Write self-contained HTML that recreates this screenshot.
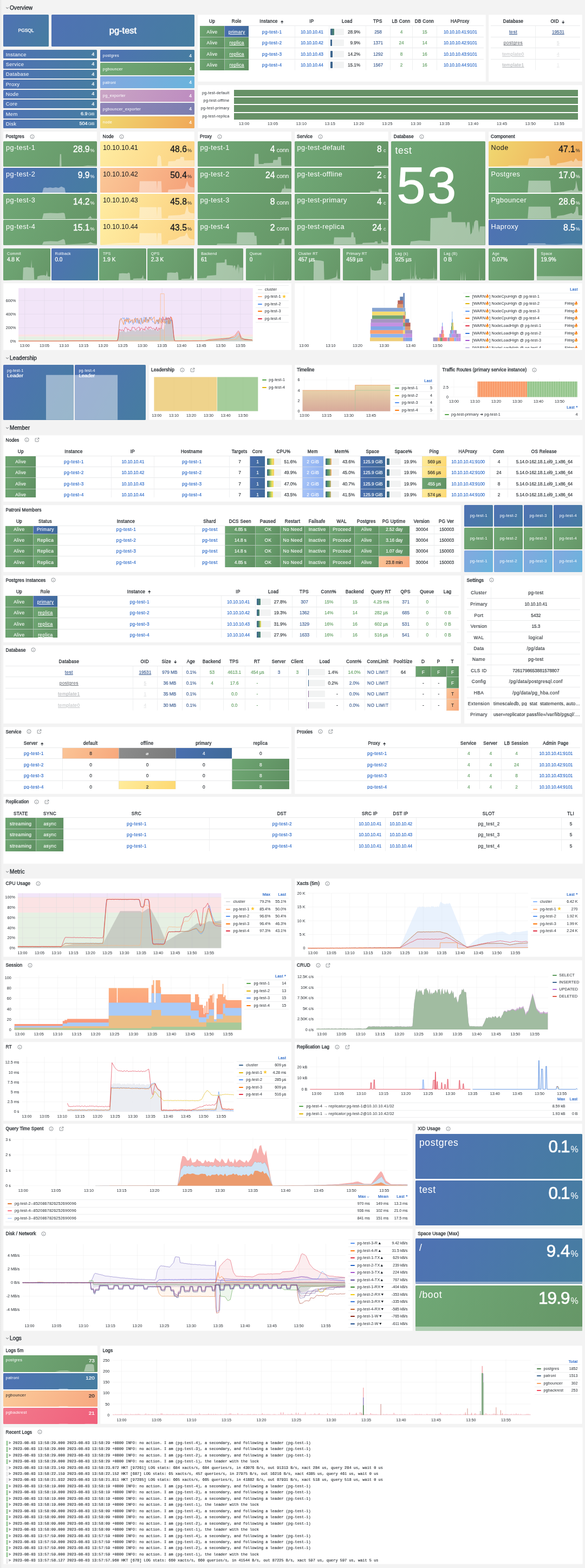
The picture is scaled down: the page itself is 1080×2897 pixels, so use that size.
<!DOCTYPE html>
<html lang="en"><head><meta charset="utf-8"><title>PGSQL Cluster - pg-test</title>
<style>
*{box-sizing:border-box}
html,body{margin:0;padding:0}
body{width:1080px;height:2897px;position:relative;overflow:hidden;background:linear-gradient(90deg,#e8e8e8 0,#f3f3f3 4px);font-family:"Liberation Sans","DejaVu Sans",sans-serif;font-size:8.2px;color:#24292e;line-height:1;letter-spacing:.3px}
.a{position:absolute}
.p{position:absolute;background:#fff;border:1px solid #fcfcfc;border-radius:1px}
.pt{position:absolute;left:3.5px;top:0;height:16.2px;line-height:16.2px;font-size:8.4px;letter-spacing:.15px;font-weight:normal;-webkit-text-stroke:.3px #24292e;color:#24292e;white-space:nowrap;}
.pt svg{vertical-align:-1.5px;margin-left:9.8px}
.rt{position:absolute;left:9.6px;font-size:10.1px;letter-spacing:0;font-weight:normal;-webkit-text-stroke:.3px #24292e;color:#24292e;white-space:nowrap;}
.rt svg{margin-right:1.4px;vertical-align:0}
.t{position:absolute;border-radius:1.5px;overflow:hidden;color:#fff;letter-spacing:0}
.t .n{position:absolute;white-space:nowrap;letter-spacing:.037em}
.t .v{position:absolute;white-space:nowrap;text-align:right;font-weight:normal;-webkit-text-stroke:.022em currentColor;letter-spacing:0}
.t svg{position:absolute;left:0;bottom:0}
.dk{color:#181b1f}
.bl{background:linear-gradient(120deg,#4f72b4,#467da0)}
.gr{background:linear-gradient(120deg,#70a876,#669667)}
.lb{background:linear-gradient(120deg,#84a8e0,#69b4dc)}
.pk{background:linear-gradient(120deg,#c9a4c4,#bd8cc0)}
.pu{background:linear-gradient(120deg,#9086b8,#7c7eb0)}
.ye{background:linear-gradient(120deg,#f0d870,#f0a858)}
.ly{background:linear-gradient(120deg,#ffeda2,#fbd080)}
.lo{background:linear-gradient(120deg,#fbc898,#f5a078)}
.rd{background:linear-gradient(120deg,#f27a8c,#f0607c)}
.po{background:linear-gradient(120deg,#fbcb9a,#f7a880)}
table{border-collapse:separate;border-spacing:0;table-layout:fixed;position:absolute}
th{border-bottom:1px solid #e9eaeb;font-weight:normal;-webkit-text-stroke:.28px #24292e;font-size:8.2px;height:18px;padding:1.6px 0 0;text-align:center;white-space:nowrap;overflow:hidden;color:#24292e;}
td{-webkit-text-stroke:.1px currentColor;letter-spacing:.4px;height:20.5px;padding:2px 0 0;text-align:center;white-space:nowrap;overflow:hidden;border-bottom:1px solid rgba(220,222,224,.65);border-left:1px solid rgba(225,227,229,.55);font-size:8.4px;}
td:first-child{border-left:none}
tr:last-child td{border-bottom-color:transparent}
td.g{background:linear-gradient(120deg,#6fa673,#5f9062);color:#fff}
td.b{background:linear-gradient(120deg,#4a6fb0,#3f6a98);color:#fff}
td.o{background:linear-gradient(120deg,#fbc496,#f7a87c);color:#181b1f}
td.y{background:linear-gradient(120deg,#ffec9c,#fdd870);color:#181b1f}
td.k{background:linear-gradient(120deg,#8c8c8c,#7a7a7a);color:#fff}
td.l{background:linear-gradient(120deg,#a8c4f8,#8cb0f0);color:#fff}
.lk{color:#1f60c4}
td.nm{letter-spacing:-.12px}
.lg.nv{letter-spacing:-.1px}
.ip{letter-spacing:-.22px}
.db{color:#33558b}
.gn{color:#5a9a5a}
.u{text-decoration:underline}
.ax{letter-spacing:0;font-size:7.2px;fill:#24292e;font-family:"Liberation Sans",sans-serif}
.lg{letter-spacing:.16px;position:absolute;font-size:7.2px;white-space:nowrap;color:#24292e}
.lg i{position:absolute;left:0;top:50%;width:8px;height:2px;margin-top:-1px;border-radius:1px}
.lgh{position:absolute;font-size:7.2px;color:#1f60c4;white-space:nowrap;text-align:right;font-weight:normal;-webkit-text-stroke:.2px #1f60c4}
.log{letter-spacing:0;position:absolute;left:12px;font-family:"Liberation Mono",monospace;font-size:6.94px;-webkit-text-stroke:.12px #24292e;white-space:pre;color:#24292e;height:11.4px;line-height:11.4px}
.log i{position:absolute;left:0;top:1px;bottom:1px;width:1.6px}
</style></head>
<body>
<div class="rt" style="top:9.6px"><svg width="7" height="7" viewBox="0 0 24 24" fill="none" stroke="#3a3f45" stroke-width="3"><path d="M4 9l8 7 8-7"/></svg>Overview</div>
<div class="t bl" style="left:6px;top:27px;width:84px;height:59px"><div class="a" style="left:0;right:0;top:25px;text-align:center;font-size:8.4px;-webkit-text-stroke:.25px #fff;">PGSQL</div></div>
<div class="t bl" style="left:95px;top:27px;width:264px;height:59px"><div class="a" style="left:0;right:0;top:20.5px;text-align:center;font-size:16.5px;-webkit-text-stroke:.5px #fff;">pg-test</div></div>
<div class="t bl" style="left:6px;top:92.3px;width:173.3px;height:16.2px">
<div class="n" style="left:4.7px;top:3.3px;font-size:9.4px">Instance</div>
<div class="v" style="right:5px;top:3.6px;font-size:9px">4</div>
</div>
<div class="t bl" style="left:6px;top:110.67px;width:173.3px;height:16.2px">
<div class="n" style="left:4.7px;top:3.3px;font-size:9.4px">Service</div>
<div class="v" style="right:5px;top:3.6px;font-size:9px">4</div>
</div>
<div class="t bl" style="left:6px;top:129.04px;width:173.3px;height:16.2px">
<div class="n" style="left:4.7px;top:3.3px;font-size:9.4px">Database</div>
<div class="v" style="right:5px;top:3.6px;font-size:9px">4</div>
</div>
<div class="t bl" style="left:6px;top:147.41px;width:173.3px;height:16.2px">
<div class="n" style="left:4.7px;top:3.3px;font-size:9.4px">Proxy</div>
<div class="v" style="right:5px;top:3.6px;font-size:9px">4</div>
</div>
<div class="t bl" style="left:6px;top:165.78px;width:173.3px;height:16.2px">
<div class="n" style="left:4.7px;top:3.3px;font-size:9.4px">Node</div>
<div class="v" style="right:5px;top:3.6px;font-size:9px">4</div>
</div>
<div class="t bl" style="left:6px;top:184.15px;width:173.3px;height:16.2px">
<div class="n" style="left:4.7px;top:3.3px;font-size:9.4px">Core</div>
<div class="v" style="right:5px;top:3.6px;font-size:9px">4</div>
</div>
<div class="t bl" style="left:6px;top:202.52px;width:173.3px;height:16.2px">
<div class="n" style="left:4.7px;top:3.3px;font-size:9.4px">Mem</div>
<div class="v" style="right:5px;top:3.6px;font-size:9px">6.9<span style="font-size:7px;-webkit-text-stroke:0;margin-left:1px">GiB</span></div>
</div>
<div class="t bl" style="left:6px;top:220.89px;width:173.3px;height:16.2px">
<div class="n" style="left:4.7px;top:3.3px;font-size:9.4px">Disk</div>
<div class="v" style="right:5px;top:3.6px;font-size:9px">504<span style="font-size:7px;-webkit-text-stroke:0;margin-left:1px">GiB</span></div>
</div>
<div class="t bl" style="left:185px;top:91.9px;width:174px;height:22.4px">
<div class="n" style="left:4.8px;top:7.6px;font-size:7.3px">postgres</div>
<div class="v" style="right:5px;top:7px;font-size:8.4px">4</div>
</div>
<div class="t gr" style="left:185px;top:116.45px;width:174px;height:22.4px">
<div class="n" style="left:4.8px;top:7.6px;font-size:7.3px">pgbouncer</div>
<div class="v" style="right:5px;top:7px;font-size:8.4px">4</div>
</div>
<div class="t lb" style="left:185px;top:141px;width:174px;height:22.4px">
<div class="n" style="left:4.8px;top:7.6px;font-size:7.3px">patroni</div>
<div class="v" style="right:5px;top:7px;font-size:8.4px">4</div>
</div>
<div class="t pk" style="left:185px;top:165.55px;width:174px;height:22.4px">
<div class="n" style="left:4.8px;top:7.6px;font-size:7.3px">pg_exporter</div>
<div class="v" style="right:5px;top:7px;font-size:8.4px">4</div>
</div>
<div class="t pu" style="left:185px;top:190.1px;width:174px;height:22.4px">
<div class="n" style="left:4.8px;top:7.6px;font-size:7.3px">pgbouncer_exporter</div>
<div class="v" style="right:5px;top:7px;font-size:8.4px">4</div>
</div>
<div class="t ye" style="left:185px;top:214.65px;width:174px;height:22.4px">
<div class="n" style="left:4.8px;top:7.6px;font-size:7.3px">node</div>
<div class="v" style="right:5px;top:7px;font-size:8.4px">4</div>
</div>
<div class="p" style="left:364.5px;top:27px;width:532.5px;height:124.3px">
<div class="a" style="left:0;top:0">
<table style="left:3.5px;top:3.75px;width:523.5px"><colgroup><col style="width:45px"><col style="width:45.4px"><col style="width:84.6px"><col style="width:62.7px"><col style="width:68.3px"><col style="width:45px"><col style="width:41px"><col style="width:45px"><col style="width:86.5px"></colgroup>
<tr><th style="height:16.5px">Up</th><th style="height:16.5px">Role</th><th style="height:16.5px"><span style="padding-right:11.4px">Instance<svg width="7.4" height="7.4" viewBox="0 0 24 24" style="position:absolute;margin-left:4px;margin-top:.7px" fill="none" stroke="#2c3137" stroke-width="3.6"><path d="M12 21V6M5 12.500l7-7.500 7 7.500"/></svg></span></th><th style="height:16.5px">IP</th><th style="height:16.5px">Load</th><th style="height:16.5px">TPS</th><th style="height:16.5px">LB Conn</th><th style="height:16.5px">DB Conn</th><th style="height:16.5px">HAProxy</th></tr>
<tr><td class="g" style="height:20.5px;">Alive</td><td class="b" style="height:20.5px;"><span class="u">primary</span></td><td style="height:20.5px"><span class="lk">pg-test-1</span></td><td class="nm" style="height:20.5px"><span class="lk ip">10.10.10.41</span></td><td class="nm" style="height:20.5px"><div style="position:relative;top:-.2px;height:12px;text-align:right;line-height:12px;padding-right:9.8px"><span style="position:absolute;left:2.6px;top:0;width:24.3px;height:12px;background:#f2f3f3;border-radius:1px"></span><span style="position:absolute;left:2.6px;top:0;width:7.02px;height:12px;background:linear-gradient(90deg,#3e668f,#4f8a6f);border-radius:1px"></span>28.9%</div></td><td class="nm" style="height:20.5px"><span class="db">258</span></td><td class="nm" style="height:20.5px"><span class="gn">4</span></td><td class="nm" style="height:20.5px"><span class="gn">15</span></td><td class="nm" style="height:20.5px"><span class="lk ip">10.10.10.41:9101</span></td></tr>
<tr><td class="g" style="height:20.5px;">Alive</td><td class="g" style="height:20.5px;"><span class="u">replica</span></td><td style="height:20.5px"><span class="lk">pg-test-2</span></td><td class="nm" style="height:20.5px"><span class="lk ip">10.10.10.42</span></td><td class="nm" style="height:20.5px"><div style="position:relative;top:-.2px;height:12px;text-align:right;line-height:12px;padding-right:9.8px"><span style="position:absolute;left:2.6px;top:0;width:24.3px;height:12px;background:#f2f3f3;border-radius:1px"></span><span style="position:absolute;left:2.6px;top:0;width:2.41px;height:12px;background:#3e668f;border-radius:1px"></span>9.9%</div></td><td class="nm" style="height:20.5px"><span class="db">1371</span></td><td class="nm" style="height:20.5px"><span class="gn">24</span></td><td class="nm" style="height:20.5px"><span class="gn">14</span></td><td class="nm" style="height:20.5px"><span class="lk ip">10.10.10.42:9101</span></td></tr>
<tr><td class="g" style="height:20.5px;">Alive</td><td class="g" style="height:20.5px;"><span class="u">replica</span></td><td style="height:20.5px"><span class="lk">pg-test-3</span></td><td class="nm" style="height:20.5px"><span class="lk ip">10.10.10.43</span></td><td class="nm" style="height:20.5px"><div style="position:relative;top:-.2px;height:12px;text-align:right;line-height:12px;padding-right:9.8px"><span style="position:absolute;left:2.6px;top:0;width:24.3px;height:12px;background:#f2f3f3;border-radius:1px"></span><span style="position:absolute;left:2.6px;top:0;width:3.45px;height:12px;background:#3e668f;border-radius:1px"></span>14.2%</div></td><td class="nm" style="height:20.5px"><span class="db">1292</span></td><td class="nm" style="height:20.5px"><span class="gn">8</span></td><td class="nm" style="height:20.5px"><span class="gn">16</span></td><td class="nm" style="height:20.5px"><span class="lk ip">10.10.10.43:9101</span></td></tr>
<tr><td class="g" style="height:20.5px;">Alive</td><td class="g" style="height:20.5px;"><span class="u">replica</span></td><td style="height:20.5px"><span class="lk">pg-test-4</span></td><td class="nm" style="height:20.5px"><span class="lk ip">10.10.10.44</span></td><td class="nm" style="height:20.5px"><div style="position:relative;top:-.2px;height:12px;text-align:right;line-height:12px;padding-right:9.8px"><span style="position:absolute;left:2.6px;top:0;width:24.3px;height:12px;background:#f2f3f3;border-radius:1px"></span><span style="position:absolute;left:2.6px;top:0;width:3.67px;height:12px;background:#3e668f;border-radius:1px"></span>15.1%</div></td><td class="nm" style="height:20.5px"><span class="db">1567</span></td><td class="nm" style="height:20.5px"><span class="gn">2</span></td><td class="nm" style="height:20.5px"><span class="gn">16</span></td><td class="nm" style="height:20.5px"><span class="lk ip">10.10.10.44:9101</span></td></tr>
</table>
</div>
</div>
<div class="p" style="left:901.5px;top:27px;width:173.5px;height:124.3px">
<table style="left:3.9px;top:3.75px;width:164.9px"><colgroup><col style="width:82.1px"><col style="width:82.8px"></colgroup>
<tr><th style="height:16.5px">Database</th><th style="height:16.5px"><span style="padding-right:11.4px">OID<svg width="7.4" height="7.4" viewBox="0 0 24 24" style="position:absolute;margin-left:4px;margin-top:.7px" fill="none" stroke="#2c3137" stroke-width="3.6"><path d="M12 3v15M5 11.500l7 7.500 7-7.500"/></svg></span></th></tr>
<tr><td style="height:20.5px"><span class="db u">test</span></td><td class="nm" style="height:20.5px"><span class="db u">19531</span></td></tr>
<tr><td style="height:20.5px"><span class="u" style="color:#6e7278">postgres</span></td><td class="nm" style="height:20.5px"><span class="u" style="color:#dfe0e1">5</span></td></tr>
<tr><td style="height:20.5px"><span class="u" style="color:#c4c6c8">template0</span></td><td class="nm" style="height:20.5px"><span class="u" style="color:#e4e5e6">4</span></td></tr>
<tr><td style="height:20.5px"><span class="u" style="color:#b0b3b6">template1</span></td><td class="nm" style="height:20.5px"><span class="u" style="color:#e8e9ea">1</span></td></tr>
</table>
</div>
<div class="p" style="left:364.5px;top:156.5px;width:710.5px;height:80.5px">
<div class="a" style="left:0;width:58px;top:8.3px;height:12.4px;line-height:12.4px;text-align:right;font-size:7.2px">pg-test-default</div>
<div class="a" style="left:66.5px;width:634.5px;top:8.3px;height:12.4px;background:#669166"></div>
<div class="a" style="left:0;width:58px;top:22.55px;height:12.4px;line-height:12.4px;text-align:right;font-size:7.2px">pg-test-offline</div>
<div class="a" style="left:66.5px;width:634.5px;top:22.55px;height:12.4px;background:#669166"></div>
<div class="a" style="left:0;width:58px;top:36.8px;height:12.4px;line-height:12.4px;text-align:right;font-size:7.2px">pg-test-primary</div>
<div class="a" style="left:66.5px;width:634.5px;top:36.8px;height:12.4px;background:#669166"></div>
<div class="a" style="left:0;width:58px;top:51.05px;height:12.4px;line-height:12.4px;text-align:right;font-size:7.2px">pg-test-replica</div>
<div class="a" style="left:66.5px;width:634.5px;top:51.05px;height:12.4px;background:#669166"></div>
<div class="a" style="left:65.25px;width:40px;top:67.5px;text-align:center;font-size:7.2px">13:00</div>
<div class="a" style="left:118.13px;width:40px;top:67.5px;text-align:center;font-size:7.2px">13:05</div>
<div class="a" style="left:171.01px;width:40px;top:67.5px;text-align:center;font-size:7.2px">13:10</div>
<div class="a" style="left:223.89px;width:40px;top:67.5px;text-align:center;font-size:7.2px">13:15</div>
<div class="a" style="left:276.77px;width:40px;top:67.5px;text-align:center;font-size:7.2px">13:20</div>
<div class="a" style="left:329.65px;width:40px;top:67.5px;text-align:center;font-size:7.2px">13:25</div>
<div class="a" style="left:382.53px;width:40px;top:67.5px;text-align:center;font-size:7.2px">13:30</div>
<div class="a" style="left:435.41px;width:40px;top:67.5px;text-align:center;font-size:7.2px">13:35</div>
<div class="a" style="left:488.29px;width:40px;top:67.5px;text-align:center;font-size:7.2px">13:40</div>
<div class="a" style="left:541.17px;width:40px;top:67.5px;text-align:center;font-size:7.2px">13:45</div>
<div class="a" style="left:594.05px;width:40px;top:67.5px;text-align:center;font-size:7.2px">13:50</div>
<div class="a" style="left:646.93px;width:40px;top:67.5px;text-align:center;font-size:7.2px">13:55</div>
</div>
<div class="p" style="left:6px;top:243px;width:173.1px;height:210px">
<div class="pt">Postgres<svg width="9" height="9" viewBox="0 0 24 24" fill="none" stroke="#5a5f66" stroke-width="1.8"><circle cx="12" cy="12" r="9.5"/><path d="M12 11v6M12 7v1.2"/></svg></div>
<div class="t gr" style="left:-1px;top:17.2px;width:173.1px;height:46.6px">
<svg width="173.1" height="46.6" viewBox="0 0 173.1 46.6"><path d="M0 46.6L0 46.6L103.86 46.6L104.73 23.77L106.98 23.77L107.67 46.6L147.13 46.13L155.79 44.74L173.1 45.2L173.1 46.6Z" fill="#fff" fill-opacity="0.42"/></svg>
<div class="n" style="left:5px;top:6.2px;font-size:12.7px">pg-test-1</div>
<div class="v" style="right:4.6px;top:6.9px;font-size:15.7px">28.9<span style="font-size:9px;-webkit-text-stroke:0;margin-left:1px">%</span></div>
</div>
<div class="t bl" style="left:-1px;top:65.6px;width:173.1px;height:46.6px">
<svg width="173.1" height="46.6" viewBox="0 0 173.1 46.6"><path d="M0 46.6L0 46.6L71.84 46.6L74.43 37.28L77.89 36.35L81.36 37.28L86.55 36.35L91.74 37.28L96.94 35.88L102.13 37.28L107.32 34.48L110.78 36.35L113.38 37.28L115.11 46.6L124.63 46.13L155.79 46.13L161.85 43.8L164.44 46.13L173.1 46.13L173.1 46.6Z" fill="#fff" fill-opacity="0.42"/></svg>
<div class="n" style="left:5px;top:6.2px;font-size:12.7px">pg-test-2</div>
<div class="v" style="right:4.6px;top:6.9px;font-size:15.7px">9.9<span style="font-size:9px;-webkit-text-stroke:0;margin-left:1px">%</span></div>
</div>
<div class="t gr" style="left:-1px;top:114px;width:173.1px;height:46.6px">
<svg width="173.1" height="46.6" viewBox="0 0 173.1 46.6"><path d="M0 46.6L0 46.6L71.84 46.6L74.43 36.35L86.55 35.42L100.4 35.88L110.78 34.95L113.38 36.35L115.11 46.6L124.63 46.13L155.79 45.67L160.98 41.01L163.58 45.2L173.1 45.67L173.1 46.6Z" fill="#fff" fill-opacity="0.42"/></svg>
<div class="n" style="left:5px;top:6.2px;font-size:12.7px">pg-test-3</div>
<div class="v" style="right:4.6px;top:6.9px;font-size:15.7px">14.2<span style="font-size:9px;-webkit-text-stroke:0;margin-left:1px">%</span></div>
</div>
<div class="t gr" style="left:-1px;top:162.4px;width:173.1px;height:46.6px">
<svg width="173.1" height="46.6" viewBox="0 0 173.1 46.6"><path d="M0 46.6L0 46.6L34.62 46.13L71.84 46.13L74.43 40.54L86.55 39.61L100.4 40.08L107.32 37.28L110.78 35.42L113.38 37.28L115.11 45.67L124.63 45.2L147.13 44.27L155.79 43.8L160.98 41.01L166.18 43.8L173.1 44.74L173.1 46.6Z" fill="#fff" fill-opacity="0.42"/></svg>
<div class="n" style="left:5px;top:6.2px;font-size:12.7px">pg-test-4</div>
<div class="v" style="right:4.6px;top:6.9px;font-size:15.7px">15.1<span style="font-size:9px;-webkit-text-stroke:0;margin-left:1px">%</span></div>
</div>
</div>
<div class="p" style="left:185px;top:243px;width:173.5px;height:210px">
<div class="pt">Node<svg width="9" height="9" viewBox="0 0 24 24" fill="none" stroke="#5a5f66" stroke-width="1.8"><circle cx="12" cy="12" r="9.5"/><path d="M12 11v6M12 7v1.2"/></svg></div>
<div class="t ly dk" style="left:-1px;top:17.2px;width:173.5px;height:46.6px">
<svg width="173.5" height="46.6" viewBox="0 0 173.5 46.6"><path d="M0 46.6L0 46.13L104.97 46.13L105.83 28.89L108.44 25.16L111.91 27.96L113.64 45.67L124.92 45.2L125.79 37.28L138.8 36.35L140.53 33.55L147.47 32.62L148.34 28.89L154.41 28.89L155.28 35.42L173.5 34.95L173.5 46.6Z" fill="#fff" fill-opacity="0.42"/></svg>
<div class="n" style="left:5px;top:6.2px;font-size:12.7px"><span style="letter-spacing:-.01em;font-size:12.5px">10.10.10.41</span></div>
<div class="v" style="right:4.6px;top:6.9px;font-size:15.7px">48.6<span style="font-size:9px;-webkit-text-stroke:0;margin-left:1px">%</span></div>
</div>
<div class="t lo dk" style="left:-1px;top:65.6px;width:173.5px;height:46.6px">
<svg width="173.5" height="46.6" viewBox="0 0 173.5 46.6"><path d="M0 46.6L0 46.6L38.17 45.2L72 44.74L72.87 24.7L104.1 24.7L104.97 41.94L105.83 24.7L112.78 24.7L113.64 45.2L124.92 45.2L125.79 40.54L147.47 39.14L156.15 38.21L160.49 24.23L163.09 32.62L166.56 35.42L173.5 36.35L173.5 46.6Z" fill="#fff" fill-opacity="0.42"/></svg>
<div class="n" style="left:5px;top:6.2px;font-size:12.7px"><span style="letter-spacing:-.01em;font-size:12.5px">10.10.10.42</span></div>
<div class="v" style="right:4.6px;top:6.9px;font-size:15.7px">50.4<span style="font-size:9px;-webkit-text-stroke:0;margin-left:1px">%</span></div>
</div>
<div class="t ly dk" style="left:-1px;top:114px;width:173.5px;height:46.6px">
<svg width="173.5" height="46.6" viewBox="0 0 173.5 46.6"><path d="M0 46.6L0 46.6L38.17 45.2L72 44.74L72.87 24.7L104.1 24.7L104.97 41.94L105.83 24.7L112.78 24.7L113.64 45.2L124.92 45.2L125.79 40.54L147.47 39.14L156.15 37.28L160.49 20.97L163.09 32.62L166.56 35.42L173.5 36.35L173.5 46.6Z" fill="#fff" fill-opacity="0.42"/></svg>
<div class="n" style="left:5px;top:6.2px;font-size:12.7px"><span style="letter-spacing:-.01em;font-size:12.5px">10.10.10.43</span></div>
<div class="v" style="right:4.6px;top:6.9px;font-size:15.7px">45.8<span style="font-size:9px;-webkit-text-stroke:0;margin-left:1px">%</span></div>
</div>
<div class="t ly dk" style="left:-1px;top:162.4px;width:173.5px;height:46.6px">
<svg width="173.5" height="46.6" viewBox="0 0 173.5 46.6"><path d="M0 46.6L0 46.6L38.17 42.87L72 42.41L72.87 24.7L104.1 24.7L104.97 41.94L105.83 24.7L112.78 24.7L113.64 45.2L124.92 44.27L125.79 38.21L138.8 36.35L147.47 31.22L156.15 29.82L159.62 23.3L163.09 32.62L166.56 35.42L173.5 36.35L173.5 46.6Z" fill="#fff" fill-opacity="0.42"/></svg>
<div class="n" style="left:5px;top:6.2px;font-size:12.7px"><span style="letter-spacing:-.01em;font-size:12.5px">10.10.10.44</span></div>
<div class="v" style="right:4.6px;top:6.9px;font-size:15.7px">43.5<span style="font-size:9px;-webkit-text-stroke:0;margin-left:1px">%</span></div>
</div>
</div>
<div class="p" style="left:364.5px;top:243px;width:173.5px;height:210px">
<div class="pt">Proxy<svg width="9" height="9" viewBox="0 0 24 24" fill="none" stroke="#5a5f66" stroke-width="1.8"><circle cx="12" cy="12" r="9.5"/><path d="M12 11v6M12 7v1.2"/></svg></div>
<div class="t gr" style="left:-1px;top:17.2px;width:173.5px;height:46.6px">
<svg width="173.5" height="46.6" viewBox="0 0 173.5 46.6"><path d="M0 46.6L0 46.6L104.1 46.6L104.97 23.3L111.91 23.3L112.78 41.94L121.45 41.94L122.32 40.54L138.8 40.08L139.67 34.48L147.47 34.48L148.34 28.89L153.55 28.89L154.41 44.74L173.5 44.74L173.5 46.6Z" fill="#fff" fill-opacity="0.42"/></svg>
<div class="n" style="left:5px;top:6.2px;font-size:12.7px">pg-test-1</div>
<div class="v" style="right:4.6px;top:6.9px;font-size:15.7px">4<span style="font-size:10.5px;-webkit-text-stroke:0;margin-left:3.2px">conn</span></div>
</div>
<div class="t gr" style="left:-1px;top:65.6px;width:173.5px;height:46.6px">
<svg width="173.5" height="46.6" viewBox="0 0 173.5 46.6"><path d="M0 46.6L0 46.6L152.68 46.6L154.41 44.27L156.15 38.68L159.62 38.21L160.49 29.82L162.22 38.21L173.5 38.68L173.5 46.6Z" fill="#fff" fill-opacity="0.42"/></svg>
<div class="n" style="left:5px;top:6.2px;font-size:12.7px">pg-test-2</div>
<div class="v" style="right:4.6px;top:6.9px;font-size:15.7px">24<span style="font-size:10.5px;-webkit-text-stroke:0;margin-left:3.2px">conn</span></div>
</div>
<div class="t gr" style="left:-1px;top:114px;width:173.5px;height:46.6px">
<svg width="173.5" height="46.6" viewBox="0 0 173.5 46.6"><path d="M0 46.6L0 46.6L152.68 46.6L154.41 44.27L173.5 43.8L173.5 46.6Z" fill="#fff" fill-opacity="0.42"/></svg>
<div class="n" style="left:5px;top:6.2px;font-size:12.7px">pg-test-3</div>
<div class="v" style="right:4.6px;top:6.9px;font-size:15.7px">8<span style="font-size:10.5px;-webkit-text-stroke:0;margin-left:3.2px">conn</span></div>
</div>
<div class="t gr" style="left:-1px;top:162.4px;width:173.5px;height:46.6px">
<svg width="173.5" height="46.6" viewBox="0 0 173.5 46.6"><path d="M0 46.6L0 46.6L34.7 46.6L36.43 44.27L72 44.27L72.87 23.3L104.1 23.3L104.97 29.82L108.44 29.82L109.31 46.6L149.21 46.6L150.08 43.8L154.41 43.8L155.28 35.42L159.62 35.42L160.49 46.6L173.5 46.6L173.5 46.6Z" fill="#fff" fill-opacity="0.42"/></svg>
<div class="n" style="left:5px;top:6.2px;font-size:12.7px">pg-test-4</div>
<div class="v" style="right:4.6px;top:6.9px;font-size:15.7px">2<span style="font-size:10.5px;-webkit-text-stroke:0;margin-left:3.2px">conn</span></div>
</div>
</div>
<div class="p" style="left:543.5px;top:243px;width:173.5px;height:210px">
<div class="pt">Service<svg width="9" height="9" viewBox="0 0 24 24" fill="none" stroke="#5a5f66" stroke-width="1.8"><circle cx="12" cy="12" r="9.5"/><path d="M12 11v6M12 7v1.2"/></svg></div>
<div class="t gr" style="left:-1px;top:17.2px;width:173.5px;height:46.6px">
<svg width="173.5" height="46.6" viewBox="0 0 173.5 46.6"><path d="M0 46.6L0 46.6L145.74 46.6L147.47 45.2L173.5 44.74L173.5 46.6Z" fill="#fff" fill-opacity="0.42"/></svg>
<div class="n" style="left:5px;top:6.2px;font-size:12.7px">pg-test-default</div>
<div class="v" style="right:4.6px;top:6.9px;font-size:15.7px">8<span style="font-size:9px;-webkit-text-stroke:0;margin-left:3.2px">c</span></div>
</div>
<div class="t gr" style="left:-1px;top:65.6px;width:173.5px;height:46.6px">
<svg width="173.5" height="46.6" viewBox="0 0 173.5 46.6"><path d="M0 46.6L0 46.6L138.8 46.6L139.67 42.87L152.68 43.34L154.41 45.2L155.28 39.14L160.49 39.14L161.36 45.2L173.5 45.2L173.5 46.6Z" fill="#fff" fill-opacity="0.42"/></svg>
<div class="n" style="left:5px;top:6.2px;font-size:12.7px">pg-test-offline</div>
<div class="v" style="right:4.6px;top:6.9px;font-size:15.7px">2<span style="font-size:9px;-webkit-text-stroke:0;margin-left:3.2px">c</span></div>
</div>
<div class="t gr" style="left:-1px;top:114px;width:173.5px;height:46.6px">
<svg width="173.5" height="46.6" viewBox="0 0 173.5 46.6"><path d="M0 46.6L0 46.6L34.7 46.13L173.5 45.67L173.5 46.6Z" fill="#fff" fill-opacity="0.42"/></svg>
<div class="n" style="left:5px;top:6.2px;font-size:12.7px">pg-test-primary</div>
<div class="v" style="right:4.6px;top:6.9px;font-size:15.7px">4<span style="font-size:9px;-webkit-text-stroke:0;margin-left:3.2px">c</span></div>
</div>
<div class="t gr" style="left:-1px;top:162.4px;width:173.5px;height:46.6px">
<svg width="173.5" height="46.6" viewBox="0 0 173.5 46.6"><path d="M0 46.6L0 46.6L34.7 45.67L72 45.2L72.87 32.62L104.1 32.62L104.97 23.3L108.44 23.3L109.31 32.62L111.91 32.62L112.78 45.2L124.92 44.74L125.79 42.87L147.47 41.94L148.34 40.08L152.68 40.08L153.55 44.27L159.62 43.8L160.49 36.35L163.09 41.01L173.5 41.47L173.5 46.6Z" fill="#fff" fill-opacity="0.42"/></svg>
<div class="n" style="left:5px;top:6.2px;font-size:12.7px">pg-test-replica</div>
<div class="v" style="right:4.6px;top:6.9px;font-size:15.7px">24<span style="font-size:9px;-webkit-text-stroke:0;margin-left:3.2px">c</span></div>
</div>
</div>
<div class="p" style="left:722.2px;top:243px;width:173.8px;height:210px">
<div class="pt">Database<svg width="9" height="9" viewBox="0 0 24 24" fill="none" stroke="#5a5f66" stroke-width="1.8"><circle cx="12" cy="12" r="9.5"/><path d="M12 11v6M12 7v1.2"/></svg></div>
<div class="t gr" style="left:-1px;top:17.2px;width:173.8px;height:191.8px">
<svg width="173.5" height="191.8" viewBox="0 0 173.5 191.8"><path d="M0 191.8L0 191.8L34.7 191.8L36.43 185.09L52.05 183.17L72 184.13L72.87 141.93L104.1 140.97L104.97 130.42L111.04 130.42L111.91 149.6L137.06 149.6L138.8 161.11L140.53 149.6L144.87 149.6L146.61 172.62L149.21 168.78L150.94 153.44L151.81 164.95L153.55 149.6L156.15 145.77L160.49 146.73L162.22 168.78L163.96 157.28L173.5 157.28L173.5 191.8Z" fill="#fff" fill-opacity=".42"/></svg>
<div class="n" style="left:7.2px;top:9.2px;font-size:17.8px">test</div>
<div class="n" style="left:10.3px;top:34px;font-size:95.3px;letter-spacing:3.8px;-webkit-text-stroke:1.2px #fff">53</div>
</div>
</div>
<div class="p" style="left:901.5px;top:243px;width:173.9px;height:210px">
<div class="pt">Component</div>
<div class="t ye dk" style="left:-1px;top:17.2px;width:173.9px;height:46.6px">
<svg width="173.9" height="46.6" viewBox="0 0 173.9 46.6"><path d="M0 46.6L0 46.6L34.78 46.13L38.26 44.74L72.17 44.27L74.78 31.69L104.34 31.22L106.95 27.03L111.3 27.03L113.9 44.27L125.21 44.27L126.95 41.01L139.12 39.14L147.81 37.28L153.03 35.42L156.51 38.21L160.86 31.22L165.2 36.35L173.9 36.35L173.9 46.6Z" fill="#fff" fill-opacity="0.42"/></svg>
<div class="n" style="left:5px;top:6.2px;font-size:12.7px">Node</div>
<div class="v" style="right:4.6px;top:6.9px;font-size:15.7px">47.1<span style="font-size:9px;-webkit-text-stroke:0;margin-left:1px">%</span></div>
</div>
<div class="t gr" style="left:-1px;top:65.6px;width:173.9px;height:46.6px">
<svg width="173.9" height="46.6" viewBox="0 0 173.9 46.6"><path d="M0 46.6L0 46.6L34.78 46.13L72.17 45.67L73.91 23.77L113.9 23.77L115.64 45.67L125.21 45.2L139.12 43.8L153.03 41.01L156.51 41.94L159.99 37.28L161.73 23.3L164.34 37.28L166.07 42.87L173.9 42.87L173.9 46.6Z" fill="#fff" fill-opacity="0.42"/></svg>
<div class="n" style="left:5px;top:6.2px;font-size:12.7px">Postgres</div>
<div class="v" style="right:4.6px;top:6.9px;font-size:15.7px">17.0<span style="font-size:9px;-webkit-text-stroke:0;margin-left:1px">%</span></div>
</div>
<div class="t gr" style="left:-1px;top:114px;width:173.9px;height:46.6px">
<svg width="173.9" height="46.6" viewBox="0 0 173.9 46.6"><path d="M0 46.6L0 46.6L34.78 46.13L72.17 45.67L73.91 23.77L113.9 23.77L115.64 45.2L125.21 44.74L126.95 41.01L139.12 39.61L153.03 35.42L156.51 37.28L159.99 32.62L161.73 23.3L165.2 24.23L166.07 39.61L173.9 40.08L173.9 46.6Z" fill="#fff" fill-opacity="0.42"/></svg>
<div class="n" style="left:5px;top:6.2px;font-size:12.7px">Pgbouncer</div>
<div class="v" style="right:4.6px;top:6.9px;font-size:15.7px">28.6<span style="font-size:9px;-webkit-text-stroke:0;margin-left:1px">%</span></div>
</div>
<div class="t bl" style="left:-1px;top:162.4px;width:173.9px;height:46.6px">
<svg width="173.9" height="46.6" viewBox="0 0 173.9 46.6"><path d="M0 46.6L0 46.6L71.3 46.6L73.04 43.8L104.34 43.8L106.08 45.2L125.21 45.67L139.12 44.74L156.51 44.27L173.9 44.74L173.9 46.6Z" fill="#fff" fill-opacity="0.42"/></svg>
<div class="n" style="left:5px;top:6.2px;font-size:12.7px">Haproxy</div>
<div class="v" style="right:4.6px;top:6.9px;font-size:15.7px">8.5<span style="font-size:9px;-webkit-text-stroke:0;margin-left:1px">%</span></div>
</div>
</div>
<div class="t gr" style="left:6px;top:458.6px;width:86.8px;height:59.3px">
<svg width="86.8" height="59.3" viewBox="0 0 86.8 59.3"><path d="M0 59.3L0 59.3L17.36 58.11L36.02 58.11L36.89 35.58L43.4 34.39L51.21 35.58L52.08 20.16L52.95 35.58L56.42 35.58L57.29 57.52L62.5 56.93L63.36 51.59L69.44 49.81L76.38 49.22L78.12 51L79.86 47.44L80.72 40.32L82.03 51.59L86.8 52.18L86.8 59.3Z" fill="#fff" fill-opacity="0.42"/></svg>
<div class="n" style="left:7px;top:7.3px;font-size:7.1px">Commit</div>
<div class="v" style="left:7px;top:16.2px;font-size:10px">4.8 K</div>
</div>
<div class="t bl" style="left:94.5px;top:458.6px;width:86.6px;height:59.3px">
<div class="n" style="left:7px;top:7.3px;font-size:7.1px">Rollback</div>
<div class="v" style="left:7px;top:16.2px;font-size:10px">0.0</div>
</div>
<div class="t gr" style="left:183px;top:458.6px;width:86.6px;height:59.3px">
<svg width="86.6" height="59.3" viewBox="0 0 86.6 59.3"><path d="M0 59.3L0 59.3L17.32 58.71L35.94 58.71L36.8 46.25L43.3 45.66L51.96 46.25L54.56 44.47L56.72 46.25L57.59 58.11L62.35 58.11L63.22 55.74L77.94 55.15L79.67 53.37L80.97 48.63L82.27 55.74L86.6 56.33L86.6 59.3Z" fill="#fff" fill-opacity="0.42"/></svg>
<div class="n" style="left:7px;top:7.3px;font-size:7.1px">TPS</div>
<div class="v" style="left:7px;top:16.2px;font-size:10px">1.9 K</div>
</div>
<div class="t gr" style="left:271.8px;top:458.6px;width:86.7px;height:59.3px">
<svg width="86.7" height="59.3" viewBox="0 0 86.7 59.3"><path d="M0 59.3L0 59.3L17.34 58.71L35.98 58.71L36.85 45.07L43.35 44.47L52.02 45.07L54.62 43.29L56.79 45.07L57.66 58.11L62.42 58.11L63.29 56.33L78.03 55.74L79.76 53.37L81.06 48.63L82.36 55.74L86.7 56.33L86.7 59.3Z" fill="#fff" fill-opacity="0.42"/></svg>
<div class="n" style="left:7px;top:7.3px;font-size:7.1px">QPS</div>
<div class="v" style="left:7px;top:16.2px;font-size:10px">2.3 K</div>
</div>
<div class="t gr" style="left:364.2px;top:458.6px;width:84.6px;height:59.3px">
<svg width="84.6" height="59.3" viewBox="0 0 84.6 59.3"><path d="M0 59.3L0 55.15L16.92 54.56L18.61 50.41L35.11 49.22L35.53 26.68L50.76 26.09L51.18 20.16L54.14 20.16L54.57 30.84L65.99 31.43L66.83 36.77L67.68 31.43L70.22 32.02L71.06 41.51L72.76 32.61L73.6 38.55L74.87 29.65L76.14 29.65L76.99 47.44L77.83 30.84L78.68 35.58L84.6 35.58L84.6 59.3Z" fill="#fff" fill-opacity="0.42"/></svg>
<div class="n" style="left:7px;top:7.3px;font-size:7.1px">Backend</div>
<div class="v" style="left:7px;top:16.2px;font-size:10px">61</div>
</div>
<div class="t gr" style="left:453.8px;top:458.6px;width:84.4px;height:59.3px">
<svg width="84.4" height="59.3" viewBox="0 0 84.4 59.3"><path d="M0 59.3L0 59.3L35.03 59.3L35.45 44.47L35.87 59.3L50.64 59.3L51.06 20.16L51.48 59.3L77.65 59.3L78.07 54.56L78.49 59.3L84.4 59.3L84.4 59.3Z" fill="#fff" fill-opacity="0.42"/></svg>
<div class="n" style="left:7px;top:7.3px;font-size:7.1px">Queue</div>
<div class="v" style="left:7px;top:16.2px;font-size:10px">0</div>
</div>
<div class="t gr" style="left:543.7px;top:458.6px;width:84px;height:59.3px">
<svg width="84" height="59.3" viewBox="0 0 84 59.3"><path d="M0 59.3L0 59.3L16.8 58.71L34.86 58.71L35.28 21.35L42 21.94L48.72 22.53L53.76 23.72L54.6 57.52L60.48 57.52L67.2 56.33L75.6 53.37L77.28 50.41L78.12 37.95L79.38 55.74L84 56.33L84 59.3Z" fill="#fff" fill-opacity="0.42"/></svg>
<div class="n" style="left:7px;top:7.3px;font-size:7.1px">Cluster RT</div>
<div class="v" style="left:7px;top:16.2px;font-size:10px">457 µs</div>
</div>
<div class="t gr" style="left:632.6px;top:458.6px;width:84.4px;height:59.3px">
<svg width="84.4" height="59.3" viewBox="0 0 84.4 59.3"><path d="M0 59.3L0 59.3L50.64 59.3L51.06 32.61L53.17 39.73L59.08 40.92L67.52 40.32L70.9 39.14L72.16 20.16L73.43 28.46L75.96 27.28L80.18 28.46L84.4 27.87L84.4 59.3Z" fill="#fff" fill-opacity="0.42"/></svg>
<div class="n" style="left:7px;top:7.3px;font-size:7.1px">Primary RT</div>
<div class="v" style="left:7px;top:16.2px;font-size:10px">459 µs</div>
</div>
<div class="t gr" style="left:722.6px;top:458.6px;width:84px;height:59.3px">
<svg width="84" height="59.3" viewBox="0 0 84 59.3"><path d="M0 59.3L0 59.3L16.8 58.71L18.48 56.93L34.44 56.33L34.86 28.46L35.7 56.33L38.64 55.74L39.48 49.81L40.32 56.33L42.42 55.74L43.26 20.16L44.1 54.56L45.36 47.44L46.2 55.74L50.4 56.93L52.08 53.37L53.76 56.93L58.8 55.74L67.2 56.33L75.6 55.74L77.28 54.56L77.95 32.02L78.62 55.74L84 56.33L84 59.3Z" fill="#fff" fill-opacity="0.42"/></svg>
<div class="n" style="left:7px;top:7.3px;font-size:7.1px">Lag (s)</div>
<div class="v" style="left:7px;top:16.2px;font-size:10px">925 µs</div>
</div>
<div class="t gr" style="left:812.2px;top:458.6px;width:83.8px;height:59.3px">
<svg width="83.8" height="59.3" viewBox="0 0 83.8 59.3"><path d="M0 59.3L0 59.3L38.13 59.3L38.97 42.7L39.8 59.3L41.9 59.3L42.32 40.32L43.16 59.3L46.09 59.3L46.93 42.7L47.77 59.3L72.49 59.3L72.91 20.16L73.74 59.3L77.1 59.3L77.52 54.56L78.35 59.3L83.8 59.3L83.8 59.3Z" fill="#fff" fill-opacity="0.42"/></svg>
<div class="n" style="left:7px;top:7.3px;font-size:7.1px">Lag (B)</div>
<div class="v" style="left:7px;top:16.2px;font-size:10px">0 B</div>
</div>
<div class="t gr" style="left:901.8px;top:458.6px;width:84px;height:59.3px">
<div class="n" style="left:7px;top:7.3px;font-size:7.1px">Age</div>
<div class="v" style="left:7px;top:16.2px;font-size:10px">0.07%</div>
</div>
<div class="t gr" style="left:991.4px;top:458.6px;width:83.8px;height:59.3px">
<svg width="83.8" height="59.3" viewBox="0 0 83.8 59.3"><path d="M0 59.3L0 51.29L83.8 51.29L83.8 59.3Z" fill="#fff" fill-opacity="0.42"/></svg>
<div class="n" style="left:7px;top:7.3px;font-size:7.1px">Space</div>
<div class="v" style="left:7px;top:16.2px;font-size:10px">19.9%</div>
</div>
<div class="p" style="left:6px;top:522.9px;width:532.2px;height:124.4px">
<svg class="a" style="left:-1px;top:-1px" width="532.2" height="124.4" viewBox="6 522.9 532.2 124.4" >
<rect x="34.1" y="532.3" width="432.7" height="85.65" fill="#f2e5f8" />
<rect x="34.1" y="617.95" width="432.7" height="3.76" fill="#fbe3e4" />
<rect x="34.1" y="621.72" width="432.7" height="8.78" fill="#e6f0e3" />
<path d="M34.1 605.4L466.8 605.4" stroke="#dcd4e4" stroke-width="0.5" fill="none" />
<text x="29.1" y="608" text-anchor="end" class="ax" >200%</text>
<path d="M34.1 580.3L466.8 580.3" stroke="#dcd4e4" stroke-width="0.5" fill="none" />
<text x="29.1" y="582.9" text-anchor="end" class="ax" >400%</text>
<path d="M34.1 555.2L466.8 555.2" stroke="#dcd4e4" stroke-width="0.5" fill="none" />
<text x="29.1" y="557.8" text-anchor="end" class="ax" >600%</text>
<text x="29.1" y="633.1" text-anchor="end" class="ax" >0%</text>
<path d="M45.75 532.3L45.75 630.5" stroke="#dcd4e4" stroke-width="0.5" fill="none" />
<text x="45.75" y="641.3" text-anchor="middle" class="ax" >13:00</text>
<path d="M81.95 532.3L81.95 630.5" stroke="#dcd4e4" stroke-width="0.5" fill="none" />
<text x="81.95" y="641.3" text-anchor="middle" class="ax" >13:05</text>
<path d="M118.15 532.3L118.15 630.5" stroke="#dcd4e4" stroke-width="0.5" fill="none" />
<text x="118.15" y="641.3" text-anchor="middle" class="ax" >13:10</text>
<path d="M154.35 532.3L154.35 630.5" stroke="#dcd4e4" stroke-width="0.5" fill="none" />
<text x="154.35" y="641.3" text-anchor="middle" class="ax" >13:15</text>
<path d="M190.55 532.3L190.55 630.5" stroke="#dcd4e4" stroke-width="0.5" fill="none" />
<text x="190.55" y="641.3" text-anchor="middle" class="ax" >13:20</text>
<path d="M226.75 532.3L226.75 630.5" stroke="#dcd4e4" stroke-width="0.5" fill="none" />
<text x="226.75" y="641.3" text-anchor="middle" class="ax" >13:25</text>
<path d="M262.95 532.3L262.95 630.5" stroke="#dcd4e4" stroke-width="0.5" fill="none" />
<text x="262.95" y="641.3" text-anchor="middle" class="ax" >13:30</text>
<path d="M299.15 532.3L299.15 630.5" stroke="#dcd4e4" stroke-width="0.5" fill="none" />
<text x="299.15" y="641.3" text-anchor="middle" class="ax" >13:35</text>
<path d="M335.35 532.3L335.35 630.5" stroke="#dcd4e4" stroke-width="0.5" fill="none" />
<text x="335.35" y="641.3" text-anchor="middle" class="ax" >13:40</text>
<path d="M371.55 532.3L371.55 630.5" stroke="#dcd4e4" stroke-width="0.5" fill="none" />
<text x="371.55" y="641.3" text-anchor="middle" class="ax" >13:45</text>
<path d="M407.75 532.3L407.75 630.5" stroke="#dcd4e4" stroke-width="0.5" fill="none" />
<text x="407.75" y="641.3" text-anchor="middle" class="ax" >13:50</text>
<path d="M443.95 532.3L443.95 630.5" stroke="#dcd4e4" stroke-width="0.5" fill="none" />
<text x="443.95" y="641.3" text-anchor="middle" class="ax" >13:55</text>
<path d="M34.2 630.1L36 630.1L37.8 630.1L39.6 630.1L41.4 630.1L43.2 630.1L45 630.1L46.8 630.1L48.6 630.1L50.5 630.1L52.3 630.1L54.1 630.1L55.9 630.1L57.7 630.1L59.5 630.1L61.3 630.1L63.1 630.1L64.9 630.1L66.7 630.1L68.6 630.1L70.4 630.1L72.2 630.1L74 630.1L75.8 630.1L77.6 630.1L79.4 630.1L81.2 630.1L83 630.1L84.8 630.1L86.7 630.1L88.5 630.1L90.3 630.1L92.1 630.1L93.9 630.1L95.7 630.1L97.5 630.1L99.3 630.1L101.1 630.1L102.9 630.1L104.8 630.1L106.6 630.1L108.4 630.1L110.2 630.1L112 630.1L113.8 630.1L115.6 630.1L117.4 630.1L119.2 630.1L121 630L122.9 629.9L124.7 629.7L126.5 629.6L128.3 629.5L130.1 629.5L131.9 629.5L133.7 629.5L135.5 629.5L137.3 629.5L139.1 629.5L141 629.5L142.8 629.5L144.6 629.5L146.4 629.5L148.2 629.5L150 629.5L151.8 629.5L153.6 629.5L155.4 629.5L157.2 629.5L159.1 629.5L160.9 629.5L162.7 629.5L164.5 629.5L166.3 629.5L168.1 629.5L169.9 629.5L171.7 629.5L173.5 629.5L175.3 629.5L177.2 629.5L179 629.5L180.8 629.5L182.6 629.5L184.4 629.5L186.2 629.5L188 629.5L189.8 629.5L191.6 629.5L193.4 629.5L195.3 629.5L197.1 629.5L198.9 629.5L200.7 629.5L202.5 629.5L204.3 629.5L206.1 629.5L207.9 629.5L209.7 629.5L211.5 629.5L213.4 629.5L215.2 629.5L217 629.5L218.8 622.4L220.6 613.5L222.4 613.1L224.2 611.3L226 612.2L227.8 610.9L229.6 610.7L231.5 613.7L233.3 613.9L235.1 609.3L236.9 612.5L238.7 612.5L240.5 608.3L242.3 611.1L244.1 609L245.9 611L247.7 610L249.6 612.6L251.4 609.9L253.2 608.6L255 610.4L256.8 609.1L258.6 609.5L260.4 612.8L262.2 608.9L264 609.7L265.8 611.3L267.7 612.7L269.5 608L271.3 610.1L273.1 608.7L274.9 607.8L276.7 608.6L278.5 607.4L280.3 610.3L282.1 608L283.9 609.9L285.8 607.1L287.6 607.3L289.4 611.6L291.2 611.3L293 610.8L294.8 606.6L296.6 608.4L298.4 605.5L300.2 607.9L302 609.1L303.9 603L305.7 596.4L307.5 592.4L309.3 592.4L311.1 590.6L312.9 591.8L314.7 590.5L316.5 590.9L318.3 593.8L320.1 614.7L322 629.4L323.8 629.7L325.6 629.7L327.4 629.7L329.2 629.7L331 629.7L332.8 629.7L334.6 629.7L336.4 629.7L338.2 629.7L340.1 629.7L341.9 629.7L343.7 629.7L345.5 629.6L347.3 629.6L349.1 629.6L350.9 629.6L352.7 629.6L354.5 629.6L356.3 629.6L358.2 629.6L360 629.6L361.8 629.6L363.6 629.6L365.4 629.6L367.2 629.5L369 629.5L370.8 629.5L372.6 629.5L374.4 629.5L376.3 629.5L378.1 629.5L379.9 629.4L381.7 629.3L383.5 629.1L385.3 629L387.1 628.9L388.9 628.7L390.7 628.6L392.5 628.5L394.4 628.3L396.2 628.2L398 628.1L399.8 627.9L401.6 627.8L403.4 627.7L405.2 627.5L407 627.4L408.8 627.3L410.6 627.1L412.5 627L414.3 626.9L416.1 626.7L417.9 626.6L419.7 626.5L421.5 626.3L423.3 626.2L425.1 626.1L426.9 625.9L428.7 625.8L430.6 625.7L432.4 625.5L434.2 624.2L436 622L437.8 619.8L439.6 617.6L441.4 618.6L443.2 621.7L445 624.9L446.8 625.7L448.7 626L450.5 626.2L452.3 626.5L454.1 626.8L455.9 627L457.7 627.3L459.5 627.6L461.3 627.9L463.1 628.1L464.9 628.4L466.8 628.6L466.76 630.5L34.17 630.5Z" fill="#b4b4b4" fill-opacity="0.55" stroke="none"/>
<path d="M34.2 630.1L35.6 630.1L37.1 630.1L38.5 630.1L40 630.1L41.4 630.1L42.9 630.1L44.3 630.1L45.8 630.1L47.2 630.1L48.6 630.1L50.1 630.1L51.5 630.1L53 630.1L54.4 630.1L55.9 630.1L57.3 630.1L58.8 630.1L60.2 630.1L61.7 630.1L63.1 630.1L64.6 630.1L66 630.1L67.5 630.1L68.9 630.1L70.4 630.1L71.8 630.1L73.3 630.1L74.7 630.1L76.2 630.1L77.6 630.1L79.1 630.1L80.5 630.1L82 630.1L83.4 630.1L84.8 630.1L86.3 630.1L87.7 630.1L89.2 630.1L90.6 630.1L92.1 630.1L93.5 630.1L95 630.1L96.4 630.1L97.9 630.1L99.3 630.1L100.8 630.1L102.2 630.1L103.7 630.1L105.1 630.1L106.6 630.1L108 630.1L109.5 630.1L110.9 630.1L112.4 630.1L113.8 630.1L115.3 630.1L116.7 630.1L118.2 630.1L119.6 630L121 630L122.5 629.9L123.9 629.8L125.4 629.7L126.8 629.6L128.3 629.5L129.7 629.5L131.2 629.5L132.6 629.5L134.1 629.5L135.5 629.5L137 629.5L138.4 629.5L139.9 629.5L141.3 629.5L142.8 629.5L144.2 629.5L145.7 629.5L147.1 629.5L148.6 629.5L150 629.5L151.5 629.5L152.9 629.5L154.4 629.5L155.8 629.5L157.2 629.5L158.7 629.5L160.1 629.5L161.6 629.5L163 629.5L164.5 629.5L165.9 629.5L167.4 629.5L168.8 629.5L170.3 629.5L171.7 629.5L173.2 629.5L174.6 629.5L176.1 629.5L177.5 629.5L179 629.5L180.4 629.5L181.9 629.5L183.3 629.5L184.8 629.5L186.2 629.5L187.7 629.5L189.1 629.5L190.6 629.5L192 629.5L193.4 629.5L194.9 629.5L196.3 629.5L197.8 629.5L199.2 629.5L200.7 629.5L202.1 629.5L203.6 629.5L205 629.5L206.5 629.5L207.9 629.5L209.4 629.5L210.8 629.5L212.3 629.5L213.7 629.5L215.2 629.5L216.6 629.5L218.1 622.2L219.5 607.5L221 592.9L222.4 591.1L223.9 589.5L225.3 588.7L226.8 586.7L228.2 589.4L229.6 586.9L231.1 599.2L232.5 593.2L234 586.6L235.4 590.6L236.9 587.1L238.3 598L239.8 593L241.2 596.1L242.7 592L244.1 591.5L245.6 599.3L247 596.4L248.5 595.5L249.9 586.7L251.4 588.8L252.8 597.1L254.3 588.3L255.7 597.4L257.2 590.8L258.6 597.5L260.1 599.2L261.5 587.2L263 596.3L264.4 596.2L265.8 585.6L267.3 587.1L268.7 595.1L270.2 585.8L271.6 591.7L273.1 589.7L274.5 596.2L276 586.1L277.4 589.5L278.9 585.7L280.3 586.6L281.8 594.8L283.2 594L284.7 596.6L286.1 596.9L287.6 598L289 594.7L290.5 590.5L291.9 598.8L293.4 589.5L294.8 594.1L296.3 594.5L297.7 587.5L299.1 592.1L300.6 594.4L302 592.1L303.5 589L304.9 597.9L306.4 585.2L307.8 598.3L309.3 588.3L310.7 586.9L312.2 598.3L313.6 587.7L315.1 593.5L316.5 590.5L318 598.4L319.4 606.8L320.9 621.9L322.3 629.6L323.8 629.7L325.2 629.7L326.7 629.7L328.1 629.7L329.6 629.7L331 629.7L332.5 629.7L333.9 629.7L335.4 629.7L336.8 629.7L338.2 629.7L339.7 629.7L341.1 629.7L342.6 629.7L344 629.7L345.5 629.6L346.9 629.6L348.4 629.6L349.8 629.6L351.3 629.6L352.7 629.6L354.2 629.6L355.6 629.6L357.1 629.6L358.5 629.6L360 629.6L361.4 629.6L362.9 629.6L364.3 629.6L365.8 629.6L367.2 629.5L368.7 629.5L370.1 629.5L371.6 629.5L373 629.5L374.4 629.5L375.9 629.5L377.3 629.5L378.8 629.5L380.2 629.4L381.7 629.3L383.1 629.3L384.6 629.2L386 629.1L387.5 629L388.9 629L390.4 628.9L391.8 628.8L393.3 628.7L394.7 628.7L396.2 628.6L397.6 628.5L399.1 628.4L400.5 628.4L402 628.3L403.4 628.2L404.9 628.1L406.3 628.1L407.8 628L409.2 627.8L410.6 627.6L412.1 627.3L413.5 627.1L415 626.9L416.4 626.7L417.9 626.5L419.3 626.3L420.8 626.1L422.2 625.8L423.7 625.6L425.1 625.4L426.6 625.2L428 625L429.5 624.8L430.9 624.5L432.4 624.3L433.8 623.3L435.3 621.6L436.7 619.8L438.2 618.1L439.6 616.3L441.1 616.9L442.5 619.7L443.9 622.6L445.4 625.5L446.8 625.7L448.3 625.9L449.7 626.1L451.2 626.3L452.6 626.6L454.1 626.8L455.5 627L457 627.2L458.4 627.4L459.9 627.6L461.3 627.9L462.8 628.1L464.2 628.3L465.7 628.5" fill="none" stroke="#5794f2" stroke-width="0.6" stroke-linejoin="round" />
<path d="M34.2 630.1L35.6 630.1L37.1 630.1L38.5 630.1L40 630.1L41.4 630.1L42.9 630.1L44.3 630.1L45.8 630.1L47.2 630.1L48.6 630.1L50.1 630.1L51.5 630.1L53 630.1L54.4 630.1L55.9 630.1L57.3 630.1L58.8 630.1L60.2 630.1L61.7 630.1L63.1 630.1L64.6 630.1L66 630.1L67.5 630.1L68.9 630.1L70.4 630.1L71.8 630.1L73.3 630.1L74.7 630.1L76.2 630.1L77.6 630.1L79.1 630.1L80.5 630.1L82 630.1L83.4 630.1L84.8 630.1L86.3 630.1L87.7 630.1L89.2 630.1L90.6 630.1L92.1 630.1L93.5 630.1L95 630.1L96.4 630.1L97.9 630.1L99.3 630.1L100.8 630.1L102.2 630.1L103.7 630.1L105.1 630.1L106.6 630.1L108 630.1L109.5 630.1L110.9 630.1L112.4 630.1L113.8 630.1L115.3 630.1L116.7 630.1L118.2 630.1L119.6 630L121 630L122.5 629.9L123.9 629.8L125.4 629.7L126.8 629.6L128.3 629.5L129.7 629.5L131.2 629.5L132.6 629.5L134.1 629.5L135.5 629.5L137 629.5L138.4 629.5L139.9 629.5L141.3 629.5L142.8 629.5L144.2 629.5L145.7 629.5L147.1 629.5L148.6 629.5L150 629.5L151.5 629.5L152.9 629.5L154.4 629.5L155.8 629.5L157.2 629.5L158.7 629.5L160.1 629.5L161.6 629.5L163 629.5L164.5 629.5L165.9 629.5L167.4 629.5L168.8 629.5L170.3 629.5L171.7 629.5L173.2 629.5L174.6 629.5L176.1 629.5L177.5 629.5L179 629.5L180.4 629.5L181.9 629.5L183.3 629.5L184.8 629.5L186.2 629.5L187.7 629.5L189.1 629.5L190.6 629.5L192 629.5L193.4 629.5L194.9 629.5L196.3 629.5L197.8 629.5L199.2 629.5L200.7 629.5L202.1 629.5L203.6 629.5L205 629.5L206.5 629.5L207.9 629.5L209.4 629.5L210.8 629.5L212.3 629.5L213.7 629.5L215.2 629.5L216.6 629.5L218.1 622.2L219.5 607.5L221 592.9L222.4 588.8L223.9 588.4L225.3 593L226.8 596.1L228.2 599.7L229.6 590.5L231.1 593.1L232.5 589.1L234 594.4L235.4 588.9L236.9 595.8L238.3 588.5L239.8 589.4L241.2 593.8L242.7 592L244.1 590L245.6 596.8L247 591.8L248.5 588.3L249.9 595.7L251.4 588.3L252.8 589.9L254.3 587.7L255.7 594.7L257.2 598L258.6 588.2L260.1 588.1L261.5 593.1L263 597.9L264.4 596.5L265.8 590.4L267.3 595.1L268.7 586L270.2 591L271.6 596.3L273.1 590L274.5 594.1L276 586.2L277.4 586.5L278.9 591.9L280.3 590.1L281.8 589.3L283.2 587.8L284.7 585.4L286.1 598.5L287.6 593.9L289 590.6L290.5 594.7L291.9 590.7L293.4 597.6L294.8 586.6L296.3 591.5L297.7 597.1L299.1 589.6L300.6 594.4L302 596L303.5 592L304.9 596.8L306.4 595.7L307.8 586.7L309.3 589L310.7 598.4L312.2 587.8L313.6 598.3L315.1 593.9L316.5 586L318 589.9L319.4 606.8L320.9 621.9L322.3 629.6L323.8 629.7L325.2 629.7L326.7 629.7L328.1 629.7L329.6 629.7L331 629.7L332.5 629.7L333.9 629.7L335.4 629.7L336.8 629.7L338.2 629.6L339.7 629.6L341.1 629.6L342.6 629.6L344 629.6L345.5 629.6L346.9 629.6L348.4 629.6L349.8 629.6L351.3 629.6L352.7 629.5L354.2 629.5L355.6 629.5L357.1 629.5L358.5 629.5L360 629.5L361.4 629.5L362.9 629.5L364.3 629.5L365.8 629.5L367.2 629.4L368.7 629.4L370.1 629.4L371.6 629.4L373 629.4L374.4 629.4L375.9 629.4L377.3 629.4L378.8 629.4L380.2 629.2L381.7 629.1L383.1 629L384.6 628.8L386 628.7L387.5 628.6L388.9 628.4L390.4 628.3L391.8 628.2L393.3 628.1L394.7 627.9L396.2 627.8L397.6 627.7L399.1 627.5L400.5 627.4L402 627.3L403.4 627.1L404.9 627L406.3 626.9L407.8 626.7L409.2 626.5L410.6 626.3L412.1 626.1L413.5 625.9L415 625.7L416.4 625.4L417.9 625.2L419.3 625L420.8 624.8L422.2 624.6L423.7 624.4L425.1 624.2L426.6 623.9L428 623.7L429.5 623.5L430.9 623.3L432.4 623.1L433.8 622L435.3 620L436.7 618L438.2 615.9L439.6 613.9L441.1 614.7L442.5 618.3L443.9 621.9L445.4 625.5L446.8 625.7L448.3 625.9L449.7 626.1L451.2 626.2L452.6 626.4L454.1 626.6L455.5 626.8L457 627L458.4 627.2L459.9 627.4L461.3 627.6L462.8 627.8L464.2 628L465.7 628.1" fill="none" stroke="#ff780a" stroke-width="0.6" stroke-linejoin="round" />
<path d="M34.2 630.1L35.6 630.1L37.1 630.1L38.5 630.1L40 630.1L41.4 630.1L42.9 630.1L44.3 630.1L45.8 630.1L47.2 630.1L48.6 630.1L50.1 630.1L51.5 630.1L53 630.1L54.4 630.1L55.9 630.1L57.3 630.1L58.8 630.1L60.2 630.1L61.7 630.1L63.1 630.1L64.6 630.1L66 630.1L67.5 630.1L68.9 630.1L70.4 630.1L71.8 630.1L73.3 630.1L74.7 630.1L76.2 630.1L77.6 630.1L79.1 630.1L80.5 630.1L82 630.1L83.4 630.1L84.8 630.1L86.3 630.1L87.7 630.1L89.2 630.1L90.6 630.1L92.1 630.1L93.5 630.1L95 630.1L96.4 630.1L97.9 630.1L99.3 630.1L100.8 630.1L102.2 630.1L103.7 630.1L105.1 630.1L106.6 630.1L108 630.1L109.5 630.1L110.9 630.1L112.4 630.1L113.8 630.1L115.3 630.1L116.7 630.1L118.2 630.1L119.6 630L121 630L122.5 629.9L123.9 629.8L125.4 629.7L126.8 629.6L128.3 629.5L129.7 629.5L131.2 629.5L132.6 629.5L134.1 629.5L135.5 629.5L137 629.5L138.4 629.5L139.9 629.5L141.3 629.5L142.8 629.5L144.2 629.5L145.7 629.5L147.1 629.5L148.6 629.5L150 629.5L151.5 629.5L152.9 629.5L154.4 629.5L155.8 629.5L157.2 629.5L158.7 629.5L160.1 629.5L161.6 629.5L163 629.5L164.5 629.5L165.9 629.5L167.4 629.5L168.8 629.5L170.3 629.5L171.7 629.5L173.2 629.5L174.6 629.5L176.1 629.5L177.5 629.5L179 629.5L180.4 629.5L181.9 629.5L183.3 629.5L184.8 629.5L186.2 629.5L187.7 629.5L189.1 629.5L190.6 629.5L192 629.5L193.4 629.5L194.9 629.5L196.3 629.5L197.8 629.5L199.2 629.5L200.7 629.5L202.1 629.5L203.6 629.5L205 629.5L206.5 629.5L207.9 629.5L209.4 629.5L210.8 629.5L212.3 629.5L213.7 629.5L215.2 629.5L216.6 629.5L218.1 625.2L219.5 616.5L221 607.9L222.4 610L223.9 611.1L225.3 608.7L226.8 610.6L228.2 611.3L229.6 608.6L231.1 604.4L232.5 605.3L234 605.6L235.4 609.9L236.9 607.4L238.3 609.4L239.8 610.2L241.2 610.7L242.7 609.8L244.1 604.1L245.6 604.9L247 605L248.5 605L249.9 609.9L251.4 608.9L252.8 606.4L254.3 605.5L255.7 604.5L257.2 604.3L258.6 610.6L260.1 606.4L261.5 605.9L263 607.2L264.4 609.8L265.8 607.4L267.3 610.5L268.7 603.6L270.2 604.2L271.6 606.7L273.1 608.7L274.5 603.7L276 606.4L277.4 603.9L278.9 604.2L280.3 606.9L281.8 607.6L283.2 606.1L284.7 607.4L286.1 609.6L287.6 608.4L289 604.3L290.5 610.4L291.9 610.4L293.4 605.7L294.8 608.5L296.3 606.4L297.7 606.9L299.1 599.1L300.6 585.1L302 591.4L303.5 589.6L304.9 591.2L306.4 587.6L307.8 590.4L309.3 589.6L310.7 586.4L312.2 589.7L313.6 587.7L315.1 584.8L316.5 591.1L318 591.4L319.4 604.4L320.9 621L322.3 629.4L323.8 629.5L325.2 629.5L326.7 629.5L328.1 629.5L329.6 629.5L331 629.5L332.5 629.5L333.9 629.4L335.4 629.4L336.8 629.4L338.2 629.4L339.7 629.4L341.1 629.4L342.6 629.4L344 629.4L345.5 629.4L346.9 629.4L348.4 629.4L349.8 629.4L351.3 629.4L352.7 629.4L354.2 629.4L355.6 629.3L357.1 629.3L358.5 629.3L360 629.3L361.4 629.3L362.9 629.3L364.3 629.3L365.8 629.3L367.2 629.3L368.7 629.3L370.1 629.3L371.6 629.3L373 629.3L374.4 629.3L375.9 629.3L377.3 629.3L378.8 629.2L380.2 628.9L381.7 628.5L383.1 628.1L384.6 627.7L386 627.4L387.5 627.2L388.9 627.1L390.4 627L391.8 626.9L393.3 626.7L394.7 626.6L396.2 626.5L397.6 626.4L399.1 626.2L400.5 626.1L402 626L403.4 625.9L404.9 625.7L406.3 625.6L407.8 625.5L409.2 625.4L410.6 625.4L412.1 625.3L413.5 625.2L415 625.2L416.4 625.1L417.9 625L419.3 625L420.8 624.9L422.2 624.9L423.7 624.3L425.1 623.7L426.6 623.1L428 622.5L429.5 621.9L430.9 621.3L432.4 620.8L433.8 619.5L435.3 617.4L436.7 615.4L438.2 613.4L439.6 611.4L441.1 612.2L442.5 615.8L443.9 619.4L445.4 623L446.8 624.1L448.3 625.2L449.7 626.3L451.2 627.4L452.6 627.4L454.1 627.4L455.5 627.5L457 627.5L458.4 627.5L459.9 627.6L461.3 627.6L462.8 627.6L464.2 627.7L465.7 627.7" fill="none" stroke="#e02f44" stroke-width="0.6" stroke-linejoin="round" />
<path d="M34.2 630.1L295.9 630L296.3 542.6L303.1 542.6L303.5 629.9L378.8 629.7L407.8 628.6L436.7 626.7L441.1 620.5L446.1 628L466.4 629.2" fill="none" stroke="#ffb37d" stroke-width="0.7" stroke-linejoin="round" />
</svg>
<div class="a" style="left:465px;top:3.53px;width:61px;height:0;border-top:1px solid #eeeff0"></div>
<div class="lg" style="left:465px;top:5.8px;height:10px;line-height:10px;padding-left:16.8px;font-size:7.2px"><i style="background:#d8d9da;left:4px"></i>cluster</div>
<div class="a" style="left:465px;top:17.08px;width:61px;height:0;border-top:1px solid #eeeff0"></div>
<div class="lg" style="left:465px;top:19.35px;height:10px;line-height:10px;padding-left:16.8px;font-size:7.2px"><i style="background:#ffb37d;left:4px"></i>pg-test-1 <svg width="7" height="7" viewBox="0 0 14 14" style="vertical-align:-.5px"><path d="M7 .5l2 4.300 4.600.6-3.400 3.200.9 4.700L7 11l-4.100 2.300.9-4.700L.4 5.400 5 4.800z" fill="#fcc934"/></svg></div>
<div class="a" style="left:465px;top:30.63px;width:61px;height:0;border-top:1px solid #eeeff0"></div>
<div class="lg" style="left:465px;top:32.9px;height:10px;line-height:10px;padding-left:16.8px;font-size:7.2px"><i style="background:#5794f2;left:4px"></i>pg-test-2</div>
<div class="a" style="left:465px;top:44.18px;width:61px;height:0;border-top:1px solid #eeeff0"></div>
<div class="lg" style="left:465px;top:46.45px;height:10px;line-height:10px;padding-left:16.8px;font-size:7.2px"><i style="background:#ff780a;left:4px"></i>pg-test-3</div>
<div class="a" style="left:465px;top:57.73px;width:61px;height:0;border-top:1px solid #eeeff0"></div>
<div class="lg" style="left:465px;top:60px;height:10px;line-height:10px;padding-left:16.8px;font-size:7.2px"><i style="background:#e02f44;left:4px"></i>pg-test-4</div>
<div class="a" style="left:465px;top:71.28px;width:61px;height:0;border-top:1px solid #eeeff0"></div>
</div>
<div class="p" style="left:543.7px;top:522.9px;width:531.5px;height:124.4px">
<svg class="a" style="left:-1px;top:-1px" width="531.5" height="124.4" viewBox="543.7 522.9 531.5 124.4" >
<path d="M561 528L561 630.3" stroke="#eceded" stroke-width="0.5" fill="none" />
<text x="561" y="641.3" text-anchor="middle" class="ax" >13:00</text>
<path d="M610.3 528L610.3 630.3" stroke="#eceded" stroke-width="0.5" fill="none" />
<text x="610.3" y="641.3" text-anchor="middle" class="ax" >13:10</text>
<path d="M659.6 528L659.6 630.3" stroke="#eceded" stroke-width="0.5" fill="none" />
<text x="659.6" y="641.3" text-anchor="middle" class="ax" >13:20</text>
<path d="M708.9 528L708.9 630.3" stroke="#eceded" stroke-width="0.5" fill="none" />
<text x="708.9" y="641.3" text-anchor="middle" class="ax" >13:30</text>
<path d="M758.2 528L758.2 630.3" stroke="#eceded" stroke-width="0.5" fill="none" />
<text x="758.2" y="641.3" text-anchor="middle" class="ax" >13:40</text>
<path d="M807.5 528L807.5 630.3" stroke="#eceded" stroke-width="0.5" fill="none" />
<text x="807.5" y="641.3" text-anchor="middle" class="ax" >13:50</text>
<rect x="682.7" y="623.45" width="61.3" height="6.85" fill="#eecd78" />
<rect x="683.5" y="616.6" width="60.5" height="6.85" fill="#8cb4f0" />
<rect x="683" y="609.75" width="61" height="6.85" fill="#fba06e" />
<rect x="684" y="602.9" width="60" height="6.85" fill="#82a5e6" />
<rect x="684" y="596.05" width="60" height="6.85" fill="#c391e1" />
<rect x="684.5" y="589.2" width="59.5" height="6.85" fill="#a596c3" />
<rect x="686.7" y="582.35" width="57.3" height="6.85" fill="#73a573" />
<rect x="686.7" y="575.5" width="57.3" height="6.85" fill="#f5dc6e" />
<rect x="686.7" y="568.65" width="57.3" height="6.85" fill="#87a5d2" />
<rect x="733" y="561.8" width="11" height="6.85" fill="#dc966e" />
<rect x="734" y="554.95" width="10" height="6.85" fill="#b9645a" />
<rect x="738" y="548.1" width="6" height="6.85" fill="#6482af" />
<rect x="744" y="541.25" width="2.8" height="27.4" fill="#6e8cc0" />
<rect x="744" y="623.45" width="3.4" height="6.85" fill="#a596c3" />
<rect x="744" y="616.6" width="3.4" height="6.85" fill="#c391e1" />
<rect x="744" y="609.75" width="3.4" height="6.85" fill="#f5dc6e" />
<rect x="744" y="602.9" width="3.4" height="6.85" fill="#8cb4f0" />
<rect x="744" y="596.05" width="3.4" height="6.85" fill="#73a573" />
<rect x="744" y="589.2" width="3.4" height="6.85" fill="#fba06e" />
<rect x="744" y="582.35" width="3.4" height="6.85" fill="#b9645a" />
<rect x="744" y="575.5" width="3.4" height="6.85" fill="#eecd78" />
<rect x="744" y="568.65" width="3.4" height="6.85" fill="#87a5d2" />
<rect x="747.4" y="623.45" width="13.3" height="6.85" fill="#82a5e6" />
<rect x="747.4" y="616.6" width="13.3" height="6.85" fill="#c391e1" />
<rect x="747.4" y="609.75" width="13.3" height="6.85" fill="#a596c3" />
<rect x="747.4" y="602.9" width="9.9" height="6.85" fill="#dc966e" />
<rect x="747.4" y="596.05" width="9.9" height="6.85" fill="#b9645a" />
<rect x="747.4" y="589.2" width="7.6" height="6.85" fill="#6e8cc0" />
<rect x="747.4" y="582.35" width="1.6" height="6.85" fill="#eecd78" />
<rect x="747.4" y="575.5" width="1.1" height="6.85" fill="#73a573" />
<rect x="747.4" y="568.65" width="0.6" height="6.85" fill="#87a5d2" />
<rect x="799.3" y="623.45" width="4.48" height="6.85" fill="#a596c3" />
<rect x="803.58" y="623.45" width="4.48" height="6.85" fill="#a596c3" />
<rect x="807.87" y="623.45" width="4.48" height="6.85" fill="#fba06e" />
<rect x="812.15" y="623.45" width="4.48" height="6.85" fill="#73a573" />
<rect x="816.43" y="623.45" width="4.48" height="6.85" fill="#f27a8c" />
<rect x="820.72" y="623.45" width="4.48" height="6.85" fill="#f27a8c" />
<rect x="810.7" y="616.6" width="3.07" height="6.85" fill="#c391e1" />
<rect x="813.57" y="616.6" width="3.07" height="6.85" fill="#f27a8c" />
<rect x="816.43" y="616.6" width="3.07" height="6.85" fill="#fba06e" />
<rect x="814" y="609.75" width="2.35" height="6.85" fill="#a596c3" />
<rect x="816.15" y="609.75" width="2.35" height="6.85" fill="#f27a8c" />
<rect x="815" y="602.9" width="2.5" height="6.85" fill="#c391e1" />
<rect x="815.8" y="596.05" width="1.2" height="6.85" fill="#8cb4f0" />
<rect x="826" y="623.45" width="4.2" height="6.85" fill="#a596c3" />
<rect x="830" y="623.45" width="4.2" height="6.85" fill="#fba06e" />
<rect x="834" y="623.45" width="4.2" height="6.85" fill="#fba06e" />
<rect x="838" y="623.45" width="4.2" height="6.85" fill="#8cb4f0" />
<rect x="842" y="623.45" width="4.2" height="6.85" fill="#c391e1" />
<rect x="846" y="623.45" width="4.2" height="6.85" fill="#c391e1" />
<rect x="829.3" y="616.6" width="4.34" height="6.85" fill="#8cb4f0" />
<rect x="833.44" y="616.6" width="4.34" height="6.85" fill="#c391e1" />
<rect x="837.58" y="616.6" width="4.34" height="6.85" fill="#c391e1" />
<rect x="841.72" y="616.6" width="4.34" height="6.85" fill="#a596c3" />
<rect x="845.86" y="616.6" width="4.34" height="6.85" fill="#c391e1" />
<rect x="830.7" y="609.75" width="3.2" height="6.85" fill="#a596c3" />
<rect x="833.7" y="609.75" width="3.2" height="6.85" fill="#8cb4f0" />
<rect x="836.7" y="609.75" width="3.2" height="6.85" fill="#c391e1" />
<rect x="839.7" y="609.75" width="3.2" height="6.85" fill="#a596c3" />
<rect x="832.7" y="602.9" width="2.5" height="6.85" fill="#73a573" />
<rect x="835" y="602.9" width="2.5" height="6.85" fill="#f5dc6e" />
<rect x="833.3" y="596.05" width="1.9" height="6.85" fill="#73a573" />
<rect x="835" y="596.05" width="1.9" height="6.85" fill="#eecd78" />
<rect x="833.8" y="589.2" width="1.7" height="6.85" fill="#8cb4f0" />
<rect x="834" y="582.35" width="1" height="6.85" fill="#a8c4f0" />
<rect x="834" y="575.5" width="1" height="6.85" fill="#a8c4f0" />
</svg>
<div class="a" style="left:0;top:0;width:529.5px;height:119.1px;overflow:hidden">
<div class="lgh" style="left:462.3px;width:60px;top:6.15px;height:10px;line-height:10px">Last</div>
<div class="a" style="left:310.3px;top:16.62px;width:216px;height:0;border-top:1px solid #eeeff0"></div>
<div class="lg" style="left:310.3px;top:18.9px;height:10px;line-height:10px;padding-left:16.8px;font-size:7.2px"><i style="background:#56a64b;left:4px"></i>[WARN<svg width="7" height="8" viewBox="0 0 14 16" style="vertical-align:-1px"><path d="M7 0c1 3 5 5 5 10a5 5 0 0 1-10 0c0-2 1-3.500 2-4.500 0 1.500.5 2.500 1.500 3C5 5.500 6 3 7 0z" fill="#f4731c"/><path d="M7 8c1 1.500 2.500 2.500 2.500 4.500a2.500 2.500 0 0 1-5 0C4.500 11 6 10 7 8z" fill="#fcd34d"/></svg>] NodeCpuHigh @ pg-test-1</div>
<div class="lg nv" style="left:462.3px;width:60px;text-align:right;top:18.9px;height:10px;line-height:10px;font-size:7.2px"></div>
<div class="a" style="left:310.3px;top:30.17px;width:216px;height:0;border-top:1px solid #eeeff0"></div>
<div class="lg" style="left:310.3px;top:32.45px;height:10px;line-height:10px;padding-left:16.8px;font-size:7.2px"><i style="background:#e0b400;left:4px"></i>[WARN<svg width="7" height="8" viewBox="0 0 14 16" style="vertical-align:-1px"><path d="M7 0c1 3 5 5 5 10a5 5 0 0 1-10 0c0-2 1-3.500 2-4.500 0 1.500.5 2.500 1.500 3C5 5.500 6 3 7 0z" fill="#f4731c"/><path d="M7 8c1 1.500 2.500 2.500 2.500 4.500a2.500 2.500 0 0 1-5 0C4.500 11 6 10 7 8z" fill="#fcd34d"/></svg>] NodeCpuHigh @ pg-test-2</div>
<div class="lg nv" style="left:462.3px;width:60px;text-align:right;top:32.45px;height:10px;line-height:10px;font-size:7.2px">Firing<svg width="7" height="8" viewBox="0 0 14 16" style="vertical-align:-1px"><path d="M7 0c1 3 5 5 5 10a5 5 0 0 1-10 0c0-2 1-3.500 2-4.500 0 1.500.5 2.500 1.500 3C5 5.500 6 3 7 0z" fill="#f4731c"/><path d="M7 8c1 1.500 2.500 2.500 2.500 4.500a2.500 2.500 0 0 1-5 0C4.500 11 6 10 7 8z" fill="#fcd34d"/></svg></div>
<div class="a" style="left:310.3px;top:43.72px;width:216px;height:0;border-top:1px solid #eeeff0"></div>
<div class="lg" style="left:310.3px;top:46px;height:10px;line-height:10px;padding-left:16.8px;font-size:7.2px"><i style="background:#5794f2;left:4px"></i>[WARN<svg width="7" height="8" viewBox="0 0 14 16" style="vertical-align:-1px"><path d="M7 0c1 3 5 5 5 10a5 5 0 0 1-10 0c0-2 1-3.500 2-4.500 0 1.500.5 2.500 1.500 3C5 5.500 6 3 7 0z" fill="#f4731c"/><path d="M7 8c1 1.500 2.500 2.500 2.500 4.500a2.500 2.500 0 0 1-5 0C4.500 11 6 10 7 8z" fill="#fcd34d"/></svg>] NodeCpuHigh @ pg-test-3</div>
<div class="lg nv" style="left:462.3px;width:60px;text-align:right;top:46px;height:10px;line-height:10px;font-size:7.2px">Firing<svg width="7" height="8" viewBox="0 0 14 16" style="vertical-align:-1px"><path d="M7 0c1 3 5 5 5 10a5 5 0 0 1-10 0c0-2 1-3.500 2-4.500 0 1.500.5 2.500 1.500 3C5 5.500 6 3 7 0z" fill="#f4731c"/><path d="M7 8c1 1.500 2.500 2.500 2.500 4.500a2.500 2.500 0 0 1-5 0C4.500 11 6 10 7 8z" fill="#fcd34d"/></svg></div>
<div class="a" style="left:310.3px;top:57.27px;width:216px;height:0;border-top:1px solid #eeeff0"></div>
<div class="lg" style="left:310.3px;top:59.55px;height:10px;line-height:10px;padding-left:16.8px;font-size:7.2px"><i style="background:#ff780a;left:4px"></i>[WARN<svg width="7" height="8" viewBox="0 0 14 16" style="vertical-align:-1px"><path d="M7 0c1 3 5 5 5 10a5 5 0 0 1-10 0c0-2 1-3.500 2-4.500 0 1.500.5 2.500 1.500 3C5 5.500 6 3 7 0z" fill="#f4731c"/><path d="M7 8c1 1.500 2.500 2.500 2.500 4.500a2.500 2.500 0 0 1-5 0C4.500 11 6 10 7 8z" fill="#fcd34d"/></svg>] NodeCpuHigh @ pg-test-4</div>
<div class="lg nv" style="left:462.3px;width:60px;text-align:right;top:59.55px;height:10px;line-height:10px;font-size:7.2px">Firing<svg width="7" height="8" viewBox="0 0 14 16" style="vertical-align:-1px"><path d="M7 0c1 3 5 5 5 10a5 5 0 0 1-10 0c0-2 1-3.500 2-4.500 0 1.500.5 2.500 1.500 3C5 5.500 6 3 7 0z" fill="#f4731c"/><path d="M7 8c1 1.500 2.500 2.500 2.500 4.500a2.500 2.500 0 0 1-5 0C4.500 11 6 10 7 8z" fill="#fcd34d"/></svg></div>
<div class="a" style="left:310.3px;top:70.82px;width:216px;height:0;border-top:1px solid #eeeff0"></div>
<div class="lg" style="left:310.3px;top:73.1px;height:10px;line-height:10px;padding-left:16.8px;font-size:7.2px"><i style="background:#e02f44;left:4px"></i>[WARN<svg width="7" height="8" viewBox="0 0 14 16" style="vertical-align:-1px"><path d="M7 0c1 3 5 5 5 10a5 5 0 0 1-10 0c0-2 1-3.500 2-4.500 0 1.500.5 2.500 1.500 3C5 5.500 6 3 7 0z" fill="#f4731c"/><path d="M7 8c1 1.500 2.500 2.500 2.500 4.500a2.500 2.500 0 0 1-5 0C4.500 11 6 10 7 8z" fill="#fcd34d"/></svg>] NodeLoadHigh @ pg-test-1</div>
<div class="lg nv" style="left:462.3px;width:60px;text-align:right;top:73.1px;height:10px;line-height:10px;font-size:7.2px">Firing<svg width="7" height="8" viewBox="0 0 14 16" style="vertical-align:-1px"><path d="M7 0c1 3 5 5 5 10a5 5 0 0 1-10 0c0-2 1-3.500 2-4.500 0 1.500.5 2.500 1.500 3C5 5.500 6 3 7 0z" fill="#f4731c"/><path d="M7 8c1 1.500 2.500 2.500 2.500 4.500a2.500 2.500 0 0 1-5 0C4.500 11 6 10 7 8z" fill="#fcd34d"/></svg></div>
<div class="a" style="left:310.3px;top:84.37px;width:216px;height:0;border-top:1px solid #eeeff0"></div>
<div class="lg" style="left:310.3px;top:86.65px;height:10px;line-height:10px;padding-left:16.8px;font-size:7.2px"><i style="background:#3274d9;left:4px"></i>[WARN<svg width="7" height="8" viewBox="0 0 14 16" style="vertical-align:-1px"><path d="M7 0c1 3 5 5 5 10a5 5 0 0 1-10 0c0-2 1-3.500 2-4.500 0 1.500.5 2.500 1.500 3C5 5.500 6 3 7 0z" fill="#f4731c"/><path d="M7 8c1 1.500 2.500 2.500 2.500 4.500a2.500 2.500 0 0 1-5 0C4.500 11 6 10 7 8z" fill="#fcd34d"/></svg>] NodeLoadHigh @ pg-test-2</div>
<div class="lg nv" style="left:462.3px;width:60px;text-align:right;top:86.65px;height:10px;line-height:10px;font-size:7.2px">Firing<svg width="7" height="8" viewBox="0 0 14 16" style="vertical-align:-1px"><path d="M7 0c1 3 5 5 5 10a5 5 0 0 1-10 0c0-2 1-3.500 2-4.500 0 1.500.5 2.500 1.500 3C5 5.500 6 3 7 0z" fill="#f4731c"/><path d="M7 8c1 1.500 2.500 2.500 2.500 4.500a2.500 2.500 0 0 1-5 0C4.500 11 6 10 7 8z" fill="#fcd34d"/></svg></div>
<div class="a" style="left:310.3px;top:97.92px;width:216px;height:0;border-top:1px solid #eeeff0"></div>
<div class="lg" style="left:310.3px;top:100.2px;height:10px;line-height:10px;padding-left:16.8px;font-size:7.2px"><i style="background:#a352cc;left:4px"></i>[WARN<svg width="7" height="8" viewBox="0 0 14 16" style="vertical-align:-1px"><path d="M7 0c1 3 5 5 5 10a5 5 0 0 1-10 0c0-2 1-3.500 2-4.500 0 1.500.5 2.500 1.500 3C5 5.500 6 3 7 0z" fill="#f4731c"/><path d="M7 8c1 1.500 2.500 2.500 2.500 4.500a2.500 2.500 0 0 1-5 0C4.500 11 6 10 7 8z" fill="#fcd34d"/></svg>] NodeLoadHigh @ pg-test-3</div>
<div class="lg nv" style="left:462.3px;width:60px;text-align:right;top:100.2px;height:10px;line-height:10px;font-size:7.2px">Firing<svg width="7" height="8" viewBox="0 0 14 16" style="vertical-align:-1px"><path d="M7 0c1 3 5 5 5 10a5 5 0 0 1-10 0c0-2 1-3.500 2-4.500 0 1.500.5 2.500 1.500 3C5 5.500 6 3 7 0z" fill="#f4731c"/><path d="M7 8c1 1.500 2.500 2.500 2.500 4.500a2.500 2.500 0 0 1-5 0C4.500 11 6 10 7 8z" fill="#fcd34d"/></svg></div>
<div class="a" style="left:310.3px;top:111.47px;width:216px;height:0;border-top:1px solid #eeeff0"></div>
<div class="lg" style="left:310.3px;top:113.75px;height:10px;line-height:10px;padding-left:16.8px;font-size:7.2px"><i style="background:#8f7fc7;left:4px"></i>[WARN<svg width="7" height="8" viewBox="0 0 14 16" style="vertical-align:-1px"><path d="M7 0c1 3 5 5 5 10a5 5 0 0 1-10 0c0-2 1-3.500 2-4.500 0 1.500.5 2.500 1.500 3C5 5.500 6 3 7 0z" fill="#f4731c"/><path d="M7 8c1 1.500 2.500 2.500 2.500 4.500a2.500 2.500 0 0 1-5 0C4.500 11 6 10 7 8z" fill="#fcd34d"/></svg>] NodeLoadHigh @ pg-test-4</div>
<div class="lg nv" style="left:462.3px;width:60px;text-align:right;top:113.75px;height:10px;line-height:10px;font-size:7.2px">Firing<svg width="7" height="8" viewBox="0 0 14 16" style="vertical-align:-1px"><path d="M7 0c1 3 5 5 5 10a5 5 0 0 1-10 0c0-2 1-3.500 2-4.500 0 1.500.5 2.500 1.500 3C5 5.500 6 3 7 0z" fill="#f4731c"/><path d="M7 8c1 1.500 2.500 2.500 2.500 4.500a2.500 2.500 0 0 1-5 0C4.500 11 6 10 7 8z" fill="#fcd34d"/></svg></div>
<div class="a" style="left:310.3px;top:125.02px;width:216px;height:0;border-top:1px solid #eeeff0"></div>
</div>
</div>
<div class="rt" style="top:656.9px"><svg width="7" height="7" viewBox="0 0 24 24" fill="none" stroke="#3a3f45" stroke-width="3"><path d="M4 9l8 7 8-7"/></svg>Leadership</div>
<div class="t bl" style="left:6px;top:674.4px;width:130.3px;height:101.8px">
<svg width="130.3" height="101.8" viewBox="0 0 130.3 101.8"><path d="M0 101.8L0 101.8L78.96 101.8L78.96 18.83L130.3 18.83L130.3 101.8Z" fill="#fff" fill-opacity="0.45"/></svg>
<div class="n" style="left:7px;top:7.9px;font-size:7.1px">pg-test-1</div>
<div class="v" style="left:7px;top:14.7px;font-size:9.6px">Leader</div>
</div>
<div class="t bl" style="left:138.4px;top:674.4px;width:130.6px;height:101.8px">
<svg width="130.6" height="101.8" viewBox="0 0 130.6 101.8"><path d="M0 101.8L0 18.83L79.14 18.83L79.14 101.8L130.6 101.8L130.6 101.8Z" fill="#fff" fill-opacity="0.45"/></svg>
<div class="n" style="left:7px;top:7.9px;font-size:7.1px">pg-test-4</div>
<div class="v" style="left:7px;top:14.7px;font-size:9.6px">Leader</div>
</div>
<div class="p" style="left:274.5px;top:674.4px;width:264px;height:101.8px">
<div class="pt">Leadership<svg width="9" height="9" viewBox="0 0 24 24" fill="none" stroke="#5a5f66" stroke-width="1.8"><circle cx="12" cy="12" r="9.5"/><path d="M12 11v6M12 7v1.2"/></svg><svg width="9" height="9" viewBox="0 0 24 24" fill="none" stroke="#5a5f66" stroke-width="1.8"><path d="M19 13v6.5a1.5 1.5 0 0 1-1.5 1.5h-13A1.5 1.5 0 0 1 3 19.500v-13A1.5 1.5 0 0 1 4.500 5H11M14 3h7v7M21 3l-10 10"/></svg></div>
<svg class="a" style="left:-1px;top:-1px" width="264" height="101.8" viewBox="274.5 674.4 264 101.8" >
<rect x="283.9" y="697" width="116.1" height="63" fill="#efd38c" />
<rect x="400.6" y="697" width="75.2" height="63" fill="#a5cd9b" />
<path d="M288.7 697L288.7 760" stroke="rgba(0,0,0,.04)" stroke-width="0.5" fill="none" />
<text x="288.7" y="770.5" text-anchor="middle" class="ax" >13:00</text>
<path d="M320.6 697L320.6 760" stroke="rgba(0,0,0,.04)" stroke-width="0.5" fill="none" />
<text x="320.6" y="770.5" text-anchor="middle" class="ax" >13:10</text>
<path d="M352.5 697L352.5 760" stroke="rgba(0,0,0,.04)" stroke-width="0.5" fill="none" />
<text x="352.5" y="770.5" text-anchor="middle" class="ax" >13:20</text>
<path d="M384.4 697L384.4 760" stroke="rgba(0,0,0,.04)" stroke-width="0.5" fill="none" />
<text x="384.4" y="770.5" text-anchor="middle" class="ax" >13:30</text>
<path d="M416.3 697L416.3 760" stroke="rgba(0,0,0,.04)" stroke-width="0.5" fill="none" />
<text x="416.3" y="770.5" text-anchor="middle" class="ax" >13:40</text>
<path d="M448.2 697L448.2 760" stroke="rgba(0,0,0,.04)" stroke-width="0.5" fill="none" />
<text x="448.2" y="770.5" text-anchor="middle" class="ax" >13:50</text>
</svg>
<div class="lg" style="left:204px;top:22px;height:10px;line-height:10px;padding-left:16.8px;font-size:7.2px"><i style="background:#56a64b;left:4px"></i>pg-test-1</div>
<div class="lg" style="left:204px;top:35.55px;height:10px;line-height:10px;padding-left:16.8px;font-size:7.2px"><i style="background:#e0b400;left:4px"></i>pg-test-4</div>
</div>
<div class="p" style="left:543.5px;top:674.4px;width:263px;height:101.8px">
<div class="pt">Timeline</div>
<svg class="a" style="left:-1px;top:-1px" width="263" height="101.8" viewBox="543.5 674.4 263 101.8" >
<defs><linearGradient id="tlg" x1="0" y1="0" x2="0" y2="1"><stop offset="0" stop-color="#e8d3a0"/><stop offset="1" stop-color="#d09a88"/></linearGradient></defs>
<path d="M558 760.2L720 760.2" stroke="#eceded" stroke-width="0.5" fill="none" />
<text x="553" y="762.8" text-anchor="end" class="ax" >0</text>
<path d="M558 740.9L720 740.9" stroke="#eceded" stroke-width="0.5" fill="none" />
<text x="553" y="743.5" text-anchor="end" class="ax" >2</text>
<path d="M558 721.6L720 721.6" stroke="#eceded" stroke-width="0.5" fill="none" />
<text x="553" y="724.2" text-anchor="end" class="ax" >4</text>
<path d="M558 702.3L720 702.3" stroke="#eceded" stroke-width="0.5" fill="none" />
<text x="553" y="704.9" text-anchor="end" class="ax" >6</text>
<path d="M561.4 697L561.4 760.2" stroke="#eceded" stroke-width="0.5" fill="none" />
<text x="561.4" y="770.8" text-anchor="middle" class="ax" >13:00</text>
<path d="M602.42 697L602.42 760.2" stroke="#eceded" stroke-width="0.5" fill="none" />
<text x="602.42" y="770.8" text-anchor="middle" class="ax" >13:15</text>
<path d="M643.45 697L643.45 760.2" stroke="#eceded" stroke-width="0.5" fill="none" />
<text x="643.45" y="770.8" text-anchor="middle" class="ax" >13:30</text>
<path d="M684.47 697L684.47 760.2" stroke="#eceded" stroke-width="0.5" fill="none" />
<text x="684.47" y="770.8" text-anchor="middle" class="ax" >13:45</text>
<path d="M558 721.6L655.21 721.6L655.21 711.95L720 711.95L720 760.2L558 760.2Z" fill="url(#tlg)" opacity=".85"/>
<path d="M655.2 760.2L655.2 721.6L720 721.6" fill="none" stroke="#9cc79a" stroke-width="0.6" stroke-linejoin="round" />
<path d="M558 721.6L655.2 721.6L655.2 712L720 712" fill="none" stroke="#f0955a" stroke-width="0.7" stroke-linejoin="round" />
</svg>
<div class="lgh" style="left:193.5px;width:60px;top:23.85px;height:10px;line-height:10px">Last</div>
<div class="a" style="left:180.5px;top:34.33px;width:77px;height:0;border-top:1px solid #eeeff0"></div>
<div class="lg" style="left:180.5px;top:36.6px;height:10px;line-height:10px;padding-left:16.8px;font-size:7.2px"><i style="background:#56a64b;left:4px"></i>pg-test-1</div>
<div class="lg nv" style="left:193.5px;width:60px;text-align:right;top:36.6px;height:10px;line-height:10px;font-size:7.2px">5</div>
<div class="a" style="left:180.5px;top:47.88px;width:77px;height:0;border-top:1px solid #eeeff0"></div>
<div class="lg" style="left:180.5px;top:50.15px;height:10px;line-height:10px;padding-left:16.8px;font-size:7.2px"><i style="background:#e0b400;left:4px"></i>pg-test-2</div>
<div class="lg nv" style="left:193.5px;width:60px;text-align:right;top:50.15px;height:10px;line-height:10px;font-size:7.2px">4</div>
<div class="a" style="left:180.5px;top:61.43px;width:77px;height:0;border-top:1px solid #eeeff0"></div>
<div class="lg" style="left:180.5px;top:63.7px;height:10px;line-height:10px;padding-left:16.8px;font-size:7.2px"><i style="background:#5794f2;left:4px"></i>pg-test-3</div>
<div class="lg nv" style="left:193.5px;width:60px;text-align:right;top:63.7px;height:10px;line-height:10px;font-size:7.2px">4</div>
<div class="a" style="left:180.5px;top:74.98px;width:77px;height:0;border-top:1px solid #eeeff0"></div>
<div class="lg" style="left:180.5px;top:77.25px;height:10px;line-height:10px;padding-left:16.8px;font-size:7.2px"><i style="background:#ff780a;left:4px"></i>pg-test-4</div>
<div class="lg nv" style="left:193.5px;width:60px;text-align:right;top:77.25px;height:10px;line-height:10px;font-size:7.2px">5</div>
<div class="a" style="left:180.5px;top:88.53px;width:77px;height:0;border-top:1px solid #eeeff0"></div>
</div>
<div class="p" style="left:812px;top:674.4px;width:263.2px;height:101.8px">
<div class="pt">Traffic Routes (primary service instance)<svg width="9" height="9" viewBox="0 0 24 24" fill="none" stroke="#5a5f66" stroke-width="1.8"><circle cx="12" cy="12" r="9.5"/><path d="M12 11v6M12 7v1.2"/></svg></div>
<svg class="a" style="left:-1px;top:-1px" width="263.2" height="101.8" viewBox="812 674.4 263.2 101.8" >
<path d="M832 734L1066.4 734" stroke="#eceded" stroke-width="0.5" fill="none" />
<text x="828" y="736.6" text-anchor="end" class="ax" >0</text>
<path d="M832 715.5L1066.4 715.5" stroke="#eceded" stroke-width="0.5" fill="none" />
<text x="828" y="718.1" text-anchor="end" class="ax" >2.5</text>
<path d="M838 700L838 734" stroke="#eceded" stroke-width="0.5" fill="none" />
<text x="838" y="744.3" text-anchor="middle" class="ax" >13:00</text>
<path d="M877 700L877 734" stroke="#eceded" stroke-width="0.5" fill="none" />
<text x="877" y="744.3" text-anchor="middle" class="ax" >13:10</text>
<path d="M916 700L916 734" stroke="#eceded" stroke-width="0.5" fill="none" />
<text x="916" y="744.3" text-anchor="middle" class="ax" >13:20</text>
<path d="M955 700L955 734" stroke="#eceded" stroke-width="0.5" fill="none" />
<text x="955" y="744.3" text-anchor="middle" class="ax" >13:30</text>
<path d="M994 700L994 734" stroke="#eceded" stroke-width="0.5" fill="none" />
<text x="994" y="744.3" text-anchor="middle" class="ax" >13:40</text>
<path d="M1033 700L1033 734" stroke="#eceded" stroke-width="0.5" fill="none" />
<text x="1033" y="744.3" text-anchor="middle" class="ax" >13:50</text>
<defs><pattern id="st1" width="1.3" height="4" patternUnits="userSpaceOnUse"><rect width="1.3" height="4" fill="#fbb48c"/><rect width=".75" height="4" fill="#f9935f"/></pattern><pattern id="st2" width="1.3" height="4" patternUnits="userSpaceOnUse"><rect width="1.3" height="4" fill="#b4d8ac"/><rect width=".75" height="4" fill="#8cc084"/></pattern></defs>
<rect x="881.4" y="705.2" width="91.6" height="28.8" fill="url(#st1)" />
<rect x="973" y="705.2" width="93" height="28.8" fill="url(#st2)" />
</svg>
<div class="lgh" style="left:193.5px;width:60px;top:72.85px;height:10px;line-height:10px">Last *</div>
<div class="a" style="left:4px;top:83.33px;width:253.5px;height:0;border-top:1px solid #eeeff0"></div>
<div class="lg" style="left:4px;top:85.6px;height:10px;line-height:10px;padding-left:16px;font-size:7.2px"><i style="background:#56a64b;left:4px"></i>pg-test-primary &#10140; pg-test-1</div>
<div class="lg nv" style="left:193.5px;width:60px;text-align:right;top:85.6px;height:10px;line-height:10px;font-size:7.2px">4</div>
<div class="a" style="left:4px;top:96.88px;width:253.5px;height:0;border-top:1px solid #eeeff0"></div>
</div>
<div class="rt" style="top:786.1px"><svg width="7" height="7" viewBox="0 0 24 24" fill="none" stroke="#3a3f45" stroke-width="3"><path d="M4 9l8 7 8-7"/></svg>Member</div>
<div class="p" style="left:6px;top:803.5px;width:1069.5px;height:123.4px">
<div class="pt">Nodes<svg width="9" height="9" viewBox="0 0 24 24" fill="none" stroke="#5a5f66" stroke-width="1.8"><circle cx="12" cy="12" r="9.5"/><path d="M12 11v6M12 7v1.2"/></svg><svg width="9" height="9" viewBox="0 0 24 24" fill="none" stroke="#5a5f66" stroke-width="1.8"><path d="M19 13v6.5a1.5 1.5 0 0 1-1.5 1.5h-13A1.5 1.5 0 0 1 3 19.500v-13A1.5 1.5 0 0 1 4.500 5H11M14 3h7v7M21 3l-10 10"/></svg></div>
<div class="a" style="left:3.1px;top:22.1px;width:1061.2px;height:92.1px;overflow:hidden">
<table style="left:0;top:0;width:1061.2px"><colgroup><col style="width:56.3px"><col style="width:139.1px"><col style="width:78.7px"><col style="width:139.2px"><col style="width:37.5px"><col style="width:28.5px"><col style="width:68.2px"><col style="width:39.4px"><col style="width:68.2px"><col style="width:45.4px"><col style="width:68.3px"><col style="width:45px"><col style="width:79.8px"><col style="width:33.8px"><col style="width:133.8px"></colgroup>
<tr><th style="height:16px">Up</th><th style="height:16px">Instance</th><th style="height:16px">IP</th><th style="height:16px">Hostname</th><th style="height:16px">Targets</th><th style="height:16px">Core</th><th style="height:16px">CPU%</th><th style="height:16px">Mem</th><th style="height:16px">Mem%</th><th style="height:16px">Space</th><th style="height:16px">Space%</th><th style="height:16px">Ping</th><th style="height:16px">HAProxy</th><th style="height:16px">Conn</th><th style="height:16px">OS Release</th></tr>
<tr><td class="g" style="height:20.4px;">Alive</td><td style="height:20.4px"><span class="lk">pg-test-1</span></td><td class="nm" style="height:20.4px"><span class="lk ip">10.10.10.41</span></td><td style="height:20.4px"><span class="lk">pg-test-1</span></td><td class="nm" style="height:20.4px">7</td><td class="b nm" style="height:20.4px;">1</td><td class="nm" style="height:20.4px"><div style="position:relative;top:-.2px;height:12px;text-align:right;line-height:12px;padding-right:10px"><span style="position:absolute;left:2.7px;top:0;width:25.5px;height:12px;background:#f2f3f3;border-radius:1px"></span><span style="position:absolute;left:2.7px;top:0;width:13.16px;height:12px;background:linear-gradient(90deg,#3e668f 0,#4f8a6f 3px,#a8c860 6.5px,#f0e060 9.5px,#f5d468 12.2px,#fbb070 13px,#f08070 20px);border-radius:1px"></span>51.6%</div></td><td class="l" style="height:20.4px;">2 GiB</td><td class="nm" style="height:20.4px"><div style="position:relative;top:-.2px;height:12px;text-align:right;line-height:12px;padding-right:10px"><span style="position:absolute;left:2.7px;top:0;width:25.5px;height:12px;background:#f2f3f3;border-radius:1px"></span><span style="position:absolute;left:2.7px;top:0;width:11.12px;height:12px;background:linear-gradient(90deg,#3e668f 0,#4f8a6f 3.5px,#73a860 7px,#c8b070 9.5px,#fbb070 10.5px,#f08070 20px);border-radius:1px"></span>43.6%</div></td><td class="b nm" style="height:20.4px;">125.9 GiB</td><td class="nm" style="height:20.4px"><div style="position:relative;top:-.2px;height:12px;text-align:right;line-height:12px;padding-right:10px"><span style="position:absolute;left:2.7px;top:0;width:25.5px;height:12px;background:#f2f3f3;border-radius:1px"></span><span style="position:absolute;left:2.7px;top:0;width:5.07px;height:12px;background:linear-gradient(90deg,#3e668f,#4a7c7c);border-radius:1px"></span>19.9%</div></td><td class="y nm" style="height:20.4px;">569 µs</td><td class="nm" style="height:20.4px"><span class="lk ip">10.10.10.41:9100</span></td><td class="nm" style="height:20.4px">4</td><td class="nm" style="height:20.4px"><span style="letter-spacing:-.25px">5.14.0-162.18.1.el9_1.x86_64</span></td></tr>
<tr><td class="g" style="height:20.4px;">Alive</td><td style="height:20.4px"><span class="lk">pg-test-2</span></td><td class="nm" style="height:20.4px"><span class="lk ip">10.10.10.42</span></td><td style="height:20.4px"><span class="lk">pg-test-2</span></td><td class="nm" style="height:20.4px">7</td><td class="b nm" style="height:20.4px;">1</td><td class="nm" style="height:20.4px"><div style="position:relative;top:-.2px;height:12px;text-align:right;line-height:12px;padding-right:10px"><span style="position:absolute;left:2.7px;top:0;width:25.5px;height:12px;background:#f2f3f3;border-radius:1px"></span><span style="position:absolute;left:2.7px;top:0;width:12.72px;height:12px;background:linear-gradient(90deg,#3e668f 0,#4f8a6f 3px,#a8c860 6.5px,#f0e060 9.5px,#f5d468 12.2px,#fbb070 13px,#f08070 20px);border-radius:1px"></span>49.9%</div></td><td class="l" style="height:20.4px;">2 GiB</td><td class="nm" style="height:20.4px"><div style="position:relative;top:-.2px;height:12px;text-align:right;line-height:12px;padding-right:10px"><span style="position:absolute;left:2.7px;top:0;width:25.5px;height:12px;background:#f2f3f3;border-radius:1px"></span><span style="position:absolute;left:2.7px;top:0;width:11.47px;height:12px;background:linear-gradient(90deg,#3e668f 0,#4f8a6f 3.5px,#73a860 7px,#c8b070 9.5px,#fbb070 10.5px,#f08070 20px);border-radius:1px"></span>45.0%</div></td><td class="b nm" style="height:20.4px;">125.9 GiB</td><td class="nm" style="height:20.4px"><div style="position:relative;top:-.2px;height:12px;text-align:right;line-height:12px;padding-right:10px"><span style="position:absolute;left:2.7px;top:0;width:25.5px;height:12px;background:#f2f3f3;border-radius:1px"></span><span style="position:absolute;left:2.7px;top:0;width:5.07px;height:12px;background:linear-gradient(90deg,#3e668f,#4a7c7c);border-radius:1px"></span>19.9%</div></td><td class="y nm" style="height:20.4px;">566 µs</td><td class="nm" style="height:20.4px"><span class="lk ip">10.10.10.42:9100</span></td><td class="nm" style="height:20.4px">24</td><td class="nm" style="height:20.4px"><span style="letter-spacing:-.25px">5.14.0-162.18.1.el9_1.x86_64</span></td></tr>
<tr><td class="g" style="height:20.4px;">Alive</td><td style="height:20.4px"><span class="lk">pg-test-3</span></td><td class="nm" style="height:20.4px"><span class="lk ip">10.10.10.43</span></td><td style="height:20.4px"><span class="lk">pg-test-3</span></td><td class="nm" style="height:20.4px">7</td><td class="b nm" style="height:20.4px;">1</td><td class="nm" style="height:20.4px"><div style="position:relative;top:-.2px;height:12px;text-align:right;line-height:12px;padding-right:10px"><span style="position:absolute;left:2.7px;top:0;width:25.5px;height:12px;background:#f2f3f3;border-radius:1px"></span><span style="position:absolute;left:2.7px;top:0;width:11.98px;height:12px;background:linear-gradient(90deg,#3e668f 0,#4f8a6f 3px,#a8c860 6.5px,#f0e060 9.5px,#f5d468 12.2px,#fbb070 13px,#f08070 20px);border-radius:1px"></span>47.0%</div></td><td class="l" style="height:20.4px;">2 GiB</td><td class="nm" style="height:20.4px"><div style="position:relative;top:-.2px;height:12px;text-align:right;line-height:12px;padding-right:10px"><span style="position:absolute;left:2.7px;top:0;width:25.5px;height:12px;background:#f2f3f3;border-radius:1px"></span><span style="position:absolute;left:2.7px;top:0;width:10.38px;height:12px;background:linear-gradient(90deg,#3e668f 0,#4f8a6f 3.5px,#73a860 7px,#c8b070 9.5px,#fbb070 10.5px,#f08070 20px);border-radius:1px"></span>40.7%</div></td><td class="b nm" style="height:20.4px;">125.9 GiB</td><td class="nm" style="height:20.4px"><div style="position:relative;top:-.2px;height:12px;text-align:right;line-height:12px;padding-right:10px"><span style="position:absolute;left:2.7px;top:0;width:25.5px;height:12px;background:#f2f3f3;border-radius:1px"></span><span style="position:absolute;left:2.7px;top:0;width:5.07px;height:12px;background:linear-gradient(90deg,#3e668f,#4a7c7c);border-radius:1px"></span>19.9%</div></td><td class="g nm" style="height:20.4px;">455 µs</td><td class="nm" style="height:20.4px"><span class="lk ip">10.10.10.43:9100</span></td><td class="nm" style="height:20.4px">8</td><td class="nm" style="height:20.4px"><span style="letter-spacing:-.25px">5.14.0-162.18.1.el9_1.x86_64</span></td></tr>
<tr><td class="g" style="height:20.4px;">Alive</td><td style="height:20.4px"><span class="lk">pg-test-4</span></td><td class="nm" style="height:20.4px"><span class="lk ip">10.10.10.44</span></td><td style="height:20.4px"><span class="lk">pg-test-4</span></td><td class="nm" style="height:20.4px">7</td><td class="b nm" style="height:20.4px;">1</td><td class="nm" style="height:20.4px"><div style="position:relative;top:-.2px;height:12px;text-align:right;line-height:12px;padding-right:10px"><span style="position:absolute;left:2.7px;top:0;width:25.5px;height:12px;background:#f2f3f3;border-radius:1px"></span><span style="position:absolute;left:2.7px;top:0;width:11.09px;height:12px;background:linear-gradient(90deg,#3e668f 0,#4f8a6f 3px,#a8c860 6.5px,#f0e060 9.5px,#f5d468 12.2px,#fbb070 13px,#f08070 20px);border-radius:1px"></span>43.5%</div></td><td class="l" style="height:20.4px;">2 GiB</td><td class="nm" style="height:20.4px"><div style="position:relative;top:-.2px;height:12px;text-align:right;line-height:12px;padding-right:10px"><span style="position:absolute;left:2.7px;top:0;width:25.5px;height:12px;background:#f2f3f3;border-radius:1px"></span><span style="position:absolute;left:2.7px;top:0;width:10.58px;height:12px;background:linear-gradient(90deg,#3e668f 0,#4f8a6f 3.5px,#73a860 7px,#c8b070 9.5px,#fbb070 10.5px,#f08070 20px);border-radius:1px"></span>41.5%</div></td><td class="b nm" style="height:20.4px;">125.9 GiB</td><td class="nm" style="height:20.4px"><div style="position:relative;top:-.2px;height:12px;text-align:right;line-height:12px;padding-right:10px"><span style="position:absolute;left:2.7px;top:0;width:25.5px;height:12px;background:#f2f3f3;border-radius:1px"></span><span style="position:absolute;left:2.7px;top:0;width:5.07px;height:12px;background:linear-gradient(90deg,#3e668f,#4a7c7c);border-radius:1px"></span>19.9%</div></td><td class="y nm" style="height:20.4px;">574 µs</td><td class="nm" style="height:20.4px"><span class="lk ip">10.10.10.44:9100</span></td><td class="nm" style="height:20.4px">2</td><td class="nm" style="height:20.4px"><span style="letter-spacing:-.25px">5.14.0-162.18.1.el9_1.x86_64</span></td></tr>
</table>
</div>
</div>
<div class="p" style="left:6px;top:933px;width:845.3px;height:124.2px">
<div class="pt">Patroni Members</div>
<table style="left:3.1px;top:22px;width:836.6px"><colgroup><col style="width:50.65px"><col style="width:45.35px"><col style="width:252.7px"><col style="width:56.3px"><col style="width:56.3px"><col style="width:46.1px"><col style="width:45px"><col style="width:45.4px"><col style="width:45.7px"><col style="width:45.4px"><col style="width:56.6px"><col style="width:45.8px"><col style="width:45.3px"></colgroup>
<tr><th style="height:16px">Up</th><th style="height:16px">Status</th><th style="height:16px">Instance</th><th style="height:16px">Shard</th><th style="height:16px">DCS Seen</th><th style="height:16px">Paused</th><th style="height:16px">Restart</th><th style="height:16px">Failsafe</th><th style="height:16px">WAL</th><th style="height:16px">Postgres</th><th style="height:16px">PG Uptime</th><th style="height:16px">Version</th><th style="height:16px">PG Ver</th></tr>
</table>
<div class="a" style="left:3.1px;top:37.9px;width:836.6px;height:76.1px;overflow:hidden">
<table style="left:0px;top:-4.9px;width:836.6px"><colgroup><col style="width:50.65px"><col style="width:45.35px"><col style="width:252.7px"><col style="width:56.3px"><col style="width:56.3px"><col style="width:46.1px"><col style="width:45px"><col style="width:45.4px"><col style="width:45.7px"><col style="width:45.4px"><col style="width:56.6px"><col style="width:45.8px"><col style="width:45.3px"></colgroup>
<tr><td class="g" style="height:20.45px;">Alive</td><td class="b" style="height:20.45px;">Primary</td><td style="height:20.45px"><span class="lk">pg-test-1</span></td><td style="height:20.45px"><span class="lk">pg-test</span></td><td class="g nm" style="height:20.45px;">4.85 s</td><td class="g" style="height:20.45px;">OK</td><td class="g" style="height:20.45px;">No Need</td><td class="g" style="height:20.45px;">Inactive</td><td class="g" style="height:20.45px;">Proceed</td><td class="g" style="height:20.45px;">Alive</td><td class="g nm" style="height:20.45px;">2.52 day</td><td class="nm" style="height:20.45px">30004</td><td class="nm" style="height:20.45px">150003</td></tr>
<tr><td class="g" style="height:20.45px;">Alive</td><td class="g" style="height:20.45px;">Replica</td><td style="height:20.45px"><span class="lk">pg-test-2</span></td><td style="height:20.45px"><span class="lk">pg-test</span></td><td class="g nm" style="height:20.45px;">14.8 s</td><td class="g" style="height:20.45px;">OK</td><td class="g" style="height:20.45px;">No Need</td><td class="g" style="height:20.45px;">Inactive</td><td class="g" style="height:20.45px;">Proceed</td><td class="g" style="height:20.45px;">Alive</td><td class="g nm" style="height:20.45px;">3.16 day</td><td class="nm" style="height:20.45px">30004</td><td class="nm" style="height:20.45px">150003</td></tr>
<tr><td class="g" style="height:20.45px;">Alive</td><td class="g" style="height:20.45px;">Replica</td><td style="height:20.45px"><span class="lk">pg-test-3</span></td><td style="height:20.45px"><span class="lk">pg-test</span></td><td class="g nm" style="height:20.45px;">14.8 s</td><td class="g" style="height:20.45px;">OK</td><td class="g" style="height:20.45px;">No Need</td><td class="g" style="height:20.45px;">Inactive</td><td class="g" style="height:20.45px;">Proceed</td><td class="g" style="height:20.45px;">Alive</td><td class="g nm" style="height:20.45px;">1.07 day</td><td class="nm" style="height:20.45px">30004</td><td class="nm" style="height:20.45px">150003</td></tr>
<tr><td class="g" style="height:20.45px;">Alive</td><td class="g" style="height:20.45px;">Replica</td><td style="height:20.45px"><span class="lk">pg-test-4</span></td><td style="height:20.45px"><span class="lk">pg-test</span></td><td class="g nm" style="height:20.45px;">4.85 s</td><td class="g" style="height:20.45px;">OK</td><td class="g" style="height:20.45px;">No Need</td><td class="g" style="height:20.45px;">Inactive</td><td class="g" style="height:20.45px;">Proceed</td><td class="g" style="height:20.45px;">Alive</td><td class="o nm" style="height:20.45px;">23.8 min</td><td class="nm" style="height:20.45px">30004</td><td class="nm" style="height:20.45px">150003</td></tr>
</table>
</div>
</div>
<div class="t bl" style="left:857.1px;top:933px;width:53.4px;height:39.6px"><div class="a" style="left:0;right:0;top:16px;text-align:center;font-size:7.4px;letter-spacing:.35px">pg-test-1</div></div>
<div class="t bl" style="left:912.4px;top:933px;width:52.8px;height:39.6px"><div class="a" style="left:0;right:0;top:16px;text-align:center;font-size:7.4px;letter-spacing:.35px">pg-test-2</div></div>
<div class="t bl" style="left:967.1px;top:933px;width:52.9px;height:39.6px"><div class="a" style="left:0;right:0;top:16px;text-align:center;font-size:7.4px;letter-spacing:.35px">pg-test-3</div></div>
<div class="t bl" style="left:1022.2px;top:933px;width:53.1px;height:39.6px"><div class="a" style="left:0;right:0;top:16px;text-align:center;font-size:7.4px;letter-spacing:.35px">pg-test-4</div></div>
<div class="t gr" style="left:857.1px;top:974.9px;width:53.4px;height:39.7px"><div class="a" style="left:0;right:0;top:16.05px;text-align:center;font-size:7.4px;letter-spacing:.35px">pg-test-1</div></div>
<div class="t gr" style="left:912.4px;top:974.9px;width:52.8px;height:39.7px"><div class="a" style="left:0;right:0;top:16.05px;text-align:center;font-size:7.4px;letter-spacing:.35px">pg-test-2</div></div>
<div class="t gr" style="left:967.1px;top:974.9px;width:52.9px;height:39.7px"><div class="a" style="left:0;right:0;top:16.05px;text-align:center;font-size:7.4px;letter-spacing:.35px">pg-test-3</div></div>
<div class="t gr" style="left:1022.2px;top:974.9px;width:53.1px;height:39.7px"><div class="a" style="left:0;right:0;top:16.05px;text-align:center;font-size:7.4px;letter-spacing:.35px">pg-test-4</div></div>
<div class="t lb" style="left:857.1px;top:1016.9px;width:53.4px;height:39.9px"><div class="a" style="left:0;right:0;top:16.15px;text-align:center;font-size:7.4px;letter-spacing:.35px">pg-test-1</div></div>
<div class="t lb" style="left:912.4px;top:1016.9px;width:52.8px;height:39.9px"><div class="a" style="left:0;right:0;top:16.15px;text-align:center;font-size:7.4px;letter-spacing:.35px">pg-test-2</div></div>
<div class="t lb" style="left:967.1px;top:1016.9px;width:52.9px;height:39.9px"><div class="a" style="left:0;right:0;top:16.15px;text-align:center;font-size:7.4px;letter-spacing:.35px">pg-test-3</div></div>
<div class="t lb" style="left:1022.2px;top:1016.9px;width:53.1px;height:39.9px"><div class="a" style="left:0;right:0;top:16.15px;text-align:center;font-size:7.4px;letter-spacing:.35px">pg-test-4</div></div>
<div class="p" style="left:6px;top:1062.7px;width:845.3px;height:124px">
<div class="pt">Postgres Instances<svg width="9" height="9" viewBox="0 0 24 24" fill="none" stroke="#5a5f66" stroke-width="1.8"><circle cx="12" cy="12" r="9.5"/><path d="M12 11v6M12 7v1.2"/></svg></div>
<div class="a" style="left:3.1px;top:21.8px;width:836.6px;height:92.5px;overflow:hidden">
<table style="left:0;top:0;width:836.6px"><colgroup><col style="width:50.65px"><col style="width:45.35px"><col style="width:302.3px"><col style="width:62.2px"><col style="width:68.3px"><col style="width:45.3px"><col style="width:45px"><col style="width:51.4px"><col style="width:45.4px"><col style="width:45.4px"><col style="width:34.1px"><col style="width:41.2px"></colgroup>
<tr><th style="height:16px">Up</th><th style="height:16px">Role</th><th style="height:16px"><span style="padding-right:11.4px">Instance<svg width="7.4" height="7.4" viewBox="0 0 24 24" style="position:absolute;margin-left:4px;margin-top:.7px" fill="none" stroke="#2c3137" stroke-width="3.6"><path d="M12 21V6M5 12.500l7-7.500 7 7.500"/></svg></span></th><th style="height:16px">IP</th><th style="height:16px">Load</th><th style="height:16px">TPS</th><th style="height:16px">Conn%</th><th style="height:16px">Backend</th><th style="height:16px">Query RT</th><th style="height:16px">QPS</th><th style="height:16px">Queue</th><th style="height:16px">Lag</th></tr>
<tr><td class="g" style="height:20.4px;">Alive</td><td class="b" style="height:20.4px;"><span class="u">primary</span></td><td style="height:20.4px"><span class="lk">pg-test-1</span></td><td class="nm" style="height:20.4px"><span class="lk ip">10.10.10.41</span></td><td class="nm" style="height:20.4px"><div style="position:relative;top:-.2px;height:12px;text-align:right;line-height:12px;padding-right:10px"><span style="position:absolute;left:2.7px;top:0;width:25.5px;height:12px;background:#f2f3f3;border-radius:1px"></span><span style="position:absolute;left:2.7px;top:0;width:7.09px;height:12px;background:linear-gradient(90deg,#3e668f,#4f8a6f);border-radius:1px"></span>27.8%</div></td><td class="nm" style="height:20.4px"><span class="db">307</span></td><td class="nm" style="height:20.4px"><span class="gn">15%</span></td><td class="nm" style="height:20.4px"><span class="gn">15</span></td><td class="nm" style="height:20.4px"><span class="gn">4.25 ms</span></td><td class="nm" style="height:20.4px"><span class="db">371</span></td><td class="nm" style="height:20.4px"><span class="gn">0</span></td><td style="height:20.4px"><span class="gn"></span></td></tr>
<tr><td class="g" style="height:20.4px;">Alive</td><td class="g" style="height:20.4px;"><span class="u">replica</span></td><td style="height:20.4px"><span class="lk">pg-test-2</span></td><td class="nm" style="height:20.4px"><span class="lk ip">10.10.10.42</span></td><td class="nm" style="height:20.4px"><div style="position:relative;top:-.2px;height:12px;text-align:right;line-height:12px;padding-right:10px"><span style="position:absolute;left:2.7px;top:0;width:25.5px;height:12px;background:#f2f3f3;border-radius:1px"></span><span style="position:absolute;left:2.7px;top:0;width:4.92px;height:12px;background:linear-gradient(90deg,#3e668f,#4f8a6f);border-radius:1px"></span>19.3%</div></td><td class="nm" style="height:20.4px"><span class="db">1362</span></td><td class="nm" style="height:20.4px"><span class="gn">14%</span></td><td class="nm" style="height:20.4px"><span class="gn">14</span></td><td class="nm" style="height:20.4px"><span class="gn">282 µs</span></td><td class="nm" style="height:20.4px"><span class="db">685</span></td><td class="nm" style="height:20.4px"><span class="gn">0</span></td><td class="nm" style="height:20.4px"><span class="gn">0 B</span></td></tr>
<tr><td class="g" style="height:20.4px;">Alive</td><td class="g" style="height:20.4px;"><span class="u">replica</span></td><td style="height:20.4px"><span class="lk">pg-test-3</span></td><td class="nm" style="height:20.4px"><span class="lk ip">10.10.10.43</span></td><td class="nm" style="height:20.4px"><div style="position:relative;top:-.2px;height:12px;text-align:right;line-height:12px;padding-right:10px"><span style="position:absolute;left:2.7px;top:0;width:25.5px;height:12px;background:#f2f3f3;border-radius:1px"></span><span style="position:absolute;left:2.7px;top:0;width:8.13px;height:12px;background:linear-gradient(90deg,#3e668f 0,#4f8a6f 4px,#c8cc60 6.500px,#f0e060 8px);border-radius:1px"></span>31.9%</div></td><td class="nm" style="height:20.4px"><span class="db">1329</span></td><td class="nm" style="height:20.4px"><span class="gn">16%</span></td><td class="nm" style="height:20.4px"><span class="gn">16</span></td><td class="nm" style="height:20.4px"><span class="gn">602 µs</span></td><td class="nm" style="height:20.4px"><span class="db">531</span></td><td class="nm" style="height:20.4px"><span class="gn">0</span></td><td class="nm" style="height:20.4px"><span class="gn">0 B</span></td></tr>
<tr><td class="g" style="height:20.4px;">Alive</td><td class="g" style="height:20.4px;"><span class="u">replica</span></td><td style="height:20.4px"><span class="lk">pg-test-4</span></td><td class="nm" style="height:20.4px"><span class="lk ip">10.10.10.44</span></td><td class="nm" style="height:20.4px"><div style="position:relative;top:-.2px;height:12px;text-align:right;line-height:12px;padding-right:10px"><span style="position:absolute;left:2.7px;top:0;width:25.5px;height:12px;background:#f2f3f3;border-radius:1px"></span><span style="position:absolute;left:2.7px;top:0;width:7.11px;height:12px;background:linear-gradient(90deg,#3e668f,#4f8a6f);border-radius:1px"></span>27.9%</div></td><td class="nm" style="height:20.4px"><span class="db">1633</span></td><td class="nm" style="height:20.4px"><span class="gn">16%</span></td><td class="nm" style="height:20.4px"><span class="gn">16</span></td><td class="nm" style="height:20.4px"><span class="gn">516 µs</span></td><td class="nm" style="height:20.4px"><span class="db">541</span></td><td class="nm" style="height:20.4px"><span class="gn">0</span></td><td class="nm" style="height:20.4px"><span class="gn">0 B</span></td></tr>
</table>
</div>
</div>
<div class="p" style="left:857.1px;top:1062.7px;width:218.3px;height:274.7px">
<div class="pt">Settings<svg width="9" height="9" viewBox="0 0 24 24" fill="none" stroke="#5a5f66" stroke-width="1.8"><circle cx="12" cy="12" r="9.5"/><path d="M12 11v6M12 7v1.2"/></svg></div>
<table style="left:3.6px;top:21.4px;width:209.6px"><colgroup><col style="width:44.700px"><col style="width:164.900px"></colgroup>
<tr><td style="height:20.420px;padding-top:.6px;border-bottom:none;">Cluster</td><td style="height:20.420px;padding-top:.6px;border-bottom:none;">pg-test</td></tr>
<tr><td style="height:20.420px;padding-top:.6px;border-bottom:none;border-top:1px solid #e9eaeb;">Primary</td><td style="height:20.420px;padding-top:.6px;border-bottom:none;border-top:1px solid #e9eaeb;" class="nm"><span class="ip">10.10.10.41</span></td></tr>
<tr><td style="height:20.420px;padding-top:.6px;border-bottom:none;border-top:1px solid #e9eaeb;">Port</td><td style="height:20.420px;padding-top:.6px;border-bottom:none;border-top:1px solid #e9eaeb;" class="nm">5432</td></tr>
<tr><td style="height:20.420px;padding-top:.6px;border-bottom:none;border-top:1px solid #e9eaeb;">Version</td><td style="height:20.420px;padding-top:.6px;border-bottom:none;border-top:1px solid #e9eaeb;" class="nm">15.3</td></tr>
<tr><td style="height:20.420px;padding-top:.6px;border-bottom:none;border-top:1px solid #e9eaeb;">WAL</td><td style="height:20.420px;padding-top:.6px;border-bottom:none;border-top:1px solid #e9eaeb;">logical</td></tr>
<tr><td style="height:20.420px;padding-top:.6px;border-bottom:none;border-top:1px solid #e9eaeb;">Data</td><td style="height:20.420px;padding-top:.6px;border-bottom:none;border-top:1px solid #e9eaeb;">/pg/data</td></tr>
<tr><td style="height:20.420px;padding-top:.6px;border-bottom:none;border-top:1px solid #e9eaeb;">Name</td><td style="height:20.420px;padding-top:.6px;border-bottom:none;border-top:1px solid #e9eaeb;">pg-test</td></tr>
<tr><td style="height:20.420px;padding-top:.6px;border-bottom:none;border-top:1px solid #e9eaeb;">CLS ID</td><td style="height:20.420px;padding-top:.6px;border-bottom:none;border-top:1px solid #e9eaeb;" class="nm">7261798653881578807</td></tr>
<tr><td style="height:20.420px;padding-top:.6px;border-bottom:none;border-top:1px solid #e9eaeb;">Config</td><td style="height:20.420px;padding-top:.6px;border-bottom:none;border-top:1px solid #e9eaeb;">/pg/data/postgresql.conf</td></tr>
<tr><td style="height:20.420px;padding-top:.6px;border-bottom:none;border-top:1px solid #e9eaeb;">HBA</td><td style="height:20.420px;padding-top:.6px;border-bottom:none;border-top:1px solid #e9eaeb;">/pg/data/pg_hba.conf</td></tr>
<tr><td style="height:20.420px;padding-top:.6px;border-bottom:none;border-top:1px solid #e9eaeb;">Extension</td><td style="height:20.420px;padding-top:.6px;border-bottom:none;border-top:1px solid #e9eaeb;"><div style="text-align:left;padding-left:3.500px;overflow:hidden;text-overflow:ellipsis;width:164px;letter-spacing:.22px">timescaledb, pg_stat_statements, auto_explain</div></td></tr>
<tr><td style="height:20.420px;padding-top:.6px;border-bottom:none;border-top:1px solid #e9eaeb;">Primary</td><td style="height:20.420px;padding-top:.6px;border-bottom:none;border-top:1px solid #e9eaeb;"><div style="text-align:left;padding-left:3.500px;overflow:hidden;text-overflow:ellipsis;width:164px;letter-spacing:.22px">user=replicator passfile=/var/lib/pgsql/.pgpass</div></td></tr>
</table>
</div>
<div class="p" style="left:6px;top:1191.5px;width:845.3px;height:145.8px">
<div class="pt">Database<svg width="9" height="9" viewBox="0 0 24 24" fill="none" stroke="#5a5f66" stroke-width="1.8"><circle cx="12" cy="12" r="9.5"/><path d="M12 11v6M12 7v1.2"/></svg></div>
<div class="a" style="left:3.1px;top:21.6px;width:836.6px;height:98.9px;overflow:hidden">
<table style="left:0;top:0;width:836.6px"><colgroup><col style="width:234.4px"><col style="width:45.7px"><col style="width:45.4px"><col style="width:33.8px"><col style="width:43.1px"><col style="width:39.4px"><col style="width:45.7px"><col style="width:34.1px"><col style="width:33.8px"><col style="width:68.2px"><col style="width:39.8px"><col style="width:47.6px"><col style="width:45.8px"><col style="width:28.5px"><col style="width:28.5px"><col style="width:22.8px"></colgroup>
<tr><th style="height:17px">Database</th><th style="height:17px">OID</th><th style="height:17px"><span style="padding-right:11.4px">Size<svg width="7.4" height="7.4" viewBox="0 0 24 24" style="position:absolute;margin-left:4px;margin-top:.7px" fill="none" stroke="#2c3137" stroke-width="3.6"><path d="M12 3v15M5 11.500l7 7.500 7-7.500"/></svg></span></th><th style="height:17px">Age</th><th style="height:17px">Backend</th><th style="height:17px">TPS</th><th style="height:17px">RT</th><th style="height:17px">Server</th><th style="height:17px">Client</th><th style="height:17px">Load</th><th style="height:17px">Conn%</th><th style="height:17px">ConnLimit</th><th style="height:17px">PoolSize</th><th style="height:17px">D</th><th style="height:17px">P</th><th style="height:17px">T</th></tr>
<tr><td style="height:20.4px"><span class="u" style="color:#33558b">test</span></td><td class="nm" style="height:20.4px"><span class="u" style="color:#33558b">19531</span></td><td class="nm" style="height:20.4px"><span class="db">979 MB</span></td><td class="nm" style="height:20.4px"><span class="db">0.1%</span></td><td class="nm" style="height:20.4px"><span class="gn">53</span></td><td class="nm" style="height:20.4px"><span class="gn">4613.1</span></td><td class="nm" style="height:20.4px"><span class="gn">454 µs</span></td><td class="nm" style="height:20.4px"><span class="db">3</span></td><td class="nm" style="height:20.4px"><span class="gn">3</span></td><td class="nm" style="height:20.4px"><div style="position:relative;top:-.2px;height:12px;text-align:right;line-height:12px;padding-right:9.5px"><span style="position:absolute;left:2.7px;top:0;width:31px;height:12px;background:#f2f3f3;border-radius:1px"></span><span style="position:absolute;left:2.7px;top:0;width:1px;height:12px;background:#3e668f;border-radius:1px"></span>1.4%</div></td><td class="nm" style="height:20.4px"><span class="gn">14.0%</span></td><td style="height:20.4px"><span class="db">NO LIMIT</span></td><td class="nm" style="height:20.4px">64</td><td class="g" style="height:20.4px;">F</td><td class="g" style="height:20.4px;">F</td><td class="g" style="height:20.4px;">F</td></tr>
<tr><td style="height:20.4px"><span class="u" style="color:#6e7278">postgres</span></td><td class="nm" style="height:20.4px"><span class="u" style="color:#dfe0e1">5</span></td><td class="nm" style="height:20.4px"><span class="db">36 MB</span></td><td class="nm" style="height:20.4px"><span class="db">0.1%</span></td><td class="nm" style="height:20.4px"><span class="gn">4</span></td><td class="nm" style="height:20.4px"><span class="gn">17.6</span></td><td style="height:20.4px"><span class="gn">-</span></td><td style="height:20.4px"></td><td style="height:20.4px"></td><td class="nm" style="height:20.4px"><div style="position:relative;top:-.2px;height:12px;text-align:right;line-height:12px;padding-right:9.5px"><span style="position:absolute;left:2.7px;top:0;width:31px;height:12px;background:#f2f3f3;border-radius:1px"></span><span style="position:absolute;left:2.7px;top:0;width:1px;height:12px;background:#3e668f;border-radius:1px"></span>0.2%</div></td><td class="nm" style="height:20.4px"><span class="db">2.0%</span></td><td style="height:20.4px"><span class="db">NO LIMIT</span></td><td style="height:20.4px"></td><td style="height:20.4px">-</td><td style="height:20.4px">-</td><td class="g" style="height:20.4px;">F</td></tr>
<tr><td style="height:20.4px"><span class="u" style="color:#b0b3b6">template1</span></td><td class="nm" style="height:20.4px"><span class="u" style="color:#e4e5e6">1</span></td><td class="nm" style="height:20.4px"><span class="db">35 MB</span></td><td class="nm" style="height:20.4px"><span class="db">0.1%</span></td><td style="height:20.4px"></td><td class="nm" style="height:20.4px"><span class="gn">0.0</span></td><td style="height:20.4px"><span class="gn">-</span></td><td style="height:20.4px"></td><td style="height:20.4px"></td><td style="height:20.4px"><div style="position:relative;top:-.2px;height:12px;text-align:right;line-height:12px;padding-right:9.5px"><span style="position:absolute;left:2.7px;top:0;width:31px;height:12px;background:#f2f3f3;border-radius:1px"></span><span style="position:absolute;left:2.7px;top:0;width:1px;height:12px;background:#8f6fa0;border-radius:1px"></span>-</div></td><td class="nm" style="height:20.4px"><span class="db">0.0%</span></td><td style="height:20.4px"><span class="db">NO LIMIT</span></td><td style="height:20.4px"></td><td style="height:20.4px">-</td><td style="height:20.4px">-</td><td class="o" style="height:20.4px;">T</td></tr>
<tr><td style="height:20.4px"><span class="u" style="color:#c4c6c8">template0</span></td><td class="nm" style="height:20.4px"><span class="u" style="color:#e4e5e6">4</span></td><td class="nm" style="height:20.4px"><span class="db">30 MB</span></td><td class="nm" style="height:20.4px"><span class="db">0.1%</span></td><td style="height:20.4px"></td><td class="nm" style="height:20.4px"><span class="gn">0.0</span></td><td style="height:20.4px"><span class="gn">-</span></td><td style="height:20.4px"></td><td style="height:20.4px"></td><td style="height:20.4px"><div style="position:relative;top:-.2px;height:12px;text-align:right;line-height:12px;padding-right:9.5px"><span style="position:absolute;left:2.7px;top:0;width:31px;height:12px;background:#f2f3f3;border-radius:1px"></span><span style="position:absolute;left:2.7px;top:0;width:1px;height:12px;background:#8f6fa0;border-radius:1px"></span>-</div></td><td class="nm" style="height:20.4px"><span class="db">0.0%</span></td><td style="height:20.4px"><span class="db">NO LIMIT</span></td><td style="height:20.4px"></td><td style="height:20.4px">-</td><td style="height:20.4px">-</td><td class="o" style="height:20.4px;">T</td></tr>
</table>
</div>
</div>
<div class="p" style="left:6px;top:1342.7px;width:532.2px;height:124px">
<div class="pt">Service<svg width="9" height="9" viewBox="0 0 24 24" fill="none" stroke="#5a5f66" stroke-width="1.8"><circle cx="12" cy="12" r="9.5"/><path d="M12 11v6M12 7v1.2"/></svg><svg width="9" height="9" viewBox="0 0 24 24" fill="none" stroke="#5a5f66" stroke-width="1.8"><path d="M19 13v6.5a1.5 1.5 0 0 1-1.5 1.5h-13A1.5 1.5 0 0 1 3 19.500v-13A1.5 1.5 0 0 1 4.500 5H11M14 3h7v7M21 3l-10 10"/></svg></div>
<div class="a" style="left:3.1px;top:22.2px;width:523.5px;height:92.1px;overflow:hidden">
<table style="left:0;top:0;width:523.5px"><colgroup><col style="width:104.6px"><col style="width:104.7px"><col style="width:104.2px"><col style="width:104.6px"><col style="width:105.4px"></colgroup>
<tr><th style="height:16px"><span style="padding-right:11.4px">Server<svg width="7.4" height="7.4" viewBox="0 0 24 24" style="position:absolute;margin-left:4px;margin-top:.7px" fill="none" stroke="#2c3137" stroke-width="3.6"><path d="M12 21V6M5 12.500l7-7.500 7 7.500"/></svg></span></th><th style="height:16px">default</th><th style="height:16px">offline</th><th style="height:16px">primary</th><th style="height:16px">replica</th></tr>
<tr><td style="height:20.4px"><span class="lk">pg-test-1</span></td><td class="o nm" style="height:20.4px;">8</td><td class="k" style="height:20.4px;">&#8960;</td><td class="b nm" style="height:20.4px;">4</td><td class="nm" style="height:20.4px">0</td></tr>
<tr><td style="height:20.4px"><span class="lk">pg-test-2</span></td><td class="nm" style="height:20.4px">0</td><td class="nm" style="height:20.4px">0</td><td class="nm" style="height:20.4px">0</td><td class="g nm" style="height:20.4px;">8</td></tr>
<tr><td style="height:20.4px"><span class="lk">pg-test-3</span></td><td class="nm" style="height:20.4px">0</td><td class="nm" style="height:20.4px">0</td><td class="nm" style="height:20.4px">0</td><td class="g nm" style="height:20.4px;">8</td></tr>
<tr><td style="height:20.4px"><span class="lk">pg-test-4</span></td><td class="nm" style="height:20.4px">0</td><td class="y nm" style="height:20.4px;">2</td><td class="nm" style="height:20.4px">0</td><td class="g nm" style="height:20.4px;">8</td></tr>
</table>
</div>
</div>
<div class="p" style="left:543.6px;top:1342.7px;width:531.7px;height:124px">
<div class="pt">Proxies<svg width="9" height="9" viewBox="0 0 24 24" fill="none" stroke="#5a5f66" stroke-width="1.8"><circle cx="12" cy="12" r="9.5"/><path d="M12 11v6M12 7v1.2"/></svg><svg width="9" height="9" viewBox="0 0 24 24" fill="none" stroke="#5a5f66" stroke-width="1.8"><path d="M19 13v6.5a1.5 1.5 0 0 1-1.5 1.5h-13A1.5 1.5 0 0 1 3 19.500v-13A1.5 1.5 0 0 1 4.500 5H11M14 3h7v7M21 3l-10 10"/></svg></div>
<div class="a" style="left:3.6px;top:22.2px;width:523.1px;height:92.1px;overflow:hidden">
<table style="left:0;top:0;width:523.1px"><colgroup><col style="width:296.3px"><col style="width:40.5px"><col style="width:40.5px"><col style="width:55.1px"><col style="width:90.7px"></colgroup>
<tr><th style="height:16px"><span style="padding-right:11.4px">Proxy<svg width="7.4" height="7.4" viewBox="0 0 24 24" style="position:absolute;margin-left:4px;margin-top:.7px" fill="none" stroke="#2c3137" stroke-width="3.6"><path d="M12 21V6M5 12.500l7-7.500 7 7.500"/></svg></span></th><th style="height:16px">Service</th><th style="height:16px">Server</th><th style="height:16px">LB Session</th><th style="height:16px">Admin Page</th></tr>
<tr><td style="height:20.4px"><span class="lk">pg-test-1</span></td><td class="nm" style="height:20.4px"><span class="gn">4</span></td><td class="nm" style="height:20.4px"><span class="gn">4</span></td><td class="nm" style="height:20.4px"><span class="gn">4</span></td><td class="nm" style="height:20.4px"><span class="lk ip">10.10.10.41:9101</span></td></tr>
<tr><td style="height:20.4px"><span class="lk">pg-test-2</span></td><td class="nm" style="height:20.4px"><span class="gn">4</span></td><td class="nm" style="height:20.4px"><span class="gn">4</span></td><td class="nm" style="height:20.4px"><span class="gn">24</span></td><td class="nm" style="height:20.4px"><span class="lk ip">10.10.10.42:9101</span></td></tr>
<tr><td style="height:20.4px"><span class="lk">pg-test-3</span></td><td class="nm" style="height:20.4px"><span class="gn">4</span></td><td class="nm" style="height:20.4px"><span class="gn">4</span></td><td class="nm" style="height:20.4px"><span class="gn">8</span></td><td class="nm" style="height:20.4px"><span class="lk ip">10.10.10.43:9101</span></td></tr>
<tr><td style="height:20.4px"><span class="lk">pg-test-4</span></td><td class="nm" style="height:20.4px"><span class="gn">4</span></td><td class="nm" style="height:20.4px"><span class="gn">4</span></td><td class="nm" style="height:20.4px"><span class="gn">2</span></td><td class="nm" style="height:20.4px"><span class="lk ip">10.10.10.44:9101</span></td></tr>
</table>
</div>
</div>
<div class="p" style="left:6px;top:1472.2px;width:1069.5px;height:124.3px">
<div class="pt">Replication<svg width="9" height="9" viewBox="0 0 24 24" fill="none" stroke="#5a5f66" stroke-width="1.8"><circle cx="12" cy="12" r="9.5"/><path d="M12 11v6M12 7v1.2"/></svg><svg width="9" height="9" viewBox="0 0 24 24" fill="none" stroke="#5a5f66" stroke-width="1.8"><path d="M19 13v6.5a1.5 1.5 0 0 1-1.5 1.5h-13A1.5 1.5 0 0 1 3 19.500v-13A1.5 1.5 0 0 1 4.500 5H11M14 3h7v7M21 3l-10 10"/></svg></div>
<table style="left:3.1px;top:22.3px;width:1061.2px"><colgroup><col style="width:56.3px"><col style="width:51.1px"><col style="width:268.9px"><col style="width:267.8px"><col style="width:56.8px"><col style="width:57.3px"><col style="width:267.7px"><col style="width:35.3px"></colgroup>
<tr><th style="height:16px">STATE</th><th style="height:16px">SYNC</th><th style="height:16px">SRC</th><th style="height:16px">DST</th><th style="height:16px">SRC IP</th><th style="height:16px">DST IP</th><th style="height:16px">SLOT</th><th style="height:16px">TLI</th></tr>
<tr><td class="g" style="height:20.4px;">streaming</td><td class="g" style="height:20.4px;">async</td><td style="height:20.4px"><span class="lk">pg-test-1</span></td><td style="height:20.4px"><span class="lk">pg-test-2</span></td><td class="nm" style="height:20.4px"><span class="lk ip">10.10.10.41</span></td><td class="nm" style="height:20.4px"><span class="lk ip">10.10.10.42</span></td><td style="height:20.4px">pg_test_2</td><td class="nm" style="height:20.4px">5</td></tr>
<tr><td class="g" style="height:20.4px;">streaming</td><td class="g" style="height:20.4px;">async</td><td style="height:20.4px"><span class="lk">pg-test-1</span></td><td style="height:20.4px"><span class="lk">pg-test-3</span></td><td class="nm" style="height:20.4px"><span class="lk ip">10.10.10.41</span></td><td class="nm" style="height:20.4px"><span class="lk ip">10.10.10.43</span></td><td style="height:20.4px">pg_test_3</td><td class="nm" style="height:20.4px">5</td></tr>
<tr><td class="g" style="height:20.4px;">streaming</td><td class="g" style="height:20.4px;">async</td><td style="height:20.4px"><span class="lk">pg-test-1</span></td><td style="height:20.4px"><span class="lk">pg-test-4</span></td><td class="nm" style="height:20.4px"><span class="lk ip">10.10.10.41</span></td><td class="nm" style="height:20.4px"><span class="lk ip">10.10.10.44</span></td><td style="height:20.4px">pg_test_4</td><td class="nm" style="height:20.4px">5</td></tr>
</table>
</div>
<div class="rt" style="top:1605.6px"><svg width="7" height="7" viewBox="0 0 24 24" fill="none" stroke="#3a3f45" stroke-width="3"><path d="M4 9l8 7 8-7"/></svg>Metric</div>
<div class="p" style="left:6px;top:1623px;width:532.2px;height:145px">
<div class="pt">CPU Usage<svg width="9" height="9" viewBox="0 0 24 24" fill="none" stroke="#5a5f66" stroke-width="1.8"><circle cx="12" cy="12" r="9.5"/><path d="M12 11v6M12 7v1.2"/></svg></div>
<svg class="a" style="left:-1px;top:-1px" width="532.2" height="145" viewBox="6 1623 532.2 145" >
<rect x="32.9" y="1650.3" width="375.5" height="7.6" fill="#f2e5f8" />
<rect x="32.9" y="1657.9" width="375.5" height="28.11" fill="#fbe3e4" />
<rect x="32.9" y="1686.01" width="375.5" height="65.59" fill="#e6f0e3" />
<path d="M32.9 1751.6L408.4 1751.6" stroke="#dcdcdc" stroke-width="0.5" fill="none" />
<text x="27.9" y="1754.2" text-anchor="end" class="ax" >0%</text>
<path d="M32.9 1732.86L408.4 1732.86" stroke="#dcdcdc" stroke-width="0.5" fill="none" />
<text x="27.9" y="1735.46" text-anchor="end" class="ax" >20%</text>
<path d="M32.9 1714.12L408.4 1714.12" stroke="#dcdcdc" stroke-width="0.5" fill="none" />
<text x="27.9" y="1716.72" text-anchor="end" class="ax" >40%</text>
<path d="M32.9 1695.38L408.4 1695.38" stroke="#dcdcdc" stroke-width="0.5" fill="none" />
<text x="27.9" y="1697.98" text-anchor="end" class="ax" >60%</text>
<path d="M32.9 1676.64L408.4 1676.64" stroke="#dcdcdc" stroke-width="0.5" fill="none" />
<text x="27.9" y="1679.24" text-anchor="end" class="ax" >80%</text>
<path d="M32.9 1657.9L408.4 1657.9" stroke="#dcdcdc" stroke-width="0.5" fill="none" />
<text x="27.9" y="1660.5" text-anchor="end" class="ax" >100%</text>
<path d="M41.6 1650.3L41.6 1751.6" stroke="#dcdcdc" stroke-width="0.5" fill="none" />
<text x="41.6" y="1762.9" text-anchor="middle" class="ax" >13:00</text>
<path d="M72.9 1650.3L72.9 1751.6" stroke="#dcdcdc" stroke-width="0.5" fill="none" />
<text x="72.9" y="1762.9" text-anchor="middle" class="ax" >13:05</text>
<path d="M104.2 1650.3L104.2 1751.6" stroke="#dcdcdc" stroke-width="0.5" fill="none" />
<text x="104.2" y="1762.9" text-anchor="middle" class="ax" >13:10</text>
<path d="M135.5 1650.3L135.5 1751.6" stroke="#dcdcdc" stroke-width="0.5" fill="none" />
<text x="135.5" y="1762.9" text-anchor="middle" class="ax" >13:15</text>
<path d="M166.8 1650.3L166.8 1751.6" stroke="#dcdcdc" stroke-width="0.5" fill="none" />
<text x="166.8" y="1762.9" text-anchor="middle" class="ax" >13:20</text>
<path d="M198.1 1650.3L198.1 1751.6" stroke="#dcdcdc" stroke-width="0.5" fill="none" />
<text x="198.1" y="1762.9" text-anchor="middle" class="ax" >13:25</text>
<path d="M229.4 1650.3L229.4 1751.6" stroke="#dcdcdc" stroke-width="0.5" fill="none" />
<text x="229.4" y="1762.9" text-anchor="middle" class="ax" >13:30</text>
<path d="M260.7 1650.3L260.7 1751.6" stroke="#dcdcdc" stroke-width="0.5" fill="none" />
<text x="260.7" y="1762.9" text-anchor="middle" class="ax" >13:35</text>
<path d="M292 1650.3L292 1751.6" stroke="#dcdcdc" stroke-width="0.5" fill="none" />
<text x="292" y="1762.9" text-anchor="middle" class="ax" >13:40</text>
<path d="M323.3 1650.3L323.3 1751.6" stroke="#dcdcdc" stroke-width="0.5" fill="none" />
<text x="323.3" y="1762.9" text-anchor="middle" class="ax" >13:45</text>
<path d="M354.6 1650.3L354.6 1751.6" stroke="#dcdcdc" stroke-width="0.5" fill="none" />
<text x="354.6" y="1762.9" text-anchor="middle" class="ax" >13:50</text>
<path d="M385.9 1650.3L385.9 1751.6" stroke="#dcdcdc" stroke-width="0.5" fill="none" />
<text x="385.9" y="1762.9" text-anchor="middle" class="ax" >13:55</text>
<path d="M32.9 1748.8L113.6 1748.8L119.8 1746.9L135.5 1744.1L190 1743.2L221.9 1683.2L259.4 1683.2L262 1686L273.2 1678.5L278.2 1679.5L293.9 1709.4L306.4 1739.4L329.6 1725.4L348.3 1717.9L364 1705.7L373.4 1707.6L385.9 1701.9L395.3 1702.9L408.4 1700.1L408.44 1751.6L32.9 1751.6Z" fill="#a9aaa6" fill-opacity="0.5" stroke="none"/>
<path d="M32.9 1748.8L34.5 1748.8L36 1748.6L37.6 1748.8L39.2 1748.8L40.7 1748.7L42.3 1749L43.9 1748.8L45.4 1748.7L47 1748.6L48.5 1749L50.1 1748.9L51.7 1749L53.2 1748.6L54.8 1748.7L56.4 1749L57.9 1748.5L59.5 1748.5L61.1 1748.7L62.6 1748.7L64.2 1749L65.8 1749.1L67.3 1748.8L68.9 1749L70.5 1749L72 1748.9L73.6 1749.1L75.2 1748.8L76.7 1748.8L78.3 1748.6L79.8 1748.8L81.4 1748.7L83 1748.8L84.5 1748.7L86.1 1748.8L87.7 1748.9L89.2 1748.5L90.8 1748.5L92.4 1748.6L93.9 1748.7L95.5 1748.9L97.1 1748.9L98.6 1748.9L100.2 1749L101.8 1748.6L103.3 1748.8L104.9 1748.6L106.5 1748.9L108 1748.5L109.6 1748.6L111.1 1749.1L112.7 1749L114.3 1747.9L115.8 1746.6L117.4 1744.8L119 1743.6L120.5 1742.9L122.1 1742.6L123.7 1742.5L125.2 1742.8L126.8 1742.9L128.4 1742.8L129.9 1742.4L131.5 1742.6L133.1 1742.9L134.6 1742.8L136.2 1742.9L137.8 1742.9L139.3 1742.5L140.9 1742.9L142.4 1742.7L144 1742.7L145.6 1742.9L147.1 1742.6L148.7 1742.9L150.3 1742.6L151.8 1742.9L153.4 1742.7L155 1742.9L156.5 1742.8L158.1 1742.4L159.7 1742.5L161.2 1742.8L162.8 1742.5L164.4 1742.9L165.9 1742.8L167.5 1742.5L169.1 1742.6L170.6 1742.9L172.2 1742.4L173.7 1742.9L175.3 1742.8L176.9 1742.5L178.4 1742.8L180 1742.8L181.6 1742.9L183.1 1742.9L184.7 1742.7L186.3 1742.8L187.8 1742.6L189.4 1742.8L191 1737.3L192.5 1714.5L194.1 1692.3L195.7 1669.7L197.2 1661.4L198.8 1661.8L200.4 1661.8L201.9 1661.4L203.5 1661.5L205 1661.8L206.6 1661.8L208.2 1661.5L209.7 1661.4L211.3 1661.8L212.9 1661.4L214.4 1661.4L216 1661.6L217.6 1661.7L219.1 1661.9L220.7 1661.9L222.3 1661.4L223.8 1661.8L225.4 1661.5L227 1661.8L228.5 1661.5L230.1 1661.6L231.7 1661.8L233.2 1661.8L234.8 1661.5L236.3 1661.9L237.9 1661.8L239.5 1661.6L241 1661.4L242.6 1661.6L244.2 1661.8L245.7 1661.4L247.3 1661.8L248.9 1661.9L250.4 1661.8L252 1661.7L253.6 1661.9L255.1 1661.8L256.7 1661.7L258.3 1668.5L259.8 1675L261.4 1675.2L263 1675.1L264.5 1675.3L266.1 1668.1L267.6 1661.5L269.2 1661.6L270.8 1661.9L272.3 1661.9L273.9 1661.9L275.5 1673.4L277 1692.3L278.6 1710.9L280.2 1730.1L281.7 1744L283.3 1744.1L284.9 1744L286.4 1744.2L288 1743.8L289.6 1744.3L291.1 1744.1L292.7 1744L294.3 1743.9L295.8 1744L297.4 1744L298.9 1743.9L300.5 1743.9L302.1 1744.2L303.6 1742.9L305.2 1738.1L306.8 1733.4L308.3 1729L309.9 1724.1L311.5 1721.4L313 1721.5L314.6 1721.5L316.2 1721.5L317.7 1721.4L319.3 1721.3L320.9 1721.6L322.4 1721.2L324 1721L325.6 1721L327.1 1721.1L328.7 1721.2L330.2 1721L331.8 1721L333.4 1721.1L334.9 1720.8L336.5 1721.2L338.1 1720.8L339.6 1721.2L341.2 1720.8L342.8 1720.8L344.3 1720.9L345.9 1720.6L347.5 1720.7L349 1720.3L350.6 1719.4L352.2 1719.1L353.7 1718.5L355.3 1717.6L356.9 1716.8L358.4 1716.8L360 1716.6L361.5 1715.9L363.1 1716.4L364.7 1718.6L366.2 1720.5L367.8 1722.9L369.4 1724.4L370.9 1725.2L372.5 1724.8L374.1 1722.3L375.6 1719.9L377.2 1714.9L378.8 1706.8L380.3 1698.3L381.9 1690.4L383.5 1682.6L385 1674.5L386.6 1672.7L388.2 1679.2L389.7 1685.7L391.3 1691.2L392.8 1694.9L394.4 1698.2L396 1701.3L397.5 1704L399.1 1704.1L400.7 1704.2L402.2 1704.2L403.8 1704.4L405.4 1704.6L406.9 1704.4L408.5 1704.5" fill="none" stroke="#5794f2" stroke-width="0.65" stroke-linejoin="round" />
<path d="M32.9 1748.8L34.5 1748.7L36 1748.7L37.6 1749L39.2 1749.1L40.7 1748.9L42.3 1748.9L43.9 1748.6L45.4 1748.7L47 1748.7L48.5 1748.8L50.1 1748.7L51.7 1749L53.2 1748.8L54.8 1749L56.4 1748.6L57.9 1749L59.5 1748.6L61.1 1749L62.6 1748.7L64.2 1748.9L65.8 1748.8L67.3 1748.6L68.9 1749.1L70.5 1749L72 1748.6L73.6 1748.8L75.2 1749L76.7 1748.5L78.3 1748.5L79.8 1749L81.4 1748.8L83 1749L84.5 1748.9L86.1 1748.7L87.7 1749L89.2 1748.7L90.8 1749L92.4 1749L93.9 1748.6L95.5 1748.8L97.1 1748.8L98.6 1748.7L100.2 1748.8L101.8 1748.9L103.3 1749.1L104.9 1748.7L106.5 1748.5L108 1748.5L109.6 1748.7L111.1 1748.9L112.7 1748.9L114.3 1748.1L115.8 1746.7L117.4 1745.6L119 1744.1L120.5 1743.2L122.1 1743.2L123.7 1743L125.2 1743.2L126.8 1743.4L128.4 1743L129.9 1743.2L131.5 1743.2L133.1 1743.3L134.6 1743.2L136.2 1743.2L137.8 1743L139.3 1743.4L140.9 1743.1L142.4 1743.3L144 1743.1L145.6 1743.4L147.1 1743.3L148.7 1743.3L150.3 1743.1L151.8 1743.4L153.4 1743.2L155 1743.3L156.5 1743.3L158.1 1743.2L159.7 1742.9L161.2 1743.2L162.8 1742.9L164.4 1743.4L165.9 1742.9L167.5 1743.2L169.1 1743.3L170.6 1743L172.2 1742.9L173.7 1743.4L175.3 1743.3L176.9 1743L178.4 1743.3L180 1743.3L181.6 1743.4L183.1 1743.4L184.7 1743.1L186.3 1742.9L187.8 1742.9L189.4 1743.2L191 1738.5L192.5 1718L194.1 1697.4L195.7 1676.9L197.2 1661.6L198.8 1661.8L200.4 1661.6L201.9 1661.7L203.5 1661.6L205 1661.8L206.6 1661.4L208.2 1661.4L209.7 1661.8L211.3 1661.8L212.9 1661.4L214.4 1661.8L216 1661.4L217.6 1661.6L219.1 1661.5L220.7 1661.5L222.3 1661.8L223.8 1661.8L225.4 1661.8L227 1661.5L228.5 1661.5L230.1 1661.9L231.7 1661.4L233.2 1661.7L234.8 1661.8L236.3 1661.7L237.9 1661.4L239.5 1661.6L241 1661.6L242.6 1661.4L244.2 1661.4L245.7 1661.5L247.3 1661.7L248.9 1661.6L250.4 1661.4L252 1661.5L253.6 1661.6L255.1 1661.7L256.7 1661.7L258.3 1665.4L259.8 1674.3L261.4 1676.2L263 1676.1L264.5 1676.2L266.1 1673.5L267.6 1661.4L269.2 1661.4L270.8 1661.6L272.3 1661.5L273.9 1661.7L275.5 1666.4L277 1685.2L278.6 1704.2L280.2 1722.8L281.7 1741.9L283.3 1745L284.9 1745L286.4 1745.3L288 1745L289.6 1744.9L291.1 1745.1L292.7 1745.2L294.3 1745.1L295.8 1745.1L297.4 1744.9L298.9 1745.2L300.5 1745.3L302.1 1745.1L303.6 1743.8L305.2 1738.8L306.8 1734L308.3 1729L309.9 1724.4L311.5 1721.9L313 1721.6L314.6 1721.6L316.2 1721.7L317.7 1721.3L319.3 1721.5L320.9 1721.5L322.4 1721.4L324 1721L325.6 1721.5L327.1 1721.3L328.7 1721.3L330.2 1721.3L331.8 1721.1L333.4 1721.2L334.9 1720.8L336.5 1721L338.1 1720.8L339.6 1721.1L341.2 1720.9L342.8 1720.8L344.3 1720.6L345.9 1720.9L347.5 1720.7L349 1720.2L350.6 1719.5L352.2 1719.1L353.7 1718.2L355.3 1717.3L356.9 1716.9L358.4 1716.3L360 1715.8L361.5 1715.1L363.1 1715.4L364.7 1717L366.2 1718.8L367.8 1720.2L369.4 1721.8L370.9 1722.2L372.5 1722.2L374.1 1720.6L375.6 1719L377.2 1713.1L378.8 1701.7L380.3 1692.9L381.9 1687.2L383.5 1680.9L385 1678L386.6 1682.6L388.2 1687.8L389.7 1692.5L391.3 1696.2L392.8 1700.2L394.4 1704.5L396 1706.9L397.5 1706.9L399.1 1707L400.7 1707.3L402.2 1707.5L403.8 1707.9L405.4 1708L406.9 1708.4L408.5 1708.6" fill="none" stroke="#ff780a" stroke-width="0.65" stroke-linejoin="round" />
<path d="M32.9 1748.9L34.5 1748.7L36 1748.7L37.6 1748.6L39.2 1749L40.7 1748.9L42.3 1749L43.9 1748.9L45.4 1748.7L47 1749L48.5 1748.8L50.1 1748.9L51.7 1748.9L53.2 1748.8L54.8 1748.6L56.4 1748.7L57.9 1749.1L59.5 1748.9L61.1 1749L62.6 1748.6L64.2 1748.6L65.8 1748.6L67.3 1748.6L68.9 1748.7L70.5 1748.5L72 1748.6L73.6 1748.9L75.2 1748.6L76.7 1748.8L78.3 1748.6L79.8 1748.8L81.4 1748.8L83 1748.9L84.5 1748.8L86.1 1748.9L87.7 1749L89.2 1748.6L90.8 1748.6L92.4 1748.5L93.9 1748.7L95.5 1748.8L97.1 1748.6L98.6 1749L100.2 1748.7L101.8 1748.8L103.3 1749L104.9 1749L106.5 1748.8L108 1748.9L109.6 1748.8L111.1 1748.7L112.7 1748.8L114.3 1748.8L115.8 1748.1L117.4 1747.8L119 1747.3L120.5 1747.1L122.1 1747L123.7 1747.2L125.2 1746.8L126.8 1746.7L128.4 1747L129.9 1746.8L131.5 1746.7L133.1 1747.2L134.6 1747.1L136.2 1746.7L137.8 1746.7L139.3 1746.8L140.9 1747.1L142.4 1747L144 1746.7L145.6 1746.7L147.1 1746.7L148.7 1747.1L150.3 1746.7L151.8 1747L153.4 1746.8L155 1747.1L156.5 1746.7L158.1 1746.9L159.7 1746.8L161.2 1747.1L162.8 1746.8L164.4 1746.9L165.9 1746.9L167.5 1747L169.1 1746.8L170.6 1747L172.2 1747L173.7 1747.1L175.3 1746.8L176.9 1747.1L178.4 1747.1L180 1747.2L181.6 1746.8L183.1 1746.9L184.7 1746.9L186.3 1747.2L187.8 1746.9L189.4 1747L191 1747.1L192.5 1747.2L194.1 1746.6L195.7 1747.1L197.2 1747L198.8 1747L200.4 1746.9L201.9 1747.2L203.5 1746.9L205 1747L206.6 1746.7L208.2 1747.2L209.7 1747L211.3 1746.9L212.9 1746.7L214.4 1746.9L216 1746.9L217.6 1746.8L219.1 1747L220.7 1747.2L222.3 1746.9L223.8 1746.7L225.4 1746.8L227 1747.1L228.5 1746.8L230.1 1746.7L231.7 1747.1L233.2 1746.9L234.8 1747L236.3 1747.1L237.9 1747L239.5 1747.1L241 1747L242.6 1747.2L244.2 1747L245.7 1747.1L247.3 1746.8L248.9 1746.9L250.4 1747.2L252 1746.8L253.6 1747.1L255.1 1746.9L256.7 1746.9L258.3 1747L259.8 1740.6L261.4 1713.8L263 1687.2L264.5 1671.8L266.1 1672.4L267.6 1672.1L269.2 1672.6L270.8 1672.6L272.3 1672.7L273.9 1673.1L275.5 1676.5L277 1690.7L278.6 1704.9L280.2 1718.9L281.7 1733.1L283.3 1735.9L284.9 1735.7L286.4 1735.9L288 1735.5L289.6 1735.8L291.1 1735.5L292.7 1735.6L294.3 1735.9L295.8 1735.9L297.4 1735.8L298.9 1735.5L300.5 1735.9L302.1 1735.7L303.6 1734.6L305.2 1729.7L306.8 1724.6L308.3 1720L309.9 1714.9L311.5 1712.2L313 1712.1L314.6 1712.4L316.2 1712.2L317.7 1712.6L319.3 1712.6L320.9 1712.6L322.4 1712.6L324 1712.6L325.6 1713.1L327.1 1713.1L328.7 1713L330.2 1712.9L331.8 1713.1L333.4 1712.3L334.9 1709.6L336.5 1707.6L338.1 1705.4L339.6 1703L341.2 1702.2L342.8 1701.8L344.3 1702.2L345.9 1701.8L347.5 1701.7L349 1700.3L350.6 1697.4L352.2 1694.6L353.7 1691.4L355.3 1688.9L356.9 1687.3L358.4 1685.9L360 1684L361.5 1682.8L363.1 1683L364.7 1688.9L366.2 1695.5L367.8 1701.9L369.4 1706.5L370.9 1706.7L372.5 1706.9L374.1 1706.9L375.6 1706.8L377.2 1706.7L378.8 1706.4L380.3 1703.7L381.9 1696.3L383.5 1689.3L385 1682.5L386.6 1680.6L388.2 1686L389.7 1691.4L391.3 1696.3L392.8 1699.6L394.4 1702.6L396 1704.7L397.5 1704.9L399.1 1704.8L400.7 1704.8L402.2 1704.9L403.8 1704.7L405.4 1705L406.9 1704.6L408.5 1704.9" fill="none" stroke="#ffb37d" stroke-width="0.65" stroke-linejoin="round" />
<path d="M32.9 1749L34.5 1748.7L36 1748.7L37.6 1748.5L39.2 1748.9L40.7 1748.9L42.3 1748.7L43.9 1748.7L45.4 1748.9L47 1748.7L48.5 1748.8L50.1 1748.6L51.7 1749L53.2 1748.9L54.8 1748.6L56.4 1748.9L57.9 1748.9L59.5 1748.6L61.1 1748.7L62.6 1749L64.2 1748.8L65.8 1748.7L67.3 1749L68.9 1748.7L70.5 1749L72 1748.9L73.6 1749L75.2 1749L76.7 1748.5L78.3 1748.8L79.8 1748.5L81.4 1748.8L83 1748.7L84.5 1748.6L86.1 1748.7L87.7 1749L89.2 1748.7L90.8 1748.7L92.4 1749L93.9 1749L95.5 1748.6L97.1 1748.8L98.6 1749L100.2 1748.8L101.8 1748.9L103.3 1748.6L104.9 1748.8L106.5 1749L108 1748.6L109.6 1749L111.1 1748.9L112.7 1749.1L114.3 1746.8L115.8 1742.9L117.4 1738.5L119 1734.5L120.5 1731.9L122.1 1731.8L123.7 1732L125.2 1732L126.8 1732L128.4 1732.1L129.9 1732L131.5 1732.3L133.1 1732.1L134.6 1732.3L136.2 1731.9L137.8 1731.9L139.3 1732.4L140.9 1732.4L142.4 1732.1L144 1732.2L145.6 1732.5L147.1 1732.2L148.7 1732.1L150.3 1732.4L151.8 1732.4L153.4 1732.3L155 1732.1L156.5 1732.5L158.1 1732.5L159.7 1732.6L161.2 1732.4L162.8 1732.5L164.4 1732.6L165.9 1732.6L167.5 1732.8L169.1 1732.7L170.6 1732.3L172.2 1732.6L173.7 1732.8L175.3 1732.4L176.9 1732.8L178.4 1732.8L180 1733L181.6 1732.9L183.1 1732.9L184.7 1732.9L186.3 1732.6L187.8 1733L189.4 1733L191 1728.5L192.5 1710.5L194.1 1693.1L195.7 1675L197.2 1661.7L198.8 1661.6L200.4 1661.6L201.9 1661.4L203.5 1661.5L205 1661.6L206.6 1661.5L208.2 1661.7L209.7 1661.7L211.3 1661.4L212.9 1661.6L214.4 1661.5L216 1661.8L217.6 1661.4L219.1 1661.6L220.7 1661.8L222.3 1661.4L223.8 1661.7L225.4 1661.7L227 1661.8L228.5 1661.9L230.1 1661.8L231.7 1661.5L233.2 1661.9L234.8 1661.8L236.3 1661.7L237.9 1661.6L239.5 1661.7L241 1661.5L242.6 1661.8L244.2 1661.7L245.7 1661.7L247.3 1661.9L248.9 1661.8L250.4 1661.8L252 1661.5L253.6 1661.8L255.1 1661.6L256.7 1661.8L258.3 1665.4L259.8 1674.2L261.4 1676L263 1675.9L264.5 1676.4L266.1 1673.6L267.6 1661.9L269.2 1661.7L270.8 1661.8L272.3 1661.7L273.9 1661.4L275.5 1665.9L277 1685.1L278.6 1703.5L280.2 1722.1L281.7 1741.1L283.3 1744.3L284.9 1743.9L286.4 1744.1L288 1743.8L289.6 1743.9L291.1 1743.9L292.7 1743.9L294.3 1744.3L295.8 1743.9L297.4 1744.2L298.9 1744.3L300.5 1744.2L302.1 1744.1L303.6 1743.3L305.2 1738.3L306.8 1733.4L308.3 1728.9L309.9 1724.2L311.5 1721.7L313 1721.4L314.6 1721.8L316.2 1721.5L317.7 1721.5L319.3 1721.9L320.9 1721.3L322.4 1721.8L324 1721.3L325.6 1721.4L327.1 1721.4L328.7 1721.4L330.2 1721.7L331.8 1721.6L333.4 1719.2L334.9 1713.2L336.5 1708.1L338.1 1702.3L339.6 1696.2L341.2 1694.2L342.8 1694L344.3 1693.7L345.9 1693.8L347.5 1693.4L349 1692.7L350.6 1690.6L352.2 1689.2L353.7 1687.1L355.3 1685.4L356.9 1684L358.4 1683L360 1681.6L361.5 1680.1L363.1 1681.4L364.7 1689.2L366.2 1697L367.8 1704.3L369.4 1710.4L370.9 1710.4L372.5 1706.4L374.1 1690.3L375.6 1677.6L377.2 1676.9L378.8 1676.2L380.3 1674.1L381.9 1671.3L383.5 1668.6L385 1672.9L386.6 1677.7L388.2 1683.1L389.7 1689.1L391.3 1695.4L392.8 1701.7L394.4 1706.8L396 1708.3L397.5 1709.8L399.1 1710.3L400.7 1710.5L402.2 1710.6L403.8 1711.1L405.4 1711.1L406.9 1711.1L408.5 1711.4" fill="none" stroke="#e02f44" stroke-width="0.65" stroke-linejoin="round" />
</svg>
<div class="lgh" style="left:432.2px;width:60px;top:24.35px;height:10px;line-height:10px">Max</div>
<div class="lgh" style="left:461.2px;width:60px;top:24.35px;height:10px;line-height:10px">Last</div>
<div class="a" style="left:406.4px;top:34.82px;width:120px;height:0;border-top:1px solid #eeeff0"></div>
<div class="lg" style="left:406.4px;top:37.1px;height:10px;line-height:10px;padding-left:17.2px;font-size:7.2px"><i style="background:#d8d9da;left:4px"></i>cluster</div>
<div class="lg nv" style="left:432.2px;width:60px;text-align:right;top:37.1px;height:10px;line-height:10px;font-size:7.2px">79.2%</div>
<div class="lg nv" style="left:461.2px;width:60px;text-align:right;top:37.1px;height:10px;line-height:10px;font-size:7.2px">55.1%</div>
<div class="a" style="left:406.4px;top:48.37px;width:120px;height:0;border-top:1px solid #eeeff0"></div>
<div class="lg" style="left:406.4px;top:50.65px;height:10px;line-height:10px;padding-left:17.2px;font-size:7.2px"><i style="background:#ffb37d;left:4px"></i>pg-test-1 <svg width="7" height="7" viewBox="0 0 14 14" style="vertical-align:-.5px"><path d="M7 .5l2 4.300 4.600.6-3.400 3.200.9 4.700L7 11l-4.100 2.300.9-4.700L.4 5.400 5 4.800z" fill="#fcc934"/></svg></div>
<div class="lg nv" style="left:432.2px;width:60px;text-align:right;top:50.65px;height:10px;line-height:10px;font-size:7.2px">85.4%</div>
<div class="lg nv" style="left:461.2px;width:60px;text-align:right;top:50.65px;height:10px;line-height:10px;font-size:7.2px">50.0%</div>
<div class="a" style="left:406.4px;top:61.92px;width:120px;height:0;border-top:1px solid #eeeff0"></div>
<div class="lg" style="left:406.4px;top:64.2px;height:10px;line-height:10px;padding-left:17.2px;font-size:7.2px"><i style="background:#5794f2;left:4px"></i>pg-test-2</div>
<div class="lg nv" style="left:432.2px;width:60px;text-align:right;top:64.2px;height:10px;line-height:10px;font-size:7.2px">96.6%</div>
<div class="lg nv" style="left:461.2px;width:60px;text-align:right;top:64.2px;height:10px;line-height:10px;font-size:7.2px">50.4%</div>
<div class="a" style="left:406.4px;top:75.47px;width:120px;height:0;border-top:1px solid #eeeff0"></div>
<div class="lg" style="left:406.4px;top:77.75px;height:10px;line-height:10px;padding-left:17.2px;font-size:7.2px"><i style="background:#ff780a;left:4px"></i>pg-test-3</div>
<div class="lg nv" style="left:432.2px;width:60px;text-align:right;top:77.75px;height:10px;line-height:10px;font-size:7.2px">96.4%</div>
<div class="lg nv" style="left:461.2px;width:60px;text-align:right;top:77.75px;height:10px;line-height:10px;font-size:7.2px">46.3%</div>
<div class="a" style="left:406.4px;top:89.02px;width:120px;height:0;border-top:1px solid #eeeff0"></div>
<div class="lg" style="left:406.4px;top:91.3px;height:10px;line-height:10px;padding-left:17.2px;font-size:7.2px"><i style="background:#e02f44;left:4px"></i>pg-test-4</div>
<div class="lg nv" style="left:432.2px;width:60px;text-align:right;top:91.3px;height:10px;line-height:10px;font-size:7.2px">97.3%</div>
<div class="lg nv" style="left:461.2px;width:60px;text-align:right;top:91.3px;height:10px;line-height:10px;font-size:7.2px">43.1%</div>
<div class="a" style="left:406.4px;top:102.57px;width:120px;height:0;border-top:1px solid #eeeff0"></div>
</div>
<div class="p" style="left:543.6px;top:1623px;width:531.7px;height:145px">
<div class="pt">Xacts (5m)<svg width="9" height="9" viewBox="0 0 24 24" fill="none" stroke="#5a5f66" stroke-width="1.8"><circle cx="12" cy="12" r="9.5"/><path d="M12 11v6M12 7v1.2"/></svg></div>
<svg class="a" style="left:-1px;top:-1px" width="531.7" height="145" viewBox="543.6 1623 531.7 145" >
<path d="M568.1 1751.9L974.5 1751.9" stroke="#eceded" stroke-width="0.5" fill="none" />
<text x="563.1" y="1754.5" text-anchor="end" class="ax" >0</text>
<path d="M568.1 1726.5L974.5 1726.5" stroke="#eceded" stroke-width="0.5" fill="none" />
<text x="563.1" y="1729.1" text-anchor="end" class="ax" >5 K</text>
<path d="M568.1 1701.1L974.5 1701.1" stroke="#eceded" stroke-width="0.5" fill="none" />
<text x="563.1" y="1703.7" text-anchor="end" class="ax" >10 K</text>
<path d="M568.1 1675.7L974.5 1675.7" stroke="#eceded" stroke-width="0.5" fill="none" />
<text x="563.1" y="1678.3" text-anchor="end" class="ax" >15 K</text>
<path d="M568.1 1650.3L974.5 1650.3" stroke="#eceded" stroke-width="0.5" fill="none" />
<text x="563.1" y="1652.9" text-anchor="end" class="ax" >20 K</text>
<path d="M577.4 1650.3L577.4 1751.9" stroke="#eceded" stroke-width="0.5" fill="none" />
<text x="577.4" y="1762.9" text-anchor="middle" class="ax" >13:00</text>
<path d="M611.35 1650.3L611.35 1751.9" stroke="#eceded" stroke-width="0.5" fill="none" />
<text x="611.35" y="1762.9" text-anchor="middle" class="ax" >13:05</text>
<path d="M645.3 1650.3L645.3 1751.9" stroke="#eceded" stroke-width="0.5" fill="none" />
<text x="645.3" y="1762.9" text-anchor="middle" class="ax" >13:10</text>
<path d="M679.25 1650.3L679.25 1751.9" stroke="#eceded" stroke-width="0.5" fill="none" />
<text x="679.25" y="1762.9" text-anchor="middle" class="ax" >13:15</text>
<path d="M713.2 1650.3L713.2 1751.9" stroke="#eceded" stroke-width="0.5" fill="none" />
<text x="713.2" y="1762.9" text-anchor="middle" class="ax" >13:20</text>
<path d="M747.15 1650.3L747.15 1751.9" stroke="#eceded" stroke-width="0.5" fill="none" />
<text x="747.15" y="1762.9" text-anchor="middle" class="ax" >13:25</text>
<path d="M781.1 1650.3L781.1 1751.9" stroke="#eceded" stroke-width="0.5" fill="none" />
<text x="781.1" y="1762.9" text-anchor="middle" class="ax" >13:30</text>
<path d="M815.05 1650.3L815.05 1751.9" stroke="#eceded" stroke-width="0.5" fill="none" />
<text x="815.05" y="1762.9" text-anchor="middle" class="ax" >13:35</text>
<path d="M849 1650.3L849 1751.9" stroke="#eceded" stroke-width="0.5" fill="none" />
<text x="849" y="1762.9" text-anchor="middle" class="ax" >13:40</text>
<path d="M882.95 1650.3L882.95 1751.9" stroke="#eceded" stroke-width="0.5" fill="none" />
<text x="882.95" y="1762.9" text-anchor="middle" class="ax" >13:45</text>
<path d="M916.9 1650.3L916.9 1751.9" stroke="#eceded" stroke-width="0.5" fill="none" />
<text x="916.9" y="1762.9" text-anchor="middle" class="ax" >13:50</text>
<path d="M950.85 1650.3L950.85 1751.9" stroke="#eceded" stroke-width="0.5" fill="none" />
<text x="950.85" y="1762.9" text-anchor="middle" class="ax" >13:55</text>
<path d="M568.1 1751.9L569.5 1751.9L570.8 1751.9L572.2 1751.9L573.5 1751.9L574.9 1751.9L576.2 1751.9L577.6 1751.9L579 1751.9L580.3 1751.8L581.7 1751.8L583 1751.8L584.4 1751.8L585.8 1751.8L587.1 1751.8L588.5 1751.8L589.8 1751.8L591.2 1751.8L592.5 1751.8L593.9 1751.8L595.3 1751.8L596.6 1751.8L598 1751.8L599.3 1751.8L600.7 1751.8L602 1751.7L603.4 1751.7L604.8 1751.7L606.1 1751.7L607.5 1751.7L608.8 1751.7L610.2 1751.7L611.6 1751.7L612.9 1751.7L614.3 1751.7L615.6 1751.7L617 1751.7L618.3 1751.7L619.7 1751.7L621.1 1751.7L622.4 1751.7L623.8 1751.6L625.1 1751.6L626.5 1751.6L627.8 1751.6L629.2 1751.6L630.6 1751.6L631.9 1751.6L633.3 1751.6L634.6 1751.6L636 1751.6L637.4 1751.6L638.7 1751.6L640.1 1751.6L641.4 1751.6L642.8 1751.6L644.1 1751.6L645.5 1751.5L646.9 1751.5L648.2 1751.5L649.6 1751.5L650.9 1751.5L652.3 1751.5L653.7 1751.5L655 1751.5L656.4 1751.5L657.7 1751.5L659.1 1751.5L660.4 1751.5L661.8 1751.5L663.2 1751.5L664.5 1751.5L665.9 1751.5L667.2 1751.4L668.6 1751.4L669.9 1751.4L671.3 1751.4L672.7 1751.4L674 1751.4L675.4 1751.4L676.7 1751.4L678.1 1751.4L679.5 1751.4L680.8 1751.4L682.2 1751.3L683.5 1751.3L684.9 1751.3L686.2 1751.3L687.6 1751.2L689 1751.2L690.3 1751.2L691.7 1751.2L693 1751.2L694.4 1751.1L695.7 1751.1L697.1 1751.1L698.5 1751.1L699.8 1751L701.2 1751L702.5 1751L703.9 1751L705.3 1750.9L706.6 1750.9L708 1750.9L709.3 1750.9L710.7 1750.8L712 1750.8L713.4 1750.8L714.8 1750.8L716.1 1750.8L717.5 1750.7L718.8 1750.7L720.2 1750.7L721.6 1750.7L722.9 1750.6L724.3 1750.6L725.6 1750.6L727 1750.6L728.3 1750.5L729.7 1750.5L731.1 1750.5L732.4 1750.5L733.8 1750.4L735.1 1750.4L736.5 1750.4L737.8 1749.9L739.2 1746.8L740.6 1743.8L741.9 1740.7L743.3 1737.6L744.6 1734.5L746 1731.4L747.4 1728.4L748.7 1725.3L750.1 1722.2L751.4 1719.1L752.8 1716L754.1 1713L755.5 1709.9L756.9 1706.8L758.2 1703.7L759.6 1700.6L760.9 1697.6L762.3 1694.5L763.6 1691.4L765 1688.3L766.4 1685.2L767.7 1682.2L769.1 1679.1L770.4 1676L771.8 1676.5L773.2 1675.2L774.5 1675.3L775.9 1675.7L777.2 1676.3L778.6 1674.9L779.9 1674.8L781.3 1675.5L782.7 1675.5L784 1676.2L785.4 1676.8L786.7 1675.8L788.1 1675.3L789.5 1676.6L790.8 1674.7L792.2 1676.1L793.5 1676.1L794.9 1676.6L796.2 1674.1L797.6 1674.7L799 1674.4L800.3 1675L801.7 1676.5L803 1675.7L804.4 1675.3L805.7 1676.2L807.1 1674.1L808.5 1675.5L809.8 1676.1L811.2 1670.4L812.5 1667.1L813.9 1665.9L815.3 1667.9L816.6 1668.4L818 1669.7L819.3 1669.6L820.7 1670.4L822 1670.8L823.4 1668.7L824.8 1670.3L826.1 1668.9L827.5 1670.3L828.8 1668.4L830.2 1668.6L831.5 1671L832.9 1674.4L834.3 1677.8L835.6 1681.2L837 1684.6L838.3 1688L839.7 1691.4L841.1 1694.8L842.4 1698.2L843.8 1701.6L845.1 1704.7L846.5 1707.8L847.8 1710.9L849.2 1714.1L850.6 1717.2L851.9 1720.3L853.3 1724L854.6 1728L856 1732L857.4 1736L858.7 1740L860.1 1744L861.4 1748L862.8 1748.6L864.1 1747.5L865.5 1746.4L866.9 1745.3L868.2 1744.2L869.6 1743.1L870.9 1742L872.3 1740.8L873.6 1739.7L875 1738.6L876.4 1737.6L877.7 1736.7L879.1 1735.9L880.4 1735.1L881.8 1734.2L883.2 1733.4L884.5 1732.6L885.9 1731.8L887.2 1730.9L888.6 1730.1L889.9 1729.3L891.3 1728.4L892.7 1727.6L894 1726.8L895.4 1726.3L896.7 1726.1L898.1 1725.8L899.4 1725.5L900.8 1725.3L902.2 1725L903.5 1724.7L904.9 1724.5L906.2 1724.2L907.6 1723.9L909 1723.7L910.3 1723.4L911.7 1723.2L913 1723L914.4 1722.8L915.7 1722.6L917.1 1722.4L918.5 1722.2L919.8 1722L921.2 1721.8L922.5 1721.6L923.9 1721.4L925.3 1721.2L926.6 1721L928 1721.3L929.3 1721.9L930.7 1722.5L932 1723.1L933.4 1723.7L934.8 1724.4L936.1 1725L937.5 1725.6L938.8 1726.2L940.2 1726.8L941.5 1726.3L942.9 1725.3L944.3 1724.3L945.6 1723.3L947 1722.3L948.3 1721.9L949.7 1721.9L951.1 1721.9L952.4 1721.9L953.8 1721.9L955.1 1721.9L956.5 1721.9L957.8 1721.9L959.2 1721.7L960.6 1721.5L961.9 1721.3L963.3 1721.1L964.6 1720.8L966 1720.6L967.3 1720.4L968.7 1720.2L970.1 1720L971.4 1719.8L972.8 1719.6L974.1 1719.4L974.14 1751.9L568.1 1751.9Z" fill="#cfe2fb" fill-opacity="0.45" stroke="none"/>
<path d="M568.1 1751.7L569.5 1751.9L570.8 1751.9L572.2 1751.6L573.5 1751.9L574.9 1751.9L576.2 1751.8L577.6 1751.9L579 1751.6L580.3 1751.9L581.7 1751.6L583 1751.9L584.4 1751.7L585.8 1751.6L587.1 1751.7L588.5 1751.5L589.8 1751.6L591.2 1751.9L592.5 1751.5L593.9 1751.7L595.3 1751.8L596.6 1751.9L598 1751.5L599.3 1751.6L600.7 1751.5L602 1751.5L603.4 1751.4L604.8 1751.6L606.1 1751.5L607.5 1751.6L608.8 1751.7L610.2 1751.4L611.6 1751.7L612.9 1751.4L614.3 1751.4L615.6 1751.5L617 1751.7L618.3 1751.4L619.7 1751.5L621.1 1751.7L622.4 1751.8L623.8 1751.5L625.1 1751.7L626.5 1751.3L627.8 1751.5L629.2 1751.5L630.6 1751.5L631.9 1751.4L633.3 1751.2L634.6 1751.5L636 1751.5L637.4 1751.4L638.7 1751.5L640.1 1751.4L641.4 1751.4L642.8 1751.4L644.1 1751.3L645.5 1751.4L646.9 1751.6L648.2 1751.1L649.6 1751.4L650.9 1751.4L652.3 1751.4L653.7 1751.1L655 1751.1L656.4 1751.3L657.7 1751.3L659.1 1751.5L660.4 1751.1L661.8 1751.4L663.2 1751.2L664.5 1751.3L665.9 1751.3L667.2 1751.3L668.6 1751.4L669.9 1751.4L671.3 1751.2L672.7 1751L674 1751.1L675.4 1751.3L676.7 1751.1L678.1 1751.4L679.5 1751.2L680.8 1751L682.2 1750.9L683.5 1751.1L684.9 1750.9L686.2 1751.1L687.6 1751.1L689 1751.1L690.3 1750.8L691.7 1751L693 1751.1L694.4 1751L695.7 1751L697.1 1751.1L698.5 1750.9L699.8 1750.9L701.2 1751L702.5 1750.8L703.9 1751.3L705.3 1751L706.6 1751L708 1751.1L709.3 1751.2L710.7 1750.9L712 1751L713.4 1751.1L714.8 1751.2L716.1 1750.7L717.5 1751L718.8 1751.2L720.2 1751.1L721.6 1751.1L722.9 1750.8L724.3 1751.1L725.6 1751L727 1751.1L728.3 1750.9L729.7 1751.1L731.1 1751L732.4 1750.8L733.8 1750.7L735.1 1750.7L736.5 1751.1L737.8 1750.8L739.2 1749.3L740.6 1748.5L741.9 1747.2L743.3 1745.9L744.6 1744.7L746 1743.3L747.4 1742.1L748.7 1741.1L750.1 1740L751.4 1738.8L752.8 1737.6L754.1 1736.4L755.5 1734.9L756.9 1734L758.2 1732.4L759.6 1731.3L760.9 1730.4L762.3 1729L763.6 1727.7L765 1726.8L766.4 1725.4L767.7 1724.4L769.1 1722.8L770.4 1722.2L771.8 1721.8L773.2 1721.6L774.5 1721.7L775.9 1722L777.2 1721.8L778.6 1722L779.9 1721.9L781.3 1721.6L782.7 1721.6L784 1722L785.4 1721.8L786.7 1721.7L788.1 1721.9L789.5 1721.5L790.8 1721.5L792.2 1721.6L793.5 1721.7L794.9 1721.4L796.2 1721.6L797.6 1721.8L799 1721.7L800.3 1721.7L801.7 1721.4L803 1721.5L804.4 1721.4L805.7 1721.3L807.1 1721.2L808.5 1721.6L809.8 1721.5L811.2 1721.2L812.5 1721.5L813.9 1722.1L815.3 1722.3L816.6 1722.9L818 1723.2L819.3 1723.7L820.7 1723.8L822 1724.3L823.4 1724.5L824.8 1724.6L826.1 1725.8L827.5 1726.5L828.8 1727.3L830.2 1728.4L831.5 1729.4L832.9 1730.2L834.3 1731.5L835.6 1732L837 1733.1L838.3 1734L839.7 1734.9L841.1 1736.2L842.4 1737.2L843.8 1738.1L845.1 1738.9L846.5 1739.6L847.8 1740.5L849.2 1741.7L850.6 1742.5L851.9 1743.4L853.3 1744.5L854.6 1745.2L856 1746.1L857.4 1747.1L858.7 1748L860.1 1749L861.4 1750L862.8 1750.3L864.1 1750L865.5 1749.8L866.9 1749.6L868.2 1748.9L869.6 1748.9L870.9 1748.8L872.3 1748.3L873.6 1748.2L875 1747.7L876.4 1747.5L877.7 1747.3L879.1 1746.9L880.4 1746.6L881.8 1746.4L883.2 1745.9L884.5 1745.8L885.9 1745.4L887.2 1745L888.6 1744.7L889.9 1744.7L891.3 1744.6L892.7 1743.8L894 1743.8L895.4 1743.6L896.7 1743.4L898.1 1743.4L899.4 1743.3L900.8 1743.4L902.2 1743.4L903.5 1742.9L904.9 1743L906.2 1743.3L907.6 1743.1L909 1742.9L910.3 1743L911.7 1743.2L913 1743.1L914.4 1743L915.7 1742.7L917.1 1742.9L918.5 1742.9L919.8 1742.8L921.2 1743.1L922.5 1742.7L923.9 1742.7L925.3 1742.7L926.6 1742.8L928 1743.1L929.3 1743.5L930.7 1743.8L932 1744L933.4 1744.2L934.8 1744.3L936.1 1744.9L937.5 1745.1L938.8 1745.3L940.2 1745.6L941.5 1745.9L942.9 1745.2L944.3 1745.1L945.6 1745L947 1744.8L948.3 1744.3L949.7 1743.9L951.1 1743.9L952.4 1743.7L953.8 1743.3L955.1 1743.4L956.5 1743.2L957.8 1742.8L959.2 1742.9L960.6 1742.7L961.9 1742.9L963.3 1742.5L964.6 1742.5L966 1742.7L967.3 1742.4L968.7 1742.3L970.1 1742.2L971.4 1742.1L972.8 1742.2L974.1 1742L974.14 1751.9L568.1 1751.9Z" fill="#d8a0b0" fill-opacity="0.18" stroke="none"/>
<path d="M568.1 1751.6L569.5 1751.9L570.8 1751.9L572.2 1751.6L573.5 1751.9L574.9 1751.9L576.2 1751.8L577.6 1751.9L579 1751.6L580.3 1751.9L581.7 1751.5L583 1751.9L584.4 1751.7L585.8 1751.5L587.1 1751.7L588.5 1751.5L589.8 1751.6L591.2 1751.9L592.5 1751.5L593.9 1751.7L595.3 1751.8L596.6 1751.9L598 1751.5L599.3 1751.6L600.7 1751.4L602 1751.5L603.4 1751.4L604.8 1751.6L606.1 1751.5L607.5 1751.6L608.8 1751.8L610.2 1751.3L611.6 1751.7L612.9 1751.4L614.3 1751.3L615.6 1751.5L617 1751.8L618.3 1751.4L619.7 1751.4L621.1 1751.7L622.4 1751.8L623.8 1751.5L625.1 1751.8L626.5 1751.2L627.8 1751.5L629.2 1751.5L630.6 1751.5L631.9 1751.4L633.3 1751.2L634.6 1751.6L636 1751.5L637.4 1751.4L638.7 1751.5L640.1 1751.3L641.4 1751.4L642.8 1751.4L644.1 1751.3L645.5 1751.4L646.9 1751.6L648.2 1751L649.6 1751.4L650.9 1751.4L652.3 1751.4L653.7 1751.1L655 1751L656.4 1751.3L657.7 1751.3L659.1 1751.5L660.4 1751L661.8 1751.5L663.2 1751.2L664.5 1751.3L665.9 1751.3L667.2 1751.3L668.6 1751.4L669.9 1751.5L671.3 1751.2L672.7 1751L674 1751.1L675.4 1751.3L676.7 1751L678.1 1751.4L679.5 1751.2L680.8 1750.9L682.2 1750.9L683.5 1751.1L684.9 1750.9L686.2 1751.1L687.6 1751.1L689 1751L690.3 1750.8L691.7 1750.9L693 1751.1L694.4 1750.9L695.7 1751L697.1 1751.1L698.5 1750.9L699.8 1750.9L701.2 1751L702.5 1750.8L703.9 1751.3L705.3 1751L706.6 1750.9L708 1751.1L709.3 1751.2L710.7 1750.9L712 1751L713.4 1751.1L714.8 1751.3L716.1 1750.7L717.5 1751.1L718.8 1751.2L720.2 1751.1L721.6 1751.1L722.9 1750.7L724.3 1751.1L725.6 1751.1L727 1751.2L728.3 1750.9L729.7 1751.1L731.1 1751L732.4 1750.8L733.8 1750.6L735.1 1750.7L736.5 1751.2L737.8 1750.8L739.2 1749.3L740.6 1748.6L741.9 1747.3L743.3 1745.9L744.6 1744.7L746 1743.3L747.4 1742.1L748.7 1741.1L750.1 1740L751.4 1738.8L752.8 1737.6L754.1 1736.5L755.5 1734.9L756.9 1734L758.2 1732.4L759.6 1731.3L760.9 1730.5L762.3 1729L763.6 1727.7L765 1726.9L766.4 1725.4L767.7 1724.4L769.1 1722.8L770.4 1722.2L771.8 1721.8L773.2 1721.6L774.5 1721.7L775.9 1722L777.2 1721.8L778.6 1722L779.9 1721.9L781.3 1721.6L782.7 1721.6L784 1722.1L785.4 1721.8L786.7 1721.6L788.1 1721.9L789.5 1721.5L790.8 1721.4L792.2 1721.6L793.5 1721.7L794.9 1721.4L796.2 1721.6L797.6 1721.8L799 1721.7L800.3 1721.8L801.7 1721.3L803 1721.5L804.4 1721.4L805.7 1721.3L807.1 1721.2L808.5 1721.6L809.8 1721.5L811.2 1721.2L812.5 1721.5L813.9 1722.1L815.3 1722.3L816.6 1722.9L818 1723.3L819.3 1723.7L820.7 1723.9L822 1724.3L823.4 1724.5L824.8 1724.6L826.1 1725.8L827.5 1726.5L828.8 1727.3L830.2 1728.4L831.5 1729.4L832.9 1730.2L834.3 1731.6L835.6 1732L837 1733.1L838.3 1733.9L839.7 1734.9L841.1 1736.3L842.4 1737.2L843.8 1738.1L845.1 1738.9L846.5 1739.5L847.8 1740.5L849.2 1741.7L850.6 1742.5L851.9 1743.4L853.3 1744.6L854.6 1745.1L856 1746.1L857.4 1747.1L858.7 1747.9L860.1 1748.9L861.4 1750L862.8 1750.3L864.1 1750L865.5 1749.8L866.9 1749.6L868.2 1748.8L869.6 1748.9L870.9 1748.8L872.3 1748.4L873.6 1748.2L875 1747.7L876.4 1747.5L877.7 1747.3L879.1 1746.9L880.4 1746.6L881.8 1746.4L883.2 1745.8L884.5 1745.9L885.9 1745.4L887.2 1744.9L888.6 1744.6L889.9 1744.7L891.3 1744.6L892.7 1743.8L894 1743.8L895.4 1743.7L896.7 1743.5L898.1 1743.4L899.4 1743.3L900.8 1743.4L902.2 1743.4L903.5 1742.8L904.9 1742.9L906.2 1743.3L907.6 1743.1L909 1742.9L910.3 1743L911.7 1743.3L913 1743.1L914.4 1743L915.7 1742.7L917.1 1742.9L918.5 1742.9L919.8 1742.8L921.2 1743.1L922.5 1742.7L923.9 1742.6L925.3 1742.7L926.6 1742.8L928 1743.1L929.3 1743.6L930.7 1743.8L932 1744.1L933.4 1744.2L934.8 1744.3L936.1 1745L937.5 1745.1L938.8 1745.3L940.2 1745.6L941.5 1745.9L942.9 1745.1L944.3 1745.1L945.6 1745L947 1744.8L948.3 1744.3L949.7 1743.9L951.1 1744L952.4 1743.7L953.8 1743.3L955.1 1743.4L956.5 1743.2L957.8 1742.8L959.2 1742.9L960.6 1742.7L961.9 1742.9L963.3 1742.5L964.6 1742.4L966 1742.7L967.3 1742.4L968.7 1742.3L970.1 1742.2L971.4 1742.1L972.8 1742.3L974.1 1742" fill="none" stroke="#5794f2" stroke-width="0.65" stroke-linejoin="round" />
<path d="M568.1 1751.6L569.5 1751.6L570.8 1751.6L572.2 1751.9L573.5 1751.8L574.9 1751.9L576.2 1751.8L577.6 1751.9L579 1751.9L580.3 1751.9L581.7 1751.9L583 1751.8L584.4 1751.9L585.8 1751.9L587.1 1751.6L588.5 1751.8L589.8 1751.7L591.2 1751.6L592.5 1751.8L593.9 1751.9L595.3 1751.5L596.6 1751.7L598 1751.6L599.3 1751.6L600.7 1751.4L602 1751.8L603.4 1751.5L604.8 1751.7L606.1 1751.6L607.5 1751.5L608.8 1751.7L610.2 1751.9L611.6 1751.6L612.9 1751.5L614.3 1751.5L615.6 1751.6L617 1751.5L618.3 1751.7L619.7 1751.7L621.1 1751.6L622.4 1751.3L623.8 1751.7L625.1 1751.7L626.5 1751.7L627.8 1751.8L629.2 1751.6L630.6 1751.4L631.9 1751.3L633.3 1751.6L634.6 1751.5L636 1751.6L637.4 1751.5L638.7 1751.2L640.1 1751.4L641.4 1751.5L642.8 1751.6L644.1 1751.2L645.5 1751.2L646.9 1751.2L648.2 1751.5L649.6 1751.3L650.9 1751.1L652.3 1751.3L653.7 1751L655 1751.5L656.4 1751L657.7 1751.6L659.1 1751.3L660.4 1751.6L661.8 1751.1L663.2 1751.1L664.5 1751L665.9 1751L667.2 1750.9L668.6 1751.2L669.9 1750.9L671.3 1751L672.7 1751.3L674 1750.9L675.4 1751.2L676.7 1751.3L678.1 1751.4L679.5 1751.2L680.8 1751.3L682.2 1750.9L683.5 1750.8L684.9 1751.3L686.2 1751.3L687.6 1751.1L689 1751.3L690.3 1751.1L691.7 1750.9L693 1751.2L694.4 1751.1L695.7 1750.8L697.1 1751.1L698.5 1751.2L699.8 1750.8L701.2 1750.9L702.5 1750.8L703.9 1750.9L705.3 1751.1L706.6 1750.9L708 1750.8L709.3 1750.9L710.7 1751.2L712 1751.1L713.4 1751L714.8 1750.8L716.1 1750.9L717.5 1750.9L718.8 1750.8L720.2 1751.2L721.6 1750.9L722.9 1751.1L724.3 1750.9L725.6 1750.7L727 1751.1L728.3 1750.6L729.7 1751.2L731.1 1750.9L732.4 1750.9L733.8 1751.1L735.1 1750.9L736.5 1750.9L737.8 1750.7L739.2 1749.4L740.6 1748.6L741.9 1747.2L743.3 1745.7L744.6 1744.9L746 1743.2L747.4 1742.4L748.7 1740.9L750.1 1740L751.4 1738.7L752.8 1737.5L754.1 1736.5L755.5 1734.9L756.9 1733.8L758.2 1732.5L759.6 1731.4L760.9 1730.2L762.3 1729L763.6 1727.9L765 1726.3L766.4 1725.6L767.7 1723.9L769.1 1722.7L770.4 1721.9L771.8 1721.7L773.2 1721.8L774.5 1721.8L775.9 1722L777.2 1722L778.6 1721.9L779.9 1721.9L781.3 1721.5L782.7 1721.9L784 1721.8L785.4 1721.8L786.7 1721.5L788.1 1721.7L789.5 1721.7L790.8 1721.8L792.2 1721.8L793.5 1721.9L794.9 1721.8L796.2 1721.8L797.6 1721.4L799 1721.6L800.3 1721.8L801.7 1721.6L803 1721.8L804.4 1721.5L805.7 1721.5L807.1 1721.3L808.5 1721.6L809.8 1721.2L811.2 1721.6L812.5 1721.4L813.9 1721.9L815.3 1722.6L816.6 1722.5L818 1723.2L819.3 1723.5L820.7 1724L822 1723.9L823.4 1724.7L824.8 1724.7L826.1 1725.7L827.5 1726.4L828.8 1727.6L830.2 1728.7L831.5 1729.1L832.9 1730.2L834.3 1731.5L835.6 1731.9L837 1732.9L838.3 1734.3L839.7 1735.4L841.1 1736L842.4 1737.2L843.8 1737.8L845.1 1738.9L846.5 1739.7L847.8 1740.7L849.2 1741.5L850.6 1742.4L851.9 1743.5L853.3 1744.4L854.6 1745.5L856 1746.5L857.4 1747.5L858.7 1748L860.1 1749.3L861.4 1750.1L862.8 1750.3L864.1 1749.8L865.5 1749.6L866.9 1749.1L868.2 1749.1L869.6 1748.9L870.9 1748.4L872.3 1748.1L873.6 1747.7L875 1747.8L876.4 1747.2L877.7 1746.8L879.1 1746.6L880.4 1746.8L881.8 1746.4L883.2 1745.8L884.5 1745.5L885.9 1745.7L887.2 1745.2L888.6 1744.8L889.9 1744.5L891.3 1744.3L892.7 1744.2L894 1743.8L895.4 1743.8L896.7 1743.4L898.1 1743.3L899.4 1743L900.8 1743.1L902.2 1743.2L903.5 1743.3L904.9 1743.2L906.2 1743L907.6 1743.1L909 1743.3L910.3 1742.8L911.7 1743L913 1742.7L914.4 1742.9L915.7 1742.9L917.1 1743L918.5 1742.8L919.8 1742.6L921.2 1742.6L922.5 1742.7L923.9 1742.9L925.3 1743.1L926.6 1742.6L928 1743L929.3 1743.3L930.7 1743.8L932 1744.2L933.4 1744.2L934.8 1744.2L936.1 1744.6L937.5 1745L938.8 1745.3L940.2 1745.8L941.5 1745.8L942.9 1745.3L944.3 1745.4L945.6 1744.8L947 1744.6L948.3 1744.3L949.7 1744.3L951.1 1744.1L952.4 1743.6L953.8 1743.6L955.1 1743.1L956.5 1743.2L957.8 1743L959.2 1742.8L960.6 1742.8L961.9 1742.8L963.3 1742.9L964.6 1742.7L966 1742.2L967.3 1742.6L968.7 1742.5L970.1 1742.3L971.4 1742.2L972.8 1741.9L974.1 1742.1" fill="none" stroke="#ff780a" stroke-width="0.65" stroke-linejoin="round" />
<path d="M568.1 1751.8L569.5 1751.7L570.8 1751.9L572.2 1751.6L573.5 1751.9L574.9 1751.8L576.2 1751.9L577.6 1751.7L579 1751.9L580.3 1751.7L581.7 1751.7L583 1751.7L584.4 1751.9L585.8 1751.6L587.1 1751.5L588.5 1751.9L589.8 1751.8L591.2 1751.5L592.5 1751.6L593.9 1751.8L595.3 1751.9L596.6 1751.5L598 1751.9L599.3 1751.6L600.7 1751.5L602 1751.9L603.4 1751.8L604.8 1751.9L606.1 1751.7L607.5 1751.8L608.8 1751.5L610.2 1751.4L611.6 1751.8L612.9 1751.5L614.3 1751.9L615.6 1751.9L617 1751.6L618.3 1751.5L619.7 1751.5L621.1 1751.4L622.4 1751.4L623.8 1751.8L625.1 1751.5L626.5 1751.4L627.8 1751.9L629.2 1751.6L630.6 1751.8L631.9 1751.8L633.3 1751.6L634.6 1751.5L636 1751.3L637.4 1751.8L638.7 1751.6L640.1 1751.3L641.4 1751.4L642.8 1751.5L644.1 1751.7L645.5 1751.5L646.9 1751.7L648.2 1751.4L649.6 1751.4L650.9 1751.6L652.3 1751.3L653.7 1751.6L655 1751.5L656.4 1751.3L657.7 1751.6L659.1 1751.7L660.4 1751.4L661.8 1751.5L663.2 1751.2L664.5 1751.6L665.9 1751.5L667.2 1751.7L668.6 1751.5L669.9 1751.5L671.3 1751.5L672.7 1751.3L674 1751.7L675.4 1751.1L676.7 1751.3L678.1 1751.2L679.5 1751.4L680.8 1751.3L682.2 1751.4L683.5 1751.4L684.9 1751.5L686.2 1751.5L687.6 1751.5L689 1751.4L690.3 1751.1L691.7 1751.2L693 1751.2L694.4 1751.6L695.7 1751.5L697.1 1751.3L698.5 1751.2L699.8 1751.4L701.2 1751.2L702.5 1751L703.9 1751.4L705.3 1751.4L706.6 1751.1L708 1751.4L709.3 1751.1L710.7 1751.3L712 1751.5L713.4 1751.3L714.8 1751.5L716.1 1751.1L717.5 1751L718.8 1751.2L720.2 1751L721.6 1751.4L722.9 1751.2L724.3 1751.4L725.6 1751.5L727 1751L728.3 1751.5L729.7 1750.9L731.1 1751.1L732.4 1751L733.8 1751.4L735.1 1750.9L736.5 1751L737.8 1751.3L739.2 1750.6L740.6 1749.9L741.9 1749L743.3 1748.6L744.6 1747.5L746 1747L747.4 1746.2L748.7 1745.9L750.1 1744.9L751.4 1744.4L752.8 1743.6L754.1 1743.1L755.5 1742.1L756.9 1741.5L758.2 1740.8L759.6 1740.5L760.9 1739.9L762.3 1739.2L763.6 1738.6L765 1737.4L766.4 1737.2L767.7 1736.1L769.1 1735.9L770.4 1735.1L771.8 1735.3L773.2 1735.3L774.5 1735L775.9 1735.1L777.2 1734.9L778.6 1735.3L779.9 1735.3L781.3 1735.4L782.7 1735.3L784 1734.8L785.4 1735.1L786.7 1735.2L788.1 1735.2L789.5 1735L790.8 1735L792.2 1735.3L793.5 1735.4L794.9 1735.3L796.2 1734.9L797.6 1735L799 1735.3L800.3 1735.3L801.7 1735.3L803 1735L804.4 1735L805.7 1735.3L807.1 1735.2L808.5 1735.3L809.8 1734.9L811.2 1735.1L812.5 1734.9L813.9 1735.3L815.3 1735L816.6 1734.6L818 1733.9L819.3 1733.7L820.7 1733.4L822 1732.5L823.4 1732L824.8 1732.3L826.1 1732.9L827.5 1733.4L828.8 1733.6L830.2 1733.7L831.5 1734.7L832.9 1735.4L834.3 1736.2L835.6 1737.1L837 1738L838.3 1738.5L839.7 1739.1L841.1 1739.9L842.4 1741L843.8 1741.5L845.1 1742.3L846.5 1743.1L847.8 1743.8L849.2 1744.5L850.6 1744.8L851.9 1745.4L853.3 1746.3L854.6 1746.9L856 1747.5L857.4 1747.7L858.7 1748.2L860.1 1749.1L861.4 1749.6L862.8 1749.5L864.1 1749.6L865.5 1749.1L866.9 1748.8L868.2 1748.3L869.6 1748.4L870.9 1747.7L872.3 1747.8L873.6 1747.2L875 1746.7L876.4 1746.9L877.7 1746.4L879.1 1746.4L880.4 1745.8L881.8 1745.5L883.2 1744.9L884.5 1744.9L885.9 1744.3L887.2 1744.2L888.6 1743.8L889.9 1743.8L891.3 1743.6L892.7 1743L894 1743L895.4 1742.4L896.7 1742.4L898.1 1742L899.4 1741.6L900.8 1741.3L902.2 1741.6L903.5 1741.4L904.9 1741L906.2 1740.5L907.6 1740.7L909 1740.4L910.3 1740.3L911.7 1740.2L913 1739.8L914.4 1739.7L915.7 1739.4L917.1 1739L918.5 1738.9L919.8 1738.9L921.2 1738.5L922.5 1738.3L923.9 1738.1L925.3 1738.8L926.6 1738.8L928 1738.8L929.3 1739.2L930.7 1739.4L932 1739.7L933.4 1739.9L934.8 1740L936.1 1740.2L937.5 1740.5L938.8 1740.7L940.2 1741.1L941.5 1741.2L942.9 1740.8L944.3 1740.1L945.6 1739.8L947 1739.6L948.3 1739.5L949.7 1739.2L951.1 1738.6L952.4 1739L953.8 1739.3L955.1 1739L956.5 1739.7L957.8 1739.5L959.2 1739.9L960.6 1739.9L961.9 1740L963.3 1740.2L964.6 1740L966 1739.5L967.3 1739.6L968.7 1739.4L970.1 1739.2L971.4 1739.2L972.8 1739.7L974.1 1740.3" fill="none" stroke="#e02f44" stroke-width="0.65" stroke-linejoin="round" />
<path d="M568.1 1751.9L812 1751.9L812.3 1741.7L843.9 1741.7L844.2 1751.9L883 1751.6L974.6 1750.5" fill="none" stroke="#f79a5c" stroke-width="0.8" stroke-linejoin="round" />
</svg>
<div class="lgh" style="left:461.9px;width:60px;top:24.35px;height:10px;line-height:10px">Last *</div>
<div class="a" style="left:435.4px;top:34.82px;width:91.5px;height:0;border-top:1px solid #eeeff0"></div>
<div class="lg" style="left:435.4px;top:37.1px;height:10px;line-height:10px;padding-left:17px;font-size:7.2px"><i style="background:#8ab8ff;left:4px"></i>cluster</div>
<div class="lg nv" style="left:461.9px;width:60px;text-align:right;top:37.1px;height:10px;line-height:10px;font-size:7.2px">6.42 K</div>
<div class="a" style="left:435.4px;top:48.37px;width:91.5px;height:0;border-top:1px solid #eeeff0"></div>
<div class="lg" style="left:435.4px;top:50.65px;height:10px;line-height:10px;padding-left:17px;font-size:7.2px"><i style="background:#ffb37d;left:4px"></i>pg-test-1 <svg width="7" height="7" viewBox="0 0 14 14" style="vertical-align:-.5px"><path d="M7 .5l2 4.300 4.600.6-3.400 3.200.9 4.700L7 11l-4.100 2.300.9-4.700L.4 5.400 5 4.800z" fill="#fcc934"/></svg></div>
<div class="lg nv" style="left:461.9px;width:60px;text-align:right;top:50.65px;height:10px;line-height:10px;font-size:7.2px">270</div>
<div class="a" style="left:435.4px;top:61.92px;width:91.5px;height:0;border-top:1px solid #eeeff0"></div>
<div class="lg" style="left:435.4px;top:64.2px;height:10px;line-height:10px;padding-left:17px;font-size:7.2px"><i style="background:#5794f2;left:4px"></i>pg-test-2</div>
<div class="lg nv" style="left:461.9px;width:60px;text-align:right;top:64.2px;height:10px;line-height:10px;font-size:7.2px">1.92 K</div>
<div class="a" style="left:435.4px;top:75.47px;width:91.5px;height:0;border-top:1px solid #eeeff0"></div>
<div class="lg" style="left:435.4px;top:77.75px;height:10px;line-height:10px;padding-left:17px;font-size:7.2px"><i style="background:#ff780a;left:4px"></i>pg-test-3</div>
<div class="lg nv" style="left:461.9px;width:60px;text-align:right;top:77.75px;height:10px;line-height:10px;font-size:7.2px">1.99 K</div>
<div class="a" style="left:435.4px;top:89.02px;width:91.5px;height:0;border-top:1px solid #eeeff0"></div>
<div class="lg" style="left:435.4px;top:91.3px;height:10px;line-height:10px;padding-left:17px;font-size:7.2px"><i style="background:#e02f44;left:4px"></i>pg-test-4</div>
<div class="lg nv" style="left:461.9px;width:60px;text-align:right;top:91.3px;height:10px;line-height:10px;font-size:7.2px">2.24 K</div>
<div class="a" style="left:435.4px;top:102.57px;width:91.5px;height:0;border-top:1px solid #eeeff0"></div>
</div>
<div class="p" style="left:6px;top:1774.4px;width:532.2px;height:145px">
<div class="pt">Session<svg width="9" height="9" viewBox="0 0 24 24" fill="none" stroke="#5a5f66" stroke-width="1.8"><circle cx="12" cy="12" r="9.5"/><path d="M12 11v6M12 7v1.2"/></svg></div>
<svg class="a" style="left:-1px;top:-1px" width="532.2" height="145" viewBox="6 1774.4 532.2 145" >
<defs><linearGradient id="sg4" x1="0" y1="0" x2="0" y2="1"><stop offset="0" stop-color="#fcb481"/><stop offset="1" stop-color="#fb9378"/></linearGradient></defs>
<path d="M26.7 1903.1L445.8 1903.1" stroke="#eceded" stroke-width="0.5" fill="none" />
<text x="20.7" y="1905.7" text-anchor="end" class="ax" >0</text>
<path d="M26.7 1883.8L445.8 1883.8" stroke="#eceded" stroke-width="0.5" fill="none" />
<text x="20.7" y="1886.4" text-anchor="end" class="ax" >20</text>
<path d="M26.7 1864.5L445.8 1864.5" stroke="#eceded" stroke-width="0.5" fill="none" />
<text x="20.7" y="1867.1" text-anchor="end" class="ax" >40</text>
<path d="M26.7 1845.2L445.8 1845.2" stroke="#eceded" stroke-width="0.5" fill="none" />
<text x="20.7" y="1847.8" text-anchor="end" class="ax" >60</text>
<path d="M26.7 1825.9L445.8 1825.9" stroke="#eceded" stroke-width="0.5" fill="none" />
<text x="20.7" y="1828.5" text-anchor="end" class="ax" >80</text>
<path d="M26.7 1806.6L445.8 1806.6" stroke="#eceded" stroke-width="0.5" fill="none" />
<text x="20.7" y="1809.2" text-anchor="end" class="ax" >100</text>
<path d="M36.8 1802.9L36.8 1903.1" stroke="#eceded" stroke-width="0.5" fill="none" />
<text x="36.8" y="1913.5" text-anchor="middle" class="ax" >13:00</text>
<path d="M71.7 1802.9L71.7 1903.1" stroke="#eceded" stroke-width="0.5" fill="none" />
<text x="71.7" y="1913.5" text-anchor="middle" class="ax" >13:05</text>
<path d="M106.6 1802.9L106.6 1903.1" stroke="#eceded" stroke-width="0.5" fill="none" />
<text x="106.6" y="1913.5" text-anchor="middle" class="ax" >13:10</text>
<path d="M141.5 1802.9L141.5 1903.1" stroke="#eceded" stroke-width="0.5" fill="none" />
<text x="141.5" y="1913.5" text-anchor="middle" class="ax" >13:15</text>
<path d="M176.4 1802.9L176.4 1903.1" stroke="#eceded" stroke-width="0.5" fill="none" />
<text x="176.4" y="1913.5" text-anchor="middle" class="ax" >13:20</text>
<path d="M211.3 1802.9L211.3 1903.1" stroke="#eceded" stroke-width="0.5" fill="none" />
<text x="211.3" y="1913.5" text-anchor="middle" class="ax" >13:25</text>
<path d="M246.2 1802.9L246.2 1903.1" stroke="#eceded" stroke-width="0.5" fill="none" />
<text x="246.2" y="1913.5" text-anchor="middle" class="ax" >13:30</text>
<path d="M281.1 1802.9L281.1 1903.1" stroke="#eceded" stroke-width="0.5" fill="none" />
<text x="281.1" y="1913.5" text-anchor="middle" class="ax" >13:35</text>
<path d="M316 1802.9L316 1903.1" stroke="#eceded" stroke-width="0.5" fill="none" />
<text x="316" y="1913.5" text-anchor="middle" class="ax" >13:40</text>
<path d="M350.9 1802.9L350.9 1903.1" stroke="#eceded" stroke-width="0.5" fill="none" />
<text x="350.9" y="1913.5" text-anchor="middle" class="ax" >13:45</text>
<path d="M385.8 1802.9L385.8 1903.1" stroke="#eceded" stroke-width="0.5" fill="none" />
<text x="385.8" y="1913.5" text-anchor="middle" class="ax" >13:50</text>
<path d="M420.7 1802.9L420.7 1903.1" stroke="#eceded" stroke-width="0.5" fill="none" />
<text x="420.7" y="1913.5" text-anchor="middle" class="ax" >13:55</text>
<path d="M26.7 1892.5L115.7 1892.5L115.7 1886.7L119.2 1886.7L119.2 1884.8L124 1884.8L124 1882.8L200.8 1882.8L200.8 1825.9L215.8 1825.9L215.8 1852.9L217.2 1852.9L217.2 1825.9L274.1 1825.9L274.1 1852.9L279.7 1852.9L279.7 1820.1L282.5 1820.1L282.5 1811.4L284.6 1811.4L284.6 1852.9L287.4 1852.9L287.4 1811.4L295.8 1811.4L295.8 1824L297.2 1824L297.2 1837.5L352.3 1837.5L352.3 1852L360 1852L360 1837.5L366.3 1837.5L366.3 1842.3L367.7 1842.3L367.7 1856.8L374.6 1856.8L374.6 1862.6L376 1862.6L376 1874.1L377.4 1874.1L377.4 1858.7L379.5 1858.7L379.5 1872.2L380.9 1872.2L380.9 1851L383 1851L383 1872.2L384.4 1872.2L384.4 1845.2L387.2 1845.2L387.2 1839.4L391.4 1839.4L391.4 1837.5L392.8 1837.5L392.8 1852.9L394.2 1852.9L394.2 1836.5L395.2 1836.5L395.2 1883.8L399.8 1883.8L399.8 1845.2L401.9 1845.2L401.9 1837.5L410.9 1837.5L410.9 1818.2L412.3 1818.2L412.3 1842.3L414.4 1842.3L414.4 1839.4L416.5 1839.4L416.5 1847.1L418.6 1847.1L418.6 1848.1L445.8 1848.1L445.83 1903.1L26.68 1903.1Z" fill="url(#sg4)" fill-opacity="1" stroke="none"/>
<path d="M26.7 1895.9L115.7 1895.9L115.7 1891.5L124 1891.5L124 1889.6L200.8 1889.6L200.8 1852.9L279.7 1852.9L279.7 1835.5L284.6 1835.5L284.6 1852.9L287.4 1852.9L287.4 1835.5L297.2 1835.5L297.2 1852.9L352.3 1852.9L352.3 1867.4L367 1867.4L367 1879.9L380.9 1879.9L380.9 1874.1L385.8 1874.1L385.8 1865.5L394.9 1865.5L394.9 1883.8L399.8 1883.8L399.8 1874.1L411.6 1874.1L411.6 1854.8L415.8 1854.8L415.8 1862.6L445.8 1862.6L445.83 1903.1L26.68 1903.1Z" fill="#a9cbf8" fill-opacity="1" stroke="none"/>
<path d="M26.7 1898.8L115.7 1898.8L115.7 1896.3L200.8 1896.3L200.8 1877L279.7 1877L279.7 1866.4L297.2 1866.4L297.2 1877L352.3 1877L352.3 1882.8L367 1882.8L367 1889.1L380.9 1889.1L380.9 1882.8L385.8 1882.8L385.8 1877L394.9 1877L394.9 1887.7L399.8 1887.7L399.8 1882.8L411.6 1882.8L411.6 1873.2L415.8 1873.2L415.8 1877L445.8 1877L445.83 1903.1L26.68 1903.1Z" fill="#ecbe86" fill-opacity="1" stroke="none"/>
<path d="M26.7 1900.2L279.7 1900.2L279.7 1897.3L380.9 1897.3L380.9 1889.6L445.8 1889.6L445.83 1903.1L26.68 1903.1Z" fill="#a8c99a" fill-opacity="1" stroke="none"/>
</svg>
<div class="lgh" style="left:461.2px;width:60px;top:23.85px;height:10px;line-height:10px">Last *</div>
<div class="a" style="left:444.4px;top:34.32px;width:82px;height:0;border-top:1px solid #eeeff0"></div>
<div class="lg" style="left:444.4px;top:36.6px;height:10px;line-height:10px;padding-left:17px;font-size:7.2px"><i style="background:#56a64b;left:4px"></i>pg-test-1</div>
<div class="lg nv" style="left:461.2px;width:60px;text-align:right;top:36.6px;height:10px;line-height:10px;font-size:7.2px">14</div>
<div class="a" style="left:444.4px;top:47.87px;width:82px;height:0;border-top:1px solid #eeeff0"></div>
<div class="lg" style="left:444.4px;top:50.15px;height:10px;line-height:10px;padding-left:17px;font-size:7.2px"><i style="background:#e0b400;left:4px"></i>pg-test-2</div>
<div class="lg nv" style="left:461.2px;width:60px;text-align:right;top:50.15px;height:10px;line-height:10px;font-size:7.2px">13</div>
<div class="a" style="left:444.4px;top:61.42px;width:82px;height:0;border-top:1px solid #eeeff0"></div>
<div class="lg" style="left:444.4px;top:63.7px;height:10px;line-height:10px;padding-left:17px;font-size:7.2px"><i style="background:#5794f2;left:4px"></i>pg-test-3</div>
<div class="lg nv" style="left:461.2px;width:60px;text-align:right;top:63.7px;height:10px;line-height:10px;font-size:7.2px">15</div>
<div class="a" style="left:444.4px;top:74.97px;width:82px;height:0;border-top:1px solid #eeeff0"></div>
<div class="lg" style="left:444.4px;top:77.25px;height:10px;line-height:10px;padding-left:17px;font-size:7.2px"><i style="background:#ff780a;left:4px"></i>pg-test-4</div>
<div class="lg nv" style="left:461.2px;width:60px;text-align:right;top:77.25px;height:10px;line-height:10px;font-size:7.2px">15</div>
<div class="a" style="left:444.4px;top:88.52px;width:82px;height:0;border-top:1px solid #eeeff0"></div>
</div>
<div class="p" style="left:543.6px;top:1774.4px;width:531.7px;height:145px">
<div class="pt">CRUD<svg width="9" height="9" viewBox="0 0 24 24" fill="none" stroke="#5a5f66" stroke-width="1.8"><circle cx="12" cy="12" r="9.5"/><path d="M12 11v6M12 7v1.2"/></svg><svg width="9" height="9" viewBox="0 0 24 24" fill="none" stroke="#5a5f66" stroke-width="1.8"><path d="M19 13v6.5a1.5 1.5 0 0 1-1.5 1.5h-13A1.5 1.5 0 0 1 3 19.500v-13A1.5 1.5 0 0 1 4.500 5H11M14 3h7v7M21 3l-10 10"/></svg></div>
<svg class="a" style="left:-1px;top:-1px" width="531.7" height="145" viewBox="543.6 1774.4 531.7 145" >
<path d="M583.6 1902.5L1011.9 1902.5" stroke="#eceded" stroke-width="0.5" fill="none" />
<text x="578.6" y="1905.1" text-anchor="end" class="ax" >0 c/s</text>
<path d="M583.6 1883.04L1011.9 1883.04" stroke="#eceded" stroke-width="0.5" fill="none" />
<text x="578.6" y="1885.64" text-anchor="end" class="ax" >2.50K c/s</text>
<path d="M583.6 1863.58L1011.9 1863.58" stroke="#eceded" stroke-width="0.5" fill="none" />
<text x="578.6" y="1866.18" text-anchor="end" class="ax" >5K c/s</text>
<path d="M583.6 1844.12L1011.9 1844.12" stroke="#eceded" stroke-width="0.5" fill="none" />
<text x="578.6" y="1846.72" text-anchor="end" class="ax" >7.50K c/s</text>
<path d="M583.6 1824.66L1011.9 1824.66" stroke="#eceded" stroke-width="0.5" fill="none" />
<text x="578.6" y="1827.26" text-anchor="end" class="ax" >10K c/s</text>
<path d="M583.6 1805.2L1011.9 1805.2" stroke="#eceded" stroke-width="0.5" fill="none" />
<text x="578.6" y="1807.8" text-anchor="end" class="ax" >12.5K c/s</text>
<path d="M594 1802.3L594 1902.5" stroke="#eceded" stroke-width="0.5" fill="none" />
<text x="594" y="1913.5" text-anchor="middle" class="ax" >13:00</text>
<path d="M629.7 1802.3L629.7 1902.5" stroke="#eceded" stroke-width="0.5" fill="none" />
<text x="629.7" y="1913.5" text-anchor="middle" class="ax" >13:05</text>
<path d="M665.4 1802.3L665.4 1902.5" stroke="#eceded" stroke-width="0.5" fill="none" />
<text x="665.4" y="1913.5" text-anchor="middle" class="ax" >13:10</text>
<path d="M701.1 1802.3L701.1 1902.5" stroke="#eceded" stroke-width="0.5" fill="none" />
<text x="701.1" y="1913.5" text-anchor="middle" class="ax" >13:15</text>
<path d="M736.8 1802.3L736.8 1902.5" stroke="#eceded" stroke-width="0.5" fill="none" />
<text x="736.8" y="1913.5" text-anchor="middle" class="ax" >13:20</text>
<path d="M772.5 1802.3L772.5 1902.5" stroke="#eceded" stroke-width="0.5" fill="none" />
<text x="772.5" y="1913.5" text-anchor="middle" class="ax" >13:25</text>
<path d="M808.2 1802.3L808.2 1902.5" stroke="#eceded" stroke-width="0.5" fill="none" />
<text x="808.2" y="1913.5" text-anchor="middle" class="ax" >13:30</text>
<path d="M843.9 1802.3L843.9 1902.5" stroke="#eceded" stroke-width="0.5" fill="none" />
<text x="843.9" y="1913.5" text-anchor="middle" class="ax" >13:35</text>
<path d="M879.6 1802.3L879.6 1902.5" stroke="#eceded" stroke-width="0.5" fill="none" />
<text x="879.6" y="1913.5" text-anchor="middle" class="ax" >13:40</text>
<path d="M915.3 1802.3L915.3 1902.5" stroke="#eceded" stroke-width="0.5" fill="none" />
<text x="915.3" y="1913.5" text-anchor="middle" class="ax" >13:45</text>
<path d="M951 1802.3L951 1902.5" stroke="#eceded" stroke-width="0.5" fill="none" />
<text x="951" y="1913.5" text-anchor="middle" class="ax" >13:50</text>
<path d="M986.7 1802.3L986.7 1902.5" stroke="#eceded" stroke-width="0.5" fill="none" />
<text x="986.7" y="1913.5" text-anchor="middle" class="ax" >13:55</text>
<path d="M583.6 1901.2L585.2 1901.2L586.8 1901L588.4 1900.8L589.9 1901.2L591.5 1901.2L593.1 1901.1L594.6 1900.8L596.2 1901.2L597.8 1900.8L599.4 1900.8L600.9 1901.2L602.5 1900.9L604.1 1901L605.6 1901L607.2 1900.6L608.8 1901.2L610.4 1901.2L611.9 1900.7L613.5 1901L615.1 1901.1L616.6 1901L618.2 1901L619.8 1900.7L621.3 1901.1L622.9 1901.1L624.5 1900.9L626.1 1900.9L627.6 1900.7L629.2 1900.7L630.8 1901L632.3 1901.1L633.9 1900.7L635.5 1900.6L637.1 1901.2L638.6 1900.8L640.2 1900.7L641.8 1900.8L643.3 1901.1L644.9 1900.8L646.5 1900.8L648 1901.1L649.6 1900.9L651.2 1901.1L652.8 1901.2L654.3 1901L655.9 1901L657.5 1901L659 1900.9L660.6 1900.7L662.2 1900.7L663.8 1900.6L665.3 1900.6L666.9 1900.8L668.5 1901.1L670 1901.1L671.6 1900.9L673.2 1900.9L674.8 1900.8L676.3 1899.9L677.9 1898.6L679.5 1897L681 1896.8L682.6 1896.7L684.2 1897.1L685.7 1896.9L687.3 1896.6L688.9 1896.7L690.5 1896.5L692 1897L693.6 1896.8L695.2 1896.6L696.7 1896.9L698.3 1896.6L699.9 1896.8L701.5 1897.1L703 1897.1L704.6 1896.5L706.2 1897.1L707.7 1897L709.3 1896.9L710.9 1896.7L712.5 1896.6L714 1896.8L715.6 1896.8L717.2 1896.6L718.7 1897L720.3 1896.9L721.9 1896.7L723.4 1896.7L725 1897.1L726.6 1897.1L728.2 1897L729.7 1896.7L731.3 1896.7L732.9 1896.5L734.4 1896.7L736 1897L737.6 1896.7L739.2 1896.5L740.7 1896.9L742.3 1897.1L743.9 1896.9L745.4 1897L747 1897L748.6 1897.1L750.2 1897.1L751.7 1896.6L753.3 1897.1L754.9 1896.7L756.4 1897L758 1897L759.6 1896.6L761.1 1895.9L762.7 1873.5L764.3 1853.5L765.9 1843.1L767.4 1832.5L769 1826.8L770.6 1834L772.1 1832.1L773.7 1829.1L775.3 1833L776.9 1829.1L778.4 1833L780 1838.1L781.6 1838.3L783.1 1828L784.7 1828.6L786.3 1825.6L787.9 1829.5L789.4 1831.2L791 1837.6L792.6 1826.9L794.1 1838.4L795.7 1833.6L797.3 1838L798.8 1834.3L800.4 1835.4L802 1833.6L803.6 1829.2L805.1 1831.8L806.7 1836.4L808.3 1828.1L809.8 1828.8L811.4 1827.3L813 1839.7L814.6 1830.7L816.1 1826.3L817.7 1836.2L819.3 1837.1L820.8 1827.6L822.4 1834.6L824 1834L825.6 1827.5L827.1 1834.2L828.7 1837.1L830.3 1836.9L831.8 1834.8L833.4 1829.6L835 1836.4L836.5 1831.9L838.1 1844.6L839.7 1844L841.3 1841.1L842.8 1846.3L844.4 1853.5L846 1848.6L847.5 1839.6L849.1 1837.7L850.7 1836.6L852.3 1828.3L853.8 1830.4L855.4 1827L857 1833.6L858.5 1832.9L860.1 1833.8L861.7 1854.6L863.2 1872.9L864.8 1890.3L866.4 1896.3L868 1896.4L869.5 1896.2L871.1 1896.6L872.7 1896.4L874.2 1896.3L875.8 1896.6L877.4 1896.8L879 1896.9L880.5 1896.7L882.1 1897L883.7 1896.9L885.2 1896.9L886.8 1896.7L888.4 1896.9L890 1897L891.5 1894L893.1 1890.8L894.7 1887.1L896.2 1883.4L897.8 1880.4L899.4 1881.8L900.9 1880.9L902.5 1879L904.1 1881.4L905.7 1879.3L907.2 1882.1L908.8 1878.1L910.4 1879.2L911.9 1880.6L913.5 1877.7L915.1 1878.4L916.7 1881.5L918.2 1880.6L919.8 1879.5L921.4 1877.2L922.9 1880.8L924.5 1881.1L926.1 1876.9L927.7 1874.9L929.2 1870.1L930.8 1867.6L932.4 1867.8L933.9 1868.9L935.5 1869.3L937.1 1865.7L938.6 1867.1L940.2 1866.8L941.8 1866.6L943.4 1865.5L944.9 1864.4L946.5 1864.6L948.1 1864.9L949.6 1866.4L951.2 1865.6L952.8 1865.5L954.4 1861.7L955.9 1864.8L957.5 1862.1L959.1 1860.2L960.6 1862.4L962.2 1861.6L963.8 1861.1L965.4 1858.6L966.9 1863.6L968.5 1866.8L970.1 1874.2L971.6 1869.9L973.2 1869L974.8 1867.1L976.3 1862.1L977.9 1856L979.5 1848.7L981.1 1842.9L982.6 1835.7L984.2 1840.4L985.8 1846.7L987.3 1852.5L988.9 1859.1L990.5 1863.9L992.1 1865.4L993.6 1867.6L995.2 1868.1L996.8 1871.4L998.3 1870.4L999.9 1871.1L1001.5 1870.7L1003.1 1868.1L1004.6 1870.5L1006.2 1871L1007.8 1871.3L1009.3 1870.6L1010.9 1869.7L1010.9 1902.5L583.65 1902.5Z" fill="#cfa9d6" fill-opacity="1" stroke="none"/>
<path d="M583.6 1901.2L585.2 1901.2L586.8 1901L588.4 1900.8L589.9 1901.2L591.5 1901.2L593.1 1901.1L594.6 1900.8L596.2 1901.2L597.8 1900.8L599.4 1900.8L600.9 1901.2L602.5 1900.9L604.1 1901L605.6 1901L607.2 1900.6L608.8 1901.2L610.4 1901.2L611.9 1900.7L613.5 1901L615.1 1901.1L616.6 1901L618.2 1901L619.8 1900.7L621.3 1901.1L622.9 1901.1L624.5 1900.9L626.1 1900.9L627.6 1900.7L629.2 1900.7L630.8 1901L632.3 1901.1L633.9 1900.7L635.5 1900.6L637.1 1901.2L638.6 1900.8L640.2 1900.7L641.8 1900.8L643.3 1901.1L644.9 1900.8L646.5 1900.8L648 1901.1L649.6 1900.9L651.2 1901.1L652.8 1901.2L654.3 1901L655.9 1901L657.5 1901L659 1900.9L660.6 1900.7L662.2 1900.7L663.8 1900.6L665.3 1900.6L666.9 1900.8L668.5 1901.1L670 1901.1L671.6 1900.9L673.2 1900.9L674.8 1900.8L676.3 1899.9L677.9 1898.6L679.5 1897L681 1897L682.6 1896.9L684.2 1897.3L685.7 1897.1L687.3 1896.8L688.9 1897L690.5 1896.7L692 1897.2L693.6 1897.1L695.2 1896.9L696.7 1897.1L698.3 1896.9L699.9 1897L701.5 1897.3L703 1897.3L704.6 1896.8L706.2 1897.3L707.7 1897.2L709.3 1897.2L710.9 1896.9L712.5 1896.8L714 1897.1L715.6 1897.1L717.2 1896.9L718.7 1897.2L720.3 1897.1L721.9 1897L723.4 1897L725 1897.3L726.6 1897.3L728.2 1897.3L729.7 1896.9L731.3 1896.9L732.9 1896.8L734.4 1896.9L736 1897.2L737.6 1896.9L739.2 1896.7L740.7 1897.1L742.3 1897.4L743.9 1897.1L745.4 1897.2L747 1897.3L748.6 1897.3L750.2 1897.3L751.7 1896.8L753.3 1897.3L754.9 1897L756.4 1897.2L758 1897.2L759.6 1896.9L761.1 1896.1L762.7 1873.5L764.3 1853.5L765.9 1843.1L767.4 1832.5L769 1826.8L770.6 1834L772.1 1832.1L773.7 1829.1L775.3 1833L776.9 1829.1L778.4 1833L780 1838.1L781.6 1838.3L783.1 1828L784.7 1828.6L786.3 1825.6L787.9 1829.5L789.4 1831.2L791 1837.6L792.6 1826.9L794.1 1838.4L795.7 1833.6L797.3 1838L798.8 1834.3L800.4 1835.4L802 1833.6L803.6 1829.2L805.1 1831.8L806.7 1836.4L808.3 1828.1L809.8 1828.8L811.4 1827.3L813 1839.7L814.6 1830.7L816.1 1826.3L817.7 1836.2L819.3 1837.1L820.8 1827.6L822.4 1834.6L824 1834L825.6 1827.5L827.1 1834.2L828.7 1837.1L830.3 1836.9L831.8 1834.8L833.4 1829.6L835 1836.4L836.5 1831.9L838.1 1844.6L839.7 1844L841.3 1841.1L842.8 1846.3L844.4 1853.5L846 1848.6L847.5 1839.6L849.1 1837.7L850.7 1836.6L852.3 1828.3L853.8 1830.4L855.4 1827L857 1833.6L858.5 1832.9L860.1 1833.8L861.7 1854.6L863.2 1872.9L864.8 1890.3L866.4 1896.3L868 1896.4L869.5 1896.2L871.1 1896.6L872.7 1896.4L874.2 1896.3L875.8 1896.6L877.4 1896.8L879 1896.9L880.5 1896.7L882.1 1897L883.7 1896.9L885.2 1896.9L886.8 1896.7L888.4 1896.9L890 1897L891.5 1894L893.1 1890.8L894.7 1887.1L896.2 1883.4L897.8 1880.4L899.4 1881.8L900.9 1880.9L902.5 1879L904.1 1881.4L905.7 1879.3L907.2 1882.1L908.8 1878.1L910.4 1879.2L911.9 1880.6L913.5 1877.7L915.1 1878.4L916.7 1881.5L918.2 1880.6L919.8 1879.5L921.4 1877.2L922.9 1880.8L924.5 1881.1L926.1 1876.9L927.7 1874.9L929.2 1870.1L930.8 1868.7L932.4 1869L933.9 1870.1L935.5 1870.5L937.1 1866.9L938.6 1868.3L940.2 1868L941.8 1867.8L943.4 1866.7L944.9 1865.6L946.5 1865.8L948.1 1866L949.6 1867.5L951.2 1868.1L952.8 1868L954.4 1864.2L955.9 1867.3L957.5 1864.6L959.1 1862.7L960.6 1864.8L962.2 1864.1L963.8 1863.6L965.4 1861L966.9 1866.1L968.5 1869.3L970.1 1876.7L971.6 1872.4L973.2 1871.5L974.8 1869.6L976.3 1864.6L977.9 1858.5L979.5 1851.2L981.1 1845.4L982.6 1838.2L984.2 1842.9L985.8 1849.2L987.3 1855L988.9 1861.6L990.5 1866.4L992.1 1867.9L993.6 1870.1L995.2 1870.6L996.8 1873.9L998.3 1872.9L999.9 1873.6L1001.5 1873.2L1003.1 1870.5L1004.6 1873L1006.2 1873.5L1007.8 1873.7L1009.3 1873.1L1010.9 1872.1L1010.9 1902.5L583.65 1902.5Z" fill="#a1bca1" fill-opacity="1" stroke="none"/>
</svg>
<div class="lg" style="left:471.4px;top:21.6px;height:10px;line-height:10px;padding-left:16.2px;font-size:7.2px"><i style="background:#5e9c5e;left:4px"></i>SELECT</div>
<div class="lg" style="left:471.4px;top:34.6px;height:10px;line-height:10px;padding-left:16.2px;font-size:7.2px"><i style="background:#3e668f;left:4px"></i>INSERTED</div>
<div class="lg" style="left:471.4px;top:47.6px;height:10px;line-height:10px;padding-left:16.2px;font-size:7.2px"><i style="background:#b877d9;left:4px"></i>UPDATED</div>
<div class="lg" style="left:471.4px;top:60.6px;height:10px;line-height:10px;padding-left:16.2px;font-size:7.2px"><i style="background:#e0584a;left:4px"></i>DELETED</div>
</div>
<div class="p" style="left:6px;top:1925px;width:532.2px;height:145.5px">
<div class="pt">RT<svg width="9" height="9" viewBox="0 0 24 24" fill="none" stroke="#5a5f66" stroke-width="1.8"><circle cx="12" cy="12" r="9.5"/><path d="M12 11v6M12 7v1.2"/></svg></div>
<svg class="a" style="left:-1px;top:-1px" width="532.2" height="145.5" viewBox="6 1925 532.2 145.5" >
<path d="M40.8 2053.9L431.7 2053.9" stroke="#eceded" stroke-width="0.5" fill="none" />
<text x="35.3" y="2056.5" text-anchor="end" class="ax" >0 s</text>
<path d="M40.8 2035.67L431.7 2035.67" stroke="#eceded" stroke-width="0.5" fill="none" />
<text x="35.3" y="2038.27" text-anchor="end" class="ax" >2.5 ms</text>
<path d="M40.8 2017.44L431.7 2017.44" stroke="#eceded" stroke-width="0.5" fill="none" />
<text x="35.3" y="2020.04" text-anchor="end" class="ax" >5 ms</text>
<path d="M40.8 1999.21L431.7 1999.21" stroke="#eceded" stroke-width="0.5" fill="none" />
<text x="35.3" y="2001.81" text-anchor="end" class="ax" >7.5 ms</text>
<path d="M40.8 1980.98L431.7 1980.98" stroke="#eceded" stroke-width="0.5" fill="none" />
<text x="35.3" y="1983.58" text-anchor="end" class="ax" >10 ms</text>
<path d="M40.8 1962.75L431.7 1962.75" stroke="#eceded" stroke-width="0.5" fill="none" />
<text x="35.3" y="1965.35" text-anchor="end" class="ax" >12.5 ms</text>
<path d="M49.5 1952.3L49.5 2053.9" stroke="#eceded" stroke-width="0.5" fill="none" />
<text x="49.5" y="2064.6" text-anchor="middle" class="ax" >13:00</text>
<path d="M82.12 1952.3L82.12 2053.9" stroke="#eceded" stroke-width="0.5" fill="none" />
<text x="82.12" y="2064.6" text-anchor="middle" class="ax" >13:05</text>
<path d="M114.75 1952.3L114.75 2053.9" stroke="#eceded" stroke-width="0.5" fill="none" />
<text x="114.75" y="2064.6" text-anchor="middle" class="ax" >13:10</text>
<path d="M147.38 1952.3L147.38 2053.9" stroke="#eceded" stroke-width="0.5" fill="none" />
<text x="147.38" y="2064.6" text-anchor="middle" class="ax" >13:15</text>
<path d="M180 1952.3L180 2053.9" stroke="#eceded" stroke-width="0.5" fill="none" />
<text x="180" y="2064.6" text-anchor="middle" class="ax" >13:20</text>
<path d="M212.62 1952.3L212.62 2053.9" stroke="#eceded" stroke-width="0.5" fill="none" />
<text x="212.62" y="2064.6" text-anchor="middle" class="ax" >13:25</text>
<path d="M245.25 1952.3L245.25 2053.9" stroke="#eceded" stroke-width="0.5" fill="none" />
<text x="245.25" y="2064.6" text-anchor="middle" class="ax" >13:30</text>
<path d="M277.88 1952.3L277.88 2053.9" stroke="#eceded" stroke-width="0.5" fill="none" />
<text x="277.88" y="2064.6" text-anchor="middle" class="ax" >13:35</text>
<path d="M310.5 1952.3L310.5 2053.9" stroke="#eceded" stroke-width="0.5" fill="none" />
<text x="310.5" y="2064.6" text-anchor="middle" class="ax" >13:40</text>
<path d="M343.12 1952.3L343.12 2053.9" stroke="#eceded" stroke-width="0.5" fill="none" />
<text x="343.12" y="2064.6" text-anchor="middle" class="ax" >13:45</text>
<path d="M375.75 1952.3L375.75 2053.9" stroke="#eceded" stroke-width="0.5" fill="none" />
<text x="375.75" y="2064.6" text-anchor="middle" class="ax" >13:50</text>
<path d="M408.38 1952.3L408.38 2053.9" stroke="#eceded" stroke-width="0.5" fill="none" />
<text x="408.38" y="2064.6" text-anchor="middle" class="ax" >13:55</text>
<path d="M124.5 2049.5L125.8 2049.5L127.1 2049.5L128.5 2049.5L129.8 2049.5L131.1 2049.5L132.4 2049.5L133.7 2049.5L135 2049.5L136.3 2049.5L137.6 2049.5L138.9 2049.5L140.2 2049.5L141.5 2049.5L142.8 2049.5L144.1 2049.5L145.4 2049.5L146.7 2049.5L148 2049.5L149.3 2049.5L150.6 2049.5L151.9 2049.5L153.2 2049.5L154.6 2049.5L155.9 2049.5L157.2 2049.5L158.5 2049.5L159.8 2049.5L161.1 2049.5L162.4 2049.5L163.7 2049.5L165 2049.5L166.3 2049.5L167.6 2049.5L168.9 2049.5L170.2 2049.5L171.5 2049.5L172.8 2049.5L174.1 2049.5L175.4 2049.5L176.7 2049.5L178 2049.5L179.3 2049.5L180.7 2049.5L182 2049.5L183.3 2049.5L184.6 2049.5L185.9 2049.5L187.2 2049.5L188.5 2049.5L189.8 2049.5L191.1 2049.5L192.4 2049.5L193.7 2049.5L195 2049.5L196.3 2049.5L197.6 2049.5L198.9 2049.5L200.2 2049.5L201.5 2049.5L202.8 2049.5L204.1 2017.9L205.4 2002.6L206.8 2003.1L208.1 2003.4L209.4 2000.7L210.7 2002L212 2001.6L213.3 2002.1L214.6 2002.8L215.9 2001.5L217.2 2002.1L218.5 2001.4L219.8 2001.9L221.1 2001.2L222.4 2002.7L223.7 2003.8L225 2003.8L226.3 2001.8L227.6 2003.8L228.9 2002.1L230.2 2002.2L231.5 2004.3L232.9 2001.7L234.2 2004.4L235.5 2001.4L236.8 2001.6L238.1 2003.9L239.4 2002L240.7 2002L242 2004.3L243.3 2002.3L244.6 2004.3L245.9 2001.5L247.2 2002.3L248.5 2001.3L249.8 2004.7L251.1 2003.8L252.4 2002.7L253.7 2002.8L255 2004.3L256.3 2001.8L257.6 2002L259 2004L260.3 2004.6L261.6 2002.7L262.9 2003.7L264.2 2002.8L265.5 2003.4L266.8 2003.8L268.1 2005.2L269.4 2004.8L270.7 2003.7L272 2002.7L273.3 2003.8L274.6 2003.6L275.9 2003.1L277.2 2002.7L278.5 2002.3L279.8 2001.8L281.1 2001.4L282.4 2001.4L283.7 2001.4L285.1 2001.4L286.4 2001.4L287.7 2004.3L289 2007.2L290.3 2010.1L291.6 2012L292.9 2012.8L294.2 2013.6L295.5 2014.4L296.8 2015.3L298.1 2051.7L299.4 2051.7L300.7 2051.7L302 2051.7L303.3 2051.7L304.6 2051.7L305.9 2051.7L307.2 2051.7L308.5 2051.7L309.8 2051.7L311.2 2051.7L312.5 2051.7L313.8 2051.7L315.1 2051.7L316.4 2051.7L317.7 2051.7L319 2051.7L320.3 2051.7L321.6 2051.7L322.9 2051.7L324.2 2051.7L325.5 2051.7L326.8 2051.7L328.1 2051.7L329.4 2051.7L330.7 2051.7L332 2051.7L333.3 2051.7L334.6 2051.7L335.9 2051.7L337.3 2051.7L338.6 2051.7L339.9 2051.7L341.2 2051.7L342.5 2051.7L343.8 2051.7L345.1 2051.7L346.4 2051.7L347.7 2051.7L349 2051.7L350.3 2051.7L351.6 2051.7L352.9 2051.7L354.2 2051.5L355.5 2051.3L356.8 2051.1L358.1 2050.8L359.4 2050.6L360.7 2050.4L362 2050.2L363.4 2050L364.7 2049.7L366 2049.5L367.3 2049.3L368.6 2049.1L369.9 2048.9L371.2 2048.6L372.5 2048.4L373.8 2048.2L375.1 2048L376.4 2047.8L377.7 2047.6L379 2047.3L380.3 2047.3L381.6 2047.2L382.9 2047.2L384.2 2047.1L385.5 2047.1L386.8 2047L388.1 2047L389.5 2046.9L390.8 2046.9L392.1 2046.9L393.4 2046.8L394.7 2046.8L396 2046.7L397.3 2046.7L398.6 2046.6L399.9 2041.1L401.2 2035.7L402.5 2030.2L403.8 2024.7L405.1 2029.8L406.4 2034.9L407.7 2040L409 2045.1L410.3 2050.3L411.6 2050.3L412.9 2050.3L414.2 2050.3L415.6 2050.3L416.9 2050.4L418.2 2050.4L419.5 2050.4L420.8 2050.4L422.1 2050.5L423.4 2050.5L424.7 2050.5L426 2050.5L427.3 2050.6L428.6 2050.6L429.9 2050.6L431.2 2050.6L431.21 2053.9L124.54 2053.9Z" fill="#e6e9ef" fill-opacity="0.8" stroke="none"/>
<path d="M124.5 2050.8L125.8 2051.5L127.1 2051.2L128.5 2051.3L129.8 2050.7L131.1 2050.8L132.4 2050.5L133.7 2051.5L135 2051.1L136.3 2051.5L137.6 2051.3L138.9 2051L140.2 2051.5L141.5 2051.3L142.8 2050.8L144.1 2050.9L145.4 2051.3L146.7 2050.9L148 2050.6L149.3 2051.6L150.6 2050.6L151.9 2050.8L153.2 2051.2L154.6 2051.4L155.9 2050.4L157.2 2051.2L158.5 2051.5L159.8 2051.5L161.1 2050.6L162.4 2050.9L163.7 2050.6L165 2050.7L166.3 2050.9L167.6 2050.4L168.9 2051.1L170.2 2050.9L171.5 2050.6L172.8 2050.8L174.1 2050.6L175.4 2050.9L176.7 2050.7L178 2051.5L179.3 2051.3L180.7 2051.2L182 2051.5L183.3 2051.3L184.6 2051.4L185.9 2051.2L187.2 2050.8L188.5 2051.1L189.8 2051.1L191.1 2051.3L192.4 2051.3L193.7 2050.5L195 2050.8L196.3 2050.9L197.6 2051.4L198.9 2050.7L200.2 2051.4L201.5 2051.1L202.8 2050.4L204.1 2030L205.4 2009.4L206.8 2009.2L208.1 2009.1L209.4 2009.2L210.7 2009.8L212 2010.1L213.3 2009.8L214.6 2009.9L215.9 2010L217.2 2009.1L218.5 2009.3L219.8 2009.9L221.1 2009.6L222.4 2009.9L223.7 2009.3L225 2009.9L226.3 2010.1L227.6 2010.2L228.9 2009.8L230.2 2010.2L231.5 2009.9L232.9 2009.5L234.2 2010.1L235.5 2010.4L236.8 2009.5L238.1 2010.1L239.4 2010.6L240.7 2010.7L242 2010.6L243.3 2010.1L244.6 2009.9L245.9 2010.4L247.2 2010.8L248.5 2010.5L249.8 2009.8L251.1 2010.3L252.4 2009.9L253.7 2010L255 2011L256.3 2010.2L257.6 2010.3L259 2010.5L260.3 2010.8L261.6 2010.4L262.9 2011.1L264.2 2010.7L265.5 2010.7L266.8 2010.2L268.1 2010.3L269.4 2011L270.7 2010.8L272 2011.2L273.3 2010.4L274.6 2010.4L275.9 2009.1L277.2 2006.7L278.5 2004.7L279.8 2003.3L281.1 2002.1L282.4 2001.9L283.7 2001.2L285.1 2001.1L286.4 2001.3L287.7 2004.2L289 2007.9L290.3 2010.2L291.6 2012.3L292.9 2013.2L294.2 2014.6L295.5 2015.7L296.8 2015.5L298.1 2051.2L299.4 2052.2L300.7 2051.7L302 2052.2L303.3 2051.4L304.6 2051.4L305.9 2052.1L307.2 2051.7L308.5 2051.6L309.8 2051.9L311.2 2051.2L312.5 2051.7L313.8 2052L315.1 2051.6L316.4 2051.4L317.7 2052L319 2051.9L320.3 2051.1L321.6 2051.5L322.9 2051.7L324.2 2051.6L325.5 2052.1L326.8 2051.9L328.1 2051.8L329.4 2051.5L330.7 2051.9L332 2051.9L333.3 2052.1L334.6 2051.4L335.9 2051.9L337.3 2051.1L338.6 2051.1L339.9 2052.1L341.2 2051.9L342.5 2051.4L343.8 2051.9L345.1 2052L346.4 2051L347.7 2051.4L349 2051.6L350.3 2051.2L351.6 2051.2L352.9 2051.9L354.2 2052L355.5 2051.6L356.8 2051.6L358.1 2051.5L359.4 2051.2L360.7 2051.3L362 2050.9L363.4 2051.9L364.7 2051.6L366 2051.7L367.3 2051L368.6 2051.7L369.9 2051.8L371.2 2051.5L372.5 2051.5L373.8 2051.7L375.1 2051.7L376.4 2050.9L377.7 2051.5L379 2051L380.3 2051.4L381.6 2051.9L382.9 2050.8L384.2 2051L385.5 2050.8L386.8 2050.9L388.1 2051L389.5 2051.8L390.8 2051.4L392.1 2051.7L393.4 2051.5L394.7 2051.9L396 2051.5L397.3 2050.8L398.6 2051.6L399.9 2042.5L401.2 2034.4L402.5 2026L403.8 2016.9L405.1 2023.6L406.4 2030.8L407.7 2037.3L409 2044.7L410.3 2051.2L411.6 2050.5L412.9 2051L414.2 2051.1L415.6 2050.9L416.9 2051.8L418.2 2051.2L419.5 2051.3L420.8 2051L422.1 2051.9L423.4 2051L424.7 2052L426 2052L427.3 2051.6L428.6 2051.5L429.9 2052.1L431.2 2052.3" fill="none" stroke="#5794f2" stroke-width="0.65" stroke-linejoin="round" />
<path d="M124.5 2051.5L125.8 2050.8L127.1 2051.4L128.5 2051L129.8 2050.8L131.1 2050.6L132.4 2051L133.7 2051L135 2051.5L136.3 2051.1L137.6 2051.1L138.9 2050.6L140.2 2050.9L141.5 2050.7L142.8 2051.1L144.1 2051.4L145.4 2050.6L146.7 2050.6L148 2051.1L149.3 2051.5L150.6 2051L151.9 2051L153.2 2050.7L154.6 2050.9L155.9 2051L157.2 2050.9L158.5 2051.1L159.8 2051.5L161.1 2051.5L162.4 2050.5L163.7 2050.6L165 2051.2L166.3 2050.5L167.6 2051L168.9 2051.4L170.2 2050.6L171.5 2050.9L172.8 2050.5L174.1 2050.8L175.4 2051.5L176.7 2050.8L178 2050.6L179.3 2050.5L180.7 2051.2L182 2050.9L183.3 2050.7L184.6 2051.4L185.9 2050.6L187.2 2050.7L188.5 2051.5L189.8 2050.9L191.1 2051.1L192.4 2051.3L193.7 2050.9L195 2050.4L196.3 2050.9L197.6 2051.4L198.9 2051L200.2 2050.7L201.5 2050.5L202.8 2050.7L204.1 2031.1L205.4 2009.6L206.8 2010.1L208.1 2010.7L209.4 2010.7L210.7 2010.7L212 2010.1L213.3 2010.7L214.6 2010L215.9 2010.8L217.2 2010.4L218.5 2010.5L219.8 2011L221.1 2011.1L222.4 2010L223.7 2010L225 2011L226.3 2010.3L227.6 2010L228.9 2010.2L230.2 2010.2L231.5 2010.9L232.9 2010.5L234.2 2010.8L235.5 2010.3L236.8 2010.6L238.1 2010.4L239.4 2010.4L240.7 2011L242 2010.7L243.3 2011.4L244.6 2011.3L245.9 2010.5L247.2 2011.1L248.5 2010.8L249.8 2011L251.1 2011.4L252.4 2011L253.7 2010.7L255 2011.4L256.3 2011.4L257.6 2011.6L259 2011.7L260.3 2010.9L261.6 2011.1L262.9 2010.8L264.2 2011.2L265.5 2010.9L266.8 2011.8L268.1 2011.8L269.4 2011.8L270.7 2011.7L272 2011L273.3 2011.9L274.6 2011.7L275.9 2010.5L277.2 2008.9L278.5 2006.6L279.8 2004.9L281.1 2004.4L282.4 2003.4L283.7 2002.9L285.1 2002.2L286.4 2002L287.7 2005.3L289 2008.4L290.3 2010.6L291.6 2013.2L292.9 2014.4L294.2 2014.5L295.5 2016.2L296.8 2016.6L298.1 2051.7L299.4 2051.4L300.7 2051.9L302 2051.5L303.3 2051.5L304.6 2051.6L305.9 2051.7L307.2 2051.2L308.5 2051.1L309.8 2051.6L311.2 2051.8L312.5 2051.5L313.8 2051L315.1 2051.5L316.4 2051.1L317.7 2051.7L319 2051L320.3 2051.6L321.6 2051.5L322.9 2050.9L324.2 2051.2L325.5 2051L326.8 2051.4L328.1 2051L329.4 2051.4L330.7 2051.2L332 2051.2L333.3 2050.6L334.6 2050.8L335.9 2051.1L337.3 2050.7L338.6 2051L339.9 2050.8L341.2 2051.1L342.5 2051L343.8 2051.4L345.1 2050.6L346.4 2050.9L347.7 2050.7L349 2050.9L350.3 2051.6L351.6 2051.5L352.9 2050.6L354.2 2050.8L355.5 2050.5L356.8 2050.5L358.1 2051.2L359.4 2050.3L360.7 2050.7L362 2050.5L363.4 2050.7L364.7 2051L366 2050.7L367.3 2050.6L368.6 2050.8L369.9 2050.7L371.2 2050.5L372.5 2050.7L373.8 2050.8L375.1 2050L376.4 2050.5L377.7 2050.4L379 2049.9L380.3 2049.9L381.6 2050.2L382.9 2050.3L384.2 2049.7L385.5 2050.3L386.8 2050L388.1 2050L389.5 2049.3L390.8 2050.1L392.1 2049.6L393.4 2049.7L394.7 2050.2L396 2050L397.3 2049.1L398.6 2049.2L399.9 2043.7L401.2 2037.5L402.5 2030.4L403.8 2024.6L405.1 2029.3L406.4 2033.9L407.7 2039.4L409 2044L410.3 2048.3L411.6 2049.2L412.9 2049.2L414.2 2048.5L415.6 2048.6L416.9 2049L418.2 2049.5L419.5 2048.7L420.8 2049.3L422.1 2048.9L423.4 2049.5L424.7 2049.7L426 2049.1L427.3 2049.5L428.6 2049.5L429.9 2049.5L431.2 2049.5" fill="none" stroke="#ff780a" stroke-width="0.65" stroke-linejoin="round" />
<path d="M277.9 2029.9L279.2 2028.9L280.5 2027.9L281.8 2026.2L283.1 2022.8L284.4 2019.6L285.7 2016.2L287 2017.7L288.3 2019.1L289.6 2020.3L290.9 2022.4L292.2 2024.9L293.5 2026.5L294.8 2026.9L296.1 2027.1L297.5 2027.8L298.8 2030.1L300.1 2031.8L301.4 2033.1L302.7 2033.4L304 2033.4L305.3 2033.4L306.6 2032.9L307.9 2033.4L309.2 2033.1L310.5 2032.9L311.8 2033.5L313.1 2033.3L314.4 2033.2L315.7 2033L317 2033.4L318.3 2033.4L319.6 2033.4L320.9 2033.5L322.2 2033.1L323.6 2033.1L324.9 2033.3L326.2 2033.5L327.5 2033.1L328.8 2033.1L330.1 2033.2L331.4 2033.4L332.7 2033.1L334 2033.2L335.3 2033.3L336.6 2033.3L337.9 2033.5L339.2 2033.4L340.5 2033.2L341.8 2033.2L343.1 2033.4L344.4 2033.2L345.7 2033.2L347 2033.6L348.3 2033.6L349.7 2033.6L351 2033.7L352.3 2033.3L353.6 2033.3L354.9 2033.4L356.2 2033.1L357.5 2033.5L358.8 2033.6L360.1 2033.7L361.4 2033.6L362.7 2033.3L364 2033.4L365.3 2033.7L366.6 2033.3L367.9 2033.1L369.2 2032.3L370.5 2032.2L371.8 2031.7L373.1 2029.8L374.4 2027L375.8 2024.4L377.1 2021.8L378.4 2019.4L379.7 2018L381 2016.5L382.3 2014.7L383.6 2015.4L384.9 2016.4L386.2 2017.6L387.5 2018.9L388.8 2020.6L390.1 2022.6L391.4 2023L392.7 2023.5L394 2023.7L395.3 2023.6L396.6 2023.4L397.9 2023.7L399.2 2023.8L400.5 2023.9L401.9 2024.1L403.2 2023.9L404.5 2023.6L405.8 2023.3L407.1 2022.9L408.4 2023.2L409.7 2022.8L411 2022.2L412.3 2022.2L413.6 2022.3L414.9 2021.8L416.2 2021.8L417.5 2021.7L418.8 2022.2L420.1 2021.8L421.4 2021.9L422.7 2022.3L424 2022.2L425.3 2022.1L426.6 2022.5L428 2022.3L429.3 2022.4L430.6 2022.8L431.9 2022.7" fill="none" stroke="#e0b400" stroke-width="0.65" stroke-linejoin="round" />
<path d="M124.5 2038.3L125.8 2041.8L127.1 2044.4L128.5 2044L129.8 2044.5L131.1 2044.6L132.4 2044.1L133.7 2044.4L135 2044.1L136.3 2043.4L137.6 2044.6L138.9 2043.6L140.2 2044.5L141.5 2043.3L142.8 2043.4L144.1 2044.4L145.4 2043.3L146.7 2043.5L148 2044.6L149.3 2044.1L150.6 2043.6L151.9 2043.2L153.2 2044.5L154.6 2044.4L155.9 2043.5L157.2 2043.2L158.5 2044.7L159.8 2044.7L161.1 2043.6L162.4 2044.4L163.7 2044.2L165 2043.4L166.3 2043.6L167.6 2043.8L168.9 2043.5L170.2 2043.7L171.5 2043.6L172.8 2043.9L174.1 2044L175.4 2044.9L176.7 2043.5L178 2043.5L179.3 2044.5L180.7 2044L182 2045.1L183.3 2044.2L184.6 2044L185.9 2044.6L187.2 2044.4L188.5 2043.7L189.8 2044.9L191.1 2044.4L192.4 2045L193.7 2044.5L195 2043.7L196.3 2044.2L197.6 2045.2L198.9 2043.8L200.2 2044.1L201.5 2044.4L202.8 2044.8L204.1 2017.8L205.4 1991L206.8 1963.3L208.1 1966.5L209.4 1967.2L210.7 1971L212 1972.3L213.3 1974.1L214.6 1975.5L215.9 1976.6L217.2 1977.4L218.5 1978.6L219.8 1978L221.1 1978.6L222.4 1978.8L223.7 1978.6L225 1978.9L226.3 1979.5L227.6 1979.8L228.9 1978.1L230.2 1978.4L231.5 1979.7L232.9 1978.8L234.2 1978.5L235.5 1978.3L236.8 1979.8L238.1 1979.7L239.4 1979.3L240.7 1978.9L242 1979.9L243.3 1978.8L244.6 1978.7L245.9 1979.3L247.2 1978.6L248.5 1979.4L249.8 1978.7L251.1 1979.5L252.4 1979.5L253.7 1979.5L255 1979L256.3 1978.7L257.6 1980.1L259 1979.2L260.3 1978.8L261.6 1979.1L262.9 1979.9L264.2 1979.7L265.5 1978.8L266.8 1980L268.1 1978.7L269.4 1978.9L270.7 1977.8L272 1976.7L273.3 1975.9L274.6 1975.2L275.9 1983.7L277.2 1996.5L278.5 2005.9L279.8 2013.9L281.1 2021.5L282.4 2022.8L283.7 2014.4L285.1 2008.7L286.4 2001.9L287.7 2005.1L289 2007L290.3 2010.4L291.6 2011.8L292.9 2012.5L294.2 2013.3L295.5 2014.5L296.8 2015.4L298.1 2051.2L299.4 2051.8L300.7 2050.5L302 2050.1L303.3 2051L304.6 2050.3L305.9 2050.9L307.2 2051.2L308.5 2050.4L309.8 2051.7L311.2 2051.2L312.5 2050.6L313.8 2051.7L315.1 2050.9L316.4 2051.2L317.7 2051.5L319 2051.1L320.3 2050.6L321.6 2050.7L322.9 2050.8L324.2 2050.5L325.5 2051.1L326.8 2050.8L328.1 2051.7L329.4 2050.7L330.7 2050.7L332 2050.8L333.3 2050.5L334.6 2050.1L335.9 2050.6L337.3 2050.2L338.6 2050.7L339.9 2051.4L341.2 2050.3L342.5 2050.7L343.8 2050.8L345.1 2051.6L346.4 2050.9L347.7 2051.3L349 2050.8L350.3 2050.2L351.6 2051.2L352.9 2051.8L354.2 2051.2L355.5 2050L356.8 2049.1L358.1 2050L359.4 2048.9L360.7 2048.6L362 2048L363.4 2047.3L364.7 2047L366 2047L367.3 2045.5L368.6 2045.2L369.9 2044.6L371.2 2045.5L372.5 2044.4L373.8 2044.4L375.1 2044.3L376.4 2042.4L377.7 2042.4L379 2042.3L380.3 2041.7L381.6 2041.5L382.9 2042.1L384.2 2042.7L385.5 2041.2L386.8 2041.9L388.1 2042L389.5 2042.3L390.8 2041.7L392.1 2041L393.4 2040.8L394.7 2042.2L396 2041.8L397.3 2039.5L398.6 2039.6L399.9 2037L401.2 2032.7L402.5 2029.1L403.8 2024.9L405.1 2028.9L406.4 2034.1L407.7 2040L409 2044.8L410.3 2048.2L411.6 2048.7L412.9 2048.5L414.2 2049L415.6 2048.8L416.9 2049.5L418.2 2049.5L419.5 2049.6L420.8 2049.8L422.1 2048.7L423.4 2049L424.7 2049.6L426 2050.6L427.3 2049.1L428.6 2049.4L429.9 2049.8L431.2 2049.3" fill="none" stroke="#e02f44" stroke-width="0.65" stroke-linejoin="round" />
</svg>
<div class="lgh" style="left:461.3px;width:60px;top:24.35px;height:10px;line-height:10px">Last</div>
<div class="a" style="left:430.3px;top:34.82px;width:96px;height:0;border-top:1px solid #eeeff0"></div>
<div class="lg" style="left:430.3px;top:37.1px;height:10px;line-height:10px;padding-left:17px;font-size:7.2px"><i style="background:#3e668f;left:4px"></i>cluster</div>
<div class="lg nv" style="left:461.3px;width:60px;text-align:right;top:37.1px;height:10px;line-height:10px;font-size:7.2px">609 µs</div>
<div class="a" style="left:430.3px;top:48.37px;width:96px;height:0;border-top:1px solid #eeeff0"></div>
<div class="lg" style="left:430.3px;top:50.65px;height:10px;line-height:10px;padding-left:17px;font-size:7.2px"><i style="background:#e0b400;left:4px"></i>pg-test-1 <svg width="7" height="7" viewBox="0 0 14 14" style="vertical-align:-.5px"><path d="M7 .5l2 4.300 4.600.6-3.400 3.200.9 4.700L7 11l-4.100 2.300.9-4.700L.4 5.400 5 4.800z" fill="#fcc934"/></svg></div>
<div class="lg nv" style="left:461.3px;width:60px;text-align:right;top:50.65px;height:10px;line-height:10px;font-size:7.2px">4.28 ms</div>
<div class="a" style="left:430.3px;top:61.92px;width:96px;height:0;border-top:1px solid #eeeff0"></div>
<div class="lg" style="left:430.3px;top:64.2px;height:10px;line-height:10px;padding-left:17px;font-size:7.2px"><i style="background:#5794f2;left:4px"></i>pg-test-2</div>
<div class="lg nv" style="left:461.3px;width:60px;text-align:right;top:64.2px;height:10px;line-height:10px;font-size:7.2px">285 µs</div>
<div class="a" style="left:430.3px;top:75.47px;width:96px;height:0;border-top:1px solid #eeeff0"></div>
<div class="lg" style="left:430.3px;top:77.75px;height:10px;line-height:10px;padding-left:17px;font-size:7.2px"><i style="background:#ff780a;left:4px"></i>pg-test-3</div>
<div class="lg nv" style="left:461.3px;width:60px;text-align:right;top:77.75px;height:10px;line-height:10px;font-size:7.2px">609 µs</div>
<div class="a" style="left:430.3px;top:89.02px;width:96px;height:0;border-top:1px solid #eeeff0"></div>
<div class="lg" style="left:430.3px;top:91.3px;height:10px;line-height:10px;padding-left:17px;font-size:7.2px"><i style="background:#e02f44;left:4px"></i>pg-test-4</div>
<div class="lg nv" style="left:461.3px;width:60px;text-align:right;top:91.3px;height:10px;line-height:10px;font-size:7.2px">516 µs</div>
<div class="a" style="left:430.3px;top:102.57px;width:96px;height:0;border-top:1px solid #eeeff0"></div>
</div>
<div class="p" style="left:543.6px;top:1925px;width:531.7px;height:145.5px">
<div class="pt">Replication Lag<svg width="9" height="9" viewBox="0 0 24 24" fill="none" stroke="#5a5f66" stroke-width="1.8"><circle cx="12" cy="12" r="9.5"/><path d="M12 11v6M12 7v1.2"/></svg><svg width="9" height="9" viewBox="0 0 24 24" fill="none" stroke="#5a5f66" stroke-width="1.8"><path d="M19 13v6.5a1.5 1.5 0 0 1-1.5 1.5h-13A1.5 1.5 0 0 1 3 19.500v-13A1.5 1.5 0 0 1 4.500 5H11M14 3h7v7M21 3l-10 10"/></svg></div>
<svg class="a" style="left:-1px;top:-1px" width="531.7" height="145.5" viewBox="543.6 1925 531.7 145.5" >
<path d="M571.8 2012.5L1067.3 2012.5" stroke="#eceded" stroke-width="0.5" fill="none" />
<text x="566.8" y="2015.1" text-anchor="end" class="ax" >0 B</text>
<path d="M571.8 1991.8L1067.3 1991.8" stroke="#eceded" stroke-width="0.5" fill="none" />
<text x="566.8" y="1994.4" text-anchor="end" class="ax" >10 kB</text>
<path d="M571.8 1971.1L1067.3 1971.1" stroke="#eceded" stroke-width="0.5" fill="none" />
<text x="566.8" y="1973.7" text-anchor="end" class="ax" >20 kB</text>
<path d="M584.2 1952.3L584.2 2012.5" stroke="#eceded" stroke-width="0.5" fill="none" />
<text x="584.2" y="2023" text-anchor="middle" class="ax" >13:00</text>
<path d="M625.35 1952.3L625.35 2012.5" stroke="#eceded" stroke-width="0.5" fill="none" />
<text x="625.35" y="2023" text-anchor="middle" class="ax" >13:05</text>
<path d="M666.5 1952.3L666.5 2012.5" stroke="#eceded" stroke-width="0.5" fill="none" />
<text x="666.5" y="2023" text-anchor="middle" class="ax" >13:10</text>
<path d="M707.65 1952.3L707.65 2012.5" stroke="#eceded" stroke-width="0.5" fill="none" />
<text x="707.65" y="2023" text-anchor="middle" class="ax" >13:15</text>
<path d="M748.8 1952.3L748.8 2012.5" stroke="#eceded" stroke-width="0.5" fill="none" />
<text x="748.8" y="2023" text-anchor="middle" class="ax" >13:20</text>
<path d="M789.95 1952.3L789.95 2012.5" stroke="#eceded" stroke-width="0.5" fill="none" />
<text x="789.95" y="2023" text-anchor="middle" class="ax" >13:25</text>
<path d="M831.1 1952.3L831.1 2012.5" stroke="#eceded" stroke-width="0.5" fill="none" />
<text x="831.1" y="2023" text-anchor="middle" class="ax" >13:30</text>
<path d="M872.25 1952.3L872.25 2012.5" stroke="#eceded" stroke-width="0.5" fill="none" />
<text x="872.25" y="2023" text-anchor="middle" class="ax" >13:35</text>
<path d="M913.4 1952.3L913.4 2012.5" stroke="#eceded" stroke-width="0.5" fill="none" />
<text x="913.4" y="2023" text-anchor="middle" class="ax" >13:40</text>
<path d="M954.55 1952.3L954.55 2012.5" stroke="#eceded" stroke-width="0.5" fill="none" />
<text x="954.55" y="2023" text-anchor="middle" class="ax" >13:45</text>
<path d="M995.7 1952.3L995.7 2012.5" stroke="#eceded" stroke-width="0.5" fill="none" />
<text x="995.7" y="2023" text-anchor="middle" class="ax" >13:50</text>
<path d="M1036.85 1952.3L1036.85 2012.5" stroke="#eceded" stroke-width="0.5" fill="none" />
<text x="1036.85" y="2023" text-anchor="middle" class="ax" >13:55</text>
<path d="M773.5 2012.5L779.4 2012.5L780.4 1994.9L781.4 1994.9L782.4 2012.5L788.3 2012.5L788.3 2012.5L773.49 2012.5Z" fill="#5794f2" fill-opacity="0.25" stroke="none"/>
<path d="M773.5 2012.5L779.4 2012.5L780.4 1994.9L781.4 1994.9L782.4 2012.5L788.3 2012.5" fill="none" stroke="#5794f2" stroke-width="0.7" stroke-linejoin="round" />
<path d="M571.9 2012.5L683.2 2012.5L684.2 2000.1L685 2000.1L686 2012.5L689 2012.5L690 1994.9L690.8 1994.9L691.8 2012.5L798.4 2012.5L799.4 1995.9L802.7 1995.9L803.7 2012.5L802.3 2012.5L803.3 1980.4L803.7 1980.4L804.7 2012.5L805.6 2012.5L806.6 1998L807 1998L808 2012.5L813.9 2012.5L814.8 2000.1L815.3 2000.1L816.2 2012.5L819.8 2012.5L820.8 2003.2L821.6 2003.2L822.6 2012.5L824.8 2012.5L825.8 1993.9L826.6 1993.9L827.6 2012.5L846.7 2012.5L847.6 1995.9L848.3 1995.9L849.3 2012.5L853.7 2012.5L854.6 2002.2L855.3 2002.2L856.3 2012.5L868.1 2012.5L868.13 2012.5L571.86 2012.5Z" fill="#e02f44" fill-opacity="0.3" stroke="none"/>
<path d="M571.9 2012.5L683.2 2012.5L684.2 2000.1L685 2000.1L686 2012.5L689 2012.5L690 1994.9L690.8 1994.9L691.8 2012.5L798.4 2012.5L799.4 1995.9L802.7 1995.9L803.7 2012.5L802.3 2012.5L803.3 1980.4L803.7 1980.4L804.7 2012.5L805.6 2012.5L806.6 1998L807 1998L808 2012.5L813.9 2012.5L814.8 2000.1L815.3 2000.1L816.2 2012.5L819.8 2012.5L820.8 2003.2L821.6 2003.2L822.6 2012.5L824.8 2012.5L825.8 1993.9L826.6 1993.9L827.6 2012.5L846.7 2012.5L847.6 1995.9L848.3 1995.9L849.3 2012.5L853.7 2012.5L854.6 2002.2L855.3 2002.2L856.3 2012.5L868.1 2012.5" fill="none" stroke="#e02f44" stroke-width="0.7" stroke-linejoin="round" />
<path d="M872.2 2012.5L993.3 2012.5L994.3 1959.3L994.7 1959.3L995.7 2012.5L998.2 2012.5L999.2 1975.2L1001.3 1975.2L1002.2 2012.5L1006.4 2012.5L1007.4 1970.1L1008.7 1970.1L1009.6 2012.5L1026.4 2012.5L1027.4 2007.3L1029.9 2007.3L1030.8 2012.5L1062.6 2012.5L1063.6 2011.3L1064.4 2011.3L1065.4 2012.5L1065.7 2012.5L1065.66 2012.5L872.25 2012.5Z" fill="#5794f2" fill-opacity="0.2" stroke="none"/>
<path d="M872.2 2012.5L993.3 2012.5L994.3 1959.3L994.7 1959.3L995.7 2012.5L998.2 2012.5L999.2 1975.2L1001.3 1975.2L1002.2 2012.5L1006.4 2012.5L1007.4 1970.1L1008.7 1970.1L1009.6 2012.5L1026.4 2012.5L1027.4 2007.3L1029.9 2007.3L1030.8 2012.5L1062.6 2012.5L1063.6 2011.3L1064.4 2011.3L1065.4 2012.5L1065.7 2012.5" fill="none" stroke="#3274d9" stroke-width="0.7" stroke-linejoin="round" />
<rect x="1027.8" y="2007.33" width="1.6" height="1.3" fill="#ff780a" />
<rect x="1030.68" y="2009.6" width="1.2" height="1.2" fill="#e0b400" />
</svg>
<div class="lgh" style="left:438.8px;width:60px;top:100.35px;height:10px;line-height:10px">Max</div>
<div class="lgh" style="left:461.8px;width:60px;top:100.35px;height:10px;line-height:10px">Last</div>
<div class="a" style="left:3.8px;top:110.92px;width:523px;height:0;border-top:1px solid #eeeff0"></div>
<div class="lg" style="left:3.8px;top:113.3px;height:10px;line-height:10px;padding-left:17px;font-size:7.2px"><i style="background:#56a64b;left:4px"></i>pg-test-4 &#8594; replicator:pg-test-1@10.10.10.41/32</div>
<div class="lg nv" style="left:438.8px;width:60px;text-align:right;top:113.3px;height:10px;line-height:10px;font-size:7.2px">8.59 kB</div>
<div class="lg nv" style="left:461.8px;width:60px;text-align:right;top:113.3px;height:10px;line-height:10px;font-size:7.2px"></div>
<div class="a" style="left:3.8px;top:124.67px;width:523px;height:0;border-top:1px solid #eeeff0"></div>
<div class="lg" style="left:3.8px;top:127.05px;height:10px;line-height:10px;padding-left:17px;font-size:7.2px"><i style="background:#e0b400;left:4px"></i>pg-test-1 &#8594; replicator:pg-test-2@10.10.10.42/32</div>
<div class="lg nv" style="left:438.8px;width:60px;text-align:right;top:127.05px;height:10px;line-height:10px;font-size:7.2px">1.93 kB</div>
<div class="lg nv" style="left:461.8px;width:60px;text-align:right;top:127.05px;height:10px;line-height:10px;font-size:7.2px">0 B</div>
<div class="a" style="left:3.8px;top:138.42px;width:523px;height:0;border-top:1px solid #eeeff0"></div>
</div>
<div class="p" style="left:6px;top:2076px;width:755.5px;height:188.6px">
<div class="pt">Query Time Spent<svg width="9" height="9" viewBox="0 0 24 24" fill="none" stroke="#5a5f66" stroke-width="1.8"><circle cx="12" cy="12" r="9.5"/><path d="M12 11v6M12 7v1.2"/></svg><svg width="9" height="9" viewBox="0 0 24 24" fill="none" stroke="#5a5f66" stroke-width="1.8"><path d="M19 13v6.5a1.5 1.5 0 0 1-1.5 1.5h-13A1.5 1.5 0 0 1 3 19.500v-13A1.5 1.5 0 0 1 4.500 5H11M14 3h7v7M21 3l-10 10"/></svg></div>
<svg class="a" style="left:-1px;top:-1px" width="755.5" height="188.6" viewBox="6 2076 755.5 188.6" >
<path d="M23.8 2190.7L752.5 2190.7" stroke="#eceded" stroke-width="0.5" fill="none" />
<text x="19.8" y="2193.3" text-anchor="end" class="ax" >0 s</text>
<path d="M23.8 2162.3L752.5 2162.3" stroke="#eceded" stroke-width="0.5" fill="none" />
<text x="19.8" y="2164.9" text-anchor="end" class="ax" >1 s</text>
<path d="M23.8 2133.9L752.5 2133.9" stroke="#eceded" stroke-width="0.5" fill="none" />
<text x="19.8" y="2136.5" text-anchor="end" class="ax" >2 s</text>
<path d="M23.8 2105.5L752.5 2105.5" stroke="#eceded" stroke-width="0.5" fill="none" />
<text x="19.8" y="2108.1" text-anchor="end" class="ax" >3 s</text>
<path d="M42.75 2102L42.75 2190.7" stroke="#eceded" stroke-width="0.5" fill="none" />
<text x="42.75" y="2201.6" text-anchor="middle" class="ax" >13:00</text>
<path d="M103.35 2102L103.35 2190.7" stroke="#eceded" stroke-width="0.5" fill="none" />
<text x="103.35" y="2201.6" text-anchor="middle" class="ax" >13:05</text>
<path d="M163.95 2102L163.95 2190.7" stroke="#eceded" stroke-width="0.5" fill="none" />
<text x="163.95" y="2201.6" text-anchor="middle" class="ax" >13:10</text>
<path d="M224.55 2102L224.55 2190.7" stroke="#eceded" stroke-width="0.5" fill="none" />
<text x="224.55" y="2201.6" text-anchor="middle" class="ax" >13:15</text>
<path d="M285.15 2102L285.15 2190.7" stroke="#eceded" stroke-width="0.5" fill="none" />
<text x="285.15" y="2201.6" text-anchor="middle" class="ax" >13:20</text>
<path d="M345.75 2102L345.75 2190.7" stroke="#eceded" stroke-width="0.5" fill="none" />
<text x="345.75" y="2201.6" text-anchor="middle" class="ax" >13:25</text>
<path d="M406.35 2102L406.35 2190.7" stroke="#eceded" stroke-width="0.5" fill="none" />
<text x="406.35" y="2201.6" text-anchor="middle" class="ax" >13:30</text>
<path d="M466.95 2102L466.95 2190.7" stroke="#eceded" stroke-width="0.5" fill="none" />
<text x="466.95" y="2201.6" text-anchor="middle" class="ax" >13:35</text>
<path d="M527.55 2102L527.55 2190.7" stroke="#eceded" stroke-width="0.5" fill="none" />
<text x="527.55" y="2201.6" text-anchor="middle" class="ax" >13:40</text>
<path d="M588.15 2102L588.15 2190.7" stroke="#eceded" stroke-width="0.5" fill="none" />
<text x="588.15" y="2201.6" text-anchor="middle" class="ax" >13:45</text>
<path d="M648.75 2102L648.75 2190.7" stroke="#eceded" stroke-width="0.5" fill="none" />
<text x="648.75" y="2201.6" text-anchor="middle" class="ax" >13:50</text>
<path d="M709.35 2102L709.35 2190.7" stroke="#eceded" stroke-width="0.5" fill="none" />
<text x="709.35" y="2201.6" text-anchor="middle" class="ax" >13:55</text>
<path d="M176.1 2190.7L179.1 2190.7L182.1 2190.7L185.2 2190.6L188.2 2190.6L191.2 2190.6L194.2 2190.6L197.3 2190.6L200.3 2190.6L203.3 2190.6L206.4 2190.5L209.4 2190.5L212.4 2190.5L215.5 2190.5L218.5 2190.5L221.5 2190.5L224.5 2190.4L227.6 2190.4L230.6 2190.4L233.6 2190.4L236.7 2190.4L239.7 2190.3L242.7 2190.3L245.8 2190.3L248.8 2190.3L251.8 2190.3L254.8 2190.3L257.9 2190.3L260.9 2190.2L263.9 2190.2L267 2190.2L270 2190.2L273 2190.1L276.1 2190.1L279.1 2190.1L282.1 2190.1L285.1 2190.1L288.2 2190.1L291.2 2190L294.2 2190.1L297.3 2190L300.3 2190L303.3 2190L306.4 2190L309.4 2190L312.4 2189.9L315.4 2189.9L318.5 2189.9L321.5 2189.9L324.5 2189.9L327.6 2189.9L330.6 2173.6L333.6 2149.1L336.7 2136.1L339.7 2136.1L342.7 2138.2L345.8 2144.2L348.8 2143.6L351.8 2138.6L354.8 2147.9L357.9 2147.6L360.9 2146.4L363.9 2141.1L367 2145L370 2145.5L373 2149.3L376 2148.7L379.1 2142.4L382.1 2147.5L385.1 2144.8L388.2 2147.5L391.2 2146.7L394.2 2148.1L397.3 2139.6L400.3 2143L403.3 2144.7L406.3 2147.8L409.4 2140.6L412.4 2143.9L415.4 2149.1L418.5 2148.5L421.5 2139.4L424.5 2146.9L427.6 2145.9L430.6 2149.7L433.6 2140.4L436.6 2148L439.7 2144.2L442.7 2142.3L445.7 2144.6L448.8 2146.5L451.8 2147.9L454.8 2142.9L457.9 2148.1L460.9 2143.8L463.9 2139.8L466.9 2129L470 2122.3L473 2122L476 2132L479.1 2117.5L482.1 2115.6L485.1 2128.4L488.2 2134.9L491.2 2124.7L494.2 2144.9L497.2 2161.5L500.3 2179.8L503.3 2190.7L506.3 2190.6L509.4 2190.6L512.4 2190.5L515.4 2190.5L518.5 2190.4L521.5 2190.4L524.5 2190.4L527.5 2190.3L530.6 2190.3L533.6 2190.2L536.6 2190.2L539.7 2190.1L542.7 2190.1L545.7 2190.1L548.8 2190L551.8 2190L554.8 2189.9L557.9 2189.9L560.9 2189.9L563.9 2189.8L566.9 2189.8L570 2189.8L573 2189.7L576 2189.7L579.1 2189.7L582.1 2189.6L585.1 2189.6L588.1 2189.6L591.2 2189.5L594.2 2189.2L597.2 2189.1L600.3 2189.1L603.3 2188.8L606.3 2188.6L609.4 2188.6L612.4 2188.4L615.4 2188.3L618.4 2188.1L621.5 2187.9L624.5 2187.9L627.5 2187.6L630.6 2187.3L633.6 2186.8L636.6 2186.5L639.7 2186.1L642.7 2185.7L645.7 2185.5L648.8 2185.1L651.8 2184.7L654.8 2183.8L657.8 2183.2L660.9 2182.9L663.9 2184L666.9 2185L670 2186.2L673 2187.2L676 2187.2L679 2187.3L682.1 2187.3L685.1 2187.3L688.1 2183.1L691.2 2179.1L694.2 2174.9L697.2 2171L700.3 2166.9L703.3 2163.8L706.3 2167.6L709.3 2174.4L712.4 2181.3L715.4 2183.5L718.4 2185.6L721.5 2187.8L724.5 2187.9L727.5 2187.9L730.6 2187.9L733.6 2187.9L736.6 2187.9L739.6 2187.9L742.7 2188.2L745.7 2188.1L748.7 2188.1L751.8 2188.2L751.77 2190.7L176.07 2190.7Z" fill="#f6b0ae" fill-opacity="1" stroke="none"/>
<path d="M176.1 2190.7L178.5 2190.7L180.9 2190.7L183.3 2190.7L185.8 2190.7L188.2 2190.7L190.6 2190.6L193 2190.6L195.5 2190.6L197.9 2190.6L200.3 2190.6L202.7 2190.6L205.2 2190.6L207.6 2190.6L210 2190.6L212.4 2190.6L214.9 2190.6L217.3 2190.6L219.7 2190.5L222.1 2190.5L224.5 2190.5L227 2190.5L229.4 2190.5L231.8 2190.5L234.2 2190.5L236.7 2190.5L239.1 2190.5L241.5 2190.5L243.9 2190.4L246.4 2190.4L248.8 2190.4L251.2 2190.4L253.6 2190.4L256.1 2190.4L258.5 2190.4L260.9 2190.4L263.3 2190.4L265.8 2190.4L268.2 2190.4L270.6 2190.4L273 2190.4L275.5 2190.3L277.9 2190.3L280.3 2190.3L282.7 2190.3L285.1 2190.3L287.6 2190.3L290 2190.3L292.4 2190.3L294.8 2190.3L297.3 2190.3L299.7 2190.2L302.1 2190.2L304.5 2190.2L307 2190.2L309.4 2190.2L311.8 2190.2L314.2 2190.2L316.7 2190.2L319.1 2190.2L321.5 2190.2L323.9 2190.1L326.4 2190.1L328.8 2190.1L331.2 2176L333.6 2161.5L336.1 2158.2L338.5 2154.1L340.9 2153.7L343.3 2153.2L345.8 2155.4L348.2 2153.3L350.6 2155.2L353 2153.1L355.4 2152.5L357.9 2154.5L360.3 2155.6L362.7 2155.7L365.1 2154L367.6 2155.4L370 2153.3L372.4 2153.8L374.8 2154.2L377.3 2153.6L379.7 2155.5L382.1 2154.4L384.5 2155.9L387 2154.1L389.4 2153.3L391.8 2155.6L394.2 2153.7L396.7 2152.6L399.1 2155.1L401.5 2155.5L403.9 2155.4L406.3 2153.3L408.8 2156.1L411.2 2153.6L413.6 2155.5L416 2153.7L418.5 2153.3L420.9 2153.5L423.3 2155.8L425.7 2154.6L428.2 2155.4L430.6 2153.5L433 2155.6L435.4 2156.1L437.9 2155.2L440.3 2156.4L442.7 2155.9L445.1 2154.3L447.6 2155.6L450 2156.2L452.4 2153.5L454.8 2155.9L457.3 2154.1L459.7 2154.5L462.1 2155L464.5 2154.7L466.9 2151.5L469.4 2146.9L471.8 2146L474.2 2148.2L476.6 2146.8L479.1 2147.8L481.5 2146.4L483.9 2150.1L486.3 2149.1L488.8 2147.2L491.2 2151.3L493.6 2156.1L496 2163.4L498.5 2173.5L500.9 2185.2L503.3 2190.7L505.7 2190.7L508.2 2190.7L510.6 2190.6L513 2190.6L515.4 2190.6L517.9 2190.6L520.3 2190.6L522.7 2190.5L525.1 2190.5L527.5 2190.5L530 2190.5L532.4 2190.5L534.8 2190.4L537.2 2190.4L539.7 2190.4L542.1 2190.4L544.5 2190.3L546.9 2190.3L549.4 2190.3L551.8 2190.2L554.2 2190.2L556.6 2190.2L559.1 2190.2L561.5 2190.1L563.9 2190.1L566.3 2190.1L568.8 2190L571.2 2190L573.6 2189.9L576 2190L578.5 2189.9L580.9 2189.8L583.3 2189.8L585.7 2189.8L588.1 2189.7L590.6 2189.7L593 2189.7L595.4 2189.7L597.8 2189.6L600.3 2189.6L602.7 2189.5L605.1 2189.6L607.5 2189.5L610 2189.4L612.4 2189.4L614.8 2189.4L617.2 2189.3L619.7 2189.3L622.1 2189.3L624.5 2189.3L626.9 2189.1L629.4 2189L631.8 2188.9L634.2 2188.7L636.6 2188.6L639.1 2188.4L641.5 2188.3L643.9 2188.1L646.3 2188L648.8 2187.9L651.2 2187.9L653.6 2187.7L656 2187.6L658.4 2187.4L660.9 2187.4L663.3 2187.3L665.7 2187.5L668.1 2187.7L670.6 2187.6L673 2187.9L675.4 2188L677.8 2188.1L680.3 2188.2L682.7 2188.3L685.1 2188.4L687.5 2186.6L690 2184.8L692.4 2183L694.8 2181.4L697.2 2179L699.7 2177.3L702.1 2175.8L704.5 2173.5L706.9 2177.5L709.3 2181.2L711.8 2185.7L714.2 2186.6L716.6 2187.2L719 2188.2L721.5 2188.9L723.9 2189.1L726.3 2189.1L728.7 2189L731.2 2189L733.6 2189L736 2189L738.4 2188.9L740.9 2188.9L743.3 2189L745.7 2188.9L748.1 2188.9L750.6 2188.9L753 2189L752.98 2190.7L176.07 2190.7Z" fill="#cfe4f5" fill-opacity="1" stroke="none"/>
<path d="M176.1 2190.7L178.5 2190.7L180.9 2190.7L183.3 2190.7L185.8 2190.7L188.2 2190.7L190.6 2190.6L193 2190.6L195.5 2190.6L197.9 2190.6L200.3 2190.6L202.7 2190.6L205.2 2190.6L207.6 2190.6L210 2190.6L212.4 2190.6L214.9 2190.6L217.3 2190.6L219.7 2190.5L222.1 2190.5L224.5 2190.5L227 2190.5L229.4 2190.5L231.8 2190.5L234.2 2190.5L236.7 2190.5L239.1 2190.5L241.5 2190.5L243.9 2190.4L246.4 2190.4L248.8 2190.4L251.2 2190.4L253.6 2190.4L256.1 2190.4L258.5 2190.4L260.9 2190.4L263.3 2190.4L265.8 2190.4L268.2 2190.4L270.6 2190.4L273 2190.4L275.5 2190.3L277.9 2190.3L280.3 2190.3L282.7 2190.3L285.1 2190.3L287.6 2190.3L290 2190.3L292.4 2190.3L294.8 2190.3L297.3 2190.3L299.7 2190.2L302.1 2190.2L304.5 2190.2L307 2190.2L309.4 2190.2L311.8 2190.2L314.2 2190.2L316.7 2190.2L319.1 2190.2L321.5 2190.2L323.9 2190.1L326.4 2190.1L328.8 2190.1L331.2 2176L333.6 2161.5L336.1 2158.2L338.5 2154.1L340.9 2153.7L343.3 2153.2L345.8 2155.4L348.2 2153.3L350.6 2155.2L353 2153.1L355.4 2152.5L357.9 2154.5L360.3 2155.6L362.7 2155.7L365.1 2154L367.6 2155.4L370 2153.3L372.4 2153.8L374.8 2154.2L377.3 2153.6L379.7 2155.5L382.1 2154.4L384.5 2155.9L387 2154.1L389.4 2153.3L391.8 2155.6L394.2 2153.7L396.7 2152.6L399.1 2155.1L401.5 2155.5L403.9 2155.4L406.3 2153.3L408.8 2156.1L411.2 2153.6L413.6 2155.5L416 2153.7L418.5 2153.3L420.9 2153.5L423.3 2155.8L425.7 2154.6L428.2 2155.4L430.6 2153.5L433 2155.6L435.4 2156.1L437.9 2155.2L440.3 2156.4L442.7 2155.9L445.1 2154.3L447.6 2155.6L450 2156.2L452.4 2153.5L454.8 2155.9L457.3 2154.1L459.7 2154.5L462.1 2155L464.5 2154.7L466.9 2151.5L469.4 2146.9L471.8 2146L474.2 2148.2L476.6 2146.8L479.1 2147.8L481.5 2146.4L483.9 2150.1L486.3 2149.1L488.8 2147.2L491.2 2151.3L493.6 2156.1L496 2163.4L498.5 2173.5L500.9 2185.2L503.3 2190.7L505.7 2190.7L508.2 2190.7L510.6 2190.6L513 2190.6L515.4 2190.6L517.9 2190.6L520.3 2190.6L522.7 2190.5L525.1 2190.5L527.5 2190.5L530 2190.5L532.4 2190.5L534.8 2190.4L537.2 2190.4L539.7 2190.4L542.1 2190.4L544.5 2190.3L546.9 2190.3L549.4 2190.3L551.8 2190.2L554.2 2190.2L556.6 2190.2L559.1 2190.2L561.5 2190.1L563.9 2190.1L566.3 2190.1L568.8 2190L571.2 2190L573.6 2189.9L576 2190L578.5 2189.9L580.9 2189.8L583.3 2189.8L585.7 2189.8L588.1 2189.7L590.6 2189.7L593 2189.7L595.4 2189.7L597.8 2189.6L600.3 2189.6L602.7 2189.5L605.1 2189.6L607.5 2189.5L610 2189.4L612.4 2189.4L614.8 2189.4L617.2 2189.3L619.7 2189.3L622.1 2189.3L624.5 2189.3L626.9 2189.1L629.4 2189L631.8 2188.9L634.2 2188.7L636.6 2188.6L639.1 2188.4L641.5 2188.3L643.9 2188.1L646.3 2188L648.8 2187.9L651.2 2187.9L653.6 2187.7L656 2187.6L658.4 2187.4L660.9 2187.4L663.3 2187.3L665.7 2187.5L668.1 2187.7L670.6 2187.6L673 2187.9L675.4 2188L677.8 2188.1L680.3 2188.2L682.7 2188.3L685.1 2188.4L687.5 2186.6L690 2184.8L692.4 2183L694.8 2181.4L697.2 2179L699.7 2177.3L702.1 2175.8L704.5 2173.5L706.9 2177.5L709.3 2181.2L711.8 2185.7L714.2 2186.6L716.6 2187.2L719 2188.2L721.5 2188.9L723.9 2189.1L726.3 2189.1L728.7 2189L731.2 2189L733.6 2189L736 2189L738.4 2188.9L740.9 2188.9L743.3 2189L745.7 2188.9L748.1 2188.9L750.6 2188.9L753 2189" fill="none" stroke="#8a8a8a" stroke-width="0.3" stroke-linejoin="round" />
<path d="M176.1 2190.7L179.1 2190.7L182.1 2190.7L185.2 2190.7L188.2 2190.7L191.2 2190.7L194.2 2190.7L197.3 2190.7L200.3 2190.7L203.3 2190.6L206.4 2190.6L209.4 2190.6L212.4 2190.6L215.5 2190.6L218.5 2190.6L221.5 2190.6L224.5 2190.6L227.6 2190.6L230.6 2190.6L233.6 2190.6L236.7 2190.6L239.7 2190.6L242.7 2190.6L245.8 2190.6L248.8 2190.6L251.8 2190.6L254.8 2190.5L257.9 2190.5L260.9 2190.5L263.9 2190.5L267 2190.5L270 2190.5L273 2190.5L276.1 2190.5L279.1 2190.5L282.1 2190.5L285.1 2190.5L288.2 2190.5L291.2 2190.5L294.2 2190.5L297.3 2190.5L300.3 2190.5L303.3 2190.5L306.4 2190.5L309.4 2190.5L312.4 2190.5L315.4 2190.4L318.5 2190.4L321.5 2190.4L324.5 2190.4L327.6 2190.4L330.6 2184.7L333.6 2175.1L336.7 2173.5L339.7 2169.4L342.7 2170L345.8 2168.1L348.8 2169L351.8 2169.2L354.8 2168.1L357.9 2168.4L360.9 2170L363.9 2170.6L367 2170.7L370 2169.1L373 2168.5L376 2169L379.1 2168.9L382.1 2173.5L385.1 2171.3L388.2 2173.1L391.2 2170.3L394.2 2170.4L397.3 2170.5L400.3 2168.8L403.3 2172.4L406.3 2169.5L409.4 2170.3L412.4 2172.4L415.4 2168.2L418.5 2173.3L421.5 2171L424.5 2170.6L427.6 2170.3L430.6 2168.1L433.6 2170.5L436.6 2168.7L439.7 2172L442.7 2170.9L445.7 2172.8L448.8 2170L451.8 2171.3L454.8 2169.2L457.9 2173L460.9 2171L463.9 2168.3L466.9 2171.1L470 2163.3L473 2162.9L476 2163.2L479.1 2165.1L482.1 2166.1L485.1 2163.6L488.2 2168.8L491.2 2166.7L494.2 2171.4L497.2 2176.2L500.3 2185.4L503.3 2190.7L506.3 2190.7L509.4 2190.7L512.4 2190.7L515.4 2190.6L518.5 2190.6L521.5 2190.6L524.5 2190.6L527.5 2190.6L530.6 2190.6L533.6 2190.6L536.6 2190.6L539.7 2190.6L542.7 2190.5L545.7 2190.5L548.8 2190.5L551.8 2190.5L554.8 2190.5L557.9 2190.5L560.9 2190.5L563.9 2190.4L566.9 2190.4L570 2190.4L573 2190.4L576 2190.4L579.1 2190.4L582.1 2190.4L585.1 2190.3L588.1 2190.3L591.2 2190.3L594.2 2190.3L597.2 2190.3L600.3 2190.3L603.3 2190.2L606.3 2190.2L609.4 2190.2L612.4 2190.2L615.4 2190.2L618.4 2190.2L621.5 2190.1L624.5 2190.1L627.5 2190.1L630.6 2190L633.6 2189.9L636.6 2189.9L639.7 2189.8L642.7 2189.7L645.7 2189.7L648.8 2189.6L651.8 2189.5L654.8 2189.4L657.8 2189.3L660.9 2189.3L663.9 2189.3L666.9 2189.4L670 2189.3L673 2189.4L676 2189.4L679 2189.5L682.1 2189.5L685.1 2189.6L688.1 2188.8L691.2 2187.9L694.2 2187.1L697.2 2186.5L700.3 2185.8L703.3 2184.6L706.3 2185.7L709.3 2187.5L712.4 2189L715.4 2189.3L718.4 2189.6L721.5 2189.8L724.5 2189.8L727.5 2189.8L730.6 2189.8L733.6 2189.9L736.6 2189.8L739.6 2189.8L742.7 2189.8L745.7 2189.9L748.7 2189.9L751.8 2189.8L751.77 2190.7L176.07 2190.7Z" fill="#eb9b6e" fill-opacity="1" stroke="none"/>
</svg>
<div class="lgh" style="left:615.7px;width:60px;top:128.85px;height:10px;line-height:10px"><span style="padding-right:7px">Max<svg width="5" height="5" viewBox="0 0 24 24" style="position:absolute;margin-left:1.5px;margin-top:3.2px" fill="none" stroke="#1f60c4" stroke-width="3.6"><path d="M4 8l8 8 8-8"/></svg></span></div>
<div class="lgh" style="left:650.2px;width:60px;top:128.85px;height:10px;line-height:10px">Mean</div>
<div class="lgh" style="left:685.5px;width:60px;top:128.85px;height:10px;line-height:10px">Last *</div>
<div class="a" style="left:3.3px;top:139.32px;width:746.3px;height:0;border-top:1px solid #eeeff0"></div>
<div class="lg" style="left:3.3px;top:141.6px;height:10px;line-height:10px;padding-left:16.6px;font-size:7.2px"><i style="background:#e0752d;left:4px"></i>pg-test-2--8520867826252690096</div>
<div class="lg nv" style="left:615.7px;width:60px;text-align:right;top:141.6px;height:10px;line-height:10px;font-size:7.2px">970 ms</div>
<div class="lg nv" style="left:650.2px;width:60px;text-align:right;top:141.6px;height:10px;line-height:10px;font-size:7.2px">149 ms</div>
<div class="lg nv" style="left:685.5px;width:60px;text-align:right;top:141.6px;height:10px;line-height:10px;font-size:7.2px">13.3 ms</div>
<div class="a" style="left:3.3px;top:152.87px;width:746.3px;height:0;border-top:1px solid #eeeff0"></div>
<div class="lg" style="left:3.3px;top:155.15px;height:10px;line-height:10px;padding-left:16.6px;font-size:7.2px"><i style="background:#ff7383;left:4px"></i>pg-test-4--8520867826252690096</div>
<div class="lg nv" style="left:615.7px;width:60px;text-align:right;top:155.15px;height:10px;line-height:10px;font-size:7.2px">936 ms</div>
<div class="lg nv" style="left:650.2px;width:60px;text-align:right;top:155.15px;height:10px;line-height:10px;font-size:7.2px">102 ms</div>
<div class="lg nv" style="left:685.5px;width:60px;text-align:right;top:155.15px;height:10px;line-height:10px;font-size:7.2px">21.0 ms</div>
<div class="a" style="left:3.3px;top:166.42px;width:746.3px;height:0;border-top:1px solid #eeeff0"></div>
<div class="lg" style="left:3.3px;top:168.7px;height:10px;line-height:10px;padding-left:16.6px;font-size:7.2px"><i style="background:#c0d8ff;left:4px"></i>pg-test-3--8520867826252690096</div>
<div class="lg nv" style="left:615.7px;width:60px;text-align:right;top:168.7px;height:10px;line-height:10px;font-size:7.2px">841 ms</div>
<div class="lg nv" style="left:650.2px;width:60px;text-align:right;top:168.7px;height:10px;line-height:10px;font-size:7.2px">151 ms</div>
<div class="lg nv" style="left:685.5px;width:60px;text-align:right;top:168.7px;height:10px;line-height:10px;font-size:7.2px">17.5 ms</div>
<div class="a" style="left:3.3px;top:179.97px;width:746.3px;height:0;border-top:1px solid #eeeff0"></div>
</div>
<div class="p" style="left:766.7px;top:2076px;width:308.6px;height:188.6px">
<div class="pt">XID Usage<svg width="9" height="9" viewBox="0 0 24 24" fill="none" stroke="#5a5f66" stroke-width="1.8"><circle cx="12" cy="12" r="9.5"/><path d="M12 11v6M12 7v1.2"/></svg></div>
<div class="t bl" style="left:-1px;top:17.6px;width:308.6px;height:83.8px">
<div class="n" style="left:7.2px;top:8.8px;font-size:17.6px">postgres</div>
<div class="v" style="right:7.5px;top:8.2px;font-size:31.5px"><span style="letter-spacing:-.06em">0.</span>1<span style="font-size:16px;-webkit-text-stroke:0;margin-left:1px">%</span></div>
</div>
<div class="t bl" style="left:-1px;top:103.8px;width:308.6px;height:83.6px">
<div class="n" style="left:7.2px;top:8.8px;font-size:17.6px">test</div>
<div class="v" style="right:7.5px;top:8.2px;font-size:31.5px"><span style="letter-spacing:-.06em">0.</span>1<span style="font-size:16px;-webkit-text-stroke:0;margin-left:1px">%</span></div>
</div>
</div>
<div class="p" style="left:6px;top:2270.3px;width:755.5px;height:188.8px">
<div class="pt">Disk / Network<svg width="9" height="9" viewBox="0 0 24 24" fill="none" stroke="#5a5f66" stroke-width="1.8"><circle cx="12" cy="12" r="9.5"/><path d="M12 11v6M12 7v1.2"/></svg></div>
<svg class="a" style="left:-1px;top:-1px" width="755.5" height="188.8" viewBox="6 2270.3 755.5 188.8" >
<path d="M41.6 2420.1L638 2420.1" stroke="#eceded" stroke-width="0.5" fill="none" />
<text x="36.4" y="2422.7" text-anchor="end" class="ax" >-4 MB/s</text>
<path d="M41.6 2395.05L638 2395.05" stroke="#eceded" stroke-width="0.5" fill="none" />
<text x="36.4" y="2397.65" text-anchor="end" class="ax" >-2 MB/s</text>
<path d="M41.6 2370L638 2370" stroke="#eceded" stroke-width="0.5" fill="none" />
<text x="36.4" y="2372.6" text-anchor="end" class="ax" >0 B/s</text>
<path d="M41.6 2344.95L638 2344.95" stroke="#eceded" stroke-width="0.5" fill="none" />
<text x="36.4" y="2347.55" text-anchor="end" class="ax" >2 MB/s</text>
<path d="M41.6 2319.9L638 2319.9" stroke="#eceded" stroke-width="0.5" fill="none" />
<text x="36.4" y="2322.5" text-anchor="end" class="ax" >4 MB/s</text>
<path d="M54.6 2298.6L54.6 2441" stroke="#eceded" stroke-width="0.5" fill="none" />
<text x="54.6" y="2452.5" text-anchor="middle" class="ax" >13:00</text>
<path d="M104.33 2298.6L104.33 2441" stroke="#eceded" stroke-width="0.5" fill="none" />
<text x="104.33" y="2452.5" text-anchor="middle" class="ax" >13:05</text>
<path d="M154.05 2298.6L154.05 2441" stroke="#eceded" stroke-width="0.5" fill="none" />
<text x="154.05" y="2452.5" text-anchor="middle" class="ax" >13:10</text>
<path d="M203.78 2298.6L203.78 2441" stroke="#eceded" stroke-width="0.5" fill="none" />
<text x="203.78" y="2452.5" text-anchor="middle" class="ax" >13:15</text>
<path d="M253.5 2298.6L253.5 2441" stroke="#eceded" stroke-width="0.5" fill="none" />
<text x="253.5" y="2452.5" text-anchor="middle" class="ax" >13:20</text>
<path d="M303.23 2298.6L303.23 2441" stroke="#eceded" stroke-width="0.5" fill="none" />
<text x="303.23" y="2452.5" text-anchor="middle" class="ax" >13:25</text>
<path d="M352.95 2298.6L352.95 2441" stroke="#eceded" stroke-width="0.5" fill="none" />
<text x="352.95" y="2452.5" text-anchor="middle" class="ax" >13:30</text>
<path d="M402.68 2298.6L402.68 2441" stroke="#eceded" stroke-width="0.5" fill="none" />
<text x="402.68" y="2452.5" text-anchor="middle" class="ax" >13:35</text>
<path d="M452.4 2298.6L452.4 2441" stroke="#eceded" stroke-width="0.5" fill="none" />
<text x="452.4" y="2452.5" text-anchor="middle" class="ax" >13:40</text>
<path d="M502.13 2298.6L502.13 2441" stroke="#eceded" stroke-width="0.5" fill="none" />
<text x="502.13" y="2452.5" text-anchor="middle" class="ax" >13:45</text>
<path d="M551.85 2298.6L551.85 2441" stroke="#eceded" stroke-width="0.5" fill="none" />
<text x="551.85" y="2452.5" text-anchor="middle" class="ax" >13:50</text>
<path d="M601.58 2298.6L601.58 2441" stroke="#eceded" stroke-width="0.5" fill="none" />
<text x="601.58" y="2452.5" text-anchor="middle" class="ax" >13:55</text>
<path d="M41.7 2370L43.2 2370L44.7 2369.8L46.1 2370.1L47.6 2370.1L49.1 2369.9L50.6 2370L52.1 2370.1L53.6 2370L55.1 2370.1L56.6 2370.2L58.1 2369.9L59.6 2369.8L61.1 2369.9L62.6 2369.9L64 2370.1L65.5 2370L67 2370.2L68.5 2369.9L70 2370.1L71.5 2370.1L73 2369.8L74.5 2370.1L76 2369.8L77.5 2369.9L79 2369.9L80.5 2369.9L81.9 2370.2L83.4 2369.9L84.9 2370.1L86.4 2370L87.9 2370.2L89.4 2370.2L90.9 2370.1L92.4 2370.2L93.9 2370.1L95.4 2369.8L96.9 2369.8L98.4 2370L99.8 2370.2L101.3 2370.1L102.8 2370.2L104.3 2370.1L105.8 2369.9L107.3 2369.9L108.8 2370.2L110.3 2370L111.8 2370L113.3 2370.1L114.8 2370.2L116.3 2370.1L117.8 2370.2L119.2 2369.9L120.7 2369.9L122.2 2369.9L123.7 2370L125.2 2369.8L126.7 2370.1L128.2 2370.1L129.7 2370.1L131.2 2369.8L132.7 2370.2L134.2 2369.9L135.7 2369.8L137.1 2369.8L138.6 2370L140.1 2370L141.6 2369.8L143.1 2369.9L144.6 2369.8L146.1 2370.2L147.6 2369.9L149.1 2369.9L150.6 2370.1L152.1 2370.1L153.6 2369.8L155 2370L156.5 2370L158 2370L159.5 2370.1L161 2370.1L162.5 2370.2L164 2370L165.5 2370.2L167 2369.8L168.5 2366.6L170 2363.7L171.5 2360.6L172.9 2356.9L174.4 2353.8L175.9 2352.8L177.4 2353.3L178.9 2353.5L180.4 2354.1L181.9 2354.4L183.4 2354.8L184.9 2355.1L186.4 2355.3L187.9 2355.9L189.4 2356.1L190.8 2356.6L192.3 2357.1L193.8 2357.7L195.3 2357.9L196.8 2358L198.3 2358L199.8 2358.3L201.3 2358.2L202.8 2358.8L204.3 2359L205.8 2358.9L207.3 2359.1L208.7 2359.6L210.2 2359.6L211.7 2359.8L213.2 2359.8L214.7 2360L216.2 2360.1L217.7 2360.5L219.2 2360.4L220.7 2360.9L222.2 2361.2L223.7 2361.4L225.2 2361.2L226.6 2361.4L228.1 2361.5L229.6 2361.5L231.1 2361.8L232.6 2362.1L234.1 2362L235.6 2362L237.1 2362.5L238.6 2362.3L240.1 2362.7L241.6 2362.9L243.1 2362.9L244.5 2362.8L246 2363.1L247.5 2363.4L249 2363.2L250.5 2363.7L252 2363.5L253.5 2363.8L255 2363.7L256.5 2363.8L258 2364L259.5 2364.1L261 2363.9L262.5 2364.1L263.9 2364.2L265.4 2364.1L266.9 2364.1L268.4 2364.5L269.9 2364.4L271.4 2364.6L272.9 2364.3L274.4 2364.7L275.9 2364.4L277.4 2364.6L278.9 2364.7L280.4 2364.7L281.8 2364.9L283.3 2364.9L284.8 2365.1L286.3 2365L287.8 2362L289.3 2353.2L290.8 2346.8L292.3 2344.5L293.8 2342.2L295.3 2340L296.8 2339L298.3 2339L299.7 2339.4L301.2 2339.3L302.7 2339.6L304.2 2339.9L305.7 2340L307.2 2340.3L308.7 2340.7L310.2 2340.5L311.7 2341.2L313.2 2341.4L314.7 2339.7L316.2 2338.1L317.6 2336.3L319.1 2334.6L320.6 2333L322.1 2327.2L323.6 2322.5L325.1 2322.3L326.6 2322.4L328.1 2322.8L329.6 2322.8L331.1 2323.2L332.6 2332.9L334.1 2333.4L335.5 2333.7L337 2333.6L338.5 2334.1L340 2334.5L341.5 2334.7L343 2334.5L344.5 2335.1L346 2335.1L347.5 2335.6L349 2335.4L350.5 2335.6L352 2336.1L353.4 2336.1L354.9 2336.1L356.4 2336.5L357.9 2336.5L359.4 2336.3L360.9 2336.4L362.4 2336.7L363.9 2336.8L365.4 2337.2L366.9 2336.9L368.4 2336.9L369.9 2337.2L371.3 2337.4L372.8 2337.6L374.3 2337.4L375.8 2337.5L377.3 2337.6L378.8 2337.6L380.3 2338.1L381.8 2338.2L383.3 2338.2L384.8 2338.2L386.3 2338.4L387.8 2338.4L389.2 2338.5L390.7 2338.3L392.2 2338.5L393.7 2338.8L395.2 2338.9L396.7 2339.9L398.2 2329.7L399.7 2423.9L401.2 2423.2L402.7 2422.5L404.2 2421.7L405.7 2421.3L407.2 2366.1L408.6 2364.9L410.1 2363.9L411.6 2362.9L413.1 2362.4L414.6 2362.7L416.1 2362.5L417.6 2362.7L419.1 2362.7L420.6 2363.1L422.1 2362.9L423.6 2363.2L425.1 2363.4L426.5 2363.5L428 2363.7L429.5 2363.4L431 2363.8L432.5 2363.7L434 2363.9L435.5 2363.9L437 2363.9L438.5 2363.6L440 2364L441.5 2363.9L443 2363.9L444.4 2363.9L445.9 2363.8L447.4 2363.7L448.9 2363.8L450.4 2363.7L451.9 2363.7L453.4 2363.8L454.9 2364.2L456.4 2364.2L457.9 2364L459.4 2364.1L460.9 2364.1L462.3 2364L463.8 2364L465.3 2363.9L466.8 2363.9L468.3 2364.2L469.8 2364L471.3 2364.1L472.8 2364.1L474.3 2364L475.8 2364L477.3 2364L478.8 2364.2L480.2 2364.4L481.7 2364.1L483.2 2364.3L484.7 2364.3L486.2 2364.4L487.7 2364.4L489.2 2364.3L490.7 2364L492.2 2364.2L493.7 2364.4L495.2 2364.1L496.7 2364.5L498.1 2364.2L499.6 2364.6L501.1 2364.1L502.6 2364.1L504.1 2364.1L505.6 2364.2L507.1 2364.1L508.6 2364L510.1 2363.7L511.6 2363.7L513.1 2363.8L514.6 2363.4L516 2363.5L517.5 2363.3L519 2363.1L520.5 2363.1L522 2363.3L523.5 2362.9L525 2362.9L526.5 2362.6L528 2362.8L529.5 2362.8L531 2362.7L532.5 2362.2L533.9 2362.2L535.4 2362.2L536.9 2361.7L538.4 2361.3L539.9 2361.4L541.4 2360.8L542.9 2360.6L544.4 2360.8L545.9 2360.5L547.4 2360.3L548.9 2360.1L550.4 2360L551.9 2359.6L553.3 2359.1L554.8 2359.1L556.3 2358.8L557.8 2358.7L559.3 2359.1L560.8 2358.8L562.3 2359.2L563.8 2359.2L565.3 2359.4L566.8 2359.5L568.3 2360.1L569.8 2360.5L571.2 2361.1L572.7 2361.8L574.2 2362L575.7 2362.8L577.2 2363L578.7 2363.2L580.2 2363.3L581.7 2362.8L583.2 2363.1L584.7 2363.2L586.2 2362.7L587.7 2363L589.1 2363.1L590.6 2362.8L592.1 2362.9L593.6 2362.6L595.1 2362.6L596.6 2362.7L598.1 2362.6L599.6 2362.8L601.1 2362.5L602.6 2362.4L604.1 2362.7L605.6 2362.8L607 2362.8L608.5 2362.5L610 2362.5L611.5 2362.3L613 2362.2L614.5 2362.3L616 2362.1L617.5 2362L619 2361.7L620.5 2361.9L622 2361.8L623.5 2361.7L624.9 2361.2L626.4 2361.4L627.9 2360.9L629.4 2361.1L630.9 2361L632.4 2360.9L633.9 2360.4L635.4 2360.7L636.9 2360.6L636.88 2370L41.67 2370Z" fill="#7d64c8" fill-opacity="0.075" stroke="none"/>
<path d="M41.7 2370L43.2 2370L44.7 2369.8L46.1 2370.1L47.6 2370.1L49.1 2369.9L50.6 2370L52.1 2370.1L53.6 2370L55.1 2370.1L56.6 2370.2L58.1 2369.9L59.6 2369.8L61.1 2369.9L62.6 2369.9L64 2370.1L65.5 2370L67 2370.2L68.5 2369.9L70 2370.1L71.5 2370.1L73 2369.8L74.5 2370.1L76 2369.8L77.5 2369.9L79 2369.9L80.5 2369.9L81.9 2370.2L83.4 2369.9L84.9 2370.1L86.4 2370L87.9 2370.2L89.4 2370.2L90.9 2370.1L92.4 2370.2L93.9 2370.1L95.4 2369.8L96.9 2369.8L98.4 2370L99.8 2370.2L101.3 2370.1L102.8 2370.2L104.3 2370.1L105.8 2369.9L107.3 2369.9L108.8 2370.2L110.3 2370L111.8 2370L113.3 2370.1L114.8 2370.2L116.3 2370.1L117.8 2370.2L119.2 2369.9L120.7 2369.9L122.2 2369.9L123.7 2370L125.2 2369.8L126.7 2370.1L128.2 2370.1L129.7 2370.1L131.2 2369.8L132.7 2370.2L134.2 2369.9L135.7 2369.8L137.1 2369.8L138.6 2370L140.1 2370L141.6 2369.8L143.1 2369.9L144.6 2369.8L146.1 2370.2L147.6 2369.9L149.1 2369.9L150.6 2370.1L152.1 2370.1L153.6 2369.8L155 2370L156.5 2370L158 2370L159.5 2370.1L161 2370.1L162.5 2370.2L164 2370L165.5 2370.2L167 2369.8L168.5 2366.6L170 2363.7L171.5 2360.6L172.9 2356.9L174.4 2353.8L175.9 2352.8L177.4 2353.3L178.9 2353.5L180.4 2354.1L181.9 2354.4L183.4 2354.8L184.9 2355.1L186.4 2355.3L187.9 2355.9L189.4 2356.1L190.8 2356.6L192.3 2357.1L193.8 2357.7L195.3 2357.9L196.8 2358L198.3 2358L199.8 2358.3L201.3 2358.2L202.8 2358.8L204.3 2359L205.8 2358.9L207.3 2359.1L208.7 2359.6L210.2 2359.6L211.7 2359.8L213.2 2359.8L214.7 2360L216.2 2360.1L217.7 2360.5L219.2 2360.4L220.7 2360.9L222.2 2361.2L223.7 2361.4L225.2 2361.2L226.6 2361.4L228.1 2361.5L229.6 2361.5L231.1 2361.8L232.6 2362.1L234.1 2362L235.6 2362L237.1 2362.5L238.6 2362.3L240.1 2362.7L241.6 2362.9L243.1 2362.9L244.5 2362.8L246 2363.1L247.5 2363.4L249 2363.2L250.5 2363.7L252 2363.5L253.5 2363.8L255 2363.7L256.5 2363.8L258 2364L259.5 2364.1L261 2363.9L262.5 2364.1L263.9 2364.2L265.4 2364.1L266.9 2364.1L268.4 2364.5L269.9 2364.4L271.4 2364.6L272.9 2364.3L274.4 2364.7L275.9 2364.4L277.4 2364.6L278.9 2364.7L280.4 2364.7L281.8 2364.9L283.3 2364.9L284.8 2365.1L286.3 2365L287.8 2362L289.3 2353.2L290.8 2346.8L292.3 2344.5L293.8 2342.2L295.3 2340L296.8 2339L298.3 2339L299.7 2339.4L301.2 2339.3L302.7 2339.6L304.2 2339.9L305.7 2340L307.2 2340.3L308.7 2340.7L310.2 2340.5L311.7 2341.2L313.2 2341.4L314.7 2339.7L316.2 2338.1L317.6 2336.3L319.1 2334.6L320.6 2333L322.1 2327.2L323.6 2322.5L325.1 2322.3L326.6 2322.4L328.1 2322.8L329.6 2322.8L331.1 2323.2L332.6 2332.9L334.1 2333.4L335.5 2333.7L337 2333.6L338.5 2334.1L340 2334.5L341.5 2334.7L343 2334.5L344.5 2335.1L346 2335.1L347.5 2335.6L349 2335.4L350.5 2335.6L352 2336.1L353.4 2336.1L354.9 2336.1L356.4 2336.5L357.9 2336.5L359.4 2336.3L360.9 2336.4L362.4 2336.7L363.9 2336.8L365.4 2337.2L366.9 2336.9L368.4 2336.9L369.9 2337.2L371.3 2337.4L372.8 2337.6L374.3 2337.4L375.8 2337.5L377.3 2337.6L378.8 2337.6L380.3 2338.1L381.8 2338.2L383.3 2338.2L384.8 2338.2L386.3 2338.4L387.8 2338.4L389.2 2338.5L390.7 2338.3L392.2 2338.5L393.7 2338.8L395.2 2338.9L396.7 2339.9L398.2 2329.7L399.7 2423.9L401.2 2423.2L402.7 2422.5L404.2 2421.7L405.7 2421.3L407.2 2366.1L408.6 2364.9L410.1 2363.9L411.6 2362.9L413.1 2362.4L414.6 2362.7L416.1 2362.5L417.6 2362.7L419.1 2362.7L420.6 2363.1L422.1 2362.9L423.6 2363.2L425.1 2363.4L426.5 2363.5L428 2363.7L429.5 2363.4L431 2363.8L432.5 2363.7L434 2363.9L435.5 2363.9L437 2363.9L438.5 2363.6L440 2364L441.5 2363.9L443 2363.9L444.4 2363.9L445.9 2363.8L447.4 2363.7L448.9 2363.8L450.4 2363.7L451.9 2363.7L453.4 2363.8L454.9 2364.2L456.4 2364.2L457.9 2364L459.4 2364.1L460.9 2364.1L462.3 2364L463.8 2364L465.3 2363.9L466.8 2363.9L468.3 2364.2L469.8 2364L471.3 2364.1L472.8 2364.1L474.3 2364L475.8 2364L477.3 2364L478.8 2364.2L480.2 2364.4L481.7 2364.1L483.2 2364.3L484.7 2364.3L486.2 2364.4L487.7 2364.4L489.2 2364.3L490.7 2364L492.2 2364.2L493.7 2364.4L495.2 2364.1L496.7 2364.5L498.1 2364.2L499.6 2364.6L501.1 2364.1L502.6 2364.1L504.1 2364.1L505.6 2364.2L507.1 2364.1L508.6 2364L510.1 2363.7L511.6 2363.7L513.1 2363.8L514.6 2363.4L516 2363.5L517.5 2363.3L519 2363.1L520.5 2363.1L522 2363.3L523.5 2362.9L525 2362.9L526.5 2362.6L528 2362.8L529.5 2362.8L531 2362.7L532.5 2362.2L533.9 2362.2L535.4 2362.2L536.9 2361.7L538.4 2361.3L539.9 2361.4L541.4 2360.8L542.9 2360.6L544.4 2360.8L545.9 2360.5L547.4 2360.3L548.9 2360.1L550.4 2360L551.9 2359.6L553.3 2359.1L554.8 2359.1L556.3 2358.8L557.8 2358.7L559.3 2359.1L560.8 2358.8L562.3 2359.2L563.8 2359.2L565.3 2359.4L566.8 2359.5L568.3 2360.1L569.8 2360.5L571.2 2361.1L572.7 2361.8L574.2 2362L575.7 2362.8L577.2 2363L578.7 2363.2L580.2 2363.3L581.7 2362.8L583.2 2363.1L584.7 2363.2L586.2 2362.7L587.7 2363L589.1 2363.1L590.6 2362.8L592.1 2362.9L593.6 2362.6L595.1 2362.6L596.6 2362.7L598.1 2362.6L599.6 2362.8L601.1 2362.5L602.6 2362.4L604.1 2362.7L605.6 2362.8L607 2362.8L608.5 2362.5L610 2362.5L611.5 2362.3L613 2362.2L614.5 2362.3L616 2362.1L617.5 2362L619 2361.7L620.5 2361.9L622 2361.8L623.5 2361.7L624.9 2361.2L626.4 2361.4L627.9 2360.9L629.4 2361.1L630.9 2361L632.4 2360.9L633.9 2360.4L635.4 2360.7L636.9 2360.6" fill="none" stroke="#7466c0" stroke-width="0.6" stroke-linejoin="round" />
<path d="M41.7 2369.8L43.2 2370.2L44.7 2369.8L46.1 2370.1L47.6 2370L49.1 2369.8L50.6 2370.1L52.1 2370L53.6 2370.2L55.1 2369.8L56.6 2369.8L58.1 2370.2L59.6 2370.2L61.1 2370L62.6 2370L64 2369.9L65.5 2370.1L67 2370L68.5 2370.2L70 2370.1L71.5 2370.2L73 2370L74.5 2370L76 2369.9L77.5 2369.8L79 2370.1L80.5 2370.1L81.9 2370L83.4 2369.8L84.9 2370.1L86.4 2370.1L87.9 2370L89.4 2369.9L90.9 2370.1L92.4 2370.2L93.9 2369.9L95.4 2370L96.9 2370L98.4 2370.2L99.8 2370.1L101.3 2370.2L102.8 2370.1L104.3 2369.8L105.8 2369.8L107.3 2369.8L108.8 2370.1L110.3 2370L111.8 2369.8L113.3 2370.1L114.8 2370.1L116.3 2369.9L117.8 2370.1L119.2 2370L120.7 2370.1L122.2 2369.8L123.7 2370L125.2 2370.2L126.7 2370.2L128.2 2369.9L129.7 2370.2L131.2 2369.9L132.7 2370.1L134.2 2370L135.7 2370.1L137.1 2369.9L138.6 2370.2L140.1 2370L141.6 2369.9L143.1 2370.1L144.6 2369.8L146.1 2369.8L147.6 2369.8L149.1 2369.8L150.6 2369.8L152.1 2370L153.6 2369.8L155 2370L156.5 2370.2L158 2369.8L159.5 2369.8L161 2370.1L162.5 2370.1L164 2370.1L165.5 2369.9L167 2370.2L168.5 2369.8L170 2370.2L171.5 2370L172.9 2369.9L174.4 2370L175.9 2370.2L177.4 2370.2L178.9 2369.9L180.4 2370.2L181.9 2370.1L183.4 2369.9L184.9 2370.1L186.4 2370.2L187.9 2369.9L189.4 2369.9L190.8 2369.9L192.3 2370.2L193.8 2370L195.3 2369.8L196.8 2370L198.3 2370.1L199.8 2369.8L201.3 2370.1L202.8 2370L204.3 2370.2L205.8 2369.8L207.3 2369.9L208.7 2370L210.2 2370L211.7 2370.1L213.2 2370L214.7 2370L216.2 2370.2L217.7 2369.9L219.2 2369.9L220.7 2370.2L222.2 2370.2L223.7 2369.9L225.2 2370.1L226.6 2370.2L228.1 2369.9L229.6 2369.8L231.1 2370.1L232.6 2370L234.1 2370L235.6 2370L237.1 2370L238.6 2369.8L240.1 2369.8L241.6 2369.8L243.1 2369.9L244.5 2369.9L246 2369.9L247.5 2369.9L249 2369.9L250.5 2369.9L252 2370.2L253.5 2370.2L255 2369.9L256.5 2370L258 2370.1L259.5 2369.9L261 2370.1L262.5 2369.9L263.9 2370.1L265.4 2369.8L266.9 2370.1L268.4 2369.8L269.9 2370.1L271.4 2369.9L272.9 2370.2L274.4 2370L275.9 2370.1L277.4 2369.8L278.9 2369.9L280.4 2370L281.8 2370.2L283.3 2370L284.8 2370.1L286.3 2370.2L287.8 2369.9L289.3 2370L290.8 2369.7L292.3 2369.8L293.8 2370.2L295.3 2369.8L296.8 2370L298.3 2369.8L299.7 2370.1L301.2 2370L302.7 2369.9L304.2 2370.1L305.7 2370L307.2 2370.1L308.7 2370.1L310.2 2370L311.7 2370L313.2 2369.8L314.7 2370.1L316.2 2370.1L317.6 2370.1L319.1 2370.2L320.6 2370.1L322.1 2370.1L323.6 2370.2L325.1 2370L326.6 2370.2L328.1 2369.9L329.6 2369.8L331.1 2369.9L332.6 2370.1L334.1 2370.2L335.5 2370.2L337 2370.2L338.5 2369.8L340 2369.9L341.5 2369.8L343 2370.1L344.5 2370L346 2369.9L347.5 2369.9L349 2369.9L350.5 2370.2L352 2369.8L353.4 2370L354.9 2370.1L356.4 2370.1L357.9 2369.9L359.4 2369.8L360.9 2370.2L362.4 2370.1L363.9 2370.2L365.4 2369.9L366.9 2369.9L368.4 2369.9L369.9 2370.2L371.3 2370L372.8 2369.8L374.3 2370.1L375.8 2370.1L377.3 2370.1L378.8 2369.8L380.3 2370.1L381.8 2369.9L383.3 2369.9L384.8 2369.8L386.3 2370.2L387.8 2370.1L389.2 2369.8L390.7 2370L392.2 2370.2L393.7 2370.2L395.2 2370.2L396.7 2369.9L398.2 2368L399.7 2361.9L401.2 2355.8L402.7 2350.3L404.2 2345.1L405.7 2340L407.2 2338.4L408.6 2336.9L410.1 2335.3L411.6 2333.3L413.1 2331.9L414.6 2330.9L416.1 2329.2L417.6 2327.7L419.1 2326.7L420.6 2326.4L422.1 2327.3L423.6 2327.9L425.1 2328.5L426.5 2332.9L428 2339.4L429.5 2345.8L431 2351L432.5 2353.3L434 2355.6L435.5 2357.9L437 2358.1L438.5 2358.2L440 2358.3L441.5 2358.5L443 2358.3L444.4 2358.3L445.9 2358.6L447.4 2358.4L448.9 2358.5L450.4 2358.8L451.9 2359L453.4 2358.6L454.9 2358.9L456.4 2359.1L457.9 2358.9L459.4 2359L460.9 2359L462.3 2359.1L463.8 2359.2L465.3 2359.5L466.8 2359.1L468.3 2358.8L469.8 2357.9L471.3 2357.3L472.8 2356.5L474.3 2355.9L475.8 2355L477.3 2354.5L478.8 2354.4L480.2 2354.2L481.7 2354.3L483.2 2354.2L484.7 2354.3L486.2 2354.1L487.7 2354.4L489.2 2354.3L490.7 2354.4L492.2 2354.3L493.7 2354.1L495.2 2353.8L496.7 2354.2L498.1 2354L499.6 2353.9L501.1 2353.9L502.6 2354.2L504.1 2354.2L505.6 2353.8L507.1 2354L508.6 2353.7L510.1 2353.8L511.6 2353.6L513.1 2353.8L514.6 2353.6L516 2353.9L517.5 2353.5L519 2352.3L520.5 2351.2L522 2349.9L523.5 2350L525 2350L526.5 2349.7L528 2349.6L529.5 2349.3L531 2349.4L532.5 2349.3L533.9 2349.3L535.4 2349L536.9 2348.8L538.4 2349.1L539.9 2348.9L541.4 2348.6L542.9 2347.2L544.4 2344.9L545.9 2342.3L547.4 2339.5L548.9 2337.5L550.4 2335.1L551.9 2332.3L553.3 2327.7L554.8 2322.5L556.3 2317.9L557.8 2316.6L559.3 2317.3L560.8 2317.8L562.3 2318.5L563.8 2319.6L565.3 2321.2L566.8 2324.8L568.3 2328.2L569.8 2331.4L571.2 2335.1L572.7 2337.3L574.2 2338.9L575.7 2340.7L577.2 2342.4L578.7 2344.1L580.2 2345.3L581.7 2345.8L583.2 2346.9L584.7 2347.7L586.2 2348.1L587.7 2348.9L589.1 2350.1L590.6 2350.6L592.1 2351.5L593.6 2352.1L595.1 2352.5L596.6 2353.5L598.1 2353.9L599.6 2354.4L601.1 2354.9L602.6 2355.7L604.1 2356.4L605.6 2357.2L607 2357.3L608.5 2357.9L610 2358L611.5 2358.1L613 2357.9L614.5 2358.3L616 2358.2L617.5 2358.8L619 2358.8L620.5 2359L622 2359.3L623.5 2359.1L624.9 2359.2L626.4 2359.4L627.9 2359.7L629.4 2359.7L630.9 2359.8L632.4 2360.2L633.9 2360.3L635.4 2360.7L636.9 2360.3L636.88 2370L41.67 2370Z" fill="#e24d5f" fill-opacity="0.1" stroke="none"/>
<path d="M41.7 2369.8L43.2 2370.2L44.7 2369.8L46.1 2370.1L47.6 2370L49.1 2369.8L50.6 2370.1L52.1 2370L53.6 2370.2L55.1 2369.8L56.6 2369.8L58.1 2370.2L59.6 2370.2L61.1 2370L62.6 2370L64 2369.9L65.5 2370.1L67 2370L68.5 2370.2L70 2370.1L71.5 2370.2L73 2370L74.5 2370L76 2369.9L77.5 2369.8L79 2370.1L80.5 2370.1L81.9 2370L83.4 2369.8L84.9 2370.1L86.4 2370.1L87.9 2370L89.4 2369.9L90.9 2370.1L92.4 2370.2L93.9 2369.9L95.4 2370L96.9 2370L98.4 2370.2L99.8 2370.1L101.3 2370.2L102.8 2370.1L104.3 2369.8L105.8 2369.8L107.3 2369.8L108.8 2370.1L110.3 2370L111.8 2369.8L113.3 2370.1L114.8 2370.1L116.3 2369.9L117.8 2370.1L119.2 2370L120.7 2370.1L122.2 2369.8L123.7 2370L125.2 2370.2L126.7 2370.2L128.2 2369.9L129.7 2370.2L131.2 2369.9L132.7 2370.1L134.2 2370L135.7 2370.1L137.1 2369.9L138.6 2370.2L140.1 2370L141.6 2369.9L143.1 2370.1L144.6 2369.8L146.1 2369.8L147.6 2369.8L149.1 2369.8L150.6 2369.8L152.1 2370L153.6 2369.8L155 2370L156.5 2370.2L158 2369.8L159.5 2369.8L161 2370.1L162.5 2370.1L164 2370.1L165.5 2369.9L167 2370.2L168.5 2369.8L170 2370.2L171.5 2370L172.9 2369.9L174.4 2370L175.9 2370.2L177.4 2370.2L178.9 2369.9L180.4 2370.2L181.9 2370.1L183.4 2369.9L184.9 2370.1L186.4 2370.2L187.9 2369.9L189.4 2369.9L190.8 2369.9L192.3 2370.2L193.8 2370L195.3 2369.8L196.8 2370L198.3 2370.1L199.8 2369.8L201.3 2370.1L202.8 2370L204.3 2370.2L205.8 2369.8L207.3 2369.9L208.7 2370L210.2 2370L211.7 2370.1L213.2 2370L214.7 2370L216.2 2370.2L217.7 2369.9L219.2 2369.9L220.7 2370.2L222.2 2370.2L223.7 2369.9L225.2 2370.1L226.6 2370.2L228.1 2369.9L229.6 2369.8L231.1 2370.1L232.6 2370L234.1 2370L235.6 2370L237.1 2370L238.6 2369.8L240.1 2369.8L241.6 2369.8L243.1 2369.9L244.5 2369.9L246 2369.9L247.5 2369.9L249 2369.9L250.5 2369.9L252 2370.2L253.5 2370.2L255 2369.9L256.5 2370L258 2370.1L259.5 2369.9L261 2370.1L262.5 2369.9L263.9 2370.1L265.4 2369.8L266.9 2370.1L268.4 2369.8L269.9 2370.1L271.4 2369.9L272.9 2370.2L274.4 2370L275.9 2370.1L277.4 2369.8L278.9 2369.9L280.4 2370L281.8 2370.2L283.3 2370L284.8 2370.1L286.3 2370.2L287.8 2369.9L289.3 2370L290.8 2369.7L292.3 2369.8L293.8 2370.2L295.3 2369.8L296.8 2370L298.3 2369.8L299.7 2370.1L301.2 2370L302.7 2369.9L304.2 2370.1L305.7 2370L307.2 2370.1L308.7 2370.1L310.2 2370L311.7 2370L313.2 2369.8L314.7 2370.1L316.2 2370.1L317.6 2370.1L319.1 2370.2L320.6 2370.1L322.1 2370.1L323.6 2370.2L325.1 2370L326.6 2370.2L328.1 2369.9L329.6 2369.8L331.1 2369.9L332.6 2370.1L334.1 2370.2L335.5 2370.2L337 2370.2L338.5 2369.8L340 2369.9L341.5 2369.8L343 2370.1L344.5 2370L346 2369.9L347.5 2369.9L349 2369.9L350.5 2370.2L352 2369.8L353.4 2370L354.9 2370.1L356.4 2370.1L357.9 2369.9L359.4 2369.8L360.9 2370.2L362.4 2370.1L363.9 2370.2L365.4 2369.9L366.9 2369.9L368.4 2369.9L369.9 2370.2L371.3 2370L372.8 2369.8L374.3 2370.1L375.8 2370.1L377.3 2370.1L378.8 2369.8L380.3 2370.1L381.8 2369.9L383.3 2369.9L384.8 2369.8L386.3 2370.2L387.8 2370.1L389.2 2369.8L390.7 2370L392.2 2370.2L393.7 2370.2L395.2 2370.2L396.7 2369.9L398.2 2368L399.7 2361.9L401.2 2355.8L402.7 2350.3L404.2 2345.1L405.7 2340L407.2 2338.4L408.6 2336.9L410.1 2335.3L411.6 2333.3L413.1 2331.9L414.6 2330.9L416.1 2329.2L417.6 2327.7L419.1 2326.7L420.6 2326.4L422.1 2327.3L423.6 2327.9L425.1 2328.5L426.5 2332.9L428 2339.4L429.5 2345.8L431 2351L432.5 2353.3L434 2355.6L435.5 2357.9L437 2358.1L438.5 2358.2L440 2358.3L441.5 2358.5L443 2358.3L444.4 2358.3L445.9 2358.6L447.4 2358.4L448.9 2358.5L450.4 2358.8L451.9 2359L453.4 2358.6L454.9 2358.9L456.4 2359.1L457.9 2358.9L459.4 2359L460.9 2359L462.3 2359.1L463.8 2359.2L465.3 2359.5L466.8 2359.1L468.3 2358.8L469.8 2357.9L471.3 2357.3L472.8 2356.5L474.3 2355.9L475.8 2355L477.3 2354.5L478.8 2354.4L480.2 2354.2L481.7 2354.3L483.2 2354.2L484.7 2354.3L486.2 2354.1L487.7 2354.4L489.2 2354.3L490.7 2354.4L492.2 2354.3L493.7 2354.1L495.2 2353.8L496.7 2354.2L498.1 2354L499.6 2353.9L501.1 2353.9L502.6 2354.2L504.1 2354.2L505.6 2353.8L507.1 2354L508.6 2353.7L510.1 2353.8L511.6 2353.6L513.1 2353.8L514.6 2353.6L516 2353.9L517.5 2353.5L519 2352.3L520.5 2351.2L522 2349.9L523.5 2350L525 2350L526.5 2349.7L528 2349.6L529.5 2349.3L531 2349.4L532.5 2349.3L533.9 2349.3L535.4 2349L536.9 2348.8L538.4 2349.1L539.9 2348.9L541.4 2348.6L542.9 2347.2L544.4 2344.9L545.9 2342.3L547.4 2339.5L548.9 2337.5L550.4 2335.1L551.9 2332.3L553.3 2327.7L554.8 2322.5L556.3 2317.9L557.8 2316.6L559.3 2317.3L560.8 2317.8L562.3 2318.5L563.8 2319.6L565.3 2321.2L566.8 2324.8L568.3 2328.2L569.8 2331.4L571.2 2335.1L572.7 2337.3L574.2 2338.9L575.7 2340.7L577.2 2342.4L578.7 2344.1L580.2 2345.3L581.7 2345.8L583.2 2346.9L584.7 2347.7L586.2 2348.1L587.7 2348.9L589.1 2350.1L590.6 2350.6L592.1 2351.5L593.6 2352.1L595.1 2352.5L596.6 2353.5L598.1 2353.9L599.6 2354.4L601.1 2354.9L602.6 2355.7L604.1 2356.4L605.6 2357.2L607 2357.3L608.5 2357.9L610 2358L611.5 2358.1L613 2357.9L614.5 2358.3L616 2358.2L617.5 2358.8L619 2358.8L620.5 2359L622 2359.3L623.5 2359.1L624.9 2359.2L626.4 2359.4L627.9 2359.7L629.4 2359.7L630.9 2359.8L632.4 2360.2L633.9 2360.3L635.4 2360.7L636.9 2360.3" fill="none" stroke="#e24d5f" stroke-width="0.6" stroke-linejoin="round" />
<path d="M41.7 2370L43.2 2370.1L44.7 2369.8L46.1 2370L47.6 2370.2L49.1 2369.9L50.6 2370.2L52.1 2370.2L53.6 2370.2L55.1 2370L56.6 2369.9L58.1 2370L59.6 2370.2L61.1 2369.9L62.6 2369.9L64 2370.1L65.5 2370.2L67 2370L68.5 2369.8L70 2369.9L71.5 2369.9L73 2370L74.5 2370.2L76 2370L77.5 2370.1L79 2370L80.5 2370.1L81.9 2370.2L83.4 2369.9L84.9 2370.3L86.4 2370.2L87.9 2370.2L89.4 2369.9L90.9 2370.3L92.4 2370.1L93.9 2369.9L95.4 2370.1L96.9 2369.9L98.4 2370.2L99.8 2370.2L101.3 2370.2L102.8 2370.2L104.3 2370.2L105.8 2370.4L107.3 2369.9L108.8 2370.1L110.3 2370.1L111.8 2370.2L113.3 2370.3L114.8 2370.3L116.3 2370L117.8 2370L119.2 2370.2L120.7 2370.1L122.2 2370L123.7 2370.4L125.2 2370.3L126.7 2370.3L128.2 2370.3L129.7 2370.2L131.2 2370.3L132.7 2370.4L134.2 2370L135.7 2370.3L137.1 2370.1L138.6 2370.4L140.1 2370.3L141.6 2370.3L143.1 2370.5L144.6 2370.3L146.1 2370.4L147.6 2370.3L149.1 2370.4L150.6 2370.1L152.1 2370.3L153.6 2370.4L155 2370.2L156.5 2370.3L158 2370.4L159.5 2370.2L161 2370.3L162.5 2370.6L164 2370.3L165.5 2370.4L167 2370.5L168.5 2370.1L170 2370.3L171.5 2370.1L172.9 2370.3L174.4 2370.4L175.9 2370.5L177.4 2370.3L178.9 2370.4L180.4 2370.5L181.9 2370.2L183.4 2370.3L184.9 2370.6L186.4 2370.1L187.9 2370.4L189.4 2370.2L190.8 2370.4L192.3 2370.6L193.8 2370.4L195.3 2370.4L196.8 2370.3L198.3 2370.4L199.8 2370.5L201.3 2370.4L202.8 2370.4L204.3 2370.3L205.8 2370.3L207.3 2370.5L208.7 2370.6L210.2 2370.7L211.7 2370.4L213.2 2370.6L214.7 2370.3L216.2 2370.5L217.7 2370.2L219.2 2370.7L220.7 2370.3L222.2 2370.6L223.7 2370.6L225.2 2370.5L226.6 2370.6L228.1 2370.5L229.6 2370.5L231.1 2370.4L232.6 2370.7L234.1 2370.4L235.6 2370.6L237.1 2370.4L238.6 2370.6L240.1 2370.3L241.6 2370.7L243.1 2370.7L244.5 2370.4L246 2370.5L247.5 2370.7L249 2370.6L250.5 2370.6L252 2370.7L253.5 2370.5L255 2370.6L256.5 2370.5L258 2370.4L259.5 2370.7L261 2370.7L262.5 2370.5L263.9 2370.5L265.4 2370.5L266.9 2370.7L268.4 2370.7L269.9 2370.8L271.4 2370.7L272.9 2370.7L274.4 2370.5L275.9 2370.7L277.4 2370.5L278.9 2370.8L280.4 2370.7L281.8 2370.6L283.3 2370.7L284.8 2370.6L286.3 2370.4L287.8 2370.6L289.3 2374.7L290.8 2380.3L292.3 2386.1L293.8 2390.4L295.3 2392.3L296.8 2393.4L298.3 2395L299.7 2395.2L301.2 2395.1L302.7 2395.3L304.2 2394.9L305.7 2395.2L307.2 2395.1L308.7 2395L310.2 2395L311.7 2395.1L313.2 2395.2L314.7 2395.1L316.2 2395.1L317.6 2395.3L319.1 2395L320.6 2395.4L322.1 2395.4L323.6 2395.2L325.1 2395.2L326.6 2395.4L328.1 2395.1L329.6 2395L331.1 2395.2L332.6 2395.2L334.1 2395.4L335.5 2395.5L337 2395.4L338.5 2395.2L340 2395.1L341.5 2395.4L343 2395.4L344.5 2395.4L346 2395.3L347.5 2395.5L349 2395.4L350.5 2395.2L352 2395.6L353.4 2395.3L354.9 2395.5L356.4 2395.6L357.9 2395.5L359.4 2395.4L360.9 2395.5L362.4 2395.5L363.9 2395.4L365.4 2395.5L366.9 2395.3L368.4 2395.3L369.9 2395.3L371.3 2395.4L372.8 2395.7L374.3 2395.6L375.8 2395.6L377.3 2395.5L378.8 2395.8L380.3 2395.4L381.8 2395.7L383.3 2395.7L384.8 2395.4L386.3 2395.7L387.8 2395.9L389.2 2395.8L390.7 2395.6L392.2 2395.9L393.7 2395.5L395.2 2395.9L396.7 2395.9L398.2 2373.7L399.7 2373.9L401.2 2373.9L402.7 2373.6L404.2 2373.8L405.7 2373.7L407.2 2373.4L408.6 2373.4L410.1 2373.3L411.6 2373.5L413.1 2373.4L414.6 2373.5L416.1 2373.3L417.6 2373.2L419.1 2373.6L420.6 2373.6L422.1 2373.3L423.6 2373.2L425.1 2373.2L426.5 2373.4L428 2373.4L429.5 2373.2L431 2373L432.5 2373.2L434 2373L435.5 2373.2L437 2373.1L438.5 2373.4L440 2373.2L441.5 2373.4L443 2373.4L444.4 2373.6L445.9 2373.3L447.4 2373.4L448.9 2373.4L450.4 2373.5L451.9 2373.7L453.4 2373.5L454.9 2373.8L456.4 2373.8L457.9 2373.7L459.4 2373.5L460.9 2373.7L462.3 2373.7L463.8 2373.6L465.3 2373.6L466.8 2374L468.3 2373.9L469.8 2374.1L471.3 2373.7L472.8 2373.9L474.3 2373.9L475.8 2374.2L477.3 2374.1L478.8 2374.2L480.2 2373.9L481.7 2374.2L483.2 2373.9L484.7 2374.3L486.2 2374.1L487.7 2374.3L489.2 2374.4L490.7 2374.4L492.2 2374.1L493.7 2374.3L495.2 2374.5L496.7 2374.5L498.1 2374.4L499.6 2374.5L501.1 2374.5L502.6 2374.8L504.1 2374.6L505.6 2374.7L507.1 2374.5L508.6 2374.5L510.1 2374.9L511.6 2374.8L513.1 2374.5L514.6 2374.6L516 2375L517.5 2374.9L519 2374.8L520.5 2374.9L522 2374.8L523.5 2374.9L525 2375L526.5 2375.1L528 2375.3L529.5 2374.9L531 2375.2L532.5 2375.3L533.9 2375.1L535.4 2375.4L536.9 2375.2L538.4 2375.1L539.9 2375.4L541.4 2375.2L542.9 2375.2L544.4 2375.4L545.9 2375.5L547.4 2375.3L548.9 2375.4L550.4 2375.3L551.9 2375.6L553.3 2375.4L554.8 2375.6L556.3 2375.5L557.8 2375.8L559.3 2375.8L560.8 2375.9L562.3 2375.5L563.8 2375.7L565.3 2375.6L566.8 2375.8L568.3 2376.1L569.8 2375.9L571.2 2375.9L572.7 2376L574.2 2375.9L575.7 2375.8L577.2 2376L578.7 2376.2L580.2 2376.3L581.7 2375.9L583.2 2376.1L584.7 2376.3L586.2 2376.1L587.7 2376.4L589.1 2376.4L590.6 2376.3L592.1 2376.1L593.6 2376.2L595.1 2376.4L596.6 2376.4L598.1 2376.6L599.6 2376.4L601.1 2376.5L602.6 2376.5L604.1 2376.8L605.6 2376.7L607 2376.4L608.5 2376.6L610 2376.5L611.5 2376.6L613 2376.8L614.5 2377L616 2377.1L617.5 2376.7L619 2376.8L620.5 2376.8L622 2377L623.5 2376.9L624.9 2377.2L626.4 2376.9L627.9 2377.2L629.4 2377.2L630.9 2377.4L632.4 2377.2L633.9 2377L635.4 2377L636.9 2377.3L636.88 2370L41.67 2370Z" fill="#ffb37d" fill-opacity="0.12" stroke="none"/>
<path d="M41.7 2370L43.2 2370.1L44.7 2369.8L46.1 2370L47.6 2370.2L49.1 2369.9L50.6 2370.2L52.1 2370.2L53.6 2370.2L55.1 2370L56.6 2369.9L58.1 2370L59.6 2370.2L61.1 2369.9L62.6 2369.9L64 2370.1L65.5 2370.2L67 2370L68.5 2369.8L70 2369.9L71.5 2369.9L73 2370L74.5 2370.2L76 2370L77.5 2370.1L79 2370L80.5 2370.1L81.9 2370.2L83.4 2369.9L84.9 2370.3L86.4 2370.2L87.9 2370.2L89.4 2369.9L90.9 2370.3L92.4 2370.1L93.9 2369.9L95.4 2370.1L96.9 2369.9L98.4 2370.2L99.8 2370.2L101.3 2370.2L102.8 2370.2L104.3 2370.2L105.8 2370.4L107.3 2369.9L108.8 2370.1L110.3 2370.1L111.8 2370.2L113.3 2370.3L114.8 2370.3L116.3 2370L117.8 2370L119.2 2370.2L120.7 2370.1L122.2 2370L123.7 2370.4L125.2 2370.3L126.7 2370.3L128.2 2370.3L129.7 2370.2L131.2 2370.3L132.7 2370.4L134.2 2370L135.7 2370.3L137.1 2370.1L138.6 2370.4L140.1 2370.3L141.6 2370.3L143.1 2370.5L144.6 2370.3L146.1 2370.4L147.6 2370.3L149.1 2370.4L150.6 2370.1L152.1 2370.3L153.6 2370.4L155 2370.2L156.5 2370.3L158 2370.4L159.5 2370.2L161 2370.3L162.5 2370.6L164 2370.3L165.5 2370.4L167 2370.5L168.5 2370.1L170 2370.3L171.5 2370.1L172.9 2370.3L174.4 2370.4L175.9 2370.5L177.4 2370.3L178.9 2370.4L180.4 2370.5L181.9 2370.2L183.4 2370.3L184.9 2370.6L186.4 2370.1L187.9 2370.4L189.4 2370.2L190.8 2370.4L192.3 2370.6L193.8 2370.4L195.3 2370.4L196.8 2370.3L198.3 2370.4L199.8 2370.5L201.3 2370.4L202.8 2370.4L204.3 2370.3L205.8 2370.3L207.3 2370.5L208.7 2370.6L210.2 2370.7L211.7 2370.4L213.2 2370.6L214.7 2370.3L216.2 2370.5L217.7 2370.2L219.2 2370.7L220.7 2370.3L222.2 2370.6L223.7 2370.6L225.2 2370.5L226.6 2370.6L228.1 2370.5L229.6 2370.5L231.1 2370.4L232.6 2370.7L234.1 2370.4L235.6 2370.6L237.1 2370.4L238.6 2370.6L240.1 2370.3L241.6 2370.7L243.1 2370.7L244.5 2370.4L246 2370.5L247.5 2370.7L249 2370.6L250.5 2370.6L252 2370.7L253.5 2370.5L255 2370.6L256.5 2370.5L258 2370.4L259.5 2370.7L261 2370.7L262.5 2370.5L263.9 2370.5L265.4 2370.5L266.9 2370.7L268.4 2370.7L269.9 2370.8L271.4 2370.7L272.9 2370.7L274.4 2370.5L275.9 2370.7L277.4 2370.5L278.9 2370.8L280.4 2370.7L281.8 2370.6L283.3 2370.7L284.8 2370.6L286.3 2370.4L287.8 2370.6L289.3 2374.7L290.8 2380.3L292.3 2386.1L293.8 2390.4L295.3 2392.3L296.8 2393.4L298.3 2395L299.7 2395.2L301.2 2395.1L302.7 2395.3L304.2 2394.9L305.7 2395.2L307.2 2395.1L308.7 2395L310.2 2395L311.7 2395.1L313.2 2395.2L314.7 2395.1L316.2 2395.1L317.6 2395.3L319.1 2395L320.6 2395.4L322.1 2395.4L323.6 2395.2L325.1 2395.2L326.6 2395.4L328.1 2395.1L329.6 2395L331.1 2395.2L332.6 2395.2L334.1 2395.4L335.5 2395.5L337 2395.4L338.5 2395.2L340 2395.1L341.5 2395.4L343 2395.4L344.5 2395.4L346 2395.3L347.5 2395.5L349 2395.4L350.5 2395.2L352 2395.6L353.4 2395.3L354.9 2395.5L356.4 2395.6L357.9 2395.5L359.4 2395.4L360.9 2395.5L362.4 2395.5L363.9 2395.4L365.4 2395.5L366.9 2395.3L368.4 2395.3L369.9 2395.3L371.3 2395.4L372.8 2395.7L374.3 2395.6L375.8 2395.6L377.3 2395.5L378.8 2395.8L380.3 2395.4L381.8 2395.7L383.3 2395.7L384.8 2395.4L386.3 2395.7L387.8 2395.9L389.2 2395.8L390.7 2395.6L392.2 2395.9L393.7 2395.5L395.2 2395.9L396.7 2395.9L398.2 2373.7L399.7 2373.9L401.2 2373.9L402.7 2373.6L404.2 2373.8L405.7 2373.7L407.2 2373.4L408.6 2373.4L410.1 2373.3L411.6 2373.5L413.1 2373.4L414.6 2373.5L416.1 2373.3L417.6 2373.2L419.1 2373.6L420.6 2373.6L422.1 2373.3L423.6 2373.2L425.1 2373.2L426.5 2373.4L428 2373.4L429.5 2373.2L431 2373L432.5 2373.2L434 2373L435.5 2373.2L437 2373.1L438.5 2373.4L440 2373.2L441.5 2373.4L443 2373.4L444.4 2373.6L445.9 2373.3L447.4 2373.4L448.9 2373.4L450.4 2373.5L451.9 2373.7L453.4 2373.5L454.9 2373.8L456.4 2373.8L457.9 2373.7L459.4 2373.5L460.9 2373.7L462.3 2373.7L463.8 2373.6L465.3 2373.6L466.8 2374L468.3 2373.9L469.8 2374.1L471.3 2373.7L472.8 2373.9L474.3 2373.9L475.8 2374.2L477.3 2374.1L478.8 2374.2L480.2 2373.9L481.7 2374.2L483.2 2373.9L484.7 2374.3L486.2 2374.1L487.7 2374.3L489.2 2374.4L490.7 2374.4L492.2 2374.1L493.7 2374.3L495.2 2374.5L496.7 2374.5L498.1 2374.4L499.6 2374.5L501.1 2374.5L502.6 2374.8L504.1 2374.6L505.6 2374.7L507.1 2374.5L508.6 2374.5L510.1 2374.9L511.6 2374.8L513.1 2374.5L514.6 2374.6L516 2375L517.5 2374.9L519 2374.8L520.5 2374.9L522 2374.8L523.5 2374.9L525 2375L526.5 2375.1L528 2375.3L529.5 2374.9L531 2375.2L532.5 2375.3L533.9 2375.1L535.4 2375.4L536.9 2375.2L538.4 2375.1L539.9 2375.4L541.4 2375.2L542.9 2375.2L544.4 2375.4L545.9 2375.5L547.4 2375.3L548.9 2375.4L550.4 2375.3L551.9 2375.6L553.3 2375.4L554.8 2375.6L556.3 2375.5L557.8 2375.8L559.3 2375.8L560.8 2375.9L562.3 2375.5L563.8 2375.7L565.3 2375.6L566.8 2375.8L568.3 2376.1L569.8 2375.9L571.2 2375.9L572.7 2376L574.2 2375.9L575.7 2375.8L577.2 2376L578.7 2376.2L580.2 2376.3L581.7 2375.9L583.2 2376.1L584.7 2376.3L586.2 2376.1L587.7 2376.4L589.1 2376.4L590.6 2376.3L592.1 2376.1L593.6 2376.2L595.1 2376.4L596.6 2376.4L598.1 2376.6L599.6 2376.4L601.1 2376.5L602.6 2376.5L604.1 2376.8L605.6 2376.7L607 2376.4L608.5 2376.6L610 2376.5L611.5 2376.6L613 2376.8L614.5 2377L616 2377.1L617.5 2376.7L619 2376.8L620.5 2376.8L622 2377L623.5 2376.9L624.9 2377.2L626.4 2376.9L627.9 2377.2L629.4 2377.2L630.9 2377.4L632.4 2377.2L633.9 2377L635.4 2377L636.9 2377.3" fill="none" stroke="#e08a4a" stroke-width="0.6" stroke-linejoin="round" />
<path d="M41.7 2370L43.2 2369.9L44.7 2370L46.1 2369.8L47.6 2370.2L49.1 2369.8L50.6 2369.9L52.1 2369.8L53.6 2369.8L55.1 2370.1L56.6 2369.8L58.1 2369.9L59.6 2370.2L61.1 2369.8L62.6 2370L64 2369.9L65.5 2370.2L67 2369.9L68.5 2370.2L70 2370.2L71.5 2370.2L73 2370.2L74.5 2370L76 2370.1L77.5 2370.2L79 2369.8L80.5 2369.9L81.9 2370.1L83.4 2370.1L84.9 2369.9L86.4 2370L87.9 2370.1L89.4 2370.1L90.9 2370.1L92.4 2370L93.9 2370.2L95.4 2370.2L96.9 2370L98.4 2370.1L99.8 2370.2L101.3 2370.1L102.8 2369.9L104.3 2369.8L105.8 2370.2L107.3 2369.8L108.8 2370.1L110.3 2369.8L111.8 2369.8L113.3 2370.1L114.8 2369.9L116.3 2370L117.8 2370.1L119.2 2369.8L120.7 2369.9L122.2 2369.8L123.7 2370.2L125.2 2370.1L126.7 2369.8L128.2 2370.1L129.7 2370.1L131.2 2370.1L132.7 2369.8L134.2 2370.1L135.7 2370.2L137.1 2370.2L138.6 2369.8L140.1 2370.2L141.6 2370.2L143.1 2370.1L144.6 2370L146.1 2369.8L147.6 2369.8L149.1 2370L150.6 2369.9L152.1 2370.1L153.6 2370L155 2370.2L156.5 2369.9L158 2370L159.5 2369.9L161 2369.8L162.5 2369.8L164 2369.8L165.5 2366.1L167 2366.4L168.5 2366.3L170 2366.2L171.5 2366.4L172.9 2373.8L174.4 2373.8L175.9 2373.9L177.4 2373.8L178.9 2373.7L180.4 2373.5L181.9 2373.7L183.4 2373.7L184.9 2373.9L186.4 2373.5L187.9 2373.6L189.4 2373.7L190.8 2373.8L192.3 2373.7L193.8 2374L195.3 2373.9L196.8 2374L198.3 2373.5L199.8 2373.8L201.3 2373.7L202.8 2373.6L204.3 2373.8L205.8 2373.5L207.3 2373.5L208.7 2373.8L210.2 2374L211.7 2373.6L213.2 2373.8L214.7 2374L216.2 2373.6L217.7 2373.7L219.2 2373.5L220.7 2373.7L222.2 2373.8L223.7 2374L225.2 2373.9L226.6 2373.6L228.1 2373.6L229.6 2373.8L231.1 2373.7L232.6 2373.9L234.1 2374L235.6 2373.9L237.1 2373.9L238.6 2373.6L240.1 2374L241.6 2373.9L243.1 2373.8L244.5 2373.6L246 2373.9L247.5 2373.9L249 2373.6L250.5 2373.8L252 2373.6L253.5 2373.8L255 2373.9L256.5 2373.6L258 2373.7L259.5 2373.8L261 2373.6L262.5 2373.8L263.9 2373.9L265.4 2373.9L266.9 2373.9L268.4 2373.6L269.9 2373.6L271.4 2373.9L272.9 2374L274.4 2373.9L275.9 2374L277.4 2373.7L278.9 2373.8L280.4 2373.7L281.8 2373.9L283.3 2373.7L284.8 2373.6L286.3 2373.9L287.8 2373.5L289.3 2373.9L290.8 2373.5L292.3 2373.5L293.8 2373.6L295.3 2373.8L296.8 2373.6L298.3 2373.6L299.7 2373.9L301.2 2373.7L302.7 2373.9L304.2 2374L305.7 2373.7L307.2 2373.8L308.7 2373.7L310.2 2374.1L311.7 2373.9L313.2 2374.1L314.7 2373.9L316.2 2373.9L317.6 2374L319.1 2373.9L320.6 2374L322.1 2374.2L323.6 2374L325.1 2373.8L326.6 2374L328.1 2374.2L329.6 2374.1L331.1 2374.1L332.6 2374.2L334.1 2374.1L335.5 2374.1L337 2374L338.5 2373.9L340 2373.8L341.5 2374L343 2374.2L344.5 2373.9L346 2373.9L347.5 2373.9L349 2374.2L350.5 2374.1L352 2374.2L353.4 2374L354.9 2373.9L356.4 2374L357.9 2374.1L359.4 2374L360.9 2374.3L362.4 2374.2L363.9 2374.4L365.4 2374.4L366.9 2374.4L368.4 2374.2L369.9 2374.3L371.3 2374.1L372.8 2374.4L374.3 2374.2L375.8 2374.2L377.3 2374.3L378.8 2374.3L380.3 2374.3L381.8 2374.2L383.3 2374.1L384.8 2374.3L386.3 2374L387.8 2374.5L389.2 2374.2L390.7 2374.3L392.2 2374.2L393.7 2374.5L395.2 2374.5L396.7 2374.6L398.2 2374.5L399.7 2374.3L401.2 2374.1L402.7 2374.4L404.2 2374.2L405.7 2385L407.2 2395.4L408.6 2395.4L410.1 2395.4L411.6 2395.9L413.1 2395.9L414.6 2395.9L416.1 2397L417.6 2399.2L419.1 2401.6L420.6 2403.6L422.1 2402.9L423.6 2402.1L425.1 2401.6L426.5 2395.9L428 2388.1L429.5 2380.2L431 2378.7L432.5 2377.8L434 2376.8L435.5 2376.5L437 2376.1L438.5 2376.4L440 2376.5L441.5 2376.3L443 2376.4L444.4 2376.3L445.9 2376.4L447.4 2376.4L448.9 2376.4L450.4 2376.4L451.9 2376.6L453.4 2376.6L454.9 2376.4L456.4 2376.5L457.9 2376.7L459.4 2376.7L460.9 2376.6L462.3 2376.7L463.8 2376.6L465.3 2376.5L466.8 2376.4L468.3 2376.7L469.8 2376.5L471.3 2376.5L472.8 2376.7L474.3 2376.6L475.8 2376.3L477.3 2376.4L478.8 2376.5L480.2 2376.7L481.7 2376.7L483.2 2376.6L484.7 2376.4L486.2 2376.7L487.7 2376.6L489.2 2376.8L490.7 2376.9L492.2 2376.9L493.7 2376.9L495.2 2376.6L496.7 2376.9L498.1 2376.9L499.6 2376.8L501.1 2376.6L502.6 2376.6L504.1 2376.8L505.6 2376.6L507.1 2376.9L508.6 2376.6L510.1 2376.6L511.6 2376.7L513.1 2376.7L514.6 2376.7L516 2377.4L517.5 2378.7L519 2379.4L520.5 2380.6L522 2381.1L523.5 2382.2L525 2383.3L526.5 2383.2L528 2383.1L529.5 2383.1L531 2383.2L532.5 2383.4L533.9 2383.2L535.4 2383.5L536.9 2383.4L538.4 2383.7L539.9 2383.5L541.4 2383.6L542.9 2383.6L544.4 2383.8L545.9 2383.5L547.4 2383.9L548.9 2383.6L550.4 2383.1L551.9 2381L553.3 2379.2L554.8 2377.3L556.3 2377.3L557.8 2377.6L559.3 2377.2L560.8 2377.6L562.3 2377.5L563.8 2377.1L565.3 2377.4L566.8 2377.1L568.3 2376.9L569.8 2377.2L571.2 2377.2L572.7 2377.1L574.2 2377.1L575.7 2376.9L577.2 2376.6L578.7 2376.7L580.2 2376.7L581.7 2376.7L583.2 2376.5L584.7 2376.5L586.2 2376.5L587.7 2376.6L589.1 2376.6L590.6 2376.5L592.1 2376.3L593.6 2376.5L595.1 2376.5L596.6 2376L598.1 2376L599.6 2376.1L601.1 2376.3L602.6 2376.1L604.1 2375.9L605.6 2376L607 2375.8L608.5 2375.9L610 2375.8L611.5 2375.8L613 2375.8L614.5 2375.6L616 2375.8L617.5 2375.4L619 2375.8L620.5 2375.6L622 2375.5L623.5 2375.5L624.9 2375.6L626.4 2375.4L627.9 2375.2L629.4 2375.2L630.9 2375L632.4 2375L633.9 2374.9L635.4 2375L636.9 2375.2L636.88 2370L41.67 2370Z" fill="#5aa64b" fill-opacity="0.1" stroke="none"/>
<path d="M41.7 2370L43.2 2369.9L44.7 2370L46.1 2369.8L47.6 2370.2L49.1 2369.8L50.6 2369.9L52.1 2369.8L53.6 2369.8L55.1 2370.1L56.6 2369.8L58.1 2369.9L59.6 2370.2L61.1 2369.8L62.6 2370L64 2369.9L65.5 2370.2L67 2369.9L68.5 2370.2L70 2370.2L71.5 2370.2L73 2370.2L74.5 2370L76 2370.1L77.5 2370.2L79 2369.8L80.5 2369.9L81.9 2370.1L83.4 2370.1L84.9 2369.9L86.4 2370L87.9 2370.1L89.4 2370.1L90.9 2370.1L92.4 2370L93.9 2370.2L95.4 2370.2L96.9 2370L98.4 2370.1L99.8 2370.2L101.3 2370.1L102.8 2369.9L104.3 2369.8L105.8 2370.2L107.3 2369.8L108.8 2370.1L110.3 2369.8L111.8 2369.8L113.3 2370.1L114.8 2369.9L116.3 2370L117.8 2370.1L119.2 2369.8L120.7 2369.9L122.2 2369.8L123.7 2370.2L125.2 2370.1L126.7 2369.8L128.2 2370.1L129.7 2370.1L131.2 2370.1L132.7 2369.8L134.2 2370.1L135.7 2370.2L137.1 2370.2L138.6 2369.8L140.1 2370.2L141.6 2370.2L143.1 2370.1L144.6 2370L146.1 2369.8L147.6 2369.8L149.1 2370L150.6 2369.9L152.1 2370.1L153.6 2370L155 2370.2L156.5 2369.9L158 2370L159.5 2369.9L161 2369.8L162.5 2369.8L164 2369.8L165.5 2366.1L167 2366.4L168.5 2366.3L170 2366.2L171.5 2366.4L172.9 2373.8L174.4 2373.8L175.9 2373.9L177.4 2373.8L178.9 2373.7L180.4 2373.5L181.9 2373.7L183.4 2373.7L184.9 2373.9L186.4 2373.5L187.9 2373.6L189.4 2373.7L190.8 2373.8L192.3 2373.7L193.8 2374L195.3 2373.9L196.8 2374L198.3 2373.5L199.8 2373.8L201.3 2373.7L202.8 2373.6L204.3 2373.8L205.8 2373.5L207.3 2373.5L208.7 2373.8L210.2 2374L211.7 2373.6L213.2 2373.8L214.7 2374L216.2 2373.6L217.7 2373.7L219.2 2373.5L220.7 2373.7L222.2 2373.8L223.7 2374L225.2 2373.9L226.6 2373.6L228.1 2373.6L229.6 2373.8L231.1 2373.7L232.6 2373.9L234.1 2374L235.6 2373.9L237.1 2373.9L238.6 2373.6L240.1 2374L241.6 2373.9L243.1 2373.8L244.5 2373.6L246 2373.9L247.5 2373.9L249 2373.6L250.5 2373.8L252 2373.6L253.5 2373.8L255 2373.9L256.5 2373.6L258 2373.7L259.5 2373.8L261 2373.6L262.5 2373.8L263.9 2373.9L265.4 2373.9L266.9 2373.9L268.4 2373.6L269.9 2373.6L271.4 2373.9L272.9 2374L274.4 2373.9L275.9 2374L277.4 2373.7L278.9 2373.8L280.4 2373.7L281.8 2373.9L283.3 2373.7L284.8 2373.6L286.3 2373.9L287.8 2373.5L289.3 2373.9L290.8 2373.5L292.3 2373.5L293.8 2373.6L295.3 2373.8L296.8 2373.6L298.3 2373.6L299.7 2373.9L301.2 2373.7L302.7 2373.9L304.2 2374L305.7 2373.7L307.2 2373.8L308.7 2373.7L310.2 2374.1L311.7 2373.9L313.2 2374.1L314.7 2373.9L316.2 2373.9L317.6 2374L319.1 2373.9L320.6 2374L322.1 2374.2L323.6 2374L325.1 2373.8L326.6 2374L328.1 2374.2L329.6 2374.1L331.1 2374.1L332.6 2374.2L334.1 2374.1L335.5 2374.1L337 2374L338.5 2373.9L340 2373.8L341.5 2374L343 2374.2L344.5 2373.9L346 2373.9L347.5 2373.9L349 2374.2L350.5 2374.1L352 2374.2L353.4 2374L354.9 2373.9L356.4 2374L357.9 2374.1L359.4 2374L360.9 2374.3L362.4 2374.2L363.9 2374.4L365.4 2374.4L366.9 2374.4L368.4 2374.2L369.9 2374.3L371.3 2374.1L372.8 2374.4L374.3 2374.2L375.8 2374.2L377.3 2374.3L378.8 2374.3L380.3 2374.3L381.8 2374.2L383.3 2374.1L384.8 2374.3L386.3 2374L387.8 2374.5L389.2 2374.2L390.7 2374.3L392.2 2374.2L393.7 2374.5L395.2 2374.5L396.7 2374.6L398.2 2374.5L399.7 2374.3L401.2 2374.1L402.7 2374.4L404.2 2374.2L405.7 2385L407.2 2395.4L408.6 2395.4L410.1 2395.4L411.6 2395.9L413.1 2395.9L414.6 2395.9L416.1 2397L417.6 2399.2L419.1 2401.6L420.6 2403.6L422.1 2402.9L423.6 2402.1L425.1 2401.6L426.5 2395.9L428 2388.1L429.5 2380.2L431 2378.7L432.5 2377.8L434 2376.8L435.5 2376.5L437 2376.1L438.5 2376.4L440 2376.5L441.5 2376.3L443 2376.4L444.4 2376.3L445.9 2376.4L447.4 2376.4L448.9 2376.4L450.4 2376.4L451.9 2376.6L453.4 2376.6L454.9 2376.4L456.4 2376.5L457.9 2376.7L459.4 2376.7L460.9 2376.6L462.3 2376.7L463.8 2376.6L465.3 2376.5L466.8 2376.4L468.3 2376.7L469.8 2376.5L471.3 2376.5L472.8 2376.7L474.3 2376.6L475.8 2376.3L477.3 2376.4L478.8 2376.5L480.2 2376.7L481.7 2376.7L483.2 2376.6L484.7 2376.4L486.2 2376.7L487.7 2376.6L489.2 2376.8L490.7 2376.9L492.2 2376.9L493.7 2376.9L495.2 2376.6L496.7 2376.9L498.1 2376.9L499.6 2376.8L501.1 2376.6L502.6 2376.6L504.1 2376.8L505.6 2376.6L507.1 2376.9L508.6 2376.6L510.1 2376.6L511.6 2376.7L513.1 2376.7L514.6 2376.7L516 2377.4L517.5 2378.7L519 2379.4L520.5 2380.6L522 2381.1L523.5 2382.2L525 2383.3L526.5 2383.2L528 2383.1L529.5 2383.1L531 2383.2L532.5 2383.4L533.9 2383.2L535.4 2383.5L536.9 2383.4L538.4 2383.7L539.9 2383.5L541.4 2383.6L542.9 2383.6L544.4 2383.8L545.9 2383.5L547.4 2383.9L548.9 2383.6L550.4 2383.1L551.9 2381L553.3 2379.2L554.8 2377.3L556.3 2377.3L557.8 2377.6L559.3 2377.2L560.8 2377.6L562.3 2377.5L563.8 2377.1L565.3 2377.4L566.8 2377.1L568.3 2376.9L569.8 2377.2L571.2 2377.2L572.7 2377.1L574.2 2377.1L575.7 2376.9L577.2 2376.6L578.7 2376.7L580.2 2376.7L581.7 2376.7L583.2 2376.5L584.7 2376.5L586.2 2376.5L587.7 2376.6L589.1 2376.6L590.6 2376.5L592.1 2376.3L593.6 2376.5L595.1 2376.5L596.6 2376L598.1 2376L599.6 2376.1L601.1 2376.3L602.6 2376.1L604.1 2375.9L605.6 2376L607 2375.8L608.5 2375.9L610 2375.8L611.5 2375.8L613 2375.8L614.5 2375.6L616 2375.8L617.5 2375.4L619 2375.8L620.5 2375.6L622 2375.5L623.5 2375.5L624.9 2375.6L626.4 2375.4L627.9 2375.2L629.4 2375.2L630.9 2375L632.4 2375L633.9 2374.9L635.4 2375L636.9 2375.2" fill="none" stroke="#5aa64b" stroke-width="0.6" stroke-linejoin="round" />
<path d="M547.9 2375.1L549.4 2392.2L550.9 2399.9L552.3 2404.7L553.8 2408.8L555.3 2408.4L556.8 2408.4L558.3 2407.7L559.8 2407L561.3 2405.4L562.8 2403.7L564.3 2404L565.8 2403.3L567.3 2403.3L568.8 2404.1L570.2 2403.9L571.7 2403.1L573.2 2398.2L574.7 2398.2L576.2 2398.1L577.7 2399L579.2 2398.6L580.7 2398.1L582.2 2396.2L583.7 2394.2L585.2 2393.2L586.7 2393.7L588.1 2394.1L589.6 2394L591.1 2393.7L592.6 2393.7L594.1 2393.7L595.6 2394.4L597.1 2393.5L598.6 2393.8L600.1 2394.6L601.6 2394.8L603.1 2394.4L604.6 2394.7L606.1 2393.8L607.5 2392L609 2390.8L610.5 2391.7L612 2390.7L613.5 2391.3L615 2391.7L616.5 2390.4L618 2391.2L619.5 2390.3L621 2391.3L622.5 2391.4L624 2390.9L625.4 2391.4L626.9 2390.8L628.4 2390.5L629.9 2390.6L631.4 2391.5L632.9 2390.5L634.4 2391.1L635.9 2390.8L637.4 2390.1" fill="none" stroke="#a83a2a" stroke-width="0.6" stroke-linejoin="round" />
<path d="M396.7 2374.2L398.2 2413.3L399.7 2426.4L401.2 2425.9L402.7 2425.8L404.2 2424.9L405.7 2392.5" fill="none" stroke="#c0483a" stroke-width="0.6" stroke-linejoin="round" />
<path d="M400.7 2370.2L402.2 2375L403.7 2376.7L405.2 2377L406.7 2376.8L408.1 2377.1L409.6 2377L411.1 2376.9L412.6 2377.3L414.1 2377.4L415.6 2377.4L417.1 2377.5L418.6 2377.3L420.1 2377.5L421.6 2377.6L423.1 2377.5L424.6 2377.5L426 2377.3L427.5 2377.8L429 2376.3L430.5 2375.1L432 2374L433.5 2373.9L435 2373.9L436.5 2373.8L438 2374L439.5 2373.6L441 2373.7L442.5 2373.7L443.9 2373.7L445.4 2373.6L446.9 2373.9L448.4 2374.1L449.9 2373.9L451.4 2373.9L452.9 2373.7L454.4 2374.1L455.9 2373.7L457.4 2374L458.9 2374.1L460.4 2373.9L461.8 2373.7L463.3 2373.9L464.8 2373.8L466.3 2374L467.8 2374L469.3 2374.2L470.8 2373.8L472.3 2373.9L473.8 2374.2L475.3 2374.1L476.8 2374L478.3 2373.9L479.7 2373.8L481.2 2374.1L482.7 2374L484.2 2373.9L485.7 2374.3L487.2 2373.8L488.7 2374.1L490.2 2373.8L491.7 2373.9L493.2 2373.9L494.7 2374.3L496.2 2374.1L497.6 2374.1L499.1 2374.2L500.6 2374.1L502.1 2374.2L503.6 2374.1L505.1 2374L506.6 2374.1L508.1 2374L509.6 2374L511.1 2374.3L512.6 2374.1L514.1 2374.1L515.6 2374.4L517 2374.1L518.5 2374.2L520 2374.4L521.5 2374.3L523 2374.1L524.5 2374.2L526 2374.2L527.5 2374.1L529 2374.2L530.5 2374.5L532 2374.2L533.5 2374.3L534.9 2374.2L536.4 2374.3L537.9 2374.2L539.4 2374.6L540.9 2374.3L542.4 2374.5L543.9 2374.5L545.4 2374.2L546.9 2374.2L548.4 2376L549.9 2381.7L551.4 2386.8L552.8 2388.5L554.3 2388.3L555.8 2388L557.3 2387.7L558.8 2387.8L560.3 2387.3L561.8 2387.1L563.3 2386.8L564.8 2386.7L566.3 2386.1L567.8 2385.4L569.3 2383.4L570.7 2382.1L572.2 2380.6L573.7 2379L575.2 2378.5L576.7 2378.9L578.2 2378.7L579.7 2378.4L581.2 2378.6L582.7 2378.2L584.2 2378.2L585.7 2378.3L587.2 2378.1L588.6 2378L590.1 2378L591.6 2377.8L593.1 2378.1L594.6 2377.9L596.1 2378L597.6 2378.1L599.1 2377.7L600.6 2377.8L602.1 2377.9L603.6 2377.6L605.1 2377.4L606.5 2377.7L608 2377.5L609.5 2377.2L611 2377.3L612.5 2377.5L614 2377.1L615.5 2377.3L617 2377.1L618.5 2376.8L620 2376.7L621.5 2377.1L623 2377L624.4 2376.7L625.9 2376.8L627.4 2376.8L628.9 2376.7L630.4 2376.3L631.9 2376.6L633.4 2376.4L634.9 2376.3L636.4 2376.4L637.9 2376.3L637.87 2370L400.69 2370Z" fill="#888" fill-opacity="0.3" stroke="none"/>
<path d="M168 2369.9L169.5 2373.5L171 2377.4L172.4 2379.7L173.9 2379.8L175.4 2379.2L176.9 2379L178.4 2378.8L179.9 2378.2L181.4 2378.1L182.9 2377.5L184.4 2377.5L185.9 2377.3L187.4 2377L188.9 2376.9L190.3 2377.1L191.8 2376.6L193.3 2376.8L194.8 2376.6L196.3 2376.5L197.8 2376.1L199.3 2376.2L200.8 2376.1L202.3 2375.8L203.8 2375.7L205.3 2375.6L206.8 2375.6L208.3 2375.5L209.7 2375.4L211.2 2375.3L212.7 2375.5L214.2 2375.5L215.7 2375.5L217.2 2375.6L218.7 2375.4L220.2 2375.7L221.7 2375.3L223.2 2375.5L224.7 2375.4L226.2 2375.4L227.6 2375.7L229.1 2375.5L230.6 2375.5L232.1 2375.6L233.6 2375.3L235.1 2375.4L236.6 2375.3L238.1 2375.6L239.6 2375.1L241.1 2375.4L242.6 2375.2L244.1 2375.2L245.5 2375.5L247 2375.2L248.5 2375.2L250 2375.1L251.5 2375.1L253 2375.4L254.5 2375.2L256 2375L257.5 2375.4L259 2375.3L260.5 2375.2L262 2375.2L263.4 2375.1L264.9 2375.2L266.4 2375.1L267.9 2375L269.4 2375.4L270.9 2375.1L272.4 2375.3L273.9 2374.9L275.4 2375.1L276.9 2375.2L278.4 2374.9L279.9 2375.2L281.3 2375.1L282.8 2374.9L284.3 2374.9L285.8 2374.9L287.3 2375.2L288.8 2376.1L290.3 2376.7L291.8 2377.6L293.3 2378.8L294.8 2378.9L296.3 2378.7L297.8 2378.8L299.2 2378.7L300.7 2378.6L302.2 2378.5L303.7 2378.8L305.2 2378.7L306.7 2378.6L308.2 2378.8L309.7 2378.4L311.2 2378.7L312.7 2378.4L314.2 2378.6L315.7 2378.4L317.1 2378.4L318.6 2378.5L320.1 2378.5L321.6 2378.3L323.1 2378.2L324.6 2378.5L326.1 2378.3L327.6 2378.1L329.1 2378.5L330.6 2378.2L332.1 2378.5L333.6 2378.4L335 2378.4L336.5 2378.3L338 2378L339.5 2378.4L341 2378.4L342.5 2378.1L344 2378.2L345.5 2378.1L347 2378.1L348.5 2378.2L350 2377.9L351.5 2377.9L353 2377.8L354.4 2378.1L355.9 2377.9L357.4 2377.8L358.9 2378.2L360.4 2377.9L361.9 2377.9L363.4 2378L364.9 2378L366.4 2377.8L367.9 2378L369.4 2377.8L370.9 2378L372.3 2377.7L373.8 2377.8L375.3 2378L376.8 2377.8L378.3 2377.8L379.8 2377.8L381.3 2377.5L382.8 2377.9L384.3 2377.8L385.8 2377.4L387.3 2377.5L388.8 2377.6L390.2 2377.7L391.7 2377.6L393.2 2377.3L394.7 2377.5L396.2 2377.3L397.7 2377.6L399.2 2371.7L399.19 2370L167.97 2370Z" fill="#8878b0" fill-opacity="0.2" stroke="none"/>
<path d="M41.7 2370.1L42.7 2369.9L43.7 2370.4L44.7 2369.6L45.6 2369.8L46.6 2369.6L47.6 2370.2L48.6 2370.2L49.6 2370.3L50.6 2370.2L51.6 2370.4L52.6 2369.9L53.6 2370.1L54.6 2369.8L55.6 2369.8L56.6 2370.1L57.6 2370.3L58.6 2370.1L59.6 2370.4L60.6 2369.9L61.6 2370.2L62.6 2370.3L63.6 2369.7L64.5 2370L65.5 2369.7L66.5 2369.6L67.5 2369.9L68.5 2370.2L69.5 2370.3L70.5 2370.2L71.5 2369.8L72.5 2370L73.5 2370.2L74.5 2370.4L75.5 2370.1L76.5 2370.1L77.5 2370.3L78.5 2370.2L79.5 2370.2L80.5 2370.1L81.5 2370L82.4 2370L83.4 2369.7L84.4 2370.2L85.4 2370.3L86.4 2370.1L87.4 2370.2L88.4 2369.9L89.4 2370L90.4 2370.1L91.4 2370.3L92.4 2369.8L93.4 2369.9L94.4 2369.9L95.4 2369.8L96.4 2369.7L97.4 2370.3L98.4 2370.2L99.4 2370L100.3 2369.8L101.3 2370L102.3 2370L103.3 2370.1L104.3 2370.2L105.3 2369.7L106.3 2369.6L107.3 2370L108.3 2370L109.3 2370.3L110.3 2369.9L111.3 2370.2L112.3 2369.9L113.3 2370.2L114.3 2370L115.3 2369.7L116.3 2370.1L117.3 2370L118.2 2370.1L119.2 2370L120.2 2369.7L121.2 2370L122.2 2369.7L123.2 2370.1L124.2 2370L125.2 2369.9L126.2 2370L127.2 2369.9L128.2 2370.2L129.2 2370.4L130.2 2370.1L131.2 2370.3L132.2 2370.2L133.2 2369.9L134.2 2369.9L135.2 2369.7L136.1 2369.9L137.1 2370L138.1 2370.1L139.1 2370L140.1 2370.2L141.1 2370.3L142.1 2370L143.1 2369.9L144.1 2370.1L145.1 2369.8L146.1 2370L147.1 2370.1L148.1 2369.7L149.1 2370.4L150.1 2370.2L151.1 2370.1L152.1 2369.9L153.1 2370.2L154.1 2369.6L155 2370.3L156 2370L157 2370L158 2369.8L159 2370.2L160 2370.3L161 2369.8L162 2369.8L163 2369.9L164 2369.7L165 2370.1L166 2370L167 2370L168 2382.8L169 2382.3L170 2382.9L171 2382.8L172 2382.2L172.9 2389.4L173.9 2389.7L174.9 2389.1L175.9 2384L176.9 2383.8L177.9 2384.1L178.9 2384L179.9 2383.8L180.9 2383.6L181.9 2384.1L182.9 2380L183.9 2375.5L184.9 2375.5L185.9 2375.3L186.9 2375.7L187.9 2376L188.9 2376L189.9 2375.4L190.8 2375.9L191.8 2375.8L192.8 2375.5L193.8 2375.5L194.8 2375.4L195.8 2375.6L196.8 2375.8L197.8 2375.3L198.8 2376L199.8 2382.1L200.8 2381.5L201.8 2382.1L202.8 2381.6L203.8 2381.8L204.8 2381.8L205.8 2381.8L206.8 2381.9L207.8 2381.6L208.7 2382.2L209.7 2379.3L210.7 2375.4L211.7 2375.5L212.7 2375.5L213.7 2375.5L214.7 2375.8L215.7 2375.6L216.7 2375.6L217.7 2375.4L218.7 2382.1L219.7 2382.1L220.7 2382L221.7 2382.1L222.7 2381.7L223.7 2381.9L224.7 2382.2L225.7 2381.6L226.6 2379.1L227.6 2375.4L228.6 2375.5L229.6 2375.7L230.6 2375.8L231.6 2375.6L232.6 2375.3L233.6 2375.4L234.6 2375.3L235.6 2375.6L236.6 2375.6L237.6 2375.8L238.6 2375.6L239.6 2381.9L240.6 2381.7L241.6 2381.6L242.6 2381.6L243.6 2382.1L244.5 2381.8L245.5 2382.2L246.5 2379.3L247.5 2375.6L248.5 2376L249.5 2375.4L250.5 2375.6L251.5 2375.8L252.5 2375.7L253.5 2375.4L254.5 2375.9L255.5 2375.3L256.5 2375.5L257.5 2375.6L258.5 2375.9L259.5 2375.5L260.5 2375.8L261.5 2376L262.5 2375.4L263.4 2375.7L264.4 2375.4L265.4 2381.9L266.4 2381.9L267.4 2382L268.4 2381.7L269.4 2381.7L270.4 2382L271.4 2381.9L272.4 2377.7L273.4 2377.2L274.4 2377.5L275.4 2377.4L276.4 2377.5L277.4 2377.8L278.4 2377.6L279.4 2377.3L280.4 2377.4L281.3 2377.7L282.3 2377.8L283.3 2377.2L284.3 2377.3L285.3 2377.2L286.3 2377.8L287.3 2377.5L288.3 2377.6L289.3 2377.6L290.3 2377.6L291.3 2377.4L292.3 2377.5L293.3 2377.8L294.3 2377.9L295.3 2377.8L296.3 2377.3L297.3 2384.1L298.3 2384.3L299.2 2384.5L300.2 2384.4L301.2 2384.3L302.2 2384.7L303.2 2384.1L304.2 2381L305.2 2377.9L306.2 2377.7L307.2 2377.7L308.2 2377.2L309.2 2377.2L310.2 2377.2L311.2 2377.6L312.2 2377.5L313.2 2377.7L314.2 2377.9L315.2 2384.9L316.2 2385L317.1 2384.7L318.1 2384.7L319.1 2385L320.1 2385.4L321.1 2393.7L322.1 2393.5L323.1 2393.8L324.1 2393.7L325.1 2396.3L326.1 2396.3L327.1 2396.4L328.1 2396.5L329.1 2388.8L330.1 2388.6L331.1 2388.6L332.1 2389.1L333.1 2384L334.1 2377.8L335 2377.8L336 2377.9L337 2377.3L338 2377.7L339 2377.4L340 2386L341 2386.5L342 2386.5L343 2386.6L344 2386.6L345 2385.9L346 2386L347 2385.9L348 2386.5L349 2386.3L350 2382.3L351 2377.8L352 2377.4L353 2377.2L353.9 2377.2L354.9 2377.2L355.9 2386.4L356.9 2386.1L357.9 2386.5L358.9 2386.3L359.9 2386.6L360.9 2386.6L361.9 2386.6L362.9 2386.4L363.9 2386.1L364.9 2382.3L365.9 2377.8L366.9 2377.7L367.9 2377.6L368.9 2377.8L369.9 2377.8L370.9 2377.2L371.8 2386.1L372.8 2386.1L373.8 2386.6L374.8 2386.3L375.8 2386.1L376.8 2386L377.8 2386.5L378.8 2382.5L379.8 2377.4L380.8 2377.8L381.8 2377.4L382.8 2377.8L383.8 2377.3L384.8 2377.7L385.8 2377.6L386.8 2377.4L387.8 2377.4L388.8 2377.1L389.7 2377.4L390.7 2377.7L391.7 2385.3L392.7 2384.8L393.7 2384.9L394.7 2385.3L395.7 2384.8L396.7 2380.4L397.7 2374.6L398.7 2374.6L399.7 2374.4L400.7 2374.2L401.7 2374.4L402.7 2374.5L403.7 2374.3L404.7 2374.7L405.7 2383.6L406.7 2383.6L407.6 2383.8L408.6 2384.1L409.6 2383.8L410.6 2383.5L411.6 2383.5L412.6 2383.6L413.6 2379.4L414.6 2374L415.6 2374.6L416.6 2374.1L417.6 2374.1L418.6 2374.1L419.6 2374.6L420.6 2374.3L421.6 2374.7L422.6 2374.6L423.6 2374.1L424.6 2381.5L425.5 2381.2L426.5 2381.5L427.5 2380.9L428.5 2380.9L429.5 2380.9L430.5 2381.2L431.5 2377.8L432.5 2374.6L433.5 2374.3L434.5 2374.7L435.5 2374.3L436.5 2374L437.5 2374.2L438.5 2374.2L439.5 2374.1L440.5 2374.1L441.5 2374.3L442.5 2380.4L443.4 2380.9L444.4 2380.8L445.4 2380.5L446.4 2380.5L447.4 2380.7L448.4 2380.7L449.4 2380.8L450.4 2377.6L451.4 2374.4L452.4 2374.5L453.4 2374.6L454.4 2374.4L455.4 2374.1L456.4 2374.6L457.4 2374.7L458.4 2374.5L459.4 2374.5L460.4 2380.3L461.4 2380.6L462.3 2380.6L463.3 2380.8L464.3 2380.7L465.3 2380.6L466.3 2380.7L467.3 2377.9L468.3 2374L469.3 2374.3L470.3 2374.5L471.3 2374.2L472.3 2374.6L473.3 2374.7L474.3 2374.5L475.3 2374.4L476.3 2374.3L477.3 2374.7L478.3 2380.5L479.3 2380.3L480.2 2380.8L481.2 2380.7L482.2 2380.6L483.2 2380.4L484.2 2380.4L485.2 2377.8L486.2 2374.3L487.2 2374.6L488.2 2374.4L489.2 2374.7L490.2 2374.7L491.2 2374.7L492.2 2374.1L493.2 2374.6L494.2 2374.6L495.2 2380.4L496.2 2380.7L497.2 2380.9L498.1 2380.5L499.1 2380.3L500.1 2381L501.1 2380.3L502.1 2377.8L503.1 2374.2L504.1 2374.3L505.1 2374.5L506.1 2374.5L507.1 2374.2L508.1 2374.4L509.1 2374.2L510.1 2374.3L511.1 2374.1L512.1 2380.7L513.1 2380.8L514.1 2380.7L515.1 2380.6L516 2380.5L517 2380.6L518 2381L519 2377.5L520 2374.4L521 2374.7L522 2374.2L523 2374.7L524 2374.8L525 2374.1L526 2374.4L527 2374.3L528 2374.5L529 2381.6L530 2381L531 2381.6L532 2381.4L533 2381.1L533.9 2381.1L534.9 2381.5L535.9 2378.3L536.9 2374.6L537.9 2374.5L538.9 2374.6L539.9 2374.7L540.9 2374.1L541.9 2374.1L542.9 2374.5L543.9 2374.6L544.9 2374.2L545.9 2374.3L546.9 2374.1L547.9 2374.4L548.9 2379.8L549.9 2384.9L550.9 2388.3L551.9 2391.6L552.8 2395.3L553.8 2398.8L554.8 2398.6L555.8 2398.7L556.8 2398.6L557.8 2398L558.8 2398.1L559.8 2398L560.8 2397.7L561.8 2397.8L562.8 2394.1L563.8 2394L564.8 2393.8L565.8 2393.8L566.8 2393.6L567.8 2393.9L568.8 2393.7L569.8 2394L570.7 2393.4L571.7 2393.7L572.7 2390L573.7 2390L574.7 2389.8L575.7 2390.1L576.7 2389.6L577.7 2389.4L578.7 2389.4L579.7 2389.8L580.7 2389.4L581.7 2389.6L582.7 2386L583.7 2386.4L584.7 2386.3L585.7 2386.3L586.7 2386.1L587.7 2386L588.6 2386.5L589.6 2386L590.6 2386.5L591.6 2386.6L592.6 2386.1L593.6 2386L594.6 2386.5L595.6 2386.7L596.6 2386.4L597.6 2382.9L598.6 2382.2L599.6 2382.7L600.6 2382.9L601.6 2382.5L602.6 2382.6L603.6 2382.8L604.6 2382.9L605.6 2382.6L606.5 2382.5L607.5 2382.2L608.5 2382.5L609.5 2382.2L610.5 2382.6L611.5 2382.3L612.5 2382.8L613.5 2382.3L614.5 2382.6L615.5 2382.5L616.5 2382.3L617.5 2379.7L618.5 2379.3L619.5 2379.3L620.5 2379.3L621.5 2379.5L622.5 2378.9L623.5 2379.3L624.4 2379.1L625.4 2379.3L626.4 2379.4L627.4 2379.2L628.4 2379.4L629.4 2378.6L630.4 2379.2L631.4 2379.2L632.4 2379L633.4 2379L634.4 2379L635.4 2379.2L636.4 2379L637.4 2378.5" fill="none" stroke="#4a3a8a" stroke-width="0.5" stroke-linejoin="round" />
<path d="M41.7 2370.3L42.7 2369.9L43.7 2369.6L44.7 2370.1L45.6 2370L46.6 2370.1L47.6 2369.8L48.6 2369.9L49.6 2369.9L50.6 2369.6L51.6 2369.8L52.6 2370.1L53.6 2370.1L54.6 2369.9L55.6 2369.9L56.6 2370.2L57.6 2369.8L58.6 2370L59.6 2369.8L60.6 2370.3L61.6 2370.1L62.6 2370.4L63.6 2370.1L64.5 2370.2L65.5 2370.1L66.5 2370.2L67.5 2369.7L68.5 2369.9L69.5 2370.1L70.5 2370L71.5 2370.2L72.5 2369.7L73.5 2369.7L74.5 2369.9L75.5 2370.3L76.5 2369.7L77.5 2370.2L78.5 2370.3L79.5 2370.1L80.5 2370.1L81.5 2369.7L82.4 2370.3L83.4 2370.3L84.4 2370L85.4 2370.3L86.4 2369.9L87.4 2370L88.4 2369.7L89.4 2369.7L90.4 2370.2L91.4 2369.8L92.4 2370L93.4 2369.7L94.4 2370.3L95.4 2370L96.4 2369.6L97.4 2370.3L98.4 2370.1L99.4 2370.1L100.3 2370.1L101.3 2369.6L102.3 2370.2L103.3 2369.8L104.3 2370.2L105.3 2369.7L106.3 2370.3L107.3 2370.3L108.3 2369.6L109.3 2370.4L110.3 2369.9L111.3 2370.2L112.3 2369.9L113.3 2370.1L114.3 2369.9L115.3 2369.9L116.3 2369.8L117.3 2370.3L118.2 2369.8L119.2 2370.2L120.2 2369.9L121.2 2369.8L122.2 2369.8L123.2 2370L124.2 2370L125.2 2370.3L126.2 2369.7L127.2 2369.9L128.2 2369.8L129.2 2369.6L130.2 2369.8L131.2 2370.2L132.2 2370L133.2 2370.2L134.2 2370.2L135.2 2369.7L136.1 2369.9L137.1 2370.3L138.1 2370L139.1 2370.1L140.1 2369.8L141.1 2369.8L142.1 2370.1L143.1 2370.3L144.1 2370.2L145.1 2370L146.1 2370.1L147.1 2370.3L148.1 2369.8L149.1 2369.9L150.1 2370.1L151.1 2370.4L152.1 2370.1L153.1 2369.9L154.1 2370.3L155 2370.3L156 2370.3L157 2370.4L158 2369.9L159 2369.8L160 2369.9L161 2370.1L162 2370.1L163 2370.4L164 2369.8L165 2370L166 2370.2L167 2370.3L168 2381.7L169 2381.6L170 2381.4L171 2381.8L172 2381.3L172.9 2381.7L173.9 2388.1L174.9 2387.8L175.9 2388.1L176.9 2382.3L177.9 2382.5L178.9 2382.5L179.9 2382.6L180.9 2382.4L181.9 2382.4L182.9 2382.6L183.9 2375.5L184.9 2375.1L185.9 2374.9L186.9 2375.5L187.9 2375.1L188.9 2375.6L189.9 2375L190.8 2375.2L191.8 2375.2L192.8 2375.2L193.8 2375.2L194.8 2375.1L195.8 2375.2L196.8 2375.4L197.8 2375L198.8 2375.5L199.8 2375.1L200.8 2381L201.8 2381.2L202.8 2381.1L203.8 2381L204.8 2381.2L205.8 2380.9L206.8 2380.6L207.8 2380.8L208.7 2380.9L209.7 2380.9L210.7 2375.3L211.7 2375.1L212.7 2375.1L213.7 2375.3L214.7 2375.1L215.7 2375.2L216.7 2375.6L217.7 2375.5L218.7 2375.3L219.7 2381.1L220.7 2380.8L221.7 2381L222.7 2380.8L223.7 2380.8L224.7 2380.6L225.7 2380.9L226.6 2381.1L227.6 2374.9L228.6 2375.4L229.6 2375.1L230.6 2375.5L231.6 2375.3L232.6 2375.2L233.6 2374.9L234.6 2374.9L235.6 2374.9L236.6 2375.3L237.6 2375.1L238.6 2375.1L239.6 2380.9L240.6 2380.8L241.6 2381L242.6 2381L243.6 2381.1L244.5 2381.2L245.5 2380.6L246.5 2380.9L247.5 2375.3L248.5 2375.1L249.5 2375.4L250.5 2375.6L251.5 2375.2L252.5 2375.4L253.5 2375.5L254.5 2375.3L255.5 2375.3L256.5 2374.9L257.5 2375.3L258.5 2374.9L259.5 2375.1L260.5 2375.1L261.5 2375.2L262.5 2375.5L263.4 2375L264.4 2375.5L265.4 2375L266.4 2380.6L267.4 2380.7L268.4 2380.7L269.4 2380.7L270.4 2381L271.4 2380.7L272.4 2379.1L273.4 2377L274.4 2377.2L275.4 2377L276.4 2376.9L277.4 2377.4L278.4 2377L279.4 2376.8L280.4 2377.4L281.3 2376.8L282.3 2376.9L283.3 2377.2L284.3 2377.1L285.3 2377.2L286.3 2377.3L287.3 2377.3L288.3 2376.8L289.3 2377.5L290.3 2377.2L291.3 2377.3L292.3 2377L293.3 2376.8L294.3 2377L295.3 2377.4L296.3 2376.8L297.3 2383.3L298.3 2383L299.2 2383L300.2 2383.4L301.2 2383.5L302.2 2382.9L303.2 2383L304.2 2383.5L305.2 2376.9L306.2 2376.9L307.2 2377.4L308.2 2377.4L309.2 2377.1L310.2 2377.3L311.2 2377.4L312.2 2377.5L313.2 2377.3L314.2 2377.5L315.2 2377.5L316.2 2384L317.1 2383.8L318.1 2383.8L319.1 2383.9L320.1 2384L321.1 2383.8L322.1 2391.8L323.1 2392L324.1 2391.9L325.1 2391.8L326.1 2393.8L327.1 2394.5L328.1 2393.9L329.1 2394L330.1 2387.4L331.1 2387.2L332.1 2387L333.1 2387.1L334.1 2376.9L335 2377.5L336 2377.3L337 2377.4L338 2376.8L339 2377.4L340 2377.2L341 2384.8L342 2384.7L343 2385.1L344 2384.7L345 2385.1L346 2384.7L347 2385.2L348 2384.7L349 2385.3L350 2384.7L351 2377.2L352 2377L353 2376.9L353.9 2376.8L354.9 2376.8L355.9 2376.9L356.9 2385.3L357.9 2384.6L358.9 2385L359.9 2385.2L360.9 2385.2L361.9 2384.8L362.9 2384.6L363.9 2384.9L364.9 2384.7L365.9 2377.1L366.9 2377.1L367.9 2377.5L368.9 2377L369.9 2376.8L370.9 2377.5L371.8 2377.1L372.8 2384.9L373.8 2385.3L374.8 2384.6L375.8 2384.8L376.8 2385.3L377.8 2384.6L378.8 2385.2L379.8 2377.1L380.8 2377.4L381.8 2377.3L382.8 2376.8L383.8 2376.9L384.8 2377.5L385.8 2376.9L386.8 2377L387.8 2376.8L388.8 2377.5L389.7 2377.1L390.7 2377.5L391.7 2377.1L392.7 2384L393.7 2383.5L394.7 2383.9L395.7 2383.5L396.7 2383.5L397.7 2373.8L398.7 2374.3L399.7 2373.6L400.7 2373.7L401.7 2373.8L402.7 2373.7L403.7 2374L404.7 2374L405.7 2373.8L406.7 2382.8L407.6 2382.7L408.6 2382.9L409.6 2382.4L410.6 2383L411.6 2382.8L412.6 2382.7L413.6 2382.6L414.6 2374.2L415.6 2373.7L416.6 2373.8L417.6 2374.2L418.6 2374L419.6 2373.8L420.6 2374L421.6 2374.1L422.6 2374L423.6 2374.3L424.6 2373.9L425.5 2380.4L426.5 2380.2L427.5 2380.4L428.5 2380.3L429.5 2380.1L430.5 2380.7L431.5 2380.7L432.5 2373.8L433.5 2374.2L434.5 2374.3L435.5 2374L436.5 2373.7L437.5 2374.3L438.5 2373.7L439.5 2373.9L440.5 2374.1L441.5 2374.3L442.5 2374.2L443.4 2379.9L444.4 2379.5L445.4 2379.7L446.4 2379.5L447.4 2379.8L448.4 2380L449.4 2379.7L450.4 2380.1L451.4 2373.9L452.4 2374.1L453.4 2374.4L454.4 2373.8L455.4 2374.4L456.4 2373.9L457.4 2374.3L458.4 2373.7L459.4 2374L460.4 2374L461.4 2379.7L462.3 2379.5L463.3 2379.7L464.3 2380.1L465.3 2379.5L466.3 2379.7L467.3 2379.6L468.3 2374.2L469.3 2374.1L470.3 2374L471.3 2374.2L472.3 2373.8L473.3 2374.1L474.3 2374L475.3 2373.8L476.3 2373.8L477.3 2374.4L478.3 2373.6L479.3 2380L480.2 2380L481.2 2379.9L482.2 2379.5L483.2 2379.7L484.2 2379.5L485.2 2379.7L486.2 2373.9L487.2 2374.1L488.2 2374L489.2 2374.3L490.2 2373.7L491.2 2373.8L492.2 2373.6L493.2 2373.8L494.2 2373.9L495.2 2374.2L496.2 2379.9L497.2 2379.7L498.1 2379.9L499.1 2380L500.1 2380.1L501.1 2379.5L502.1 2379.6L503.1 2374.2L504.1 2374L505.1 2373.8L506.1 2374.2L507.1 2374.3L508.1 2374.3L509.1 2374.1L510.1 2373.6L511.1 2374L512.1 2374.2L513.1 2379.8L514.1 2379.4L515.1 2379.6L516 2379.8L517 2380L518 2380L519 2379.9L520 2373.9L521 2374.1L522 2374.4L523 2374.3L524 2374.2L525 2373.9L526 2373.7L527 2374.1L528 2373.8L529 2374.1L530 2380.2L531 2380.3L532 2380.2L533 2380.3L533.9 2380.4L534.9 2380.7L535.9 2380.1L536.9 2374.1L537.9 2373.8L538.9 2374.3L539.9 2373.9L540.9 2373.7L541.9 2374.2L542.9 2373.7L543.9 2374.2L544.9 2374.3L545.9 2374.3L546.9 2374L547.9 2373.7L548.9 2378.3L549.9 2382.2L550.9 2385.1L551.9 2387.6L552.8 2390.3L553.8 2392.4L554.8 2395.1L555.8 2394.6L556.8 2394.8L557.8 2394.8L558.8 2394.7L559.8 2394.6L560.8 2394.4L561.8 2394L562.8 2394.1L563.8 2393.8L564.8 2389.8L565.8 2390.1L566.8 2389.8L567.8 2389.8L568.8 2389.9L569.8 2389.9L570.7 2390.3L571.7 2390.1L572.7 2389.7L573.7 2390.1L574.7 2390.3L575.7 2386.4L576.7 2385.9L577.7 2386.3L578.7 2386.2L579.7 2386.2L580.7 2386.2L581.7 2385.7L582.7 2386L583.7 2385.7L584.7 2385.7L585.7 2385.6L586.7 2385.9L587.7 2382.7L588.6 2382.5L589.6 2382.6L590.6 2382.2L591.6 2382.8L592.6 2382.3L593.6 2382.4L594.6 2382.5L595.6 2382.4L596.6 2382.5L597.6 2382.8L598.6 2382.3L599.6 2382.8L600.6 2382.2L601.6 2382.5L602.6 2380.3L603.6 2379.6L604.6 2380.1L605.6 2379.6L606.5 2379.4L607.5 2379.9L608.5 2379.9L609.5 2379.7L610.5 2379.4L611.5 2379.1L612.5 2379.5L613.5 2379L614.5 2379.1L615.5 2379.1L616.5 2379.1L617.5 2378.8L618.5 2379L619.5 2378.8L620.5 2378.4L621.5 2378.8L622.5 2378.5L623.5 2378.2L624.4 2378.5L625.4 2378.1L626.4 2378.6L627.4 2378.4L628.4 2378L629.4 2377.7L630.4 2378.2L631.4 2377.6L632.4 2378L633.4 2378.1L634.4 2378L635.4 2377.9L636.4 2377.3L637.4 2377.3" fill="none" stroke="#8a3a6a" stroke-width="0.5" stroke-linejoin="round" />
<path d="M41.7 2370.2L42.7 2370L43.7 2370L44.7 2370L45.6 2369.9L46.6 2370L47.6 2370L48.6 2370.2L49.6 2370.3L50.6 2370.2L51.6 2369.8L52.6 2370.4L53.6 2370.1L54.6 2370.1L55.6 2370L56.6 2370L57.6 2369.7L58.6 2369.7L59.6 2369.9L60.6 2370.2L61.6 2369.7L62.6 2369.7L63.6 2370L64.5 2369.8L65.5 2369.7L66.5 2369.7L67.5 2370.2L68.5 2370.2L69.5 2369.8L70.5 2370.2L71.5 2370.2L72.5 2370.3L73.5 2369.8L74.5 2370.2L75.5 2370.2L76.5 2369.9L77.5 2370.3L78.5 2369.8L79.5 2370.3L80.5 2369.6L81.5 2370.3L82.4 2370.3L83.4 2370L84.4 2369.8L85.4 2370L86.4 2369.8L87.4 2370.2L88.4 2369.7L89.4 2370.2L90.4 2370.1L91.4 2369.8L92.4 2370.1L93.4 2370.3L94.4 2369.8L95.4 2370.3L96.4 2370.1L97.4 2370.1L98.4 2370L99.4 2370.3L100.3 2369.7L101.3 2369.8L102.3 2370L103.3 2370.2L104.3 2370.1L105.3 2370.2L106.3 2370.1L107.3 2370L108.3 2369.8L109.3 2370.3L110.3 2369.7L111.3 2369.7L112.3 2370L113.3 2370L114.3 2370.3L115.3 2370.2L116.3 2370.3L117.3 2370.3L118.2 2369.8L119.2 2370.2L120.2 2369.9L121.2 2369.8L122.2 2370.1L123.2 2369.9L124.2 2369.9L125.2 2369.9L126.2 2369.9L127.2 2369.9L128.2 2370.3L129.2 2369.6L130.2 2370.2L131.2 2370.3L132.2 2370.2L133.2 2369.8L134.2 2369.6L135.2 2369.6L136.1 2370.3L137.1 2370.1L138.1 2369.8L139.1 2370.3L140.1 2370.1L141.1 2370L142.1 2370.2L143.1 2370.2L144.1 2370L145.1 2370.3L146.1 2369.7L147.1 2370L148.1 2370.2L149.1 2370L150.1 2370.1L151.1 2369.9L152.1 2370.3L153.1 2370.1L154.1 2370.3L155 2369.9L156 2370L157 2369.8L158 2369.9L159 2370L160 2369.9L161 2370.1L162 2370L163 2370.1L164 2370L165 2370.1L166 2370.4L167 2370.2L168 2376.2L169 2383.6L170 2383.4L171 2383L172 2383.3L172.9 2383.1L173.9 2390.7L174.9 2391L175.9 2390.6L176.9 2384.4L177.9 2384.6L178.9 2384.7L179.9 2384.3L180.9 2384.7L181.9 2384.3L182.9 2384.4L183.9 2381.1L184.9 2376.2L185.9 2376.2L186.9 2376.2L187.9 2376.1L188.9 2376.3L189.9 2376.1L190.8 2376.2L191.8 2376L192.8 2376.1L193.8 2376.2L194.8 2376.2L195.8 2376.5L196.8 2376.6L197.8 2376.3L198.8 2376.3L199.8 2376.4L200.8 2382.6L201.8 2382.3L202.8 2382.3L203.8 2382.3L204.8 2382.9L205.8 2382.8L206.8 2382.3L207.8 2382.4L208.7 2382.8L209.7 2382.4L210.7 2380.1L211.7 2376.3L212.7 2376.2L213.7 2376.3L214.7 2376L215.7 2376.5L216.7 2376.5L217.7 2376.3L218.7 2376.4L219.7 2382.4L220.7 2382.5L221.7 2382.9L222.7 2382.9L223.7 2382.9L224.7 2382.3L225.7 2382.8L226.6 2382.9L227.6 2379.9L228.6 2376.3L229.6 2376.5L230.6 2376.1L231.6 2376.3L232.6 2376.4L233.6 2375.9L234.6 2376.2L235.6 2376.1L236.6 2376.4L237.6 2376.3L238.6 2375.9L239.6 2376.5L240.6 2382.3L241.6 2382.8L242.6 2383L243.6 2382.7L244.5 2382.4L245.5 2382.5L246.5 2382.6L247.5 2380.1L248.5 2376.2L249.5 2375.9L250.5 2376L251.5 2376L252.5 2376.6L253.5 2376.5L254.5 2376.4L255.5 2376.1L256.5 2376.2L257.5 2376.4L258.5 2376.6L259.5 2376.4L260.5 2376.2L261.5 2376.2L262.5 2375.9L263.4 2376.2L264.4 2376.1L265.4 2376.6L266.4 2382.8L267.4 2382.9L268.4 2382.8L269.4 2382.4L270.4 2382.6L271.4 2382.4L272.4 2382.3L273.4 2378.2L274.4 2378.2L275.4 2378.5L276.4 2378.1L277.4 2378L278.4 2377.8L279.4 2378.3L280.4 2378.3L281.3 2377.8L282.3 2378.5L283.3 2378.3L284.3 2378L285.3 2377.8L286.3 2378.3L287.3 2378.2L288.3 2377.9L289.3 2378.4L290.3 2378.5L291.3 2378.3L292.3 2378L293.3 2378.1L294.3 2377.9L295.3 2378.3L296.3 2378L297.3 2378.1L298.3 2384.9L299.2 2385.1L300.2 2385.2L301.2 2385.5L302.2 2385.3L303.2 2385.6L304.2 2385.6L305.2 2382L306.2 2377.8L307.2 2378.1L308.2 2378.3L309.2 2378L310.2 2377.9L311.2 2377.8L312.2 2377.8L313.2 2378.4L314.2 2378.2L315.2 2378.3L316.2 2385.6L317.1 2386.3L318.1 2386.1L319.1 2385.9L320.1 2386.1L321.1 2385.6L322.1 2395.5L323.1 2395.2L324.1 2394.9L325.1 2395.3L326.1 2398L327.1 2397.7L328.1 2397.6L329.1 2397.9L330.1 2389.7L331.1 2389.8L332.1 2390L333.1 2390L334.1 2384.9L335 2378L336 2377.8L337 2377.9L338 2378.1L339 2378.3L340 2377.8L341 2387.6L342 2387.1L343 2387.5L344 2387.2L345 2387L346 2387L347 2387.2L348 2386.9L349 2387.3L350 2387.2L351 2383.5L352 2378.4L353 2378.2L353.9 2377.9L354.9 2377.9L355.9 2378.2L356.9 2386.9L357.9 2387.6L358.9 2387.2L359.9 2387.4L360.9 2387.5L361.9 2387.4L362.9 2387.1L363.9 2387.5L364.9 2387.2L365.9 2383.1L366.9 2378.1L367.9 2378.1L368.9 2378.3L369.9 2378.3L370.9 2378.4L371.8 2378.1L372.8 2387.4L373.8 2387.1L374.8 2387.1L375.8 2387.2L376.8 2387.5L377.8 2387.1L378.8 2387.2L379.8 2383.2L380.8 2378.2L381.8 2378L382.8 2378.4L383.8 2377.8L384.8 2378.4L385.8 2378L386.8 2378.5L387.8 2378.1L388.8 2378L389.7 2378.1L390.7 2378L391.7 2378.3L392.7 2385.9L393.7 2385.6L394.7 2386L395.7 2385.7L396.7 2386.2L397.7 2381.2L398.7 2375.3L399.7 2375.3L400.7 2374.7L401.7 2375L402.7 2375L403.7 2374.9L404.7 2375L405.7 2374.9L406.7 2384.4L407.6 2384.5L408.6 2384.4L409.6 2384.8L410.6 2384.5L411.6 2384.7L412.6 2384.3L413.6 2384.3L414.6 2380.5L415.6 2375.1L416.6 2375.3L417.6 2375.2L418.6 2375.3L419.6 2374.9L420.6 2374.8L421.6 2374.8L422.6 2375L423.6 2374.8L424.6 2375.1L425.5 2382.1L426.5 2382.3L427.5 2381.7L428.5 2381.7L429.5 2381.6L430.5 2381.9L431.5 2382.3L432.5 2378.5L433.5 2374.9L434.5 2374.7L435.5 2375.4L436.5 2374.7L437.5 2375.3L438.5 2375.2L439.5 2375.3L440.5 2375.4L441.5 2375.2L442.5 2375L443.4 2381.3L444.4 2381L445.4 2381.5L446.4 2381.3L447.4 2381.5L448.4 2381.1L449.4 2381.6L450.4 2381.1L451.4 2378.2L452.4 2375L453.4 2374.7L454.4 2374.8L455.4 2374.8L456.4 2374.6L457.4 2374.7L458.4 2375.2L459.4 2374.8L460.4 2375.3L461.4 2381.3L462.3 2381.3L463.3 2381.4L464.3 2381.1L465.3 2380.9L466.3 2381.5L467.3 2381.5L468.3 2378.7L469.3 2375.4L470.3 2374.7L471.3 2374.8L472.3 2375.3L473.3 2375.3L474.3 2375.1L475.3 2374.7L476.3 2375.1L477.3 2375L478.3 2374.8L479.3 2381.6L480.2 2381.5L481.2 2381.1L482.2 2381.1L483.2 2381.3L484.2 2381.5L485.2 2381.5L486.2 2378.2L487.2 2374.8L488.2 2374.7L489.2 2375.1L490.2 2375.1L491.2 2375.4L492.2 2375.3L493.2 2375.2L494.2 2374.8L495.2 2375.2L496.2 2381.1L497.2 2381.5L498.1 2381.1L499.1 2381.5L500.1 2381.2L501.1 2381.2L502.1 2381.6L503.1 2378.2L504.1 2375.4L505.1 2375.1L506.1 2375.1L507.1 2375.1L508.1 2374.7L509.1 2375L510.1 2375.2L511.1 2375L512.1 2374.7L513.1 2380.9L514.1 2381.4L515.1 2380.9L516 2381.3L517 2381.6L518 2380.9L519 2381.7L520 2378.6L521 2375.1L522 2375.3L523 2375.3L524 2375.2L525 2375.1L526 2375.2L527 2375.2L528 2375.1L529 2374.7L530 2382.2L531 2382.2L532 2382.1L533 2381.7L533.9 2381.8L534.9 2382L535.9 2382.2L536.9 2378.7L537.9 2375.3L538.9 2375.1L539.9 2375L540.9 2375.2L541.9 2375.4L542.9 2375.3L543.9 2375.1L544.9 2375L545.9 2375.3L546.9 2375.3L547.9 2375.2L548.9 2377.8L549.9 2381.1L550.9 2383.2L551.9 2384.3L552.8 2386.6L553.8 2387.7L554.8 2389.7L555.8 2391.2L556.8 2391L557.8 2390.9L558.8 2390.7L559.8 2390.5L560.8 2390.6L561.8 2390.3L562.8 2390.1L563.8 2389.9L564.8 2390.3L565.8 2389.7L566.8 2387.2L567.8 2386.8L568.8 2386.6L569.8 2386.8L570.7 2386.7L571.7 2386.8L572.7 2386.8L573.7 2386.8L574.7 2386.4L575.7 2386.5L576.7 2386.4L577.7 2386.2L578.7 2383.7L579.7 2383.9L580.7 2383.6L581.7 2383.4L582.7 2383.8L583.7 2383.9L584.7 2383.3L585.7 2383.6L586.7 2383.3L587.7 2383.1L588.6 2383.1L589.6 2382.9L590.6 2383.3L591.6 2383.2L592.6 2380.6L593.6 2380.6L594.6 2380.2L595.6 2380.1L596.6 2380.4L597.6 2380.4L598.6 2380.1L599.6 2380L600.6 2379.8L601.6 2379.6L602.6 2379.7L603.6 2379.9L604.6 2379.5L605.6 2379.6L606.5 2379.6L607.5 2379L608.5 2379.1L609.5 2379.1L610.5 2379.1L611.5 2379.2L612.5 2379.1L613.5 2378.7L614.5 2379.1L615.5 2378.8L616.5 2378.3L617.5 2378.4L618.5 2378.7L619.5 2378.7L620.5 2378.3L621.5 2378.6L622.5 2377.8L623.5 2377.9L624.4 2378.2L625.4 2378L626.4 2377.9L627.4 2378L628.4 2377.4L629.4 2377.7L630.4 2377.7L631.4 2377.2L632.4 2377.6L633.4 2377.2L634.4 2376.9L635.4 2377.3L636.4 2376.6L637.4 2376.7" fill="none" stroke="#3a4a8a" stroke-width="0.5" stroke-linejoin="round" />
<path d="M41.7 2369.7L42.7 2370L43.7 2370.3L44.7 2370.3L45.6 2370.1L46.6 2369.7L47.6 2369.7L48.6 2370.1L49.6 2370L50.6 2370L51.6 2369.7L52.6 2370L53.6 2370.1L54.6 2370L55.6 2370.4L56.6 2370L57.6 2370.3L58.6 2369.8L59.6 2370L60.6 2369.7L61.6 2370.1L62.6 2370.2L63.6 2369.6L64.5 2369.7L65.5 2370.4L66.5 2369.6L67.5 2369.7L68.5 2369.7L69.5 2369.9L70.5 2369.8L71.5 2369.8L72.5 2370.1L73.5 2370.4L74.5 2369.9L75.5 2369.7L76.5 2370.3L77.5 2369.9L78.5 2370L79.5 2370.1L80.5 2369.9L81.5 2369.9L82.4 2369.8L83.4 2370.1L84.4 2370L85.4 2369.9L86.4 2370.2L87.4 2369.7L88.4 2370.3L89.4 2369.7L90.4 2370.3L91.4 2370.3L92.4 2369.6L93.4 2369.9L94.4 2370.2L95.4 2369.9L96.4 2370.1L97.4 2369.8L98.4 2370.1L99.4 2370.1L100.3 2370.3L101.3 2369.9L102.3 2370.2L103.3 2370L104.3 2370.1L105.3 2369.8L106.3 2370.2L107.3 2369.8L108.3 2370.3L109.3 2369.7L110.3 2370.3L111.3 2370L112.3 2370.3L113.3 2369.7L114.3 2370.2L115.3 2370.3L116.3 2369.9L117.3 2369.8L118.2 2369.9L119.2 2369.9L120.2 2369.9L121.2 2369.7L122.2 2370.2L123.2 2370.3L124.2 2369.7L125.2 2369.9L126.2 2369.8L127.2 2369.7L128.2 2370.2L129.2 2369.9L130.2 2370L131.2 2369.6L132.2 2369.9L133.2 2369.9L134.2 2369.7L135.2 2369.8L136.1 2370L137.1 2369.8L138.1 2370.2L139.1 2370L140.1 2370.1L141.1 2369.9L142.1 2369.8L143.1 2369.7L144.1 2369.8L145.1 2369.9L146.1 2369.7L147.1 2369.8L148.1 2370.1L149.1 2369.9L150.1 2370.3L151.1 2370.3L152.1 2369.9L153.1 2370.2L154.1 2370.3L155 2370.2L156 2369.8L157 2369.6L158 2370.3L159 2370.4L160 2370.2L161 2369.9L162 2370.3L163 2370.2L164 2369.7L165 2369.8L166 2370.4L167 2369.7L168 2380.9L169 2380.7L170 2380.5L171 2380.3L172 2380.3L172.9 2386.7L173.9 2386.6L174.9 2386.3L175.9 2381.9L176.9 2381.8L177.9 2381.9L178.9 2381.9L179.9 2381.5L180.9 2381.5L181.9 2381.7L182.9 2375.3L183.9 2374.8L184.9 2374.6L185.9 2374.8L186.9 2374.4L187.9 2374.6L188.9 2374.6L189.9 2374.7L190.8 2374.8L191.8 2375.1L192.8 2374.6L193.8 2374.8L194.8 2374.8L195.8 2374.4L196.8 2375L197.8 2374.4L198.8 2374.6L199.8 2380.2L200.8 2379.8L201.8 2379.8L202.8 2380L203.8 2380.2L204.8 2380L205.8 2380.5L206.8 2380.2L207.8 2380L208.7 2379.8L209.7 2375.4L210.7 2374.7L211.7 2374.5L212.7 2374.7L213.7 2375.1L214.7 2374.9L215.7 2375L216.7 2375L217.7 2375L218.7 2380.2L219.7 2380.5L220.7 2379.8L221.7 2380L222.7 2379.9L223.7 2380L224.7 2379.8L225.7 2380.3L226.6 2375.7L227.6 2374.8L228.6 2374.4L229.6 2374.8L230.6 2374.7L231.6 2374.7L232.6 2374.7L233.6 2374.9L234.6 2374.7L235.6 2374.4L236.6 2375.1L237.6 2374.6L238.6 2378.7L239.6 2380.4L240.6 2380.3L241.6 2380L242.6 2380.4L243.6 2379.8L244.5 2380.2L245.5 2380.1L246.5 2375.1L247.5 2374.9L248.5 2374.8L249.5 2375L250.5 2374.7L251.5 2374.8L252.5 2374.5L253.5 2374.9L254.5 2374.8L255.5 2374.8L256.5 2374.5L257.5 2374.6L258.5 2375L259.5 2374.8L260.5 2374.4L261.5 2375L262.5 2374.5L263.4 2375L264.4 2374.9L265.4 2380.2L266.4 2380.2L267.4 2379.9L268.4 2380.1L269.4 2380L270.4 2380.1L271.4 2378.8L272.4 2376.5L273.4 2376.3L274.4 2377L275.4 2376.9L276.4 2376.9L277.4 2376.6L278.4 2376.3L279.4 2376.9L280.4 2376.8L281.3 2376.4L282.3 2376.4L283.3 2376.5L284.3 2376.8L285.3 2376.3L286.3 2376.6L287.3 2376.4L288.3 2376.6L289.3 2376.9L290.3 2376.3L291.3 2376.9L292.3 2376.6L293.3 2376.4L294.3 2376.4L295.3 2376.7L296.3 2381.2L297.3 2382.3L298.3 2381.9L299.2 2382.4L300.2 2382.1L301.2 2382L302.2 2382.3L303.2 2382.2L304.2 2377L305.2 2376.5L306.2 2376.6L307.2 2376.8L308.2 2376.3L309.2 2376.5L310.2 2376.5L311.2 2376.9L312.2 2376.6L313.2 2376.9L314.2 2376.8L315.2 2382.9L316.2 2382.8L317.1 2383L318.1 2383.1L319.1 2383L320.1 2382.5L321.1 2390.1L322.1 2390.5L323.1 2390L324.1 2390.2L325.1 2392.6L326.1 2392L327.1 2392.2L328.1 2392.7L329.1 2386.2L330.1 2386.3L331.1 2385.8L332.1 2385.9L333.1 2378L334.1 2376.5L335 2376.4L336 2376.8L337 2376.5L338 2376.3L339 2376.3L340 2383.8L341 2383.7L342 2383.9L343 2384.1L344 2384.1L345 2384.2L346 2384L347 2384.1L348 2384.1L349 2384.2L350 2377.3L351 2376.5L352 2376.5L353 2377L353.9 2376.8L354.9 2376.5L355.9 2383.6L356.9 2383.5L357.9 2383.8L358.9 2384.1L359.9 2384.1L360.9 2383.6L361.9 2384.1L362.9 2384.1L363.9 2384L364.9 2377.2L365.9 2376.5L366.9 2376.6L367.9 2376.3L368.9 2376.9L369.9 2376.9L370.9 2376.6L371.8 2383.5L372.8 2383.8L373.8 2383.5L374.8 2384L375.8 2384.1L376.8 2383.9L377.8 2383.7L378.8 2377.3L379.8 2376.3L380.8 2376.8L381.8 2376.9L382.8 2377L383.8 2376.3L384.8 2376.4L385.8 2376.8L386.8 2377L387.8 2376.3L388.8 2376.3L389.7 2376.5L390.7 2376.7L391.7 2382.4L392.7 2383L393.7 2382.8L394.7 2382.5L395.7 2382.6L396.7 2374.6L397.7 2373.5L398.7 2373.8L399.7 2373.4L400.7 2373.6L401.7 2373.8L402.7 2373.3L403.7 2373.3L404.7 2373.8L405.7 2381.8L406.7 2381.4L407.6 2381.5L408.6 2381.4L409.6 2382L410.6 2381.5L411.6 2382L412.6 2381.5L413.6 2374.4L414.6 2373.1L415.6 2373.6L416.6 2373.2L417.6 2373.5L418.6 2373.8L419.6 2373.8L420.6 2373.7L421.6 2373.7L422.6 2373.3L423.6 2373.9L424.6 2379.5L425.5 2379.4L426.5 2379.9L427.5 2379.9L428.5 2379.3L429.5 2379.9L430.5 2379.7L431.5 2374L432.5 2373.2L433.5 2373.5L434.5 2373.4L435.5 2373.3L436.5 2373.4L437.5 2373.5L438.5 2373.2L439.5 2373.2L440.5 2373.5L441.5 2373.5L442.5 2379L443.4 2379.1L444.4 2379.3L445.4 2379L446.4 2379.2L447.4 2378.8L448.4 2378.9L449.4 2378.7L450.4 2374.2L451.4 2373.5L452.4 2373.3L453.4 2373.3L454.4 2373.4L455.4 2373.2L456.4 2373.2L457.4 2373.2L458.4 2373.4L459.4 2373.5L460.4 2378.8L461.4 2379.1L462.3 2379.3L463.3 2378.8L464.3 2379L465.3 2378.9L466.3 2379.3L467.3 2374.3L468.3 2373.3L469.3 2373.2L470.3 2373.6L471.3 2373.8L472.3 2373.2L473.3 2373.9L474.3 2373.4L475.3 2373.5L476.3 2373.5L477.3 2373.2L478.3 2379.4L479.3 2378.8L480.2 2378.7L481.2 2379.2L482.2 2379L483.2 2379.4L484.2 2378.7L485.2 2374.5L486.2 2373.7L487.2 2373.2L488.2 2373.2L489.2 2373.7L490.2 2373.4L491.2 2373.7L492.2 2373.9L493.2 2373.3L494.2 2373.4L495.2 2378.9L496.2 2379.1L497.2 2378.9L498.1 2379.2L499.1 2378.7L500.1 2379.3L501.1 2378.8L502.1 2373.8L503.1 2373.5L504.1 2373.6L505.1 2373.8L506.1 2373.2L507.1 2373.6L508.1 2373.8L509.1 2373.2L510.1 2373.5L511.1 2373.3L512.1 2378.9L513.1 2379.4L514.1 2378.8L515.1 2379.1L516 2378.9L517 2378.9L518 2379L519 2374.4L520 2373.8L521 2373.7L522 2373.4L523 2373.2L524 2373.6L525 2373.4L526 2373.1L527 2373.5L528 2373.6L529 2379.6L530 2379.6L531 2379.8L532 2379.6L533 2379.3L533.9 2379.7L534.9 2379.3L535.9 2374.2L536.9 2373.3L537.9 2373.9L538.9 2373.4L539.9 2373.8L540.9 2373.4L541.9 2373.5L542.9 2373.6L543.9 2373.6L544.9 2373.5L545.9 2373.3L546.9 2373.8L547.9 2373.2L548.9 2376.8L549.9 2379.9L550.9 2381.2L551.9 2382.3L552.8 2383.9L553.8 2385.3L554.8 2386.1L555.8 2387.7L556.8 2388.8L557.8 2388.7L558.8 2388.3L559.8 2388.5L560.8 2388.6L561.8 2387.9L562.8 2388.1L563.8 2388.4L564.8 2387.6L565.8 2388L566.8 2387.3L567.8 2387.8L568.8 2385.1L569.8 2384.7L570.7 2384.7L571.7 2385.1L572.7 2385.2L573.7 2384.4L574.7 2384.7L575.7 2384.6L576.7 2384.6L577.7 2384.4L578.7 2384.5L579.7 2384.8L580.7 2384.2L581.7 2384.2L582.7 2381.5L583.7 2381.6L584.7 2381.6L585.7 2381.5L586.7 2381.3L587.7 2381L588.6 2380.9L589.6 2380.8L590.6 2381.3L591.6 2381.1L592.6 2380.7L593.6 2381.3L594.6 2381.3L595.6 2380.7L596.6 2381.1L597.6 2381L598.6 2381.2L599.6 2380.7L600.6 2380.7L601.6 2380.8L602.6 2380.6L603.6 2380.7L604.6 2380.5L605.6 2380.8L606.5 2380.9L607.5 2378.5L608.5 2378L609.5 2377.7L610.5 2378.3L611.5 2377.8L612.5 2377.7L613.5 2378L614.5 2377.5L615.5 2377.5L616.5 2377.6L617.5 2377.2L618.5 2377.1L619.5 2377.1L620.5 2377.4L621.5 2377.6L622.5 2377.4L623.5 2376.8L624.4 2377.1L625.4 2376.8L626.4 2377.1L627.4 2377.2L628.4 2376.7L629.4 2377.1L630.4 2376.5L631.4 2376.9L632.4 2376.9L633.4 2376.2L634.4 2376.4L635.4 2376.1L636.4 2376.3L637.4 2376.4" fill="none" stroke="#9a6ab8" stroke-width="0.5" stroke-linejoin="round" />
<path d="M41.7 2370L43.2 2370L44.7 2370L46.1 2370.1L47.6 2369.8L49.1 2370.2L50.6 2370L52.1 2369.9L53.6 2369.9L55.1 2369.8L56.6 2370.1L58.1 2370.1L59.6 2370.1L61.1 2370.2L62.6 2370.2L64 2370L65.5 2370.1L67 2370L68.5 2369.8L70 2369.8L71.5 2369.9L73 2370.1L74.5 2370.1L76 2369.8L77.5 2370.1L79 2369.8L80.5 2370.1L81.9 2370L83.4 2370L84.9 2369.8L86.4 2369.9L87.9 2369.8L89.4 2370.1L90.9 2370.1L92.4 2369.8L93.9 2370L95.4 2369.9L96.9 2370.2L98.4 2370.2L99.8 2370L101.3 2370.1L102.8 2370.1L104.3 2369.8L105.8 2369.8L107.3 2370.1L108.8 2370.2L110.3 2370.2L111.8 2370.2L113.3 2369.9L114.8 2370.1L116.3 2369.8L117.8 2370.2L119.2 2370L120.7 2370.2L122.2 2369.8L123.7 2370.1L125.2 2370.1L126.7 2370L128.2 2369.8L129.7 2370.2L131.2 2370.1L132.7 2369.8L134.2 2370L135.7 2370.2L137.1 2369.8L138.6 2369.8L140.1 2370L141.6 2370.2L143.1 2370.2L144.6 2369.9L146.1 2369.9L147.6 2369.9L149.1 2369.9L150.6 2370.1L152.1 2370.1L153.6 2370L155 2369.9L156.5 2370L158 2370L159.5 2370.1L161 2369.8L162.5 2369.8L164 2370.1L165.5 2369.8L167 2369.8L168.5 2370L170 2370.1L171.5 2369.9L172.9 2370L174.4 2370L175.9 2369.8L177.4 2369.8L178.9 2369.9L180.4 2370L181.9 2370.2L183.4 2370.2L184.9 2369.8L186.4 2370.1L187.9 2369.9L189.4 2370.1L190.8 2370.1L192.3 2369.9L193.8 2370.2L195.3 2370.2L196.8 2369.8L198.3 2370.1L199.8 2370.1L201.3 2369.9L202.8 2370.1L204.3 2369.9L205.8 2370.1L207.3 2369.9L208.7 2369.9L210.2 2370.2L211.7 2370.1L213.2 2369.8L214.7 2370L216.2 2370L217.7 2370.2L219.2 2370.2L220.7 2369.8L222.2 2369.8L223.7 2370L225.2 2369.9L226.6 2370.2L228.1 2369.8L229.6 2369.9L231.1 2369.9L232.6 2369.8L234.1 2370.1L235.6 2369.9L237.1 2370L238.6 2370.1L240.1 2370.2L241.6 2369.9L243.1 2370.2L244.5 2370.2L246 2370.1L247.5 2370L249 2370L250.5 2370.1L252 2369.8L253.5 2370.2L255 2369.9L256.5 2369.9L258 2370L259.5 2370.1L261 2369.8L262.5 2369.9L263.9 2370.1L265.4 2369.8L266.9 2369.9L268.4 2370.2L269.9 2369.8L271.4 2370.1L272.9 2370.2L274.4 2369.8L275.9 2369.9L277.4 2370L278.9 2370L280.4 2370L281.8 2370L283.3 2370.2L284.8 2369.9L286.3 2370.1L287.8 2370.2L289.3 2368.9L290.8 2367.2L292.3 2365.7L293.8 2364.5L295.3 2364.4L296.8 2364.5L298.3 2364.4L299.7 2364.5L301.2 2364.3L302.7 2364.4L304.2 2364.4L305.7 2364.2L307.2 2364.2L308.7 2364.5L310.2 2364.5L311.7 2364.2L313.2 2364.3L314.7 2364.4L316.2 2364.3L317.6 2364.3L319.1 2364.3L320.6 2364.4L322.1 2364.3L323.6 2364L325.1 2364.4L326.6 2364.4L328.1 2364.3L329.6 2364.1L331.1 2364.2L332.6 2364L334.1 2364L335.5 2364L337 2364.1L338.5 2363.9L340 2363.8L341.5 2364.3L343 2364.1L344.5 2363.9L346 2364L347.5 2364.1L349 2363.9L350.5 2364.1L352 2363.8L353.4 2364.2L354.9 2364.2L356.4 2363.8L357.9 2364L359.4 2363.8L360.9 2363.8L362.4 2363.8L363.9 2363.9L365.4 2364L366.9 2363.9L368.4 2364L369.9 2363.7L371.3 2363.6L372.8 2364.1L374.3 2363.9L375.8 2363.7L377.3 2363.6L378.8 2363.9L380.3 2363.9L381.8 2363.9L383.3 2364L384.8 2364L386.3 2363.6L387.8 2363.7L389.2 2363.5L390.7 2363.7L392.2 2364L393.7 2363.8L395.2 2363.6L396.7 2363.7L398.2 2363.7L399.7 2364.4L401.2 2364.5L402.7 2364.7L404.2 2365L405.7 2365.4L407.2 2365.4L408.6 2365.5L410.1 2365.4L411.6 2365.6L413.1 2365.7L414.6 2365.5L416.1 2365.3L417.6 2365.6L419.1 2365.7L420.6 2365.5L422.1 2365.5L423.6 2365.6L425.1 2365.3L426.5 2365.6L428 2365.2L429.5 2365.1L431 2365.1L432.5 2365.1L434 2365.1L435.5 2365L437 2365.1L438.5 2365.1L440 2365.4L441.5 2365.1L443 2364.8L444.4 2365.3L445.9 2365.1L447.4 2364.8L448.9 2365L450.4 2364.8L451.9 2364.9L453.4 2365L454.9 2364.7L456.4 2364.9L457.9 2364.7L459.4 2364.7L460.9 2364.6L462.3 2364.7L463.8 2364.6L465.3 2365L466.8 2364.6L468.3 2364.9L469.8 2364.8L471.3 2364.5L472.8 2364.7L474.3 2364.7L475.8 2364.5L477.3 2364.3L478.8 2364.7L480.2 2364.7L481.7 2364.4L483.2 2364.4L484.7 2364.6L486.2 2364.4L487.7 2364.6L489.2 2364.6L490.7 2364.5L492.2 2364.4L493.7 2364.3L495.2 2364.1L496.7 2364.2L498.1 2364.3L499.6 2364.2L501.1 2364.4L502.6 2364.1L504.1 2364.1L505.6 2364.1L507.1 2364.2L508.6 2364L510.1 2364.3L511.6 2364.2L513.1 2364L514.6 2364L516 2364.1L517.5 2363.7L519 2363.8L520.5 2363.9L522 2363.8L523.5 2364L525 2363.7L526.5 2363.7L528 2363.9L529.5 2363.7L531 2363.7L532.5 2363.6L533.9 2363.6L535.4 2363.2L536.9 2363.1L538.4 2362.6L539.9 2362.4L541.4 2362L542.9 2362.1L544.4 2361.7L545.9 2361.3L547.4 2361L548.9 2360.7L550.4 2360.6L551.9 2360L553.3 2360.2L554.8 2359.6L556.3 2359.3L557.8 2359.3L559.3 2360L560.8 2360L562.3 2360.4L563.8 2360.8L565.3 2360.8L566.8 2360.9L568.3 2361.4L569.8 2361.4L571.2 2362.1L572.7 2362L574.2 2362.5L575.7 2362.8L577.2 2363.2L578.7 2363L580.2 2363.3L581.7 2363.7L583.2 2363.9L584.7 2363.7L586.2 2363.8L587.7 2363.9L589.1 2364.4L590.6 2364.4L592.1 2364.4L593.6 2364.5L595.1 2364.5L596.6 2364.7L598.1 2364.9L599.6 2364.6L601.1 2365L602.6 2364.8L604.1 2365.1L605.6 2365.1L607 2365L608.5 2365.1L610 2365.6L611.5 2365.7L613 2365.5L614.5 2365.6L616 2365.6L617.5 2365.9L619 2365.7L620.5 2366L622 2366L623.5 2366.3L624.9 2366.4L626.4 2366.4L627.9 2366.4L629.4 2366.6L630.9 2366.5L632.4 2366.5L633.9 2366.9L635.4 2367L636.9 2366.9" fill="none" stroke="#a352cc" stroke-width="0.55" stroke-linejoin="round" />
<path d="M41.7 2370.3L43.2 2370L44.7 2370L46.1 2369.6L47.6 2369.8L49.1 2369.8L50.6 2369.9L52.1 2370.3L53.6 2369.7L55.1 2370L56.6 2369.9L58.1 2370.3L59.6 2370.1L61.1 2369.7L62.6 2370.3L64 2370.3L65.5 2370.1L67 2370.1L68.5 2370L70 2370L71.5 2370.2L73 2370.4L74.5 2370.1L76 2370.1L77.5 2370L79 2370L80.5 2369.8L81.9 2370L83.4 2370.1L84.9 2369.9L86.4 2369.7L87.9 2369.9L89.4 2370.4L90.9 2370.2L92.4 2369.7L93.9 2369.7L95.4 2370.2L96.9 2370.2L98.4 2370.4L99.8 2370.3L101.3 2370.3L102.8 2369.6L104.3 2369.7L105.8 2370.1L107.3 2370.4L108.8 2369.7L110.3 2369.9L111.8 2369.7L113.3 2370.1L114.8 2369.7L116.3 2369.8L117.8 2369.9L119.2 2369.9L120.7 2369.8L122.2 2370L123.7 2369.7L125.2 2370.3L126.7 2370.1L128.2 2370.1L129.7 2370L131.2 2369.7L132.7 2370.3L134.2 2370.1L135.7 2370L137.1 2370.1L138.6 2369.9L140.1 2369.9L141.6 2369.9L143.1 2370L144.6 2370.1L146.1 2369.6L147.6 2369.8L149.1 2369.9L150.6 2370.3L152.1 2370.1L153.6 2369.9L155 2370.2L156.5 2370.1L158 2370L159.5 2370.3L161 2369.7L162.5 2369.7L164 2370.2L165.5 2370.3L167 2370.2L168.5 2369.8L170 2370.2L171.5 2369.8L172.9 2369.7L174.4 2370.3L175.9 2369.9L177.4 2369.9L178.9 2369.9L180.4 2369.9L181.9 2370.2L183.4 2370.3L184.9 2369.7L186.4 2370.2L187.9 2369.7L189.4 2369.8L190.8 2370.1L192.3 2370L193.8 2370.2L195.3 2370.2L196.8 2369.8L198.3 2370.3L199.8 2370.2L201.3 2369.6L202.8 2370.1L204.3 2369.9L205.8 2369.9L207.3 2369.9L208.7 2369.7L210.2 2369.8L211.7 2370.2L213.2 2370.1L214.7 2369.6L216.2 2369.7L217.7 2370.1L219.2 2370.2L220.7 2370.1L222.2 2369.8L223.7 2370.2L225.2 2370.3L226.6 2370.3L228.1 2370.2L229.6 2369.7L231.1 2370.3L232.6 2370.3L234.1 2369.8L235.6 2369.7L237.1 2369.6L238.6 2369.7L240.1 2369.7L241.6 2369.8L243.1 2369.7L244.5 2370L246 2369.7L247.5 2370.3L249 2370.2L250.5 2369.7L252 2370.1L253.5 2370L255 2369.9L256.5 2370.1L258 2370.3L259.5 2369.7L261 2370.2L262.5 2369.7L263.9 2370L265.4 2370L266.9 2369.6L268.4 2370.1L269.9 2369.8L271.4 2370.2L272.9 2369.8L274.4 2370.2L275.9 2369.7L277.4 2370L278.9 2369.7L280.4 2369.7L281.8 2370.2L283.3 2370.1L284.8 2369.6L286.3 2370L287.8 2370.3L289.3 2369.2L290.8 2367.5L292.3 2366.1L293.8 2364.9L295.3 2364.8L296.8 2365.3L298.3 2365.3L299.7 2365.2L301.2 2364.6L302.7 2365.2L304.2 2364.8L305.7 2364.8L307.2 2365.1L308.7 2364.6L310.2 2364.7L311.7 2364.7L313.2 2364.6L314.7 2364.9L316.2 2365.3L317.6 2364.6L319.1 2365.3L320.6 2365.2L322.1 2365L323.6 2365L325.1 2364.9L326.6 2365.2L328.1 2365.1L329.6 2364.8L331.1 2365.1L332.6 2365L334.1 2364.7L335.5 2364.9L337 2364.6L338.5 2364.6L340 2365.2L341.5 2365.2L343 2364.5L344.5 2364.9L346 2364.9L347.5 2365.2L349 2364.5L350.5 2364.8L352 2364.8L353.4 2364.6L354.9 2364.7L356.4 2365.2L357.9 2364.5L359.4 2364.6L360.9 2364.7L362.4 2364.5L363.9 2364.5L365.4 2365L366.9 2364.6L368.4 2364.9L369.9 2364.5L371.3 2364.7L372.8 2364.7L374.3 2364.6L375.8 2365L377.3 2364.9L378.8 2365L380.3 2365L381.8 2364.9L383.3 2364.5L384.8 2364.9L386.3 2365L387.8 2364.6L389.2 2364.6L390.7 2364.9L392.2 2364.4L393.7 2364.6L395.2 2364.7L396.7 2365.1L398.2 2364.8L399.7 2365.3L401.2 2365.2L402.7 2365.2L404.2 2365.9L405.7 2366.2L407.2 2366.1L408.6 2366L410.1 2366.6L411.6 2366L413.1 2365.9L414.6 2365.8L416.1 2366.4L417.6 2366.5L419.1 2366L420.6 2366.2L422.1 2365.8L423.6 2366.3L425.1 2365.9L426.5 2365.7L428 2366L429.5 2366L431 2366.2L432.5 2365.9L434 2365.6L435.5 2365.8L437 2365.7L438.5 2366.3L440 2366L441.5 2366.2L443 2365.7L444.4 2365.8L445.9 2365.5L447.4 2366L448.9 2365.5L450.4 2365.6L451.9 2365.6L453.4 2365.5L454.9 2365.5L456.4 2365.8L457.9 2365.8L459.4 2365.4L460.9 2366L462.3 2366L463.8 2365.5L465.3 2365.6L466.8 2365.8L468.3 2365.9L469.8 2365.8L471.3 2365.5L472.8 2365.5L474.3 2365.6L475.8 2365.4L477.3 2365.3L478.8 2365.9L480.2 2365.2L481.7 2365.8L483.2 2365.7L484.7 2365.2L486.2 2365.8L487.7 2365.6L489.2 2365.4L490.7 2365.1L492.2 2365.1L493.7 2365L495.2 2365.3L496.7 2365.1L498.1 2365.3L499.6 2365.3L501.1 2365.3L502.6 2365.4L504.1 2365.2L505.6 2365.6L507.1 2365.3L508.6 2365.1L510.1 2365.1L511.6 2365.4L513.1 2365L514.6 2365.4L516 2365.2L517.5 2364.8L519 2364.9L520.5 2365.2L522 2365L523.5 2364.9L525 2365.3L526.5 2364.9L528 2364.9L529.5 2365L531 2364.9L532.5 2365.2L533.9 2364.6L535.4 2364.7L536.9 2364.7L538.4 2364.9L539.9 2365L541.4 2365L542.9 2364.6L544.4 2364.6L545.9 2364.3L547.4 2364.5L548.9 2364.8L550.4 2364.9L551.9 2364.4L553.3 2364.6L554.8 2364.7L556.3 2364.5L557.8 2364.2L559.3 2364.5L560.8 2364L562.3 2364.3L563.8 2364.5L565.3 2364.1L566.8 2364.5L568.3 2364L569.8 2364.4L571.2 2364.3L572.7 2364.3L574.2 2364.2L575.7 2363.7L577.2 2363.6L578.7 2363.9L580.2 2363.7L581.7 2363.6L583.2 2363.7L584.7 2363.5L586.2 2363.5L587.7 2361.7L589.1 2359.1L590.6 2356.1L592.1 2353.4L593.6 2350.7L595.1 2349L596.6 2350.9L598.1 2352.3L599.6 2353.8L601.1 2355.7L602.6 2357.1L604.1 2359.2L605.6 2361.3L607 2362.9L608.5 2362.7L610 2363.2L611.5 2363.1L613 2363.5L614.5 2363.7L616 2363.9L617.5 2364.4L619 2364L620.5 2364.7L622 2364.6L623.5 2365L624.9 2365L626.4 2365.5L627.9 2365.2L629.4 2365.9L630.9 2366.3L632.4 2366.1L633.9 2366.3L635.4 2366.6L636.9 2366.8" fill="none" stroke="#5794f2" stroke-width="0.55" stroke-linejoin="round" />
<path d="M41.7 2370L43.2 2369.9L44.7 2370.1L46.1 2370L47.6 2370.1L49.1 2370L50.6 2370.1L52.1 2370L53.6 2369.9L55.1 2370.1L56.6 2370.1L58.1 2370L59.6 2369.9L61.1 2370L62.6 2370L64 2369.9L65.5 2370.1L67 2370L68.5 2369.6L70 2368.9L71.5 2369.2L73 2369L74.5 2369.2L76 2369.1L77.5 2369.3L79 2369.1L80.5 2369.7L81.9 2370L83.4 2369.9L84.9 2370L86.4 2370L87.9 2370.1L89.4 2369.9L90.9 2369.9L92.4 2370L93.9 2370L95.4 2369.9L96.9 2370.1L98.4 2370L99.8 2369.9L101.3 2369.9L102.8 2370L104.3 2369.9L105.8 2370L107.3 2370L108.8 2370L110.3 2369.9L111.8 2370L113.3 2370L114.8 2370L116.3 2370.1L117.8 2369.9L119.2 2370L120.7 2370.1L122.2 2370L123.7 2369.9L125.2 2370L126.7 2369.9L128.2 2370L129.7 2370L131.2 2369.8L132.7 2369.9L134.2 2370L135.7 2369.9L137.1 2370L138.6 2369.9L140.1 2370.1L141.6 2370L143.1 2369.9L144.6 2369.9L146.1 2370L147.6 2370.1L149.1 2370L150.6 2369.9L152.1 2370L153.6 2370.1L155 2370L156.5 2369.9L158 2369.9L159.5 2369.8L161 2370L162.5 2369.9L164 2369.9L165.5 2369.9L167 2370L168.5 2370L170 2370L171.5 2370L172.9 2369.8L174.4 2370L175.9 2370L177.4 2369.8L178.9 2369.8L180.4 2369.9L181.9 2369.9L183.4 2369.9L184.9 2370L186.4 2370L187.9 2369.9L189.4 2370L190.8 2369.8L192.3 2369.9L193.8 2370L195.3 2369.9L196.8 2369.8L198.3 2369.9L199.8 2369.8L201.3 2369.8L202.8 2369.9L204.3 2369.8L205.8 2369.8L207.3 2370L208.7 2370L210.2 2370L211.7 2369.8L213.2 2369.8L214.7 2369.9L216.2 2369.8L217.7 2369.9L219.2 2370L220.7 2369.9L222.2 2369.8L223.7 2369.9L225.2 2369.8L226.6 2369.9L228.1 2369.8L229.6 2369.8L231.1 2369.9L232.6 2369.8L234.1 2369.8L235.6 2369.8L237.1 2369.8L238.6 2369.8L240.1 2369.9L241.6 2369.9L243.1 2369.8L244.5 2369.9L246 2369.8L247.5 2369.9L249 2369.9L250.5 2369.8L252 2369.8L253.5 2370L255 2369.9L256.5 2369.9L258 2369.9L259.5 2369.8L261 2369.8L262.5 2369.8L263.9 2369.7L265.4 2369.9L266.9 2369.9L268.4 2369.7L269.9 2369.8L271.4 2369.8L272.9 2369.9L274.4 2369.9L275.9 2369.9L277.4 2369.9L278.9 2369.9L280.4 2369.8L281.8 2369.8L283.3 2369.8L284.8 2369.7L286.3 2369.7L287.8 2369.7L289.3 2369.9L290.8 2369.9L292.3 2369.9L293.8 2369.9L295.3 2369.7L296.8 2369.9L298.3 2369.8L299.7 2369.9L301.2 2369.7L302.7 2369.9L304.2 2369.8L305.7 2369.7L307.2 2369.9L308.7 2369.8L310.2 2369.7L311.7 2369.7L313.2 2369.7L314.7 2369.8L316.2 2369.7L317.6 2369.7L319.1 2369.8L320.6 2369.8L322.1 2369.8L323.6 2369.9L325.1 2369.8L326.6 2369.8L328.1 2369.7L329.6 2369.8L331.1 2369.7L332.6 2369.8L334.1 2369.7L335.5 2369.9L337 2369.8L338.5 2369.8L340 2369.9L341.5 2369.9L343 2369.8L344.5 2369.9L346 2369.8L347.5 2369.8L349 2369.7L350.5 2369.9L352 2369.8L353.4 2369.7L354.9 2369.9L356.4 2369.9L357.9 2369.7L359.4 2369.8L360.9 2369.7L362.4 2369.9L363.9 2369.8L365.4 2369.7L366.9 2369.9L368.4 2369.7L369.9 2369.8L371.3 2369.7L372.8 2369.7L374.3 2369.7L375.8 2369.7L377.3 2369.7L378.8 2369.6L380.3 2369.9L381.8 2369.9L383.3 2369.7L384.8 2369.8L386.3 2369.8L387.8 2369.8L389.2 2369.7L390.7 2369.9L392.2 2369.6L393.7 2369.8L395.2 2369.6L396.7 2369.8L398.2 2369.7L399.7 2365.2L401.2 2358.1L402.7 2351.2L404.2 2359.6L405.7 2361.7L407.2 2360.1L408.6 2358.6L410.1 2359.6L411.6 2360.6L413.1 2362.5L414.6 2366.3L416.1 2368.7L417.6 2368.9L419.1 2368.8L420.6 2368.7L422.1 2368.8L423.6 2368.8L425.1 2368.7L426.5 2368.7L428 2368.8L429.5 2368.7L431 2368.9L432.5 2368.8L434 2368.9L435.5 2368.9L437 2368.8L438.5 2368.9L440 2368.8L441.5 2368.8L443 2368.9L444.4 2369L445.9 2369L447.4 2368.9L448.9 2368.8L450.4 2368.9L451.9 2368.8L453.4 2368.8L454.9 2368.8L456.4 2368.8L457.9 2369L459.4 2368.9L460.9 2369L462.3 2369L463.8 2368.9L465.3 2369L466.8 2368.9L468.3 2368.9L469.8 2369L471.3 2369L472.8 2369L474.3 2369L475.8 2369L477.3 2369L478.8 2369.1L480.2 2368.9L481.7 2369L483.2 2369.1L484.7 2369L486.2 2369L487.7 2369.2L489.2 2369L490.7 2369L492.2 2369L493.7 2369L495.2 2369L496.7 2369L498.1 2369L499.6 2369.1L501.1 2369.1L502.6 2369.1L504.1 2369L505.6 2369.1L507.1 2369.1L508.6 2369L510.1 2369.2L511.6 2369.2L513.1 2369.1L514.6 2369L516 2369.1L517.5 2369.2L519 2369.2L520.5 2369.2L522 2369.1L523.5 2369.2L525 2369.1L526.5 2369.2L528 2369.1L529.5 2369.2L531 2369.2L532.5 2369.2L533.9 2369.1L535.4 2369.1L536.9 2369.3L538.4 2369.1L539.9 2369.3L541.4 2369.2L542.9 2369.1L544.4 2369.3L545.9 2369.2L547.4 2369.4L548.9 2369.3L550.4 2369.4L551.9 2369.2L553.3 2369.2L554.8 2369.3L556.3 2369.2L557.8 2369.4L559.3 2369.4L560.8 2369.4L562.3 2369.3L563.8 2369.3L565.3 2369.2L566.8 2369.4L568.3 2369.4L569.8 2369.2L571.2 2369.3L572.7 2369.3L574.2 2369.4L575.7 2369.4L577.2 2369.4L578.7 2369.4L580.2 2369.4L581.7 2369.3L583.2 2369.4L584.7 2369.5L586.2 2369.5L587.7 2369.4L589.1 2369.4L590.6 2369.4L592.1 2369.5L593.6 2369.5L595.1 2369.5L596.6 2369.5L598.1 2369.5L599.6 2369.4L601.1 2369.4L602.6 2369.4L604.1 2369.4L605.6 2369.4L607 2369.5L608.5 2369.5L610 2369.5L611.5 2369.6L613 2369.6L614.5 2369.6L616 2369.5L617.5 2369.4L619 2369.5L620.5 2369.6L622 2369.6L623.5 2369.5L624.9 2369.6L626.4 2369.5L627.9 2369.5L629.4 2369.7L630.9 2369.5L632.4 2369.7L633.9 2369.5L635.4 2369.5L636.9 2369.5" fill="none" stroke="#ff780a" stroke-width="0.6" stroke-linejoin="round" />
<path d="M586.7 2381.2L588.1 2383.3L589.6 2386L591.1 2388.3L592.6 2388.1L594.1 2387.8L595.6 2387.3L597.1 2386.5L598.6 2384.7L600.1 2382.2L601.6 2380" fill="none" stroke="#f2cc0c" stroke-width="0.7" stroke-linejoin="round" />
<path d="M41.7 2370L43.2 2370L44.7 2370L46.1 2370L47.6 2370L49.1 2370L50.6 2370L52.1 2370L53.6 2370L55.1 2370L56.6 2370L58.1 2370L59.6 2370L61.1 2370L62.6 2370L64 2370L65.5 2370L67 2370L68.5 2370L70 2370L71.5 2370L73 2370L74.5 2370L76 2370L77.5 2370L79 2370L80.5 2370L81.9 2370L83.4 2370L84.9 2370L86.4 2370L87.9 2370L89.4 2370L90.9 2370L92.4 2370L93.9 2370L95.4 2370L96.9 2370L98.4 2370L99.8 2370L101.3 2370L102.8 2370L104.3 2370L105.8 2370L107.3 2370L108.8 2370L110.3 2370L111.8 2370L113.3 2370L114.8 2370L116.3 2370L117.8 2370L119.2 2370L120.7 2370L122.2 2370L123.7 2370L125.2 2370L126.7 2370L128.2 2370L129.7 2370L131.2 2370L132.7 2370L134.2 2370L135.7 2370L137.1 2370L138.6 2370L140.1 2370L141.6 2370L143.1 2370L144.6 2370L146.1 2370L147.6 2370L149.1 2370L150.6 2370L152.1 2370L153.6 2370L155 2370L156.5 2370L158 2370L159.5 2370L161 2370L162.5 2370L164 2370L165.5 2370L167 2370L168.5 2370L170 2370L171.5 2370L172.9 2370L174.4 2370L175.9 2370L177.4 2370L178.9 2370L180.4 2370L181.9 2370L183.4 2370L184.9 2370L186.4 2370L187.9 2370L189.4 2370L190.8 2370L192.3 2370L193.8 2370L195.3 2370L196.8 2370L198.3 2370L199.8 2370L201.3 2370L202.8 2370L204.3 2370L205.8 2370L207.3 2370L208.7 2370L210.2 2370L211.7 2370L213.2 2370L214.7 2370L216.2 2370L217.7 2370L219.2 2370L220.7 2370L222.2 2370L223.7 2370L225.2 2370L226.6 2370L228.1 2370L229.6 2370L231.1 2370L232.6 2370L234.1 2370L235.6 2370L237.1 2370L238.6 2370L240.1 2370L241.6 2370L243.1 2370L244.5 2370L246 2370L247.5 2370L249 2370L250.5 2370L252 2370L253.5 2370L255 2370L256.5 2370L258 2370L259.5 2370L261 2370L262.5 2370L263.9 2370L265.4 2370L266.9 2370L268.4 2370L269.9 2370L271.4 2370L272.9 2370L274.4 2370L275.9 2370L277.4 2370L278.9 2370L280.4 2370L281.8 2370L283.3 2370L284.8 2370L286.3 2370L287.8 2370L289.3 2370L290.8 2370L292.3 2370L293.8 2370L295.3 2370L296.8 2370L298.3 2370L299.7 2370L301.2 2370L302.7 2370L304.2 2370L305.7 2370L307.2 2370L308.7 2370L310.2 2370L311.7 2370L313.2 2370L314.7 2370L316.2 2370L317.6 2370L319.1 2370L320.6 2370L322.1 2370L323.6 2370L325.1 2370L326.6 2370L328.1 2370L329.6 2370L331.1 2370L332.6 2370L334.1 2370L335.5 2370L337 2370L338.5 2370L340 2370L341.5 2370L343 2370L344.5 2370L346 2370L347.5 2370L349 2370L350.5 2370L352 2370L353.4 2370L354.9 2370L356.4 2370L357.9 2370L359.4 2370L360.9 2370L362.4 2370L363.9 2370L365.4 2370L366.9 2370L368.4 2370L369.9 2370L371.3 2370L372.8 2370L374.3 2370L375.8 2370L377.3 2370L378.8 2370L380.3 2370L381.8 2370L383.3 2370L384.8 2370L386.3 2370L387.8 2370L389.2 2370L390.7 2370L392.2 2370L393.7 2370L395.2 2370L396.7 2370L398.2 2370L399.7 2370L401.2 2370L402.7 2370L404.2 2370L405.7 2370L407.2 2370L408.6 2370L410.1 2370L411.6 2370L413.1 2370L414.6 2370L416.1 2370L417.6 2370L419.1 2370L420.6 2370L422.1 2370L423.6 2370L425.1 2370L426.5 2370L428 2370L429.5 2370L431 2370L432.5 2370L434 2370L435.5 2370L437 2370L438.5 2370L440 2370L441.5 2370L443 2370L444.4 2370L445.9 2370L447.4 2370L448.9 2370L450.4 2370L451.9 2370L453.4 2370L454.9 2370L456.4 2370L457.9 2370L459.4 2370L460.9 2370L462.3 2370L463.8 2370L465.3 2370L466.8 2370L468.3 2370L469.8 2370L471.3 2370L472.8 2370L474.3 2370L475.8 2370L477.3 2370L478.8 2370L480.2 2370L481.7 2370L483.2 2370L484.7 2370L486.2 2370L487.7 2370L489.2 2370L490.7 2370L492.2 2370L493.7 2370L495.2 2370L496.7 2370L498.1 2370L499.6 2370L501.1 2370L502.6 2370L504.1 2370L505.6 2370L507.1 2370L508.6 2370L510.1 2370L511.6 2370L513.1 2370L514.6 2370L516 2370L517.5 2370L519 2370L520.5 2370L522 2370L523.5 2370L525 2370L526.5 2370L528 2370L529.5 2370L531 2370L532.5 2370L533.9 2370L535.4 2370L536.9 2370L538.4 2370L539.9 2370L541.4 2370L542.9 2370L544.4 2370L545.9 2370L547.4 2370L548.9 2370L550.4 2370L551.9 2370L553.3 2370L554.8 2370L556.3 2370L557.8 2370L559.3 2370L560.8 2370L562.3 2370L563.8 2370L565.3 2370L566.8 2370L568.3 2370L569.8 2370L571.2 2370L572.7 2370L574.2 2370L575.7 2370L577.2 2370L578.7 2370L580.2 2370L581.7 2370L583.2 2370L584.7 2370L586.2 2370L587.7 2370L589.1 2370L590.6 2370L592.1 2370L593.6 2370L595.1 2370L596.6 2370L598.1 2370L599.6 2370L601.1 2370L602.6 2370L604.1 2370L605.6 2370L607 2370L608.5 2370L610 2370L611.5 2370L613 2370L614.5 2370L616 2370L617.5 2370L619 2370L620.5 2370L622 2370L623.5 2370L624.9 2370L626.4 2370L627.9 2370L629.4 2370L630.9 2370L632.4 2370L633.9 2370L635.4 2370L636.9 2370" fill="none" stroke="#6a4ab0" stroke-width="0.6" stroke-linejoin="round" />
</svg>
<div class="a" style="left:636.3px;top:18.44px;width:113.3px;height:0;border-top:1px solid #eeeff0"></div>
<div class="lg" style="left:636.3px;top:20.7px;height:10px;line-height:10px;padding-left:16.2px;font-size:7.2px"><i style="background:#5794f2;left:4px"></i>pg-test-3-R&#9650;</div>
<div class="lg nv" style="left:685.5px;width:60px;text-align:right;top:20.7px;height:10px;line-height:10px;font-size:7.2px">9.42 kB/s</div>
<div class="a" style="left:636.3px;top:31.96px;width:113.3px;height:0;border-top:1px solid #eeeff0"></div>
<div class="lg" style="left:636.3px;top:34.22px;height:10px;line-height:10px;padding-left:16.2px;font-size:7.2px"><i style="background:#ff780a;left:4px"></i>pg-test-4-R&#9650;</div>
<div class="lg nv" style="left:685.5px;width:60px;text-align:right;top:34.22px;height:10px;line-height:10px;font-size:7.2px">31.5 kB/s</div>
<div class="a" style="left:636.3px;top:45.48px;width:113.3px;height:0;border-top:1px solid #eeeff0"></div>
<div class="lg" style="left:636.3px;top:47.74px;height:10px;line-height:10px;padding-left:16.2px;font-size:7.2px"><i style="background:#e02f44;left:4px"></i>pg-test-1-TX&#9650;</div>
<div class="lg nv" style="left:685.5px;width:60px;text-align:right;top:47.74px;height:10px;line-height:10px;font-size:7.2px">629 kB/s</div>
<div class="a" style="left:636.3px;top:59px;width:113.3px;height:0;border-top:1px solid #eeeff0"></div>
<div class="lg" style="left:636.3px;top:61.26px;height:10px;line-height:10px;padding-left:16.2px;font-size:7.2px"><i style="background:#1f60c4;left:4px"></i>pg-test-2-TX&#9650;</div>
<div class="lg nv" style="left:685.5px;width:60px;text-align:right;top:61.26px;height:10px;line-height:10px;font-size:7.2px">239 kB/s</div>
<div class="a" style="left:636.3px;top:72.52px;width:113.3px;height:0;border-top:1px solid #eeeff0"></div>
<div class="lg" style="left:636.3px;top:74.78px;height:10px;line-height:10px;padding-left:16.2px;font-size:7.2px"><i style="background:#a352cc;left:4px"></i>pg-test-3-TX&#9650;</div>
<div class="lg nv" style="left:685.5px;width:60px;text-align:right;top:74.78px;height:10px;line-height:10px;font-size:7.2px">224 kB/s</div>
<div class="a" style="left:636.3px;top:86.04px;width:113.3px;height:0;border-top:1px solid #eeeff0"></div>
<div class="lg" style="left:636.3px;top:88.3px;height:10px;line-height:10px;padding-left:16.2px;font-size:7.2px"><i style="background:#5a4a9a;left:4px"></i>pg-test-4-TX&#9650;</div>
<div class="lg nv" style="left:685.5px;width:60px;text-align:right;top:88.3px;height:10px;line-height:10px;font-size:7.2px">767 kB/s</div>
<div class="a" style="left:636.3px;top:99.56px;width:113.3px;height:0;border-top:1px solid #eeeff0"></div>
<div class="lg" style="left:636.3px;top:101.82px;height:10px;line-height:10px;padding-left:16.2px;font-size:7.2px"><i style="background:#37872d;left:4px"></i>pg-test-1-RX&#9660;</div>
<div class="lg nv" style="left:685.5px;width:60px;text-align:right;top:101.82px;height:10px;line-height:10px;font-size:7.2px">-404 kB/s</div>
<div class="a" style="left:636.3px;top:113.08px;width:113.3px;height:0;border-top:1px solid #eeeff0"></div>
<div class="lg" style="left:636.3px;top:115.34px;height:10px;line-height:10px;padding-left:16.2px;font-size:7.2px"><i style="background:#f2cc0c;left:4px"></i>pg-test-2-RX&#9660;</div>
<div class="lg nv" style="left:685.5px;width:60px;text-align:right;top:115.34px;height:10px;line-height:10px;font-size:7.2px">-353 kB/s</div>
<div class="a" style="left:636.3px;top:126.6px;width:113.3px;height:0;border-top:1px solid #eeeff0"></div>
<div class="lg" style="left:636.3px;top:128.86px;height:10px;line-height:10px;padding-left:16.2px;font-size:7.2px"><i style="background:#3274d9;left:4px"></i>pg-test-3-RX&#9660;</div>
<div class="lg nv" style="left:685.5px;width:60px;text-align:right;top:128.86px;height:10px;line-height:10px;font-size:7.2px">-335 kB/s</div>
<div class="a" style="left:636.3px;top:140.12px;width:113.3px;height:0;border-top:1px solid #eeeff0"></div>
<div class="lg" style="left:636.3px;top:142.38px;height:10px;line-height:10px;padding-left:16.2px;font-size:7.2px"><i style="background:#c4642a;left:4px"></i>pg-test-4-RX&#9660;</div>
<div class="lg nv" style="left:685.5px;width:60px;text-align:right;top:142.38px;height:10px;line-height:10px;font-size:7.2px">-585 kB/s</div>
<div class="a" style="left:636.3px;top:153.64px;width:113.3px;height:0;border-top:1px solid #eeeff0"></div>
<div class="lg" style="left:636.3px;top:155.9px;height:10px;line-height:10px;padding-left:16.2px;font-size:7.2px"><i style="background:#8a1f0f;left:4px"></i>pg-test-1-W&#9660;</div>
<div class="lg nv" style="left:685.5px;width:60px;text-align:right;top:155.9px;height:10px;line-height:10px;font-size:7.2px">-765 kB/s</div>
<div class="a" style="left:636.3px;top:167.16px;width:113.3px;height:0;border-top:1px solid #eeeff0"></div>
<div class="lg" style="left:636.3px;top:169.42px;height:10px;line-height:10px;padding-left:16.2px;font-size:7.2px"><i style="background:#1f4e8c;left:4px"></i>pg-test-2-W&#9660;</div>
<div class="lg nv" style="left:685.5px;width:60px;text-align:right;top:169.42px;height:10px;line-height:10px;font-size:7.2px">-611 kB/s</div>
<div class="a" style="left:636.3px;top:180.68px;width:113.3px;height:0;border-top:1px solid #eeeff0"></div>
</div>
<div class="p" style="left:766.7px;top:2270.3px;width:308.6px;height:188.8px">
<div class="pt">Space Usage (Max)</div>
<div class="t bl" style="left:-1px;top:17px;width:308.6px;height:83.4px">
<svg width="308.6" height="83.4" viewBox="0 0 308.6 83.4"><path d="M0 83.4L0 79.9L308.6 79.9L308.6 83.4Z" fill="#fff" fill-opacity="0.4"/></svg>
<div class="n" style="left:7.2px;top:8.8px;font-size:17.6px">/</div>
<div class="v" style="right:7.5px;top:8.2px;font-size:31.5px">9.4<span style="font-size:16px;-webkit-text-stroke:0;margin-left:1px">%</span></div>
</div>
<div class="t gr" style="left:-1px;top:103.7px;width:308.6px;height:84px">
<svg width="308.6" height="84" viewBox="0 0 308.6 84"><path d="M0 84L0 76.02L308.6 76.02L308.6 84Z" fill="#fff" fill-opacity="0.45"/></svg>
<div class="n" style="left:7.2px;top:8.8px;font-size:17.6px">/boot</div>
<div class="v" style="right:7.5px;top:8.2px;font-size:31.5px"><span style="letter-spacing:-.03em">19.</span>9<span style="font-size:16px;-webkit-text-stroke:0;margin-left:1px">%</span></div>
</div>
</div>
<div class="rt" style="top:2468.1px"><svg width="7" height="7" viewBox="0 0 24 24" fill="none" stroke="#3a3f45" stroke-width="3"><path d="M4 9l8 7 8-7"/></svg>Logs</div>
<div class="p" style="left:6px;top:2485.7px;width:173.5px;height:145.6px">
<div class="pt">Logs 5m</div>
<div class="t gr" style="left:-1px;top:17.7px;width:173.5px;height:30.3px">
<svg width="173.5" height="30.3" viewBox="0 0 173.5 30.3"><path d="M0 30.3L0 30.3L95.43 30.3L104.1 28.48L117.98 28.18L124.92 29.69L149.21 29.69L152.68 17.57L156.15 16.36L164.82 16.36L167.43 18.18L168.29 30.3L173.5 30.3L173.5 30.3Z" fill="#fff" fill-opacity="0.42"/></svg>
<div class="n" style="left:4.6px;top:5px;font-size:7.4px">postgres</div>
<div class="v" style="right:4.8px;top:4.8px;font-size:9.8px">73</div>
</div>
<div class="t bl" style="left:-1px;top:49.87px;width:173.5px;height:30.3px">
<svg width="173.5" height="30.3" viewBox="0 0 173.5 30.3"><path d="M0 30.3L0 30.3L100.63 30.3L104.1 28.79L117.98 28.79L121.45 30.3L173.5 30.3L173.5 30.3Z" fill="#fff" fill-opacity="0.42"/></svg>
<div class="n" style="left:4.6px;top:5px;font-size:7.4px">patroni</div>
<div class="v" style="right:4.8px;top:4.8px;font-size:9.8px">120</div>
</div>
<div class="t po dk" style="left:-1px;top:82.04px;width:173.5px;height:30.3px">
<svg width="173.5" height="30.3" viewBox="0 0 173.5 30.3"><path d="M0 30.3L0 30.3L100.63 30.3L104.1 29.09L117.98 29.09L121.45 30.3L173.5 30.3L173.5 30.3Z" fill="#fff" fill-opacity="0.42"/></svg>
<div class="n" style="left:4.6px;top:5px;font-size:7.4px">pgbouncer</div>
<div class="v" style="right:4.8px;top:4.8px;font-size:9.8px">20</div>
</div>
<div class="t rd" style="left:-1px;top:114.21px;width:173.5px;height:30.3px">
<svg width="173.5" height="30.3" viewBox="0 0 173.5 30.3"><path d="M0 30.3L0 30.3L100.63 30.3L104.1 29.39L117.98 29.39L121.45 30.3L147.47 30.3L152.68 29.39L166.56 29.39L173.5 30.3L173.5 30.3Z" fill="#fff" fill-opacity="0.42"/></svg>
<div class="n" style="left:4.6px;top:5px;font-size:7.4px">pgbackrest</div>
<div class="v" style="right:4.8px;top:4.8px;font-size:9.8px">21</div>
</div>
</div>
<div class="p" style="left:185px;top:2485.7px;width:890.3px;height:145.6px">
<div class="pt">Logs</div>
<svg class="a" style="left:-1px;top:-1px" width="890.3" height="145.6" viewBox="185 2485.7 890.3 145.6" >
<path d="M207.8 2614L979.8 2614" stroke="#eceded" stroke-width="0.5" fill="none" />
<text x="202.3" y="2616.6" text-anchor="end" class="ax" >0</text>
<path d="M207.8 2593.8L979.8 2593.8" stroke="#eceded" stroke-width="0.5" fill="none" />
<text x="202.3" y="2596.4" text-anchor="end" class="ax" >50</text>
<path d="M207.8 2573.6L979.8 2573.6" stroke="#eceded" stroke-width="0.5" fill="none" />
<text x="202.3" y="2576.2" text-anchor="end" class="ax" >100</text>
<path d="M207.8 2553.4L979.8 2553.4" stroke="#eceded" stroke-width="0.5" fill="none" />
<text x="202.3" y="2556" text-anchor="end" class="ax" >150</text>
<path d="M207.8 2533.2L979.8 2533.2" stroke="#eceded" stroke-width="0.5" fill="none" />
<text x="202.3" y="2535.8" text-anchor="end" class="ax" >200</text>
<path d="M207.8 2513L979.8 2513" stroke="#eceded" stroke-width="0.5" fill="none" />
<text x="202.3" y="2515.6" text-anchor="end" class="ax" >250</text>
<path d="M224.5 2511L224.5 2614" stroke="#eceded" stroke-width="0.5" fill="none" />
<text x="224.5" y="2625.3" text-anchor="middle" class="ax" >13:00</text>
<path d="M289 2511L289 2614" stroke="#eceded" stroke-width="0.5" fill="none" />
<text x="289" y="2625.3" text-anchor="middle" class="ax" >13:05</text>
<path d="M353.5 2511L353.5 2614" stroke="#eceded" stroke-width="0.5" fill="none" />
<text x="353.5" y="2625.3" text-anchor="middle" class="ax" >13:10</text>
<path d="M418 2511L418 2614" stroke="#eceded" stroke-width="0.5" fill="none" />
<text x="418" y="2625.3" text-anchor="middle" class="ax" >13:15</text>
<path d="M482.5 2511L482.5 2614" stroke="#eceded" stroke-width="0.5" fill="none" />
<text x="482.5" y="2625.3" text-anchor="middle" class="ax" >13:20</text>
<path d="M547 2511L547 2614" stroke="#eceded" stroke-width="0.5" fill="none" />
<text x="547" y="2625.3" text-anchor="middle" class="ax" >13:25</text>
<path d="M611.5 2511L611.5 2614" stroke="#eceded" stroke-width="0.5" fill="none" />
<text x="611.5" y="2625.3" text-anchor="middle" class="ax" >13:30</text>
<path d="M676 2511L676 2614" stroke="#eceded" stroke-width="0.5" fill="none" />
<text x="676" y="2625.3" text-anchor="middle" class="ax" >13:35</text>
<path d="M740.5 2511L740.5 2614" stroke="#eceded" stroke-width="0.5" fill="none" />
<text x="740.5" y="2625.3" text-anchor="middle" class="ax" >13:40</text>
<path d="M805 2511L805 2614" stroke="#eceded" stroke-width="0.5" fill="none" />
<text x="805" y="2625.3" text-anchor="middle" class="ax" >13:45</text>
<path d="M869.5 2511L869.5 2614" stroke="#eceded" stroke-width="0.5" fill="none" />
<text x="869.5" y="2625.3" text-anchor="middle" class="ax" >13:50</text>
<path d="M934 2511L934 2614" stroke="#eceded" stroke-width="0.5" fill="none" />
<text x="934" y="2625.3" text-anchor="middle" class="ax" >13:55</text>
<path d="M209.02 2614v-1.22M211.17 2614v-0.99M213.32 2614v-1.58M215.47 2614v-1.19M217.62 2614v-1.35M219.77 2614v-1.3M221.92 2614v-1.43M224.07 2614v-1.72M226.22 2614v-1.2M228.37 2614v-0.96M230.52 2614v-1.67M232.67 2614v-1.76M234.82 2614v-1.59M236.97 2614v-1.21M239.12 2614v-0.82M241.27 2614v-1.81M243.42 2614v-1.27M245.57 2614v-1.42M247.72 2614v-1.17M249.87 2614v-1.74M252.02 2614v-1.61M254.17 2614v-1.8M256.32 2614v-2.1M258.47 2614v-1.29M260.62 2614v-0.89M262.77 2614v-0.89M264.92 2614v-0.81M267.07 2614v-1.34M269.22 2614v-2.7M271.37 2614v-1.07M273.52 2614v-1.58M275.67 2614v-1.51M277.82 2614v-0.94M279.97 2614v-1.41M282.12 2614v-1.42M284.27 2614v-0.91M286.42 2614v-0.98M288.57 2614v-0.95M290.72 2614v-1.37M292.87 2614v-1.61M295.02 2614v-0.93M297.17 2614v-2.95M299.32 2614v-2.72M301.47 2614v-1.21M303.62 2614v-1.21M305.77 2614v-1.18M307.92 2614v-1.7M310.07 2614v-1.54M312.22 2614v-1.26M314.37 2614v-1.47M316.52 2614v-1.12M318.67 2614v-1.54M320.82 2614v-1.63M322.97 2614v-1.06M325.12 2614v-1.57M327.27 2614v-1.25M329.42 2614v-1.07M331.57 2614v-1.72M333.72 2614v-1.6M335.87 2614v-1.75M338.02 2614v-1.7M340.17 2614v-1.47M342.32 2614v-1.09M344.47 2614v-1.42M346.62 2614v-1.48M348.77 2614v-1.19M350.92 2614v-1.16M353.07 2614v-1.51M355.22 2614v-1M357.37 2614v-0.98M359.52 2614v-1.47M361.67 2614v-1.68M363.82 2614v-1.68M365.97 2614v-1.21M368.12 2614v-3.02M370.27 2614v-1.49M372.42 2614v-0.98M374.57 2614v-1.26M376.72 2614v-1.56M378.87 2614v-1.28M381.02 2614v-1.43M383.17 2614v-1.58M385.32 2614v-2.36M387.47 2614v-1.12M389.62 2614v-1.78M391.77 2614v-1.18M393.92 2614v-1.77M396.07 2614v-1.11M398.22 2614v-1.81M400.37 2614v-1.21M402.52 2614v-1.27M404.67 2614v-0.94M406.82 2614v-1.67M408.97 2614v-1.23M411.12 2614v-0.99M413.27 2614v-1.08M415.42 2614v-1.71M417.57 2614v-1.64M419.72 2614v-1.29M421.87 2614v-1.71M424.02 2614v-2.79M426.17 2614v-3.09M428.32 2614v-1.31M430.47 2614v-1.55M432.62 2614v-1.35M434.77 2614v-1.4M436.92 2614v-0.98M439.07 2614v-3.13M441.22 2614v-1.04M443.37 2614v-0.97M445.52 2614v-1.51M447.67 2614v-1.62M449.82 2614v-0.98M451.97 2614v-1.18M454.12 2614v-1.01M456.27 2614v-1.52M458.42 2614v-1.63M460.57 2614v-1.49M462.72 2614v-1.64M464.87 2614v-0.9M467.02 2614v-1.46M469.17 2614v-1.69M471.32 2614v-1.43M473.47 2614v-1.43M475.62 2614v-0.86M477.77 2614v-1.44M479.92 2614v-0.99M482.07 2614v-1.31M484.22 2614v-3.24M486.37 2614v-1.5M488.52 2614v-1.61M490.67 2614v-1.26M492.82 2614v-1.69M494.97 2614v-1.63M497.12 2614v-1.65M499.27 2614v-1.18M501.42 2614v-0.85M503.57 2614v-1.11M505.72 2614v-1.76M507.87 2614v-1.63M510.02 2614v-0.93M512.17 2614v-0.88M514.32 2614v-1.42M516.47 2614v-1.15M518.62 2614v-4.65M520.77 2614v-1.42M522.92 2614v-4.81M525.07 2614v-1.1M527.22 2614v-1.33M529.37 2614v-1.04M531.52 2614v-1.81M533.67 2614v-1.46M535.82 2614v-1.38M537.97 2614v-2.67M540.12 2614v-1.72M542.27 2614v-1.11M544.42 2614v-1.07M546.57 2614v-4.1M548.72 2614v-1.32M550.87 2614v-3.92M553.02 2614v-1.15M555.17 2614v-1.73M557.32 2614v-1.31M559.47 2614v-1.39M561.62 2614v-1.67M563.77 2614v-1.01M565.92 2614v-0.94M568.07 2614v-1.06M570.22 2614v-1.07M572.37 2614v-1.49M574.52 2614v-1.69M576.67 2614v-1.05M578.82 2614v-1.5M580.97 2614v-2.83M583.12 2614v-1.58M585.27 2614v-1M587.42 2614v-2.22M589.57 2614v-2.97M591.72 2614v-1.08M593.87 2614v-1.07M596.02 2614v-1.11M598.17 2614v-0.92M600.32 2614v-0.95M602.47 2614v-1.07M604.62 2614v-2.77M606.77 2614v-1.42M608.92 2614v-1.19M611.07 2614v-1.13M613.22 2614v-1.35M615.37 2614v-0.83M617.52 2614v-1.03M619.67 2614v-2.02M621.82 2614v-0.92M623.97 2614v-1.51M626.12 2614v-1.18M628.27 2614v-1.69M630.42 2614v-1.72M632.57 2614v-1.53M634.72 2614v-1.08M636.87 2614v-1.75M639.02 2614v-1.14M641.17 2614v-1.69M643.32 2614v-1.05M645.47 2614v-4.42M647.62 2614v-0.89M649.77 2614v-1.55M651.92 2614v-1.58M654.07 2614v-1.52M656.22 2614v-1.75M658.37 2614v-1.81M660.52 2614v-1.35M662.67 2614v-0.91M664.82 2614v-5.01M666.97 2614v-1.27M669.12 2614v-1.81M671.27 2614v-0.83M673.42 2614v-1.45M675.57 2614v-1M677.72 2614v-1.47M679.87 2614v-0.83M682.02 2614v-1.03M684.17 2614v-3.41M686.32 2614v-1.76M688.47 2614v-1.65M690.62 2614v-1.51M692.77 2614v-1.52M694.92 2614v-1.66M697.07 2614v-1.2M699.22 2614v-1.08M701.37 2614v-1.06M703.52 2614v-0.97M705.67 2614v-0.93M707.82 2614v-1.64M709.97 2614v-1.2M712.12 2614v-1.41M714.27 2614v-1.81M716.42 2614v-1.12M718.57 2614v-1.31M720.72 2614v-1.27M722.87 2614v-1.14M725.02 2614v-1.32M727.17 2614v-3.82M729.32 2614v-1.6M731.47 2614v-1.15M733.62 2614v-1.21M735.77 2614v-0.82M737.92 2614v-1.27M740.07 2614v-1.01M742.22 2614v-1.59M744.37 2614v-0.92M746.52 2614v-1.52M748.67 2614v-1.37M750.82 2614v-0.9M752.97 2614v-0.83M755.12 2614v-1.11M757.27 2614v-0.85M759.42 2614v-1.06M761.57 2614v-1.16M763.72 2614v-0.85M765.87 2614v-1.73M768.02 2614v-1.73M770.17 2614v-1.63M772.32 2614v-1.42M774.47 2614v-1.78M776.62 2614v-1.37M778.77 2614v-1.66M780.92 2614v-0.83M783.07 2614v-1.16M785.22 2614v-0.85M787.37 2614v-1.77M789.52 2614v-1.65M791.67 2614v-1.14M793.82 2614v-1.5M795.97 2614v-1.11M798.12 2614v-1.15M800.27 2614v-0.97M802.42 2614v-0.9M804.57 2614v-1.68M806.72 2614v-1.18M808.87 2614v-1.74M811.02 2614v-1.74M813.17 2614v-4.22M815.32 2614v-1.74M817.47 2614v-1.12M819.62 2614v-0.93M821.77 2614v-1.1M823.92 2614v-1.22M826.07 2614v-1.48M828.22 2614v-0.94M830.37 2614v-1.48M832.52 2614v-1.76M834.67 2614v-1.35M836.82 2614v-1.22M838.97 2614v-1.08M841.12 2614v-1.2M843.27 2614v-1.16M845.42 2614v-1.04M847.57 2614v-1.31M849.72 2614v-1.6M851.87 2614v-0.94M854.02 2614v-0.88M856.17 2614v-1.77M858.32 2614v-1.74M860.47 2614v-1.56M862.62 2614v-0.87M864.77 2614v-1.54M866.92 2614v-1.26M869.07 2614v-1.58M871.22 2614v-1.53M873.37 2614v-0.85M875.52 2614v-1.8M877.67 2614v-1.71M879.82 2614v-1.73M881.97 2614v-1.1M884.12 2614v-1.59M886.27 2614v-2.13M888.42 2614v-1.06M890.57 2614v-1.18M892.72 2614v-1.58M894.87 2614v-1.16M897.02 2614v-3.09M899.17 2614v-1.64M901.32 2614v-1.01M903.47 2614v-1.49M905.62 2614v-1.06M907.77 2614v-1.2M909.92 2614v-1.81M912.07 2614v-2.58M914.22 2614v-1.79M916.37 2614v-1.04M918.52 2614v-1.69M920.67 2614v-0.83M922.82 2614v-1.03M924.97 2614v-1.21M927.12 2614v-1.7M929.27 2614v-0.98M931.42 2614v-1.28M933.57 2614v-1.66M935.72 2614v-1.55M937.87 2614v-1.38M940.02 2614v-0.86M942.17 2614v-1.48M944.32 2614v-1.77M946.47 2614v-0.93M948.62 2614v-1.8M950.77 2614v-1.35M952.92 2614v-2.74M955.07 2614v-1.44M957.22 2614v-1.81M959.37 2614v-1.05M961.52 2614v-1.77M963.67 2614v-0.99M965.82 2614v-0.9M967.97 2614v-1.03M970.12 2614v-1.25M972.27 2614v-1.77M974.42 2614v-1.81M976.57 2614v-1.69M978.72 2614v-1.09" stroke="#e8475c" stroke-width=".7" fill="none" opacity=".85"/>
<rect x="670.09" y="2595.82" width="1.5" height="18.18" fill="#4a7a4a" />
<rect x="670.09" y="2581.68" width="1.5" height="14.14" fill="#9a86c0" />
<rect x="670.09" y="2563.5" width="1.5" height="18.18" fill="#f6b4b8" />
<rect x="667.16" y="2609.96" width="0.9" height="4.04" fill="#d88" />
<rect x="657.49" y="2609.96" width="0.9" height="4.04" fill="#e99" />
<rect x="702.69" y="2593.8" width="0.8" height="20.2" fill="#c06a62" />
<rect x="563.32" y="2609.15" width="0.9" height="4.85" fill="#f2a0a6" />
<rect x="862.6" y="2601.88" width="0.9" height="12.12" fill="#c88a80" />
<rect x="858.73" y="2609.15" width="0.9" height="4.85" fill="#e99" />
<rect x="870.34" y="2609.96" width="0.9" height="4.04" fill="#e99" />
<rect x="876.79" y="2610.77" width="0.9" height="3.23" fill="#e99" />
<rect x="886.47" y="2606.73" width="0.9" height="7.27" fill="#7a9a7a" />
<rect x="889.45" y="2536.43" width="1.9" height="77.57" fill="#4f844f" />
<rect x="889.45" y="2523.5" width="1.9" height="12.93" fill="#f6b4b8" />
<rect x="892.32" y="2553.4" width="0.8" height="60.6" fill="#6a9a6a" />
<rect x="892.32" y="2537.24" width="0.8" height="16.16" fill="#b8a0c8" />
<rect x="915.49" y="2599.86" width="0.9" height="14.14" fill="#d88a80" />
<rect x="923.88" y="2605.11" width="0.9" height="8.89" fill="#d88a80" />
<rect x="927.1" y="2610.77" width="0.9" height="3.23" fill="#e99" />
</svg>
<div class="lgh" style="left:820.4px;width:60px;top:24.25px;height:10px;line-height:10px">Total</div>
<div class="a" style="left:801px;top:34.73px;width:84px;height:0;border-top:1px solid #eeeff0"></div>
<div class="lg" style="left:801px;top:37px;height:10px;line-height:10px;padding-left:16.4px;font-size:7.2px"><i style="background:#4f844f;left:4px"></i>postgres</div>
<div class="lg nv" style="left:820.4px;width:60px;text-align:right;top:37px;height:10px;line-height:10px;font-size:7.2px">1852</div>
<div class="a" style="left:801px;top:48.27px;width:84px;height:0;border-top:1px solid #eeeff0"></div>
<div class="lg" style="left:801px;top:50.55px;height:10px;line-height:10px;padding-left:16.4px;font-size:7.2px"><i style="background:#3e668f;left:4px"></i>patroni</div>
<div class="lg nv" style="left:820.4px;width:60px;text-align:right;top:50.55px;height:10px;line-height:10px;font-size:7.2px">1513</div>
<div class="a" style="left:801px;top:61.82px;width:84px;height:0;border-top:1px solid #eeeff0"></div>
<div class="lg" style="left:801px;top:64.1px;height:10px;line-height:10px;padding-left:16.4px;font-size:7.2px"><i style="background:#f9a060;left:4px"></i>pgbouncer</div>
<div class="lg nv" style="left:820.4px;width:60px;text-align:right;top:64.1px;height:10px;line-height:10px;font-size:7.2px">302</div>
<div class="a" style="left:801px;top:75.38px;width:84px;height:0;border-top:1px solid #eeeff0"></div>
<div class="lg" style="left:801px;top:77.65px;height:10px;line-height:10px;padding-left:16.4px;font-size:7.2px"><i style="background:#f2495c;left:4px"></i>pgbackrest</div>
<div class="lg nv" style="left:820.4px;width:60px;text-align:right;top:77.65px;height:10px;line-height:10px;font-size:7.2px">253</div>
<div class="a" style="left:801px;top:88.92px;width:84px;height:0;border-top:1px solid #eeeff0"></div>
</div>
<div class="p" style="left:6px;top:2636.7px;width:1069.5px;height:253.6px">
<div class="pt">Recent Logs<svg width="9" height="9" viewBox="0 0 24 24" fill="none" stroke="#5a5f66" stroke-width="1.8"><circle cx="12" cy="12" r="9.5"/><path d="M12 11v6M12 7v1.2"/></svg></div>
<div class="log" style="top:23px;left:8.75px"><i style="background:#7ebc7e;left:-3.400px"></i>&gt; 2023-08-03 13:58:29.000 2023-08-03 13:58:29 +0800 INFO: no action. I am (pg-test-4), a secondary, and following a leader (pg-test-1)</div>
<div class="log" style="top:34.46px;left:8.75px"><i style="background:#7ebc7e;left:-3.400px"></i>&gt; 2023-08-03 13:58:29.000 2023-08-03 13:58:29 +0800 INFO: no action. I am (pg-test-3), a secondary, and following a leader (pg-test-1)</div>
<div class="log" style="top:45.91px;left:8.75px"><i style="background:#7ebc7e;left:-3.400px"></i>&gt; 2023-08-03 13:58:29.000 2023-08-03 13:58:29 +0800 INFO: no action. I am (pg-test-2), a secondary, and following a leader (pg-test-1)</div>
<div class="log" style="top:57.37px;left:8.75px"><i style="background:#7ebc7e;left:-3.400px"></i>&gt; 2023-08-03 13:58:29.000 2023-08-03 13:58:29 +0800 INFO: no action. I am (pg-test-1), the leader with the lock</div>
<div class="log" style="top:68.82px;left:8.75px"><i style="background:#dedfe0;left:-3.400px"></i>&gt; 2023-08-03 13:58:23.149 2023-08-03 13:58:23.072 HKT [97261] LOG stats: 684 xacts/s, 684 queries/s, in 43076 B/s, out 91313 B/s, xact 284 us, query 284 us, wait 0 us</div>
<div class="log" style="top:80.28px;left:8.75px"><i style="background:#dedfe0;left:-3.400px"></i>&gt; 2023-08-03 13:58:22.159 2023-08-03 13:58:22.152 HKT [687] LOG stats: 65 xacts/s, 457 queries/s, in 27975 B/s, out 16216 B/s, xact 4385 us, query 461 us, wait 0 us</div>
<div class="log" style="top:91.74px;left:8.75px"><i style="background:#dedfe0;left:-3.400px"></i>&gt; 2023-08-03 13:58:21.932 2023-08-03 13:58:21.811 HKT [97285] LOG stats: 665 xacts/s, 665 queries/s, in 41882 B/s, out 87931 B/s, xact 518 us, query 518 us, wait 0 us</div>
<div class="log" style="top:103.19px;left:8.75px"><i style="background:#7ebc7e;left:-3.400px"></i>&gt; 2023-08-03 13:58:19.000 2023-08-03 13:58:19 +0800 INFO: no action. I am (pg-test-4), a secondary, and following a leader (pg-test-1)</div>
<div class="log" style="top:114.65px;left:8.75px"><i style="background:#7ebc7e;left:-3.400px"></i>&gt; 2023-08-03 13:58:19.000 2023-08-03 13:58:19 +0800 INFO: no action. I am (pg-test-3), a secondary, and following a leader (pg-test-1)</div>
<div class="log" style="top:126.1px;left:8.75px"><i style="background:#7ebc7e;left:-3.400px"></i>&gt; 2023-08-03 13:58:19.000 2023-08-03 13:58:19 +0800 INFO: no action. I am (pg-test-2), a secondary, and following a leader (pg-test-1)</div>
<div class="log" style="top:137.56px;left:8.75px"><i style="background:#7ebc7e;left:-3.400px"></i>&gt; 2023-08-03 13:58:19.000 2023-08-03 13:58:19 +0800 INFO: no action. I am (pg-test-1), the leader with the lock</div>
<div class="log" style="top:149.02px;left:8.75px"><i style="background:#7ebc7e;left:-3.400px"></i>&gt; 2023-08-03 13:58:09.000 2023-08-03 13:58:09 +0800 INFO: no action. I am (pg-test-4), a secondary, and following a leader (pg-test-1)</div>
<div class="log" style="top:160.47px;left:8.75px"><i style="background:#7ebc7e;left:-3.400px"></i>&gt; 2023-08-03 13:58:09.000 2023-08-03 13:58:09 +0800 INFO: no action. I am (pg-test-3), a secondary, and following a leader (pg-test-1)</div>
<div class="log" style="top:171.93px;left:8.75px"><i style="background:#7ebc7e;left:-3.400px"></i>&gt; 2023-08-03 13:58:09.000 2023-08-03 13:58:09 +0800 INFO: no action. I am (pg-test-2), a secondary, and following a leader (pg-test-1)</div>
<div class="log" style="top:183.38px;left:8.75px"><i style="background:#7ebc7e;left:-3.400px"></i>&gt; 2023-08-03 13:58:09.000 2023-08-03 13:58:09 +0800 INFO: no action. I am (pg-test-1), the leader with the lock</div>
<div class="log" style="top:194.84px;left:8.75px"><i style="background:#7ebc7e;left:-3.400px"></i>&gt; 2023-08-03 13:57:59.000 2023-08-03 13:57:59 +0800 INFO: no action. I am (pg-test-4), a secondary, and following a leader (pg-test-1)</div>
<div class="log" style="top:206.3px;left:8.75px"><i style="background:#7ebc7e;left:-3.400px"></i>&gt; 2023-08-03 13:57:59.000 2023-08-03 13:57:59 +0800 INFO: no action. I am (pg-test-3), a secondary, and following a leader (pg-test-1)</div>
<div class="log" style="top:217.75px;left:8.75px"><i style="background:#7ebc7e;left:-3.400px"></i>&gt; 2023-08-03 13:57:59.000 2023-08-03 13:57:59 +0800 INFO: no action. I am (pg-test-2), a secondary, and following a leader (pg-test-1)</div>
<div class="log" style="top:229.21px;left:8.75px"><i style="background:#7ebc7e;left:-3.400px"></i>&gt; 2023-08-03 13:57:59.000 2023-08-03 13:57:59 +0800 INFO: no action. I am (pg-test-1), the leader with the lock</div>
<div class="log" style="top:240.66px;left:8.75px"><i style="background:#dedfe0;left:-3.400px"></i>&gt; 2023-08-03 13:57:58.127 2023-08-03 13:57:57.960 HKT [678] LOG stats: 660 xacts/s, 660 queries/s, in 41544 B/s, out 87225 B/s, xact 597 us, query 597 us, wait 5 us</div>
</div>
</body></html>
